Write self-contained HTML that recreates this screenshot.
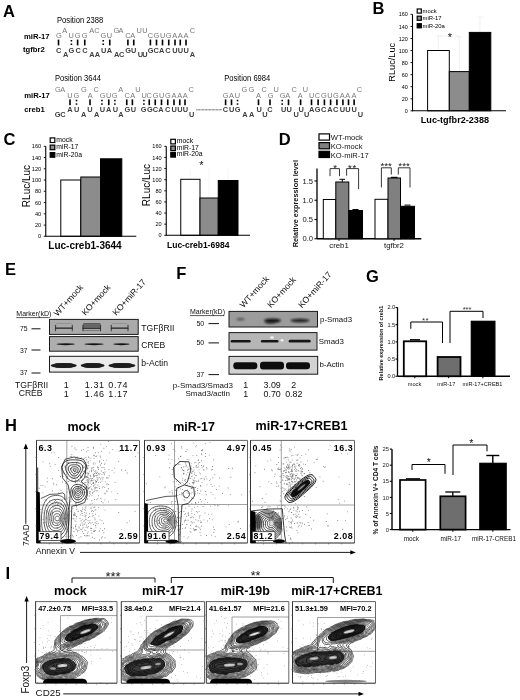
<!DOCTYPE html>
<html><head><meta charset="utf-8"><title>Figure</title>
<style>html,body{margin:0;padding:0;background:#fff;}svg{display:block;}
text{font-family:"Liberation Sans",Arial,Helvetica,sans-serif;}</style></head>
<body><svg width="520" height="700" viewBox="0 0 520 700">
<rect width="520" height="700" fill="#fff"/>
<defs><filter id="b05" x="-50%" y="-50%" width="200%" height="200%"><feGaussianBlur stdDeviation="0.5"/></filter>
<filter id="b03" x="-10%" y="-10%" width="120%" height="120%"><feGaussianBlur stdDeviation="0.3"/></filter>
<filter id="b1" x="-50%" y="-50%" width="200%" height="200%"><feGaussianBlur stdDeviation="1"/></filter></defs>
<text x="3" y="16.6" font-size="16.5" font-weight="bold">A</text>
<text x="57" y="22.5" font-size="8.6" textLength="46.2" lengthAdjust="spacingAndGlyphs">Position 2388</text>
<text x="24" y="38.6" font-size="7.7" font-weight="bold">miR-17</text>
<text x="23" y="52.2" font-size="7.7" font-weight="bold">tgfbr2</text>
<text x="55" y="80.6" font-size="8.6" textLength="46" lengthAdjust="spacingAndGlyphs">Position 3644</text>
<text x="224.3" y="80.6" font-size="8.6" textLength="46" lengthAdjust="spacingAndGlyphs">Position 6984</text>
<text x="24.2" y="98.4" font-size="7.7" font-weight="bold">miR-17</text>
<text x="24.2" y="111.8" font-size="7.7" font-weight="bold">creb1</text>
<text x="56.1" y="38.4" font-size="7.4" fill="#777">G</text>
<text x="62.3" y="33" font-size="7.4" fill="#777">A</text>
<text x="68.6" y="38.4" font-size="7.4" fill="#777">U</text>
<text x="74.8" y="38.4" font-size="7.4" fill="#777">G</text>
<text x="81.7" y="38.4" font-size="7.4" fill="#777">G</text>
<text x="89.2" y="33" font-size="7.4" fill="#777">A</text>
<text x="94.2" y="33" font-size="7.4" fill="#777">C</text>
<text x="100.45" y="38.4" font-size="7.4" fill="#777">G</text>
<text x="106.7" y="38.4" font-size="7.4" fill="#777">U</text>
<text x="113.45" y="33" font-size="7.4" fill="#777">G</text>
<text x="118.45" y="33" font-size="7.4" fill="#777">A</text>
<text x="125.3" y="38.4" font-size="7.4" fill="#777">C</text>
<text x="130.3" y="38.4" font-size="7.4" fill="#777">A</text>
<text x="136.6" y="33" font-size="7.4" fill="#777">U</text>
<text x="142.2" y="33" font-size="7.4" fill="#777">U</text>
<text x="147.8" y="38.4" font-size="7.4" fill="#777">C</text>
<text x="153.45" y="38.4" font-size="7.4" fill="#777">G</text>
<text x="160" y="38.4" font-size="7.4" fill="#777">U</text>
<text x="165.7" y="38.4" font-size="7.4" fill="#777">G</text>
<text x="172.2" y="38.4" font-size="7.4" fill="#777">A</text>
<text x="177.7" y="38.4" font-size="7.4" fill="#777">A</text>
<text x="183.45" y="38.4" font-size="7.4" fill="#777">A</text>
<text x="189.7" y="33" font-size="7.4" fill="#777">C</text>
<text x="56.1" y="52.6" font-size="7.4" font-weight="bold" fill="#404040">C</text>
<text x="62.95" y="57" font-size="7.4" font-weight="bold" fill="#404040">A</text>
<text x="68.6" y="52.6" font-size="7.4" font-weight="bold" fill="#404040">G</text>
<text x="75.45" y="52.6" font-size="7.4" font-weight="bold" fill="#404040">C</text>
<text x="82.3" y="52.6" font-size="7.4" font-weight="bold" fill="#404040">C</text>
<text x="89.2" y="57" font-size="7.4" font-weight="bold" fill="#404040">A</text>
<text x="94.7" y="57" font-size="7.4" font-weight="bold" fill="#404040">A</text>
<text x="101.1" y="52.6" font-size="7.4" font-weight="bold" fill="#404040">U</text>
<text x="106.7" y="52.6" font-size="7.4" font-weight="bold" fill="#404040">A</text>
<text x="114.1" y="57" font-size="7.4" font-weight="bold" fill="#404040">A</text>
<text x="119.1" y="57" font-size="7.4" font-weight="bold" fill="#404040">C</text>
<text x="125.3" y="52.6" font-size="7.4" font-weight="bold" fill="#404040">G</text>
<text x="130.95" y="52.6" font-size="7.4" font-weight="bold" fill="#404040">U</text>
<text x="137.7" y="57" font-size="7.4" font-weight="bold" fill="#404040">U</text>
<text x="142.2" y="57" font-size="7.4" font-weight="bold" fill="#404040">U</text>
<text x="147.7" y="52.6" font-size="7.4" font-weight="bold" fill="#404040">G</text>
<text x="153.45" y="52.6" font-size="7.4" font-weight="bold" fill="#404040">C</text>
<text x="159.1" y="52.6" font-size="7.4" font-weight="bold" fill="#404040">A</text>
<text x="165.3" y="52.6" font-size="7.4" font-weight="bold" fill="#404040">C</text>
<text x="172.2" y="52.6" font-size="7.4" font-weight="bold" fill="#404040">U</text>
<text x="177.7" y="52.6" font-size="7.4" font-weight="bold" fill="#404040">U</text>
<text x="183.45" y="52.6" font-size="7.4" font-weight="bold" fill="#404040">U</text>
<text x="189.7" y="57" font-size="7.4" font-weight="bold" fill="#404040">A</text>
<rect x="57.7" y="39.6" width="1.6" height="5.8" fill="#000" stroke="none" stroke-width="1"/>
<rect x="70.6" y="40" width="1.6" height="1.5" fill="#000" stroke="none" stroke-width="1"/>
<rect x="70.6" y="43.5" width="1.6" height="1.5" fill="#000" stroke="none" stroke-width="1"/>
<rect x="76.8" y="39.6" width="1.6" height="5.8" fill="#000" stroke="none" stroke-width="1"/>
<rect x="83.95" y="39.6" width="1.6" height="5.8" fill="#000" stroke="none" stroke-width="1"/>
<rect x="102.45" y="40" width="1.6" height="1.5" fill="#000" stroke="none" stroke-width="1"/>
<rect x="102.45" y="43.5" width="1.6" height="1.5" fill="#000" stroke="none" stroke-width="1"/>
<rect x="108.95" y="39.6" width="1.6" height="5.8" fill="#000" stroke="none" stroke-width="1"/>
<rect x="127.1" y="39.6" width="1.6" height="5.8" fill="#000" stroke="none" stroke-width="1"/>
<rect x="132.95" y="39.6" width="1.6" height="5.8" fill="#000" stroke="none" stroke-width="1"/>
<rect x="149.6" y="39.6" width="1.6" height="5.8" fill="#000" stroke="none" stroke-width="1"/>
<rect x="155.7" y="39.6" width="1.6" height="5.8" fill="#000" stroke="none" stroke-width="1"/>
<rect x="161.7" y="39.6" width="1.6" height="5.8" fill="#000" stroke="none" stroke-width="1"/>
<rect x="167.95" y="39.6" width="1.6" height="5.8" fill="#000" stroke="none" stroke-width="1"/>
<rect x="174.2" y="39.6" width="1.6" height="5.8" fill="#000" stroke="none" stroke-width="1"/>
<rect x="179.45" y="39.6" width="1.6" height="5.8" fill="#000" stroke="none" stroke-width="1"/>
<rect x="185.2" y="39.6" width="1.6" height="5.8" fill="#000" stroke="none" stroke-width="1"/>
<text x="54.95" y="92.2" font-size="7.4" fill="#7a7a7a">G</text>
<text x="60.3" y="92.2" font-size="7.4" fill="#7a7a7a">A</text>
<text x="67.2" y="97.6" font-size="7.4" fill="#7a7a7a">U</text>
<text x="73.45" y="97.6" font-size="7.4" fill="#7a7a7a">G</text>
<text x="80.95" y="92.2" font-size="7.4" fill="#7a7a7a">G</text>
<text x="87.7" y="97.6" font-size="7.4" fill="#7a7a7a">A</text>
<text x="93.45" y="92.2" font-size="7.4" fill="#7a7a7a">C</text>
<text x="99.7" y="97.6" font-size="7.4" fill="#7a7a7a">G</text>
<text x="105.95" y="97.6" font-size="7.4" fill="#7a7a7a">U</text>
<text x="111.7" y="97.6" font-size="7.4" fill="#7a7a7a">G</text>
<text x="118.3" y="92.2" font-size="7.4" fill="#7a7a7a">A</text>
<text x="124.6" y="97.6" font-size="7.4" fill="#7a7a7a">C</text>
<text x="130.2" y="97.6" font-size="7.4" fill="#7a7a7a">A</text>
<text x="135.2" y="92.2" font-size="7.4" fill="#7a7a7a">U</text>
<text x="141.45" y="97.6" font-size="7.4" fill="#7a7a7a">U</text>
<text x="146.45" y="97.6" font-size="7.4" fill="#7a7a7a">C</text>
<text x="152.7" y="97.6" font-size="7.4" fill="#7a7a7a">G</text>
<text x="158.95" y="97.6" font-size="7.4" fill="#7a7a7a">U</text>
<text x="164.9" y="97.6" font-size="7.4" fill="#7a7a7a">G</text>
<text x="171.6" y="97.6" font-size="7.4" fill="#7a7a7a">A</text>
<text x="177.2" y="97.6" font-size="7.4" fill="#7a7a7a">A</text>
<text x="182.8" y="97.6" font-size="7.4" fill="#7a7a7a">A</text>
<text x="188.45" y="92.2" font-size="7.4" fill="#7a7a7a">C</text>
<text x="54.7" y="117.4" font-size="7.4" font-weight="bold" fill="#404040">G</text>
<text x="60.3" y="117.4" font-size="7.4" font-weight="bold" fill="#404040">C</text>
<text x="67.2" y="112" font-size="7.4" font-weight="bold" fill="#404040">A</text>
<text x="74.1" y="112" font-size="7.4" font-weight="bold" fill="#404040">U</text>
<text x="80.95" y="117.4" font-size="7.4" font-weight="bold" fill="#404040">A</text>
<text x="87.2" y="112" font-size="7.4" font-weight="bold" fill="#404040">U</text>
<text x="94.1" y="117.4" font-size="7.4" font-weight="bold" fill="#404040">A</text>
<text x="99.7" y="112" font-size="7.4" font-weight="bold" fill="#404040">U</text>
<text x="105.95" y="112" font-size="7.4" font-weight="bold" fill="#404040">A</text>
<text x="112.7" y="112" font-size="7.4" font-weight="bold" fill="#404040">U</text>
<text x="118.3" y="117.4" font-size="7.4" font-weight="bold" fill="#404040">A</text>
<text x="124.6" y="112" font-size="7.4" font-weight="bold" fill="#404040">G</text>
<text x="130.7" y="112" font-size="7.4" font-weight="bold" fill="#404040">U</text>
<text x="140.7" y="112" font-size="7.4" font-weight="bold" fill="#404040">G</text>
<text x="147.1" y="112" font-size="7.4" font-weight="bold" fill="#404040">G</text>
<text x="152.7" y="112" font-size="7.4" font-weight="bold" fill="#404040">C</text>
<text x="158.3" y="112" font-size="7.4" font-weight="bold" fill="#404040">A</text>
<text x="164.9" y="112" font-size="7.4" font-weight="bold" fill="#404040">C</text>
<text x="171.6" y="112" font-size="7.4" font-weight="bold" fill="#404040">U</text>
<text x="177.2" y="112" font-size="7.4" font-weight="bold" fill="#404040">U</text>
<text x="182.8" y="112" font-size="7.4" font-weight="bold" fill="#404040">U</text>
<text x="189.1" y="117.4" font-size="7.4" font-weight="bold" fill="#404040">U</text>
<rect x="69.2" y="99.4" width="1.6" height="5.8" fill="#000" stroke="none" stroke-width="1"/>
<rect x="75.7" y="99.8" width="1.6" height="1.5" fill="#000" stroke="none" stroke-width="1"/>
<rect x="75.7" y="103.3" width="1.6" height="1.5" fill="#000" stroke="none" stroke-width="1"/>
<rect x="89.2" y="99.4" width="1.6" height="5.8" fill="#000" stroke="none" stroke-width="1"/>
<rect x="101.1" y="99.8" width="1.6" height="1.5" fill="#000" stroke="none" stroke-width="1"/>
<rect x="101.1" y="103.3" width="1.6" height="1.5" fill="#000" stroke="none" stroke-width="1"/>
<rect x="107.95" y="99.4" width="1.6" height="5.8" fill="#000" stroke="none" stroke-width="1"/>
<rect x="114.1" y="99.8" width="1.6" height="1.5" fill="#000" stroke="none" stroke-width="1"/>
<rect x="114.1" y="103.3" width="1.6" height="1.5" fill="#000" stroke="none" stroke-width="1"/>
<rect x="125.95" y="99.4" width="1.6" height="5.8" fill="#000" stroke="none" stroke-width="1"/>
<rect x="131.6" y="99.4" width="1.6" height="5.8" fill="#000" stroke="none" stroke-width="1"/>
<rect x="143.1" y="99.8" width="1.6" height="1.5" fill="#000" stroke="none" stroke-width="1"/>
<rect x="143.1" y="103.3" width="1.6" height="1.5" fill="#000" stroke="none" stroke-width="1"/>
<rect x="148.45" y="99.4" width="1.6" height="5.8" fill="#000" stroke="none" stroke-width="1"/>
<rect x="154.45" y="99.4" width="1.6" height="5.8" fill="#000" stroke="none" stroke-width="1"/>
<rect x="160.7" y="99.4" width="1.6" height="5.8" fill="#000" stroke="none" stroke-width="1"/>
<rect x="166.95" y="99.4" width="1.6" height="5.8" fill="#000" stroke="none" stroke-width="1"/>
<rect x="173.2" y="99.4" width="1.6" height="5.8" fill="#000" stroke="none" stroke-width="1"/>
<rect x="178.95" y="99.4" width="1.6" height="5.8" fill="#000" stroke="none" stroke-width="1"/>
<rect x="184.2" y="99.4" width="1.6" height="5.8" fill="#000" stroke="none" stroke-width="1"/>
<text x="222.8" y="97.6" font-size="7.4" fill="#7a7a7a">G</text>
<text x="229.1" y="97.6" font-size="7.4" fill="#7a7a7a">A</text>
<text x="234.7" y="97.6" font-size="7.4" fill="#7a7a7a">U</text>
<text x="241.6" y="92.2" font-size="7.4" fill="#7a7a7a">G</text>
<text x="248.45" y="92.2" font-size="7.4" fill="#7a7a7a">G</text>
<text x="255.95" y="97.6" font-size="7.4" fill="#7a7a7a">A</text>
<text x="261.6" y="92.2" font-size="7.4" fill="#7a7a7a">C</text>
<text x="267.8" y="97.6" font-size="7.4" fill="#7a7a7a">G</text>
<text x="273.45" y="92.2" font-size="7.4" fill="#7a7a7a">U</text>
<text x="279.7" y="97.6" font-size="7.4" fill="#7a7a7a">G</text>
<text x="285.3" y="97.6" font-size="7.4" fill="#7a7a7a">A</text>
<text x="291.6" y="92.2" font-size="7.4" fill="#7a7a7a">C</text>
<text x="297.8" y="97.6" font-size="7.4" fill="#7a7a7a">A</text>
<text x="302.8" y="92.2" font-size="7.4" fill="#7a7a7a">U</text>
<text x="309.1" y="97.6" font-size="7.4" fill="#7a7a7a">U</text>
<text x="314.7" y="97.6" font-size="7.4" fill="#7a7a7a">C</text>
<text x="320.95" y="97.6" font-size="7.4" fill="#7a7a7a">G</text>
<text x="327.2" y="97.6" font-size="7.4" fill="#7a7a7a">U</text>
<text x="333.1" y="97.6" font-size="7.4" fill="#7a7a7a">G</text>
<text x="339.7" y="97.6" font-size="7.4" fill="#7a7a7a">A</text>
<text x="345.3" y="97.6" font-size="7.4" fill="#7a7a7a">A</text>
<text x="351.6" y="97.6" font-size="7.4" fill="#7a7a7a">A</text>
<text x="356.7" y="92.2" font-size="7.4" fill="#7a7a7a">C</text>
<text x="222.8" y="112" font-size="7.4" font-weight="bold" fill="#404040">C</text>
<text x="229.1" y="112" font-size="7.4" font-weight="bold" fill="#404040">U</text>
<text x="234.7" y="112" font-size="7.4" font-weight="bold" fill="#404040">G</text>
<text x="242.2" y="117.4" font-size="7.4" font-weight="bold" fill="#404040">A</text>
<text x="249.1" y="117.4" font-size="7.4" font-weight="bold" fill="#404040">A</text>
<text x="256.6" y="112" font-size="7.4" font-weight="bold" fill="#404040">U</text>
<text x="262.2" y="117.4" font-size="7.4" font-weight="bold" fill="#404040">U</text>
<text x="267.2" y="112" font-size="7.4" font-weight="bold" fill="#404040">C</text>
<text x="280.95" y="112" font-size="7.4" font-weight="bold" fill="#404040">U</text>
<text x="286.6" y="112" font-size="7.4" font-weight="bold" fill="#404040">U</text>
<text x="293.45" y="117.4" font-size="7.4" font-weight="bold" fill="#404040">U</text>
<text x="298.45" y="112" font-size="7.4" font-weight="bold" fill="#404040">U</text>
<text x="304.1" y="117.4" font-size="7.4" font-weight="bold" fill="#404040">U</text>
<text x="309.1" y="112" font-size="7.4" font-weight="bold" fill="#404040">A</text>
<text x="314.7" y="112" font-size="7.4" font-weight="bold" fill="#404040">G</text>
<text x="320.95" y="112" font-size="7.4" font-weight="bold" fill="#404040">C</text>
<text x="327.2" y="112" font-size="7.4" font-weight="bold" fill="#404040">A</text>
<text x="333.1" y="112" font-size="7.4" font-weight="bold" fill="#404040">C</text>
<text x="339.7" y="112" font-size="7.4" font-weight="bold" fill="#404040">U</text>
<text x="345.3" y="112" font-size="7.4" font-weight="bold" fill="#404040">U</text>
<text x="351.6" y="112" font-size="7.4" font-weight="bold" fill="#404040">U</text>
<text x="357.8" y="117.4" font-size="7.4" font-weight="bold" fill="#404040">U</text>
<rect x="224.8" y="99.4" width="1.6" height="5.8" fill="#000" stroke="none" stroke-width="1"/>
<rect x="230.7" y="99.4" width="1.6" height="5.8" fill="#000" stroke="none" stroke-width="1"/>
<rect x="236.7" y="99.8" width="1.6" height="1.5" fill="#000" stroke="none" stroke-width="1"/>
<rect x="236.7" y="103.3" width="1.6" height="1.5" fill="#000" stroke="none" stroke-width="1"/>
<rect x="257.7" y="99.4" width="1.6" height="5.8" fill="#000" stroke="none" stroke-width="1"/>
<rect x="269.2" y="99.4" width="1.6" height="5.8" fill="#000" stroke="none" stroke-width="1"/>
<rect x="281.4" y="99.8" width="1.6" height="1.5" fill="#000" stroke="none" stroke-width="1"/>
<rect x="281.4" y="103.3" width="1.6" height="1.5" fill="#000" stroke="none" stroke-width="1"/>
<rect x="287.7" y="99.4" width="1.6" height="5.8" fill="#000" stroke="none" stroke-width="1"/>
<rect x="299.8" y="99.4" width="1.6" height="5.8" fill="#000" stroke="none" stroke-width="1"/>
<rect x="310.7" y="99.4" width="1.6" height="5.8" fill="#000" stroke="none" stroke-width="1"/>
<rect x="317.3" y="99.4" width="1.6" height="5.8" fill="#000" stroke="none" stroke-width="1"/>
<rect x="323.6" y="99.4" width="1.6" height="5.8" fill="#000" stroke="none" stroke-width="1"/>
<rect x="329.8" y="99.4" width="1.6" height="5.8" fill="#000" stroke="none" stroke-width="1"/>
<rect x="336.1" y="99.4" width="1.6" height="5.8" fill="#000" stroke="none" stroke-width="1"/>
<rect x="342.1" y="99.4" width="1.6" height="5.8" fill="#000" stroke="none" stroke-width="1"/>
<rect x="347.7" y="99.4" width="1.6" height="5.8" fill="#000" stroke="none" stroke-width="1"/>
<rect x="353.3" y="99.4" width="1.6" height="5.8" fill="#000" stroke="none" stroke-width="1"/>
<line x1="196.3" y1="109.8" x2="222" y2="109.8" stroke="#555" stroke-width="1" stroke-dasharray="1 0.4"/>
<text x="372.5" y="13.8" font-size="16.5" font-weight="bold">B</text>
<line x1="438.4" y1="36" x2="438.4" y2="58" stroke="#e6e6e6" stroke-width="0.6"/>
<line x1="435.4" y1="36" x2="441.4" y2="36" stroke="#e6e6e6" stroke-width="0.6"/>
<line x1="459.3" y1="37" x2="459.3" y2="71" stroke="#e6e6e6" stroke-width="0.6"/>
<line x1="456.3" y1="37" x2="462.3" y2="37" stroke="#e6e6e6" stroke-width="0.6"/>
<line x1="480" y1="17" x2="480" y2="33" stroke="#e6e6e6" stroke-width="0.6"/>
<line x1="477" y1="17" x2="483" y2="17" stroke="#e6e6e6" stroke-width="0.6"/>
<line x1="438.4" y1="36" x2="459.3" y2="36" stroke="#e6e6e6" stroke-width="0.6"/>
<rect x="427.6" y="50.5" width="21.7" height="60.3" fill="#fff" stroke="#000" stroke-width="1"/>
<rect x="449.3" y="71.6" width="20" height="39.2" fill="#8c8c8c" stroke="#000" stroke-width="1"/>
<rect x="469.3" y="32.4" width="21.5" height="78.4" fill="#000" stroke="#000" stroke-width="1"/>
<line x1="412.5" y1="14.3" x2="412.5" y2="111.35" stroke="#000" stroke-width="1.1"/>
<line x1="410.5" y1="110.8" x2="412.5" y2="110.8" stroke="#000" stroke-width="0.88"/>
<text x="407.9" y="112.89" font-size="5.5" text-anchor="end">0</text>
<line x1="410.5" y1="98.75" x2="412.5" y2="98.75" stroke="#000" stroke-width="0.88"/>
<text x="407.9" y="100.84" font-size="5.5" text-anchor="end">20</text>
<line x1="410.5" y1="86.7" x2="412.5" y2="86.7" stroke="#000" stroke-width="0.88"/>
<text x="407.9" y="88.79" font-size="5.5" text-anchor="end">40</text>
<line x1="410.5" y1="74.65" x2="412.5" y2="74.65" stroke="#000" stroke-width="0.88"/>
<text x="407.9" y="76.74" font-size="5.5" text-anchor="end">60</text>
<line x1="410.5" y1="62.6" x2="412.5" y2="62.6" stroke="#000" stroke-width="0.88"/>
<text x="407.9" y="64.69" font-size="5.5" text-anchor="end">80</text>
<line x1="410.5" y1="50.55" x2="412.5" y2="50.55" stroke="#000" stroke-width="0.88"/>
<text x="407.9" y="52.64" font-size="5.5" text-anchor="end">100</text>
<line x1="410.5" y1="38.5" x2="412.5" y2="38.5" stroke="#000" stroke-width="0.88"/>
<text x="407.9" y="40.59" font-size="5.5" text-anchor="end">120</text>
<line x1="410.5" y1="26.45" x2="412.5" y2="26.45" stroke="#000" stroke-width="0.88"/>
<text x="407.9" y="28.54" font-size="5.5" text-anchor="end">140</text>
<line x1="410.5" y1="14.4" x2="412.5" y2="14.4" stroke="#000" stroke-width="0.88"/>
<text x="407.9" y="16.49" font-size="5.5" text-anchor="end">160</text>
<line x1="412.5" y1="110.8" x2="506" y2="110.8" stroke="#000" stroke-width="1.1"/>
<rect x="417.2" y="9" width="4.1" height="4.1" fill="#fff" stroke="#000" stroke-width="1.2"/>
<text x="422.6" y="12.8" font-size="5.9">mock</text>
<rect x="417.2" y="16.2" width="4.1" height="4.1" fill="#8c8c8c" stroke="#000" stroke-width="1.2"/>
<text x="422.6" y="20" font-size="5.9">miR-17</text>
<rect x="417.2" y="23.7" width="4.1" height="4.1" fill="#000" stroke="#000" stroke-width="1.2"/>
<text x="422.6" y="27.5" font-size="5.9">miR-20a</text>
<text x="450" y="40.85" font-size="11" fill="#111" text-anchor="middle">*</text>
<text transform="translate(395.4,62.3) rotate(-90)" font-size="9.2" fill="#000" text-anchor="middle">RLuc/Luc</text>
<text x="420.8" y="122.5" font-size="9.1" font-weight="bold">Luc-tgfbr2-2388</text>
<text x="3.5" y="145" font-size="16.5" font-weight="bold">C</text>
<rect x="60.8" y="180" width="20" height="56.3" fill="#fff" stroke="#000" stroke-width="1"/>
<rect x="80.8" y="177" width="19.7" height="59.3" fill="#8c8c8c" stroke="#000" stroke-width="1"/>
<rect x="100.5" y="158.8" width="21.3" height="77.5" fill="#000" stroke="#000" stroke-width="1"/>
<line x1="45.75" y1="146.2" x2="45.75" y2="236.85" stroke="#000" stroke-width="1.1"/>
<line x1="43.75" y1="236.3" x2="45.75" y2="236.3" stroke="#000" stroke-width="0.88"/>
<text x="41.15" y="238.43" font-size="5.6" text-anchor="end">0</text>
<line x1="43.75" y1="225.05" x2="45.75" y2="225.05" stroke="#000" stroke-width="0.88"/>
<text x="41.15" y="227.18" font-size="5.6" text-anchor="end">20</text>
<line x1="43.75" y1="213.8" x2="45.75" y2="213.8" stroke="#000" stroke-width="0.88"/>
<text x="41.15" y="215.93" font-size="5.6" text-anchor="end">40</text>
<line x1="43.75" y1="202.55" x2="45.75" y2="202.55" stroke="#000" stroke-width="0.88"/>
<text x="41.15" y="204.68" font-size="5.6" text-anchor="end">60</text>
<line x1="43.75" y1="191.3" x2="45.75" y2="191.3" stroke="#000" stroke-width="0.88"/>
<text x="41.15" y="193.43" font-size="5.6" text-anchor="end">80</text>
<line x1="43.75" y1="180.05" x2="45.75" y2="180.05" stroke="#000" stroke-width="0.88"/>
<text x="41.15" y="182.18" font-size="5.6" text-anchor="end">100</text>
<line x1="43.75" y1="168.8" x2="45.75" y2="168.8" stroke="#000" stroke-width="0.88"/>
<text x="41.15" y="170.93" font-size="5.6" text-anchor="end">120</text>
<line x1="43.75" y1="157.55" x2="45.75" y2="157.55" stroke="#000" stroke-width="0.88"/>
<text x="41.15" y="159.68" font-size="5.6" text-anchor="end">140</text>
<line x1="43.75" y1="146.3" x2="45.75" y2="146.3" stroke="#000" stroke-width="0.88"/>
<text x="41.15" y="148.43" font-size="5.6" text-anchor="end">160</text>
<line x1="45.75" y1="236.3" x2="136.3" y2="236.3" stroke="#000" stroke-width="1.1"/>
<rect x="50.2" y="137.9" width="4.6" height="4.6" fill="#fff" stroke="#000" stroke-width="1.2"/>
<text x="56.3" y="141.8" font-size="6.8">mock</text>
<rect x="50.2" y="145.1" width="4.6" height="4.6" fill="#8c8c8c" stroke="#000" stroke-width="1.2"/>
<text x="56.3" y="149" font-size="6.8">miR-17</text>
<rect x="50.2" y="152.6" width="4.6" height="4.6" fill="#000" stroke="#000" stroke-width="1.2"/>
<text x="56.3" y="156.5" font-size="6.8">miR-20a</text>
<text transform="translate(29.6,186) rotate(-90)" font-size="10" fill="#000" text-anchor="middle">RLuc/Luc</text>
<text x="48.3" y="249.3" font-size="10" font-weight="bold">Luc-creb1-3644</text>
<line x1="190.3" y1="170" x2="190.3" y2="180" stroke="#efefef" stroke-width="0.6"/>
<line x1="209" y1="168" x2="209" y2="198" stroke="#efefef" stroke-width="0.6"/>
<line x1="228" y1="168" x2="228" y2="181" stroke="#efefef" stroke-width="0.6"/>
<rect x="180.75" y="179.3" width="19.25" height="56" fill="#fff" stroke="#000" stroke-width="1"/>
<rect x="200" y="198" width="18.25" height="37.3" fill="#8c8c8c" stroke="#000" stroke-width="1"/>
<rect x="218.25" y="180.5" width="19.75" height="54.8" fill="#000" stroke="#000" stroke-width="1"/>
<line x1="166.25" y1="146.2" x2="166.25" y2="235.85" stroke="#000" stroke-width="1.1"/>
<line x1="164.25" y1="235.3" x2="166.25" y2="235.3" stroke="#000" stroke-width="0.88"/>
<text x="161.65" y="237.43" font-size="5.6" text-anchor="end">0</text>
<line x1="164.25" y1="224.18" x2="166.25" y2="224.18" stroke="#000" stroke-width="0.88"/>
<text x="161.65" y="226.3" font-size="5.6" text-anchor="end">20</text>
<line x1="164.25" y1="213.05" x2="166.25" y2="213.05" stroke="#000" stroke-width="0.88"/>
<text x="161.65" y="215.18" font-size="5.6" text-anchor="end">40</text>
<line x1="164.25" y1="201.93" x2="166.25" y2="201.93" stroke="#000" stroke-width="0.88"/>
<text x="161.65" y="204.05" font-size="5.6" text-anchor="end">60</text>
<line x1="164.25" y1="190.8" x2="166.25" y2="190.8" stroke="#000" stroke-width="0.88"/>
<text x="161.65" y="192.93" font-size="5.6" text-anchor="end">80</text>
<line x1="164.25" y1="179.68" x2="166.25" y2="179.68" stroke="#000" stroke-width="0.88"/>
<text x="161.65" y="181.8" font-size="5.6" text-anchor="end">100</text>
<line x1="164.25" y1="168.55" x2="166.25" y2="168.55" stroke="#000" stroke-width="0.88"/>
<text x="161.65" y="170.68" font-size="5.6" text-anchor="end">120</text>
<line x1="164.25" y1="157.43" x2="166.25" y2="157.43" stroke="#000" stroke-width="0.88"/>
<text x="161.65" y="159.55" font-size="5.6" text-anchor="end">140</text>
<line x1="164.25" y1="146.3" x2="166.25" y2="146.3" stroke="#000" stroke-width="0.88"/>
<text x="161.65" y="148.43" font-size="5.6" text-anchor="end">160</text>
<line x1="166.25" y1="235.3" x2="250" y2="235.3" stroke="#000" stroke-width="1.1"/>
<rect x="170.8" y="139.3" width="4.6" height="4.6" fill="#fff" stroke="#000" stroke-width="1.2"/>
<text x="176.8" y="143.2" font-size="6.8">mock</text>
<rect x="170.8" y="146" width="4.6" height="4.6" fill="#8c8c8c" stroke="#000" stroke-width="1.2"/>
<text x="176.8" y="149.9" font-size="6.8">miR-17</text>
<rect x="170.8" y="152.5" width="4.6" height="4.6" fill="#000" stroke="#000" stroke-width="1.2"/>
<text x="176.8" y="156.4" font-size="6.8">miR-20a</text>
<text x="201.4" y="169.15" font-size="11" fill="#111" text-anchor="middle">*</text>
<text transform="translate(149.6,185) rotate(-90)" font-size="10" fill="#000" text-anchor="middle">RLuc/Luc</text>
<text x="167" y="247.5" font-size="8.5" font-weight="bold">Luc-creb1-6984</text>
<text x="278.7" y="145" font-size="16.5" font-weight="bold">D</text>
<rect x="319" y="133.9" width="10.5" height="6.2" fill="#fff" stroke="#000" stroke-width="1.2"/>
<text x="330.8" y="140.1" font-size="7.6" fill="#111">WT-mock</text>
<rect x="319" y="142.6" width="10.5" height="6.2" fill="#808080" stroke="#000" stroke-width="1.2"/>
<text x="330.8" y="148.8" font-size="7.6" fill="#111">KO-mock</text>
<rect x="319" y="151.3" width="10.5" height="6.2" fill="#000" stroke="#000" stroke-width="1.2"/>
<text x="330.8" y="157.8" font-size="7.6" fill="#111">KO-miR-17</text>
<line x1="317" y1="168.5" x2="317" y2="238.75" stroke="#000" stroke-width="1.3"/>
<line x1="314.5" y1="238.75" x2="317" y2="238.75" stroke="#000" stroke-width="1.1"/>
<text x="313" y="241.45" font-size="7.6" fill="#111" text-anchor="end">0.0</text>
<line x1="314.5" y1="219.5" x2="317" y2="219.5" stroke="#000" stroke-width="1.1"/>
<text x="313" y="222.2" font-size="7.6" fill="#111" text-anchor="end">0.5</text>
<line x1="314.5" y1="200.25" x2="317" y2="200.25" stroke="#000" stroke-width="1.1"/>
<text x="313" y="202.95" font-size="7.6" fill="#111" text-anchor="end">1.0</text>
<line x1="314.5" y1="181" x2="317" y2="181" stroke="#000" stroke-width="1.1"/>
<text x="313" y="183.7" font-size="7.6" fill="#111" text-anchor="end">1.5</text>
<line x1="317" y1="238.75" x2="421.3" y2="238.75" stroke="#000" stroke-width="1.3"/>
<line x1="339" y1="238.75" x2="339" y2="240.95" stroke="#000" stroke-width="1"/>
<line x1="394" y1="238.75" x2="394" y2="240.95" stroke="#000" stroke-width="1"/>
<rect x="323.3" y="199.5" width="12.5" height="39.25" fill="#fff" stroke="#000" stroke-width="1"/>
<line x1="342.3" y1="179.3" x2="342.3" y2="182" stroke="#000" stroke-width="1"/>
<line x1="339.5" y1="179.3" x2="345" y2="179.3" stroke="#000" stroke-width="1"/>
<rect x="335.8" y="182" width="13" height="56.75" fill="#808080" stroke="#000" stroke-width="1"/>
<rect x="348.8" y="210.5" width="13.7" height="28.25" fill="#000" stroke="#000" stroke-width="1"/>
<line x1="352.5" y1="209.5" x2="358.5" y2="209.5" stroke="#000" stroke-width="1"/>
<rect x="375" y="199.3" width="13" height="39.45" fill="#fff" stroke="#000" stroke-width="1"/>
<rect x="388" y="178" width="12.5" height="60.75" fill="#808080" stroke="#000" stroke-width="1"/>
<line x1="391" y1="177.4" x2="397.5" y2="177.4" stroke="#000" stroke-width="1.2"/>
<rect x="400.5" y="206.3" width="14" height="32.45" fill="#000" stroke="#000" stroke-width="1"/>
<line x1="404.5" y1="205.1" x2="410.5" y2="205.1" stroke="#000" stroke-width="1"/>
<polyline points="330,176.1 330,168.6 339.5,168.6 339.5,176.1" fill="none" stroke="#222" stroke-width="0.9"/>
<polyline points="346.6,175.7 346.6,168.6 358.6,168.6 358.6,189.1" fill="none" stroke="#222" stroke-width="0.9"/>
<polyline points="381.4,187.5 381.4,167.8 391.3,167.8 391.3,174.5" fill="none" stroke="#222" stroke-width="0.9"/>
<polyline points="398.3,174.5 398.3,167.8 410,167.8 410,187.5" fill="none" stroke="#222" stroke-width="0.9"/>
<text x="335.2" y="171.03" font-size="9.5" fill="#111" text-anchor="middle">*</text>
<text x="352.5" y="171.03" font-size="9.5" fill="#111" text-anchor="middle" letter-spacing="0.8">**</text>
<text x="386.2" y="168.79" font-size="9.8" fill="#111" text-anchor="middle">***</text>
<text x="404.1" y="168.79" font-size="9.8" fill="#111" text-anchor="middle">***</text>
<text x="339" y="247.8" font-size="7.8" fill="#111" text-anchor="middle">creb1</text>
<text x="394" y="247.8" font-size="7.8" fill="#111" text-anchor="middle">tgfbr2</text>
<text transform="translate(297.6,203.7) rotate(-90)" font-size="7.35" font-weight="bold" fill="#111" text-anchor="middle">Relative expression level</text>
<text x="5" y="275" font-size="16.5" font-weight="bold">E</text>
<text x="16.3" y="315.8" font-size="7" fill="#111">Marker(kD)</text>
<line x1="16.3" y1="317.6" x2="48.8" y2="317.6" stroke="#111" stroke-width="0.7"/>
<text transform="translate(57.5,316.8) rotate(-48)" font-size="8.6" fill="#111" text-anchor="start">WT+mock</text>
<text transform="translate(85.5,316) rotate(-48)" font-size="8.6" fill="#111" text-anchor="start">KO+mock</text>
<text transform="translate(116.3,316) rotate(-48)" font-size="8.6" fill="#111" text-anchor="start">KO+miR-17</text>
<rect x="49.5" y="319.4" width="88.7" height="15" fill="#aaaaaa" stroke="#1a1a1a" stroke-width="1"/>
<rect x="55" y="327.4" width="17.8" height="1.4" rx="0.5" fill="#111" opacity="0.9" filter="url(#b03)"/>
<rect x="55.89" y="323.2" width="16.02" height="0.8" rx="0.5" fill="#444" opacity="0.315" filter="url(#b03)"/>
<rect x="54.95" y="324.75" width="1.1" height="6.5" rx="0.5" fill="#222" opacity="0.7200000000000001" filter="url(#b03)"/>
<rect x="71.75" y="324.75" width="1.1" height="6.5" rx="0.5" fill="#222" opacity="0.7200000000000001" filter="url(#b03)"/>
<rect x="82.5" y="327.4" width="18.5" height="1.4" rx="0.5" fill="#111" opacity="1.0" filter="url(#b03)"/>
<rect x="83.42" y="323.2" width="16.65" height="0.8" rx="0.5" fill="#444" opacity="0.35" filter="url(#b03)"/>
<rect x="82.45" y="324.75" width="1.1" height="6.5" rx="0.5" fill="#222" opacity="0.8" filter="url(#b03)"/>
<rect x="99.95" y="324.75" width="1.1" height="6.5" rx="0.5" fill="#222" opacity="0.8" filter="url(#b03)"/>
<rect x="110.8" y="327.4" width="17.7" height="1.4" rx="0.5" fill="#111" opacity="0.9" filter="url(#b03)"/>
<rect x="111.69" y="323.2" width="15.93" height="0.8" rx="0.5" fill="#444" opacity="0.315" filter="url(#b03)"/>
<rect x="110.75" y="324.75" width="1.1" height="6.5" rx="0.5" fill="#222" opacity="0.7200000000000001" filter="url(#b03)"/>
<rect x="127.45" y="324.75" width="1.1" height="6.5" rx="0.5" fill="#222" opacity="0.7200000000000001" filter="url(#b03)"/>
<rect x="83.05" y="322.9" width="17.5" height="4" rx="0.5" fill="#333" opacity="0.55" filter="url(#b05)"/>
<rect x="83.8" y="329.9" width="16" height="1" rx="0.5" fill="#333" opacity="0.4" filter="url(#b05)"/>
<rect x="49.5" y="336.6" width="88.7" height="14.6" fill="#aeaeae" stroke="#1a1a1a" stroke-width="1"/>
<ellipse cx="65.65" cy="344.2" rx="9.15" ry="0.95" fill="#111" opacity="0.95" filter="url(#b03)"/>
<ellipse cx="94.05" cy="344.2" rx="9.65" ry="0.95" fill="#111" opacity="0.95" filter="url(#b03)"/>
<ellipse cx="121.45" cy="344.2" rx="8.15" ry="0.95" fill="#111" opacity="0.95" filter="url(#b03)"/>
<rect x="49.5" y="356.3" width="88.7" height="15.8" fill="#ececec" stroke="#1a1a1a" stroke-width="1"/>
<ellipse cx="63.75" cy="365.4" rx="12.95" ry="2.5" fill="#1c1c1c" opacity="1" filter="url(#b03)"/>
<rect x="54.43" y="363.3" width="18.65" height="4.4" rx="2.2" fill="#1c1c1c" opacity="1" filter="url(#b05)"/>
<ellipse cx="92.6" cy="365.4" rx="12" ry="2.5" fill="#1c1c1c" opacity="1" filter="url(#b03)"/>
<rect x="83.96" y="363.3" width="17.28" height="4.4" rx="2.2" fill="#1c1c1c" opacity="1" filter="url(#b05)"/>
<ellipse cx="121.95" cy="365.4" rx="13.45" ry="2.5" fill="#1c1c1c" opacity="1" filter="url(#b03)"/>
<rect x="112.27" y="363.3" width="19.37" height="4.4" rx="2.2" fill="#1c1c1c" opacity="1" filter="url(#b05)"/>
<text x="141.3" y="331.3" font-size="8.6" fill="#111">TGFβRII</text>
<text x="141.3" y="348" font-size="8.6" fill="#111">CREB</text>
<text x="141.3" y="365.6" font-size="8.6" fill="#111">b-Actin</text>
<text x="20" y="331.3" font-size="6.8" fill="#111">75</text>
<line x1="31.5" y1="328.8" x2="40.5" y2="328.8" stroke="#111" stroke-width="1"/>
<text x="20" y="352.6" font-size="6.8" fill="#111">37</text>
<line x1="31.5" y1="350" x2="40.5" y2="350" stroke="#111" stroke-width="1"/>
<text x="20" y="374.6" font-size="6.8" fill="#111">37</text>
<line x1="31.5" y1="373" x2="40.5" y2="373" stroke="#111" stroke-width="1"/>
<text x="15" y="387.6" font-size="8.6" fill="#111">TGFβRII</text>
<text x="18.7" y="396.3" font-size="8.6" fill="#111">CREB</text>
<text x="63.8" y="387.7" font-size="9" fill="#111" letter-spacing="0.6">1</text>
<text x="84.7" y="387.7" font-size="9" fill="#111" letter-spacing="0.6">1.31</text>
<text x="108.3" y="387.7" font-size="9" fill="#111" letter-spacing="0.6">0.74</text>
<text x="63.8" y="396.7" font-size="9" fill="#111" letter-spacing="0.6">1</text>
<text x="84.7" y="396.7" font-size="9" fill="#111" letter-spacing="0.6">1.46</text>
<text x="108.3" y="396.7" font-size="9" fill="#111" letter-spacing="0.6">1.17</text>
<text x="176.2" y="279.3" font-size="16.5" font-weight="bold">F</text>
<text x="190" y="313.6" font-size="7" fill="#111">Marker(kD)</text>
<line x1="190" y1="315.6" x2="224.3" y2="315.6" stroke="#111" stroke-width="0.7"/>
<text transform="translate(243.5,308.3) rotate(-48)" font-size="8.6" fill="#111" text-anchor="start">WT+mock</text>
<text transform="translate(271,308.3) rotate(-48)" font-size="8.6" fill="#111" text-anchor="start">KO+mock</text>
<text transform="translate(302,308.5) rotate(-48)" font-size="8.6" fill="#111" text-anchor="start">KO+miR-17</text>
<text x="196.4" y="326.4" font-size="7" fill="#111">50</text>
<line x1="208.5" y1="323.6" x2="219" y2="323.6" stroke="#111" stroke-width="1"/>
<text x="196.4" y="345.4" font-size="7" fill="#111">50</text>
<line x1="208.5" y1="342.9" x2="219" y2="342.9" stroke="#111" stroke-width="1"/>
<text x="196.4" y="377" font-size="7" fill="#111">37</text>
<line x1="208.5" y1="374.6" x2="219" y2="374.6" stroke="#111" stroke-width="1"/>
<rect x="229" y="311.4" width="88.5" height="15.6" fill="#9c9c9c" stroke="#1a1a1a" stroke-width="1"/>
<ellipse cx="240.5" cy="319.2" rx="4" ry="1.2" fill="#222" opacity="0.6" filter="url(#b1)"/>
<ellipse cx="272.5" cy="320.6" rx="8.5" ry="2.2" fill="#111" opacity="0.95" filter="url(#b1)"/>
<ellipse cx="270" cy="322.5" rx="5" ry="1.2" fill="#111" opacity="0.6" filter="url(#b1)"/>
<ellipse cx="300" cy="320.5" rx="9.5" ry="1.7" fill="#111" opacity="0.9" filter="url(#b1)"/>
<rect x="229" y="332.6" width="88" height="17.5" fill="#b6b6b6" stroke="#1a1a1a" stroke-width="1"/>
<rect x="230.7" y="339.9" width="20" height="2.6" rx="1.3" fill="#111" opacity="0.95" filter="url(#b05)"/>
<rect x="260.95" y="339.9" width="17.5" height="2.6" rx="1.3" fill="#111" opacity="0.95" filter="url(#b05)"/>
<rect x="288.7" y="339.8" width="22" height="2.8" rx="1.4" fill="#111" opacity="0.95" filter="url(#b05)"/>
<ellipse cx="272" cy="337.5" rx="2" ry="1.2" fill="#fff" opacity="0.8" filter="url(#b05)"/>
<ellipse cx="282" cy="340.2" rx="1.5" ry="1.2" fill="#fff" opacity="0.8" filter="url(#b05)"/>
<rect x="229" y="356.4" width="88.7" height="17.8" fill="#d2d2d2" stroke="#1a1a1a" stroke-width="1"/>
<rect x="233.3" y="362.3" width="24" height="7" rx="3" fill="#111" opacity="1" filter="url(#b05)"/>
<rect x="260" y="361.8" width="24" height="7.6" rx="3" fill="#111" opacity="1" filter="url(#b05)"/>
<rect x="286" y="362.3" width="24" height="7" rx="3" fill="#111" opacity="1" filter="url(#b05)"/>
<text x="320" y="321.9" font-size="7.9" fill="#111">p-Smad3</text>
<text x="318.8" y="343.8" font-size="7.9" fill="#111">Smad3</text>
<text x="319.4" y="366.9" font-size="7.9" fill="#111">b-Actin</text>
<text x="232.9" y="387.9" font-size="8" fill="#111" text-anchor="end">p-Smad3/Smad3</text>
<text x="230" y="396.4" font-size="8" fill="#111" text-anchor="end">Smad3/actin</text>
<text x="243.3" y="388" font-size="8.9" fill="#111">1</text>
<text x="263.5" y="388" font-size="8.9" fill="#111">3.09</text>
<text x="291.3" y="388" font-size="8.9" fill="#111">2</text>
<text x="243.3" y="396.6" font-size="8.9" fill="#111">1</text>
<text x="263.5" y="396.6" font-size="8.9" fill="#111">0.70</text>
<text x="285.2" y="396.6" font-size="8.9" fill="#111">0.82</text>
<text x="366" y="281.8" font-size="16.5" font-weight="bold">G</text>
<line x1="397.5" y1="307.3" x2="397.5" y2="376.25" stroke="#000" stroke-width="1.3"/>
<line x1="395.5" y1="376.25" x2="397.5" y2="376.25" stroke="#000" stroke-width="1.1"/>
<text x="395.2" y="378.25" font-size="5.6" fill="#111" text-anchor="end">0.0</text>
<line x1="395.5" y1="359.06" x2="397.5" y2="359.06" stroke="#000" stroke-width="1.1"/>
<text x="395.2" y="361.06" font-size="5.6" fill="#111" text-anchor="end">0.5</text>
<line x1="395.5" y1="341.87" x2="397.5" y2="341.87" stroke="#000" stroke-width="1.1"/>
<text x="395.2" y="343.87" font-size="5.6" fill="#111" text-anchor="end">1.0</text>
<line x1="395.5" y1="324.68" x2="397.5" y2="324.68" stroke="#000" stroke-width="1.1"/>
<text x="395.2" y="326.68" font-size="5.6" fill="#111" text-anchor="end">1.5</text>
<line x1="395.5" y1="307.49" x2="397.5" y2="307.49" stroke="#000" stroke-width="1.1"/>
<text x="395.2" y="309.49" font-size="5.6" fill="#111" text-anchor="end">2.0</text>
<line x1="397.5" y1="376.25" x2="510" y2="376.25" stroke="#000" stroke-width="1.3"/>
<line x1="414.8" y1="376.25" x2="414.8" y2="378.25" stroke="#000" stroke-width="1"/>
<line x1="448.7" y1="376.25" x2="448.7" y2="378.25" stroke="#000" stroke-width="1"/>
<line x1="482.9" y1="376.25" x2="482.9" y2="378.25" stroke="#000" stroke-width="1"/>
<rect x="403.8" y="341.3" width="22.4" height="34.95" fill="#fff" stroke="#000" stroke-width="1.8"/>
<line x1="410" y1="339.8" x2="420" y2="339.8" stroke="#000" stroke-width="1.4"/>
<rect x="437.6" y="357" width="22.9" height="19.25" fill="#6e6e6e" stroke="#000" stroke-width="1.8"/>
<rect x="471.3" y="321.3" width="23.6" height="54.95" fill="#000" stroke="#000" stroke-width="1.2"/>
<polyline points="410.8,328.8 410.8,322 442.5,322 442.5,343" fill="none" stroke="#000" stroke-width="1"/>
<polyline points="450,343 450,311.3 483,311.3 483,318" fill="none" stroke="#000" stroke-width="1"/>
<text x="425.6" y="322.8" font-size="8" fill="#333" text-anchor="middle" letter-spacing="0.6">**</text>
<text x="467.1" y="311.98" font-size="7.6" fill="#333" text-anchor="middle">***</text>
<text x="414.5" y="385.8" font-size="5.6" fill="#111" text-anchor="middle">mock</text>
<text x="446.3" y="385.8" font-size="5.6" fill="#111" text-anchor="middle">miR-17</text>
<text x="482.5" y="385.8" font-size="5.6" fill="#111" text-anchor="middle">miR-17+CREB1</text>
<text transform="translate(383,343.1) rotate(-90)" font-size="5.5" font-weight="bold" fill="#111" text-anchor="middle">Relative expression of creb1</text>
<text x="5" y="430.5" font-size="16.5" font-weight="bold">H</text>
<text x="83.8" y="431.3" font-size="12.5" font-weight="bold" text-anchor="middle">mock</text>
<text x="194" y="430.8" font-size="12.5" font-weight="bold" text-anchor="middle">miR-17</text>
<text x="301.5" y="430.3" font-size="12.6" font-weight="bold" text-anchor="middle">miR-17+CREB1</text>
<line x1="25.8" y1="446" x2="25.8" y2="523.8" stroke="#000" stroke-width="0.9"/>
<path d="M25.8,443.5 L23.6,449 L28,449Z" fill="#000"/>
<text transform="translate(28.9,535.2) rotate(-90)" font-size="8.3" fill="#111" text-anchor="middle">7AAD</text>
<text x="35.8" y="553.8" font-size="8.6" fill="#111">Annexin V</text>
<line x1="80" y1="552.4" x2="352" y2="552.4" stroke="#000" stroke-width="0.9"/>
<path d="M355.8,552.4 L350.3,550.2 L350.3,554.6Z" fill="#000"/>
<path d="M69.9 455.9h0.85v0.85h-0.85zM103.5 447.8h0.85v0.85h-0.85zM91.7 477.9h0.85v0.85h-0.85zM42.5 492.5h0.85v0.85h-0.85zM40.4 484.9h0.85v0.85h-0.85zM43.7 449.7h0.85v0.85h-0.85zM80.2 525.2h0.85v0.85h-0.85zM49.3 463.3h0.85v0.85h-0.85zM101.1 537.6h0.85v0.85h-0.85zM95.9 481.1h0.85v0.85h-0.85zM137.1 445.2h0.85v0.85h-0.85zM124.9 470.1h0.85v0.85h-0.85zM51.4 452.5h0.85v0.85h-0.85zM68.3 524.1h0.85v0.85h-0.85zM55.1 500.1h0.85v0.85h-0.85zM102.3 478.6h0.85v0.85h-0.85zM92.9 446.8h0.85v0.85h-0.85zM42.6 461.5h0.85v0.85h-0.85zM106.6 484.3h0.85v0.85h-0.85zM68.9 500.5h0.85v0.85h-0.85zM83.2 471.2h0.85v0.85h-0.85zM118.3 512.1h0.85v0.85h-0.85zM61.6 499.3h0.85v0.85h-0.85zM90.6 530.2h0.85v0.85h-0.85zM111.6 469.9h0.85v0.85h-0.85zM137.5 452.5h0.85v0.85h-0.85zM79.6 518.1h0.85v0.85h-0.85zM52.2 490.6h0.85v0.85h-0.85zM40.5 509.0h0.85v0.85h-0.85zM115.3 499.2h0.85v0.85h-0.85zM126.7 472.6h0.85v0.85h-0.85zM108.1 501.4h0.85v0.85h-0.85zM96.2 487.2h0.85v0.85h-0.85zM123.0 537.3h0.85v0.85h-0.85zM85.3 508.5h0.85v0.85h-0.85zM42.7 512.4h0.85v0.85h-0.85zM121.2 469.6h0.85v0.85h-0.85zM76.2 509.0h0.85v0.85h-0.85zM38.8 487.8h0.85v0.85h-0.85zM53.8 452.4h0.85v0.85h-0.85zM42.6 519.2h0.85v0.85h-0.85zM49.8 465.8h0.85v0.85h-0.85zM76.8 529.8h0.85v0.85h-0.85zM44.8 486.5h0.85v0.85h-0.85zM93.1 531.0h0.85v0.85h-0.85zM120.9 529.0h0.85v0.85h-0.85zM65.2 483.0h0.85v0.85h-0.85zM73.5 531.1h0.85v0.85h-0.85zM135.1 455.9h0.85v0.85h-0.85zM54.7 464.2h0.85v0.85h-0.85zM60.5 490.2h0.85v0.85h-0.85zM97.2 467.4h0.85v0.85h-0.85zM74.5 498.5h0.85v0.85h-0.85zM134.7 511.2h0.85v0.85h-0.85zM89.6 503.8h0.85v0.85h-0.85zM106.1 445.9h0.85v0.85h-0.85zM129.2 520.4h0.85v0.85h-0.85zM126.6 522.3h0.85v0.85h-0.85zM76.9 481.3h0.85v0.85h-0.85zM47.2 505.5h0.85v0.85h-0.85zM42.9 447.3h0.85v0.85h-0.85zM58.0 457.1h0.85v0.85h-0.85zM71.5 445.8h0.85v0.85h-0.85zM47.0 477.7h0.85v0.85h-0.85zM39.1 530.1h0.85v0.85h-0.85zM99.7 455.6h0.85v0.85h-0.85zM62.5 476.0h0.85v0.85h-0.85zM84.3 482.4h0.85v0.85h-0.85zM108.2 441.1h0.85v0.85h-0.85zM75.6 480.4h0.85v0.85h-0.85zM92.4 480.3h0.85v0.85h-0.85zM83.3 486.2h0.85v0.85h-0.85zM91.1 469.7h0.85v0.85h-0.85zM114.7 482.0h0.85v0.85h-0.85zM81.9 475.6h0.85v0.85h-0.85zM85.5 476.1h0.85v0.85h-0.85zM58.0 470.2h0.85v0.85h-0.85zM99.1 460.6h0.85v0.85h-0.85zM87.3 490.3h0.85v0.85h-0.85zM97.4 497.9h0.85v0.85h-0.85zM69.3 472.1h0.85v0.85h-0.85zM84.2 485.7h0.85v0.85h-0.85zM100.0 456.7h0.85v0.85h-0.85zM95.5 456.1h0.85v0.85h-0.85zM89.9 493.7h0.85v0.85h-0.85zM86.4 479.7h0.85v0.85h-0.85zM96.8 479.0h0.85v0.85h-0.85zM87.0 498.5h0.85v0.85h-0.85zM99.5 472.9h0.85v0.85h-0.85zM118.2 460.9h0.85v0.85h-0.85zM98.1 473.3h0.85v0.85h-0.85zM89.5 486.9h0.85v0.85h-0.85zM90.4 485.9h0.85v0.85h-0.85zM71.2 455.9h0.85v0.85h-0.85zM94.8 463.5h0.85v0.85h-0.85zM76.7 456.4h0.85v0.85h-0.85zM101.9 487.5h0.85v0.85h-0.85zM104.2 463.9h0.85v0.85h-0.85zM88.0 461.0h0.85v0.85h-0.85zM96.4 499.3h0.85v0.85h-0.85zM78.2 498.8h0.85v0.85h-0.85zM98.9 474.5h0.85v0.85h-0.85zM66.3 496.7h0.85v0.85h-0.85zM86.9 468.6h0.85v0.85h-0.85zM92.4 482.7h0.85v0.85h-0.85zM104.5 462.7h0.85v0.85h-0.85zM100.5 497.8h0.85v0.85h-0.85zM104.0 474.5h0.85v0.85h-0.85zM79.8 491.3h0.85v0.85h-0.85zM89.3 478.7h0.85v0.85h-0.85zM103.7 473.3h0.85v0.85h-0.85zM62.7 471.6h0.85v0.85h-0.85zM67.6 488.5h0.85v0.85h-0.85zM91.5 468.4h0.85v0.85h-0.85zM87.9 488.7h0.85v0.85h-0.85zM88.9 495.6h0.85v0.85h-0.85zM87.3 491.6h0.85v0.85h-0.85zM104.4 499.5h0.85v0.85h-0.85zM80.6 489.3h0.85v0.85h-0.85zM67.4 461.8h0.85v0.85h-0.85zM66.4 492.0h0.85v0.85h-0.85zM74.4 476.8h0.85v0.85h-0.85zM85.9 476.6h0.85v0.85h-0.85zM81.5 480.3h0.85v0.85h-0.85zM107.7 477.6h0.85v0.85h-0.85zM93.8 491.0h0.85v0.85h-0.85zM85.8 459.4h0.85v0.85h-0.85zM81.9 492.0h0.85v0.85h-0.85zM69.9 468.6h0.85v0.85h-0.85zM99.1 488.1h0.85v0.85h-0.85zM88.1 488.3h0.85v0.85h-0.85zM89.8 460.5h0.85v0.85h-0.85zM70.8 468.1h0.85v0.85h-0.85zM98.2 469.1h0.85v0.85h-0.85zM78.1 466.2h0.85v0.85h-0.85zM71.2 475.4h0.85v0.85h-0.85zM75.0 482.1h0.85v0.85h-0.85zM62.0 481.6h0.85v0.85h-0.85zM80.9 449.8h0.85v0.85h-0.85zM96.0 473.1h0.85v0.85h-0.85zM63.5 464.7h0.85v0.85h-0.85zM91.2 470.6h0.85v0.85h-0.85zM96.6 487.5h0.85v0.85h-0.85zM95.3 481.6h0.85v0.85h-0.85zM102.7 486.2h0.85v0.85h-0.85zM93.0 447.8h0.85v0.85h-0.85zM97.9 495.3h0.85v0.85h-0.85zM84.7 470.4h0.85v0.85h-0.85zM109.3 452.4h0.85v0.85h-0.85zM93.2 510.9h0.85v0.85h-0.85zM77.8 486.7h0.85v0.85h-0.85zM108.8 475.3h0.85v0.85h-0.85zM94.2 489.6h0.85v0.85h-0.85zM78.0 475.8h0.85v0.85h-0.85zM91.2 488.6h0.85v0.85h-0.85zM87.6 474.3h0.85v0.85h-0.85zM76.8 472.0h0.85v0.85h-0.85zM97.8 478.4h0.85v0.85h-0.85zM78.6 465.2h0.85v0.85h-0.85zM117.3 493.0h0.85v0.85h-0.85zM94.8 483.7h0.85v0.85h-0.85zM106.5 483.0h0.85v0.85h-0.85zM87.3 484.3h0.85v0.85h-0.85zM66.6 491.5h0.85v0.85h-0.85zM91.6 467.2h0.85v0.85h-0.85zM102.6 502.3h0.85v0.85h-0.85zM72.6 467.7h0.85v0.85h-0.85zM91.2 479.6h0.85v0.85h-0.85zM83.6 463.4h0.85v0.85h-0.85zM111.3 491.5h0.85v0.85h-0.85zM74.9 458.2h0.85v0.85h-0.85zM106.7 490.8h0.85v0.85h-0.85zM108.0 488.3h0.85v0.85h-0.85zM78.4 480.6h0.85v0.85h-0.85zM64.2 466.5h0.85v0.85h-0.85zM87.4 484.3h0.85v0.85h-0.85zM80.0 475.3h0.85v0.85h-0.85zM93.0 482.3h0.85v0.85h-0.85zM95.0 479.9h0.85v0.85h-0.85zM84.4 488.0h0.85v0.85h-0.85zM88.5 465.4h0.85v0.85h-0.85zM81.1 477.0h0.85v0.85h-0.85zM86.8 479.2h0.85v0.85h-0.85zM88.0 479.5h0.85v0.85h-0.85zM86.5 459.4h0.85v0.85h-0.85zM92.6 491.8h0.85v0.85h-0.85zM92.8 474.4h0.85v0.85h-0.85zM92.9 463.5h0.85v0.85h-0.85zM67.1 477.8h0.85v0.85h-0.85zM77.8 487.4h0.85v0.85h-0.85zM76.6 499.1h0.85v0.85h-0.85zM83.8 457.8h0.85v0.85h-0.85zM79.6 484.3h0.85v0.85h-0.85zM93.5 479.5h0.85v0.85h-0.85zM104.3 486.9h0.85v0.85h-0.85zM87.8 485.4h0.85v0.85h-0.85zM106.2 490.6h0.85v0.85h-0.85zM99.3 461.8h0.85v0.85h-0.85zM86.4 487.2h0.85v0.85h-0.85zM84.7 492.0h0.85v0.85h-0.85zM94.6 489.7h0.85v0.85h-0.85zM85.7 512.6h0.85v0.85h-0.85zM101.6 474.0h0.85v0.85h-0.85zM89.0 513.3h0.85v0.85h-0.85zM84.2 489.2h0.85v0.85h-0.85zM98.8 477.1h0.85v0.85h-0.85zM75.2 479.6h0.85v0.85h-0.85zM92.0 492.8h0.85v0.85h-0.85zM96.6 477.3h0.85v0.85h-0.85zM97.4 484.6h0.85v0.85h-0.85zM90.3 477.8h0.85v0.85h-0.85zM85.3 486.6h0.85v0.85h-0.85zM76.4 468.2h0.85v0.85h-0.85zM88.1 456.5h0.85v0.85h-0.85zM83.2 448.9h0.85v0.85h-0.85zM80.5 485.0h0.85v0.85h-0.85zM94.2 476.2h0.85v0.85h-0.85zM85.4 457.2h0.85v0.85h-0.85zM108.1 484.2h0.85v0.85h-0.85zM100.0 464.6h0.85v0.85h-0.85zM86.0 451.5h0.85v0.85h-0.85zM96.6 490.1h0.85v0.85h-0.85zM67.1 476.3h0.85v0.85h-0.85zM94.9 452.3h0.85v0.85h-0.85zM67.9 462.1h0.85v0.85h-0.85zM81.1 457.4h0.85v0.85h-0.85zM88.3 480.5h0.85v0.85h-0.85zM95.0 486.8h0.85v0.85h-0.85zM104.5 493.3h0.85v0.85h-0.85zM73.6 469.9h0.85v0.85h-0.85zM76.3 461.9h0.85v0.85h-0.85zM87.1 477.1h0.85v0.85h-0.85zM93.4 454.8h0.85v0.85h-0.85zM74.4 476.7h0.85v0.85h-0.85zM85.8 472.6h0.85v0.85h-0.85zM87.3 466.4h0.85v0.85h-0.85zM95.7 482.0h0.85v0.85h-0.85zM87.0 467.6h0.85v0.85h-0.85zM77.2 477.5h0.85v0.85h-0.85zM71.5 479.8h0.85v0.85h-0.85zM89.6 457.7h0.85v0.85h-0.85zM85.2 472.6h0.85v0.85h-0.85zM93.1 485.6h0.85v0.85h-0.85zM87.6 465.1h0.85v0.85h-0.85zM86.4 476.1h0.85v0.85h-0.85zM96.1 481.1h0.85v0.85h-0.85zM80.1 458.0h0.85v0.85h-0.85zM83.9 466.6h0.85v0.85h-0.85zM75.8 475.4h0.85v0.85h-0.85zM82.6 478.5h0.85v0.85h-0.85zM93.8 471.2h0.85v0.85h-0.85zM113.6 472.5h0.85v0.85h-0.85zM100.1 478.7h0.85v0.85h-0.85zM100.3 443.7h0.85v0.85h-0.85zM79.7 480.5h0.85v0.85h-0.85zM94.6 509.7h0.85v0.85h-0.85zM91.5 494.9h0.85v0.85h-0.85zM96.4 490.3h0.85v0.85h-0.85zM93.6 474.8h0.85v0.85h-0.85zM93.6 461.9h0.85v0.85h-0.85zM101.0 462.8h0.85v0.85h-0.85zM90.7 506.7h0.85v0.85h-0.85zM85.5 477.3h0.85v0.85h-0.85zM100.8 477.4h0.85v0.85h-0.85zM79.1 480.6h0.85v0.85h-0.85zM94.4 486.9h0.85v0.85h-0.85zM79.5 501.5h0.85v0.85h-0.85zM106.3 477.3h0.85v0.85h-0.85zM91.0 471.0h0.85v0.85h-0.85zM103.6 467.1h0.85v0.85h-0.85zM95.4 470.3h0.85v0.85h-0.85zM80.4 487.1h0.85v0.85h-0.85zM102.7 476.9h0.85v0.85h-0.85zM80.5 488.4h0.85v0.85h-0.85zM87.5 481.3h0.85v0.85h-0.85zM104.8 492.8h0.85v0.85h-0.85zM82.3 509.0h0.85v0.85h-0.85zM88.0 488.0h0.85v0.85h-0.85zM80.9 476.4h0.85v0.85h-0.85zM68.8 502.0h0.85v0.85h-0.85zM103.0 460.0h0.85v0.85h-0.85zM71.4 454.3h0.85v0.85h-0.85zM100.9 470.6h0.85v0.85h-0.85zM87.3 472.6h0.85v0.85h-0.85zM86.7 461.8h0.85v0.85h-0.85zM88.3 456.9h0.85v0.85h-0.85zM87.2 481.3h0.85v0.85h-0.85zM93.1 473.8h0.85v0.85h-0.85zM78.1 479.2h0.85v0.85h-0.85zM82.7 498.9h0.85v0.85h-0.85zM96.4 475.4h0.85v0.85h-0.85zM82.8 467.2h0.85v0.85h-0.85zM77.7 472.1h0.85v0.85h-0.85zM91.2 484.2h0.85v0.85h-0.85zM94.3 506.4h0.85v0.85h-0.85zM80.2 477.2h0.85v0.85h-0.85zM118.7 450.9h0.85v0.85h-0.85zM82.3 479.4h0.85v0.85h-0.85zM89.7 482.7h0.85v0.85h-0.85zM85.4 482.1h0.85v0.85h-0.85zM88.6 487.8h0.85v0.85h-0.85zM67.2 464.6h0.85v0.85h-0.85zM88.0 462.6h0.85v0.85h-0.85zM76.5 485.8h0.85v0.85h-0.85zM80.9 485.9h0.85v0.85h-0.85zM96.2 481.3h0.85v0.85h-0.85zM93.6 475.5h0.85v0.85h-0.85zM72.5 476.6h0.85v0.85h-0.85zM93.0 469.6h0.85v0.85h-0.85zM86.9 487.5h0.85v0.85h-0.85zM78.3 486.0h0.85v0.85h-0.85zM108.5 469.2h0.85v0.85h-0.85zM89.6 474.9h0.85v0.85h-0.85zM104.9 481.4h0.85v0.85h-0.85zM97.9 467.3h0.85v0.85h-0.85zM87.8 476.9h0.85v0.85h-0.85zM68.5 497.2h0.85v0.85h-0.85zM97.9 452.5h0.85v0.85h-0.85zM96.2 475.2h0.85v0.85h-0.85zM92.9 482.1h0.85v0.85h-0.85zM71.5 474.0h0.85v0.85h-0.85zM104.4 469.0h0.85v0.85h-0.85zM76.7 458.0h0.85v0.85h-0.85zM74.6 481.7h0.85v0.85h-0.85zM106.6 483.0h0.85v0.85h-0.85zM90.7 508.3h0.85v0.85h-0.85zM82.3 467.6h0.85v0.85h-0.85zM93.8 484.7h0.85v0.85h-0.85zM76.8 460.6h0.85v0.85h-0.85zM91.2 480.5h0.85v0.85h-0.85zM73.6 474.2h0.85v0.85h-0.85zM82.0 483.4h0.85v0.85h-0.85zM86.7 475.8h0.85v0.85h-0.85zM84.1 491.7h0.85v0.85h-0.85zM103.3 471.9h0.85v0.85h-0.85zM97.3 466.4h0.85v0.85h-0.85zM88.8 487.5h0.85v0.85h-0.85zM104.7 471.6h0.85v0.85h-0.85zM87.2 479.7h0.85v0.85h-0.85zM71.5 477.2h0.85v0.85h-0.85zM80.6 482.2h0.85v0.85h-0.85zM75.6 449.3h0.85v0.85h-0.85zM88.4 480.6h0.85v0.85h-0.85zM82.0 489.4h0.85v0.85h-0.85zM85.0 468.5h0.85v0.85h-0.85zM93.3 455.0h0.85v0.85h-0.85zM80.5 476.7h0.85v0.85h-0.85zM97.3 474.7h0.85v0.85h-0.85zM91.4 467.8h0.85v0.85h-0.85zM91.3 500.3h0.85v0.85h-0.85zM80.4 510.1h0.85v0.85h-0.85zM80.9 477.2h0.85v0.85h-0.85zM89.9 491.3h0.85v0.85h-0.85zM74.4 447.6h0.85v0.85h-0.85zM94.7 488.1h0.85v0.85h-0.85zM94.9 513.8h0.85v0.85h-0.85zM90.3 480.6h0.85v0.85h-0.85zM98.2 482.2h0.85v0.85h-0.85zM106.3 459.7h0.85v0.85h-0.85zM96.9 471.8h0.85v0.85h-0.85zM98.2 507.2h0.85v0.85h-0.85zM87.9 473.4h0.85v0.85h-0.85zM82.5 465.3h0.85v0.85h-0.85zM81.1 485.9h0.85v0.85h-0.85zM88.4 477.9h0.85v0.85h-0.85zM86.1 489.8h0.85v0.85h-0.85zM93.4 475.0h0.85v0.85h-0.85zM95.3 474.9h0.85v0.85h-0.85zM75.3 497.4h0.85v0.85h-0.85zM93.1 463.6h0.85v0.85h-0.85zM99.9 481.8h0.85v0.85h-0.85zM70.8 499.5h0.85v0.85h-0.85zM91.7 489.5h0.85v0.85h-0.85zM90.2 474.9h0.85v0.85h-0.85zM71.0 490.6h0.85v0.85h-0.85zM88.3 473.0h0.85v0.85h-0.85zM91.9 478.1h0.85v0.85h-0.85zM95.4 471.8h0.85v0.85h-0.85zM87.6 447.1h0.85v0.85h-0.85zM83.3 486.5h0.85v0.85h-0.85zM102.7 471.9h0.85v0.85h-0.85zM86.7 499.2h0.85v0.85h-0.85zM84.4 487.3h0.85v0.85h-0.85zM106.5 477.6h0.85v0.85h-0.85zM101.5 467.1h0.85v0.85h-0.85zM90.3 475.9h0.85v0.85h-0.85zM89.3 492.8h0.85v0.85h-0.85zM114.3 467.7h0.85v0.85h-0.85zM81.7 484.0h0.85v0.85h-0.85zM76.4 484.0h0.85v0.85h-0.85zM94.3 473.1h0.85v0.85h-0.85zM93.8 455.3h0.85v0.85h-0.85zM96.4 455.4h0.85v0.85h-0.85zM80.3 469.2h0.85v0.85h-0.85zM83.6 489.0h0.85v0.85h-0.85zM88.9 471.4h0.85v0.85h-0.85zM94.0 499.1h0.85v0.85h-0.85zM88.1 482.1h0.85v0.85h-0.85zM101.6 480.7h0.85v0.85h-0.85zM73.9 511.9h0.85v0.85h-0.85zM112.3 449.2h0.85v0.85h-0.85zM87.6 482.8h0.85v0.85h-0.85zM98.6 486.4h0.85v0.85h-0.85zM85.0 462.2h0.85v0.85h-0.85zM89.1 491.5h0.85v0.85h-0.85zM76.0 462.6h0.85v0.85h-0.85zM87.7 449.9h0.85v0.85h-0.85zM85.1 470.9h0.85v0.85h-0.85zM93.0 467.2h0.85v0.85h-0.85zM78.3 471.5h0.85v0.85h-0.85zM87.5 467.7h0.85v0.85h-0.85zM88.1 487.5h0.85v0.85h-0.85zM101.0 500.9h0.85v0.85h-0.85zM79.4 471.1h0.85v0.85h-0.85zM60.7 503.6h0.85v0.85h-0.85zM80.0 476.5h0.85v0.85h-0.85zM93.7 458.0h0.85v0.85h-0.85zM93.1 476.6h0.85v0.85h-0.85zM67.9 481.1h0.85v0.85h-0.85zM101.1 450.9h0.85v0.85h-0.85zM96.9 479.9h0.85v0.85h-0.85zM93.2 483.2h0.85v0.85h-0.85zM66.7 508.4h0.85v0.85h-0.85zM62.9 505.4h0.85v0.85h-0.85zM61.6 499.0h0.85v0.85h-0.85zM54.0 539.7h0.85v0.85h-0.85zM59.0 509.5h0.85v0.85h-0.85zM44.7 499.4h0.85v0.85h-0.85zM56.7 527.0h0.85v0.85h-0.85zM58.8 520.4h0.85v0.85h-0.85zM54.6 533.6h0.85v0.85h-0.85zM51.5 503.2h0.85v0.85h-0.85zM63.0 513.0h0.85v0.85h-0.85zM52.5 502.8h0.85v0.85h-0.85zM52.7 522.0h0.85v0.85h-0.85zM58.2 492.6h0.85v0.85h-0.85zM58.8 514.9h0.85v0.85h-0.85zM46.0 524.4h0.85v0.85h-0.85zM52.5 506.6h0.85v0.85h-0.85zM62.2 533.1h0.85v0.85h-0.85zM48.8 519.0h0.85v0.85h-0.85zM50.6 531.1h0.85v0.85h-0.85zM49.2 525.0h0.85v0.85h-0.85zM75.0 471.3h0.85v0.85h-0.85zM51.1 520.0h0.85v0.85h-0.85zM54.2 501.3h0.85v0.85h-0.85zM74.4 513.3h0.85v0.85h-0.85zM40.2 525.7h0.85v0.85h-0.85zM39.5 530.4h0.85v0.85h-0.85zM49.8 514.3h0.85v0.85h-0.85zM66.3 513.9h0.85v0.85h-0.85zM42.5 484.9h0.85v0.85h-0.85zM65.6 523.8h0.85v0.85h-0.85zM47.7 525.8h0.85v0.85h-0.85zM59.5 522.4h0.85v0.85h-0.85zM63.1 523.7h0.85v0.85h-0.85zM62.9 472.7h0.85v0.85h-0.85zM56.5 519.9h0.85v0.85h-0.85zM78.0 496.7h0.85v0.85h-0.85zM52.0 512.6h0.85v0.85h-0.85zM63.0 504.9h0.85v0.85h-0.85zM65.3 499.4h0.85v0.85h-0.85zM57.4 503.6h0.85v0.85h-0.85zM56.4 500.9h0.85v0.85h-0.85zM40.6 529.5h0.85v0.85h-0.85zM57.7 503.1h0.85v0.85h-0.85zM56.8 527.8h0.85v0.85h-0.85zM46.2 510.2h0.85v0.85h-0.85zM59.9 520.4h0.85v0.85h-0.85zM52.0 478.3h0.85v0.85h-0.85zM66.2 517.3h0.85v0.85h-0.85zM55.1 507.5h0.85v0.85h-0.85zM57.4 505.2h0.85v0.85h-0.85zM45.8 500.2h0.85v0.85h-0.85zM49.6 502.2h0.85v0.85h-0.85zM44.6 522.2h0.85v0.85h-0.85zM43.2 522.6h0.85v0.85h-0.85zM45.9 517.6h0.85v0.85h-0.85zM67.4 515.3h0.85v0.85h-0.85zM48.4 512.8h0.85v0.85h-0.85zM56.3 484.3h0.85v0.85h-0.85zM49.5 514.6h0.85v0.85h-0.85zM50.8 513.3h0.85v0.85h-0.85zM61.6 524.3h0.85v0.85h-0.85zM63.2 521.4h0.85v0.85h-0.85zM52.4 511.7h0.85v0.85h-0.85zM52.6 507.0h0.85v0.85h-0.85zM53.4 484.4h0.85v0.85h-0.85zM52.0 511.6h0.85v0.85h-0.85zM46.2 511.6h0.85v0.85h-0.85zM59.6 509.4h0.85v0.85h-0.85zM73.7 470.3h0.85v0.85h-0.85zM53.1 482.8h0.85v0.85h-0.85zM59.7 507.2h0.85v0.85h-0.85zM60.0 476.1h0.85v0.85h-0.85zM62.7 518.0h0.85v0.85h-0.85zM55.2 502.6h0.85v0.85h-0.85zM60.7 504.2h0.85v0.85h-0.85zM57.0 503.8h0.85v0.85h-0.85zM56.8 524.1h0.85v0.85h-0.85zM47.1 511.5h0.85v0.85h-0.85zM60.6 514.3h0.85v0.85h-0.85zM46.8 481.3h0.85v0.85h-0.85zM62.7 536.5h0.85v0.85h-0.85zM63.3 525.0h0.85v0.85h-0.85zM49.4 500.6h0.85v0.85h-0.85zM91.8 512.9h0.85v0.85h-0.85zM62.1 512.0h0.85v0.85h-0.85zM109.4 541.2h0.85v0.85h-0.85zM74.4 514.7h0.85v0.85h-0.85zM84.5 514.5h0.85v0.85h-0.85zM96.4 521.2h0.85v0.85h-0.85zM70.1 535.1h0.85v0.85h-0.85zM75.6 524.2h0.85v0.85h-0.85zM81.9 518.9h0.85v0.85h-0.85zM85.6 515.1h0.85v0.85h-0.85zM61.7 499.9h0.85v0.85h-0.85zM68.1 514.4h0.85v0.85h-0.85zM81.7 522.6h0.85v0.85h-0.85zM88.1 523.2h0.85v0.85h-0.85zM73.3 514.9h0.85v0.85h-0.85zM58.7 520.3h0.85v0.85h-0.85zM87.3 527.3h0.85v0.85h-0.85zM80.7 520.3h0.85v0.85h-0.85zM92.3 522.2h0.85v0.85h-0.85zM90.1 527.8h0.85v0.85h-0.85zM84.3 535.1h0.85v0.85h-0.85zM75.7 518.4h0.85v0.85h-0.85zM73.1 514.0h0.85v0.85h-0.85zM99.1 539.6h0.85v0.85h-0.85zM82.3 527.7h0.85v0.85h-0.85zM94.9 530.1h0.85v0.85h-0.85zM95.3 509.4h0.85v0.85h-0.85zM75.0 526.5h0.85v0.85h-0.85zM97.8 523.0h0.85v0.85h-0.85zM72.6 518.5h0.85v0.85h-0.85zM74.7 513.4h0.85v0.85h-0.85zM98.5 515.7h0.85v0.85h-0.85zM95.0 525.4h0.85v0.85h-0.85zM75.3 526.1h0.85v0.85h-0.85zM99.8 528.2h0.85v0.85h-0.85zM95.9 523.0h0.85v0.85h-0.85zM87.7 520.0h0.85v0.85h-0.85zM86.7 535.0h0.85v0.85h-0.85zM66.3 521.4h0.85v0.85h-0.85zM84.6 516.3h0.85v0.85h-0.85zM78.6 529.9h0.85v0.85h-0.85zM104.0 528.3h0.85v0.85h-0.85zM85.6 506.5h0.85v0.85h-0.85zM103.2 522.8h0.85v0.85h-0.85zM81.6 510.8h0.85v0.85h-0.85zM81.4 511.0h0.85v0.85h-0.85zM82.8 526.7h0.85v0.85h-0.85zM82.3 524.8h0.85v0.85h-0.85zM72.6 536.3h0.85v0.85h-0.85zM74.8 503.8h0.85v0.85h-0.85zM79.9 514.4h0.85v0.85h-0.85zM70.9 518.5h0.85v0.85h-0.85zM85.2 510.2h0.85v0.85h-0.85zM80.5 536.3h0.85v0.85h-0.85zM89.5 520.5h0.85v0.85h-0.85zM83.4 520.8h0.85v0.85h-0.85zM81.5 529.3h0.85v0.85h-0.85zM81.0 498.0h0.85v0.85h-0.85zM81.8 513.1h0.85v0.85h-0.85zM89.2 515.9h0.85v0.85h-0.85zM70.5 510.8h0.85v0.85h-0.85zM66.5 498.1h0.85v0.85h-0.85zM61.3 525.6h0.85v0.85h-0.85zM75.0 503.3h0.85v0.85h-0.85zM65.7 528.2h0.85v0.85h-0.85zM73.5 518.3h0.85v0.85h-0.85zM85.6 535.6h0.85v0.85h-0.85zM103.4 532.3h0.85v0.85h-0.85zM83.6 523.8h0.85v0.85h-0.85zM101.8 536.3h0.85v0.85h-0.85zM78.6 526.6h0.85v0.85h-0.85zM85.2 522.5h0.85v0.85h-0.85zM76.5 508.7h0.85v0.85h-0.85zM76.1 506.6h0.85v0.85h-0.85zM95.5 527.4h0.85v0.85h-0.85zM68.7 536.0h0.85v0.85h-0.85zM91.8 502.9h0.85v0.85h-0.85zM102.3 530.1h0.85v0.85h-0.85zM104.7 509.7h0.85v0.85h-0.85zM87.8 526.2h0.85v0.85h-0.85zM84.2 523.7h0.85v0.85h-0.85zM93.6 507.1h0.85v0.85h-0.85zM68.3 508.1h0.85v0.85h-0.85zM75.9 515.9h0.85v0.85h-0.85zM86.0 524.7h0.85v0.85h-0.85zM82.3 515.2h0.85v0.85h-0.85zM77.1 531.5h0.85v0.85h-0.85zM90.4 523.0h0.85v0.85h-0.85zM78.5 537.5h0.85v0.85h-0.85zM75.5 528.5h0.85v0.85h-0.85zM94.7 519.3h0.85v0.85h-0.85zM91.1 510.8h0.85v0.85h-0.85zM93.1 524.0h0.85v0.85h-0.85zM64.5 528.7h0.85v0.85h-0.85zM72.2 534.8h0.85v0.85h-0.85zM74.5 520.4h0.85v0.85h-0.85zM85.1 518.7h0.85v0.85h-0.85zM84.9 516.5h0.85v0.85h-0.85zM89.4 522.1h0.85v0.85h-0.85zM84.3 494.5h0.85v0.85h-0.85zM94.8 522.3h0.85v0.85h-0.85zM62.4 523.0h0.85v0.85h-0.85zM87.1 532.7h0.85v0.85h-0.85zM70.1 537.5h0.85v0.85h-0.85zM80.4 528.8h0.85v0.85h-0.85zM78.0 510.8h0.85v0.85h-0.85zM94.1 531.1h0.85v0.85h-0.85zM98.9 530.6h0.85v0.85h-0.85zM75.7 505.4h0.85v0.85h-0.85zM74.8 515.2h0.85v0.85h-0.85zM73.0 527.8h0.85v0.85h-0.85zM85.6 519.3h0.85v0.85h-0.85zM83.9 520.5h0.85v0.85h-0.85zM84.3 529.5h0.85v0.85h-0.85zM92.6 515.1h0.85v0.85h-0.85zM65.4 536.3h0.85v0.85h-0.85zM83.3 533.1h0.85v0.85h-0.85zM63.9 518.7h0.85v0.85h-0.85zM82.3 507.6h0.85v0.85h-0.85zM76.3 529.2h0.85v0.85h-0.85zM93.9 537.9h0.85v0.85h-0.85zM72.5 508.0h0.85v0.85h-0.85zM87.7 531.4h0.85v0.85h-0.85zM84.1 509.0h0.85v0.85h-0.85zM90.6 529.9h0.85v0.85h-0.85zM88.1 517.1h0.85v0.85h-0.85zM85.3 529.9h0.85v0.85h-0.85zM75.9 503.6h0.85v0.85h-0.85zM85.6 526.8h0.85v0.85h-0.85zM82.1 530.9h0.85v0.85h-0.85zM75.5 521.2h0.85v0.85h-0.85zM78.6 527.7h0.85v0.85h-0.85zM99.6 519.5h0.85v0.85h-0.85zM104.6 537.3h0.85v0.85h-0.85zM90.7 527.9h0.85v0.85h-0.85zM101.5 520.2h0.85v0.85h-0.85zM80.8 511.4h0.85v0.85h-0.85zM87.2 535.4h0.85v0.85h-0.85zM87.9 526.2h0.85v0.85h-0.85zM79.8 523.7h0.85v0.85h-0.85zM66.3 532.5h0.85v0.85h-0.85zM77.5 511.0h0.85v0.85h-0.85zM73.7 513.8h0.85v0.85h-0.85zM91.4 532.6h0.85v0.85h-0.85zM67.1 531.3h0.85v0.85h-0.85zM91.8 516.2h0.85v0.85h-0.85zM65.6 514.5h0.85v0.85h-0.85zM75.0 525.4h0.85v0.85h-0.85zM78.1 501.7h0.85v0.85h-0.85zM84.6 506.7h0.85v0.85h-0.85zM92.0 509.9h0.85v0.85h-0.85zM74.4 513.5h0.85v0.85h-0.85zM76.0 535.0h0.85v0.85h-0.85zM91.4 528.0h0.85v0.85h-0.85zM85.5 506.5h0.85v0.85h-0.85zM76.3 516.5h0.85v0.85h-0.85zM71.2 527.1h0.85v0.85h-0.85zM73.8 514.9h0.85v0.85h-0.85zM70.5 501.4h0.85v0.85h-0.85zM88.5 535.3h0.85v0.85h-0.85zM83.9 512.2h0.85v0.85h-0.85zM52.2 523.7h0.85v0.85h-0.85zM95.4 525.0h0.85v0.85h-0.85zM92.2 536.8h0.85v0.85h-0.85zM94.4 517.6h0.85v0.85h-0.85zM93.6 529.8h0.85v0.85h-0.85zM65.1 517.9h0.85v0.85h-0.85z" fill="#7a7a7a" opacity="1"/>
<line x1="66.8" y1="440.4" x2="66.8" y2="543" stroke="#8a8a8a" stroke-width="0.8"/>
<line x1="36.5" y1="505" x2="139.5" y2="505" stroke="#8a8a8a" stroke-width="0.8"/>
<line x1="36.5" y1="440.4" x2="139.5" y2="440.4" stroke="#555" stroke-width="0.9"/>
<line x1="139.5" y1="440.4" x2="139.5" y2="543" stroke="#555" stroke-width="0.9"/>
<line x1="36.5" y1="440.1" x2="36.5" y2="543" stroke="#333" stroke-width="1"/>
<line x1="36.5" y1="543" x2="139.5" y2="543" stroke="#222" stroke-width="1"/>
<line x1="35.3" y1="457.5" x2="36.5" y2="457.5" stroke="#555" stroke-width="0.6"/>
<line x1="35.3" y1="474.6" x2="36.5" y2="474.6" stroke="#555" stroke-width="0.6"/>
<line x1="35.3" y1="491.7" x2="36.5" y2="491.7" stroke="#555" stroke-width="0.6"/>
<line x1="35.3" y1="508.8" x2="36.5" y2="508.8" stroke="#555" stroke-width="0.6"/>
<line x1="35.3" y1="525.9" x2="36.5" y2="525.9" stroke="#555" stroke-width="0.6"/>
<line x1="49.38" y1="543" x2="49.38" y2="544.4" stroke="#555" stroke-width="0.6"/>
<line x1="62.25" y1="543" x2="62.25" y2="544.4" stroke="#555" stroke-width="0.6"/>
<line x1="75.12" y1="543" x2="75.12" y2="544.4" stroke="#555" stroke-width="0.6"/>
<line x1="88" y1="543" x2="88" y2="544.4" stroke="#555" stroke-width="0.6"/>
<line x1="100.88" y1="543" x2="100.88" y2="544.4" stroke="#555" stroke-width="0.6"/>
<line x1="113.75" y1="543" x2="113.75" y2="544.4" stroke="#555" stroke-width="0.6"/>
<line x1="126.62" y1="543" x2="126.62" y2="544.4" stroke="#555" stroke-width="0.6"/>
<path d="M197.3 506.0h0.85v0.85h-0.85zM229.9 493.9h0.85v0.85h-0.85zM186.8 537.7h0.85v0.85h-0.85zM166.1 510.6h0.85v0.85h-0.85zM184.9 518.7h0.85v0.85h-0.85zM157.1 541.4h0.85v0.85h-0.85zM181.1 446.2h0.85v0.85h-0.85zM172.8 481.4h0.85v0.85h-0.85zM145.9 483.3h0.85v0.85h-0.85zM187.8 512.0h0.85v0.85h-0.85zM180.8 467.6h0.85v0.85h-0.85zM167.6 516.5h0.85v0.85h-0.85zM241.3 494.5h0.85v0.85h-0.85zM167.0 522.6h0.85v0.85h-0.85zM184.9 462.2h0.85v0.85h-0.85zM157.8 520.1h0.85v0.85h-0.85zM227.9 505.5h0.85v0.85h-0.85zM192.8 498.1h0.85v0.85h-0.85zM167.8 539.3h0.85v0.85h-0.85zM180.9 505.9h0.85v0.85h-0.85zM228.8 524.1h0.85v0.85h-0.85zM192.7 470.6h0.85v0.85h-0.85zM201.0 453.2h0.85v0.85h-0.85zM230.4 476.8h0.85v0.85h-0.85zM232.1 467.8h0.85v0.85h-0.85zM183.2 466.4h0.85v0.85h-0.85zM188.4 459.5h0.85v0.85h-0.85zM173.5 465.5h0.85v0.85h-0.85zM175.6 489.6h0.85v0.85h-0.85zM188.6 505.8h0.85v0.85h-0.85zM212.4 477.6h0.85v0.85h-0.85zM240.2 528.1h0.85v0.85h-0.85zM150.4 525.3h0.85v0.85h-0.85zM237.8 520.8h0.85v0.85h-0.85zM159.0 525.7h0.85v0.85h-0.85zM209.7 441.9h0.85v0.85h-0.85zM145.7 538.1h0.85v0.85h-0.85zM212.1 466.1h0.85v0.85h-0.85zM155.0 455.0h0.85v0.85h-0.85zM168.6 520.0h0.85v0.85h-0.85zM180.2 456.1h0.85v0.85h-0.85zM237.6 521.6h0.85v0.85h-0.85zM161.8 531.8h0.85v0.85h-0.85zM207.2 520.6h0.85v0.85h-0.85zM213.4 532.1h0.85v0.85h-0.85zM225.7 526.5h0.85v0.85h-0.85zM164.8 511.5h0.85v0.85h-0.85zM199.2 516.5h0.85v0.85h-0.85zM189.7 531.0h0.85v0.85h-0.85zM201.7 467.5h0.85v0.85h-0.85zM168.6 454.7h0.85v0.85h-0.85zM195.3 446.4h0.85v0.85h-0.85zM192.6 455.2h0.85v0.85h-0.85zM195.1 491.5h0.85v0.85h-0.85zM200.1 528.9h0.85v0.85h-0.85zM145.2 526.7h0.85v0.85h-0.85zM192.7 498.1h0.85v0.85h-0.85zM213.0 526.6h0.85v0.85h-0.85zM183.1 483.4h0.85v0.85h-0.85zM243.4 448.1h0.85v0.85h-0.85zM210.1 505.7h0.85v0.85h-0.85zM147.4 503.0h0.85v0.85h-0.85zM214.8 536.0h0.85v0.85h-0.85zM178.5 541.1h0.85v0.85h-0.85zM197.1 490.1h0.85v0.85h-0.85zM236.9 443.9h0.85v0.85h-0.85zM218.5 504.6h0.85v0.85h-0.85zM179.4 528.8h0.85v0.85h-0.85zM182.2 489.1h0.85v0.85h-0.85zM171.7 473.9h0.85v0.85h-0.85zM195.1 493.5h0.85v0.85h-0.85zM178.5 486.9h0.85v0.85h-0.85zM196.6 466.9h0.85v0.85h-0.85zM197.7 464.5h0.85v0.85h-0.85zM182.4 477.7h0.85v0.85h-0.85zM159.4 476.4h0.85v0.85h-0.85zM180.0 456.1h0.85v0.85h-0.85zM186.9 489.4h0.85v0.85h-0.85zM187.1 497.0h0.85v0.85h-0.85zM178.1 458.3h0.85v0.85h-0.85zM210.6 484.0h0.85v0.85h-0.85zM203.3 465.6h0.85v0.85h-0.85zM201.7 481.9h0.85v0.85h-0.85zM199.8 478.4h0.85v0.85h-0.85zM206.5 468.3h0.85v0.85h-0.85zM180.4 455.8h0.85v0.85h-0.85zM205.9 466.9h0.85v0.85h-0.85zM179.5 463.9h0.85v0.85h-0.85zM186.7 458.9h0.85v0.85h-0.85zM188.5 468.6h0.85v0.85h-0.85zM185.4 463.6h0.85v0.85h-0.85zM192.4 471.1h0.85v0.85h-0.85zM193.4 481.7h0.85v0.85h-0.85zM196.1 445.2h0.85v0.85h-0.85zM185.6 466.1h0.85v0.85h-0.85zM201.3 454.3h0.85v0.85h-0.85zM183.4 473.6h0.85v0.85h-0.85zM188.0 492.9h0.85v0.85h-0.85zM186.7 492.5h0.85v0.85h-0.85zM174.4 450.8h0.85v0.85h-0.85zM206.6 484.5h0.85v0.85h-0.85zM197.9 479.8h0.85v0.85h-0.85zM197.8 459.8h0.85v0.85h-0.85zM203.4 470.0h0.85v0.85h-0.85zM203.8 479.3h0.85v0.85h-0.85zM168.3 458.7h0.85v0.85h-0.85zM205.5 475.9h0.85v0.85h-0.85zM187.3 481.6h0.85v0.85h-0.85zM186.9 469.8h0.85v0.85h-0.85zM193.2 480.2h0.85v0.85h-0.85zM210.2 478.7h0.85v0.85h-0.85zM214.6 505.0h0.85v0.85h-0.85zM212.6 493.9h0.85v0.85h-0.85zM193.6 480.1h0.85v0.85h-0.85zM190.3 467.0h0.85v0.85h-0.85zM191.2 468.4h0.85v0.85h-0.85zM211.7 486.0h0.85v0.85h-0.85zM186.6 449.3h0.85v0.85h-0.85zM191.4 471.8h0.85v0.85h-0.85zM179.0 461.0h0.85v0.85h-0.85zM165.0 486.5h0.85v0.85h-0.85zM191.2 516.7h0.85v0.85h-0.85zM191.6 475.8h0.85v0.85h-0.85zM209.3 480.0h0.85v0.85h-0.85zM194.0 472.4h0.85v0.85h-0.85zM184.7 500.5h0.85v0.85h-0.85zM204.0 503.7h0.85v0.85h-0.85zM187.8 478.5h0.85v0.85h-0.85zM181.4 492.5h0.85v0.85h-0.85zM175.3 486.5h0.85v0.85h-0.85zM205.2 499.2h0.85v0.85h-0.85zM180.7 494.3h0.85v0.85h-0.85zM183.4 466.6h0.85v0.85h-0.85zM176.1 495.3h0.85v0.85h-0.85zM211.8 469.1h0.85v0.85h-0.85zM182.9 472.9h0.85v0.85h-0.85zM222.1 493.1h0.85v0.85h-0.85zM185.5 451.1h0.85v0.85h-0.85zM183.9 495.8h0.85v0.85h-0.85zM214.4 474.0h0.85v0.85h-0.85zM183.7 470.4h0.85v0.85h-0.85zM169.4 491.6h0.85v0.85h-0.85zM179.0 493.9h0.85v0.85h-0.85zM171.5 458.9h0.85v0.85h-0.85zM195.5 466.5h0.85v0.85h-0.85zM201.4 478.1h0.85v0.85h-0.85zM177.9 487.3h0.85v0.85h-0.85zM202.1 449.3h0.85v0.85h-0.85zM213.9 485.5h0.85v0.85h-0.85zM201.1 450.1h0.85v0.85h-0.85zM183.4 472.8h0.85v0.85h-0.85zM204.9 456.1h0.85v0.85h-0.85zM181.4 447.6h0.85v0.85h-0.85zM189.1 483.2h0.85v0.85h-0.85zM171.8 469.1h0.85v0.85h-0.85zM198.1 501.8h0.85v0.85h-0.85zM200.0 473.4h0.85v0.85h-0.85zM177.9 464.0h0.85v0.85h-0.85zM184.0 480.2h0.85v0.85h-0.85zM191.4 503.0h0.85v0.85h-0.85zM195.4 461.9h0.85v0.85h-0.85zM210.5 492.2h0.85v0.85h-0.85zM193.2 467.2h0.85v0.85h-0.85zM169.6 462.7h0.85v0.85h-0.85zM202.9 466.0h0.85v0.85h-0.85zM176.2 480.9h0.85v0.85h-0.85zM194.9 487.1h0.85v0.85h-0.85zM199.9 499.1h0.85v0.85h-0.85zM181.9 492.7h0.85v0.85h-0.85zM180.2 488.4h0.85v0.85h-0.85zM194.1 481.6h0.85v0.85h-0.85zM203.6 477.7h0.85v0.85h-0.85zM205.3 491.1h0.85v0.85h-0.85zM193.6 469.5h0.85v0.85h-0.85zM183.0 470.1h0.85v0.85h-0.85zM189.6 477.6h0.85v0.85h-0.85zM227.8 487.6h0.85v0.85h-0.85zM201.2 465.1h0.85v0.85h-0.85zM183.5 473.2h0.85v0.85h-0.85zM194.3 462.5h0.85v0.85h-0.85zM211.3 469.6h0.85v0.85h-0.85zM204.9 443.0h0.85v0.85h-0.85zM191.9 482.2h0.85v0.85h-0.85zM194.3 487.0h0.85v0.85h-0.85zM195.4 480.4h0.85v0.85h-0.85zM169.3 467.3h0.85v0.85h-0.85zM163.9 487.4h0.85v0.85h-0.85zM195.7 475.1h0.85v0.85h-0.85zM182.1 469.3h0.85v0.85h-0.85zM214.1 504.0h0.85v0.85h-0.85zM191.3 497.3h0.85v0.85h-0.85zM172.9 449.0h0.85v0.85h-0.85zM186.2 464.9h0.85v0.85h-0.85zM185.3 480.8h0.85v0.85h-0.85zM228.3 468.1h0.85v0.85h-0.85zM192.6 482.1h0.85v0.85h-0.85zM191.6 492.0h0.85v0.85h-0.85zM213.3 459.3h0.85v0.85h-0.85zM193.9 474.0h0.85v0.85h-0.85zM196.3 455.0h0.85v0.85h-0.85zM170.9 443.3h0.85v0.85h-0.85zM198.3 480.9h0.85v0.85h-0.85zM192.9 442.5h0.85v0.85h-0.85zM187.5 466.7h0.85v0.85h-0.85zM175.0 464.3h0.85v0.85h-0.85zM200.4 486.2h0.85v0.85h-0.85zM191.7 485.7h0.85v0.85h-0.85zM184.8 479.1h0.85v0.85h-0.85zM192.5 486.3h0.85v0.85h-0.85zM191.2 475.9h0.85v0.85h-0.85zM190.4 468.3h0.85v0.85h-0.85zM218.8 485.7h0.85v0.85h-0.85zM197.1 512.4h0.85v0.85h-0.85zM208.8 454.7h0.85v0.85h-0.85zM200.3 490.6h0.85v0.85h-0.85zM214.6 497.7h0.85v0.85h-0.85zM201.2 460.3h0.85v0.85h-0.85zM181.6 482.0h0.85v0.85h-0.85zM198.1 462.7h0.85v0.85h-0.85zM187.4 472.0h0.85v0.85h-0.85zM192.7 483.0h0.85v0.85h-0.85zM188.6 459.4h0.85v0.85h-0.85zM206.9 501.9h0.85v0.85h-0.85zM190.7 493.4h0.85v0.85h-0.85zM197.3 487.9h0.85v0.85h-0.85zM197.8 466.6h0.85v0.85h-0.85zM198.9 493.2h0.85v0.85h-0.85zM181.2 507.5h0.85v0.85h-0.85zM217.1 505.3h0.85v0.85h-0.85zM215.9 489.1h0.85v0.85h-0.85zM187.9 469.0h0.85v0.85h-0.85zM182.2 479.7h0.85v0.85h-0.85zM191.6 488.1h0.85v0.85h-0.85zM167.8 512.7h0.85v0.85h-0.85zM219.3 477.6h0.85v0.85h-0.85zM200.1 485.1h0.85v0.85h-0.85zM195.3 474.9h0.85v0.85h-0.85zM190.5 465.6h0.85v0.85h-0.85zM194.1 477.6h0.85v0.85h-0.85zM195.8 465.2h0.85v0.85h-0.85zM192.5 478.7h0.85v0.85h-0.85zM199.3 462.1h0.85v0.85h-0.85zM197.0 492.7h0.85v0.85h-0.85zM199.2 472.5h0.85v0.85h-0.85zM186.1 474.5h0.85v0.85h-0.85zM200.8 501.3h0.85v0.85h-0.85zM190.1 468.4h0.85v0.85h-0.85zM196.5 481.1h0.85v0.85h-0.85zM181.1 466.9h0.85v0.85h-0.85zM190.8 488.1h0.85v0.85h-0.85zM177.7 462.7h0.85v0.85h-0.85zM198.0 459.6h0.85v0.85h-0.85zM193.3 483.3h0.85v0.85h-0.85zM190.7 462.7h0.85v0.85h-0.85zM191.3 473.0h0.85v0.85h-0.85zM196.0 465.4h0.85v0.85h-0.85zM205.1 452.9h0.85v0.85h-0.85zM189.9 478.1h0.85v0.85h-0.85zM203.5 468.9h0.85v0.85h-0.85zM198.6 469.5h0.85v0.85h-0.85zM200.9 504.1h0.85v0.85h-0.85zM187.2 484.6h0.85v0.85h-0.85zM180.9 492.6h0.85v0.85h-0.85zM206.5 478.5h0.85v0.85h-0.85zM178.4 484.0h0.85v0.85h-0.85zM205.8 494.3h0.85v0.85h-0.85zM201.8 450.5h0.85v0.85h-0.85zM183.8 499.3h0.85v0.85h-0.85zM177.3 495.0h0.85v0.85h-0.85zM181.9 524.1h0.85v0.85h-0.85zM175.1 511.0h0.85v0.85h-0.85zM154.0 513.8h0.85v0.85h-0.85zM163.2 514.4h0.85v0.85h-0.85zM171.3 513.3h0.85v0.85h-0.85zM166.7 520.1h0.85v0.85h-0.85zM165.0 537.1h0.85v0.85h-0.85zM169.0 516.0h0.85v0.85h-0.85zM163.1 507.5h0.85v0.85h-0.85zM177.1 516.8h0.85v0.85h-0.85zM155.3 508.3h0.85v0.85h-0.85zM163.8 509.7h0.85v0.85h-0.85zM174.8 501.1h0.85v0.85h-0.85zM169.4 516.7h0.85v0.85h-0.85zM154.4 515.6h0.85v0.85h-0.85zM164.2 521.0h0.85v0.85h-0.85zM160.9 518.6h0.85v0.85h-0.85zM150.0 502.0h0.85v0.85h-0.85zM172.1 527.5h0.85v0.85h-0.85zM164.9 507.8h0.85v0.85h-0.85zM174.7 489.9h0.85v0.85h-0.85zM157.8 523.1h0.85v0.85h-0.85zM170.9 502.6h0.85v0.85h-0.85zM148.0 532.4h0.85v0.85h-0.85zM166.4 504.2h0.85v0.85h-0.85zM165.5 525.8h0.85v0.85h-0.85zM171.7 490.0h0.85v0.85h-0.85zM171.9 493.6h0.85v0.85h-0.85zM175.3 519.8h0.85v0.85h-0.85zM185.3 507.7h0.85v0.85h-0.85zM165.0 527.6h0.85v0.85h-0.85zM159.2 506.5h0.85v0.85h-0.85zM161.7 514.1h0.85v0.85h-0.85zM155.3 520.8h0.85v0.85h-0.85zM169.9 515.9h0.85v0.85h-0.85zM180.3 511.1h0.85v0.85h-0.85zM176.8 508.4h0.85v0.85h-0.85zM171.8 491.8h0.85v0.85h-0.85zM166.8 512.9h0.85v0.85h-0.85zM160.5 507.7h0.85v0.85h-0.85zM161.9 506.4h0.85v0.85h-0.85zM145.3 507.8h0.85v0.85h-0.85zM160.1 508.7h0.85v0.85h-0.85zM155.5 513.4h0.85v0.85h-0.85zM172.1 512.0h0.85v0.85h-0.85zM160.6 531.3h0.85v0.85h-0.85zM173.8 526.1h0.85v0.85h-0.85zM175.4 511.1h0.85v0.85h-0.85zM163.8 528.4h0.85v0.85h-0.85zM160.0 513.6h0.85v0.85h-0.85zM168.4 519.5h0.85v0.85h-0.85zM162.5 526.8h0.85v0.85h-0.85zM163.4 523.7h0.85v0.85h-0.85zM174.6 522.9h0.85v0.85h-0.85zM171.6 501.1h0.85v0.85h-0.85zM153.2 507.6h0.85v0.85h-0.85zM169.3 533.0h0.85v0.85h-0.85zM154.0 518.7h0.85v0.85h-0.85zM157.3 506.2h0.85v0.85h-0.85zM162.5 523.3h0.85v0.85h-0.85zM166.9 529.2h0.85v0.85h-0.85zM156.1 525.7h0.85v0.85h-0.85zM173.4 515.8h0.85v0.85h-0.85zM169.3 508.2h0.85v0.85h-0.85zM155.2 510.1h0.85v0.85h-0.85zM160.6 534.8h0.85v0.85h-0.85zM166.8 518.7h0.85v0.85h-0.85zM171.7 505.7h0.85v0.85h-0.85zM201.0 525.8h0.85v0.85h-0.85zM171.8 528.0h0.85v0.85h-0.85zM196.6 526.5h0.85v0.85h-0.85zM209.0 517.9h0.85v0.85h-0.85zM196.1 529.5h0.85v0.85h-0.85zM179.2 534.0h0.85v0.85h-0.85zM172.6 509.0h0.85v0.85h-0.85zM196.3 511.1h0.85v0.85h-0.85zM188.6 505.6h0.85v0.85h-0.85zM190.8 510.7h0.85v0.85h-0.85zM194.1 506.7h0.85v0.85h-0.85zM195.4 519.3h0.85v0.85h-0.85zM190.8 521.3h0.85v0.85h-0.85zM191.6 508.8h0.85v0.85h-0.85zM159.2 522.3h0.85v0.85h-0.85zM178.8 517.5h0.85v0.85h-0.85zM195.1 502.1h0.85v0.85h-0.85zM180.8 515.9h0.85v0.85h-0.85zM177.3 525.3h0.85v0.85h-0.85zM188.3 513.8h0.85v0.85h-0.85zM178.2 530.1h0.85v0.85h-0.85zM182.1 527.9h0.85v0.85h-0.85zM195.4 503.1h0.85v0.85h-0.85zM177.0 522.0h0.85v0.85h-0.85zM194.1 529.8h0.85v0.85h-0.85zM199.6 532.3h0.85v0.85h-0.85zM185.5 519.9h0.85v0.85h-0.85zM199.3 517.7h0.85v0.85h-0.85zM202.7 506.1h0.85v0.85h-0.85zM197.8 520.3h0.85v0.85h-0.85zM166.4 531.8h0.85v0.85h-0.85zM193.7 522.2h0.85v0.85h-0.85zM177.1 517.3h0.85v0.85h-0.85zM208.1 513.7h0.85v0.85h-0.85zM148.3 513.4h0.85v0.85h-0.85zM175.6 520.7h0.85v0.85h-0.85zM185.3 512.9h0.85v0.85h-0.85zM179.9 532.5h0.85v0.85h-0.85zM172.7 541.6h0.85v0.85h-0.85zM183.5 511.1h0.85v0.85h-0.85zM199.4 527.6h0.85v0.85h-0.85zM177.5 529.5h0.85v0.85h-0.85zM167.9 512.8h0.85v0.85h-0.85zM203.5 519.4h0.85v0.85h-0.85zM174.4 527.1h0.85v0.85h-0.85zM201.0 521.8h0.85v0.85h-0.85zM168.3 518.5h0.85v0.85h-0.85zM195.0 529.7h0.85v0.85h-0.85zM212.2 519.5h0.85v0.85h-0.85zM184.2 521.6h0.85v0.85h-0.85zM204.5 512.6h0.85v0.85h-0.85zM205.7 494.5h0.85v0.85h-0.85zM199.6 515.2h0.85v0.85h-0.85zM195.5 528.9h0.85v0.85h-0.85zM175.8 521.1h0.85v0.85h-0.85zM192.9 527.9h0.85v0.85h-0.85zM178.8 512.1h0.85v0.85h-0.85zM187.7 519.8h0.85v0.85h-0.85zM172.1 531.3h0.85v0.85h-0.85zM183.6 536.4h0.85v0.85h-0.85zM200.2 522.2h0.85v0.85h-0.85zM198.7 510.9h0.85v0.85h-0.85zM186.1 516.2h0.85v0.85h-0.85zM174.8 522.2h0.85v0.85h-0.85zM188.3 536.4h0.85v0.85h-0.85zM149.8 515.3h0.85v0.85h-0.85zM179.0 517.4h0.85v0.85h-0.85zM195.1 526.0h0.85v0.85h-0.85zM190.3 517.3h0.85v0.85h-0.85zM195.9 525.6h0.85v0.85h-0.85zM167.9 519.4h0.85v0.85h-0.85zM173.5 510.2h0.85v0.85h-0.85zM191.8 522.6h0.85v0.85h-0.85zM191.4 513.2h0.85v0.85h-0.85zM187.6 512.9h0.85v0.85h-0.85zM194.6 528.9h0.85v0.85h-0.85zM211.1 534.7h0.85v0.85h-0.85zM180.3 517.4h0.85v0.85h-0.85zM178.7 525.1h0.85v0.85h-0.85zM213.8 529.1h0.85v0.85h-0.85zM163.6 509.4h0.85v0.85h-0.85zM174.5 527.2h0.85v0.85h-0.85zM190.0 525.0h0.85v0.85h-0.85zM211.4 513.7h0.85v0.85h-0.85zM179.8 541.7h0.85v0.85h-0.85zM194.1 514.2h0.85v0.85h-0.85zM165.7 506.8h0.85v0.85h-0.85zM160.7 522.7h0.85v0.85h-0.85zM190.5 531.9h0.85v0.85h-0.85zM188.3 515.1h0.85v0.85h-0.85zM181.1 541.0h0.85v0.85h-0.85zM168.8 523.7h0.85v0.85h-0.85zM190.3 528.2h0.85v0.85h-0.85zM185.1 527.0h0.85v0.85h-0.85zM199.8 520.5h0.85v0.85h-0.85zM184.5 520.1h0.85v0.85h-0.85zM178.4 519.9h0.85v0.85h-0.85zM186.4 524.1h0.85v0.85h-0.85zM206.0 535.1h0.85v0.85h-0.85zM184.7 528.0h0.85v0.85h-0.85zM193.5 529.6h0.85v0.85h-0.85zM190.3 524.7h0.85v0.85h-0.85zM184.4 514.2h0.85v0.85h-0.85zM200.5 535.0h0.85v0.85h-0.85zM197.9 526.4h0.85v0.85h-0.85zM193.2 517.5h0.85v0.85h-0.85zM168.6 528.6h0.85v0.85h-0.85zM192.4 516.5h0.85v0.85h-0.85zM178.4 534.8h0.85v0.85h-0.85z" fill="#7a7a7a" opacity="1"/>
<line x1="174.5" y1="440.4" x2="174.5" y2="543" stroke="#8a8a8a" stroke-width="0.8"/>
<line x1="144.5" y1="504.5" x2="247.5" y2="504.5" stroke="#8a8a8a" stroke-width="0.8"/>
<line x1="144.5" y1="440.4" x2="247.5" y2="440.4" stroke="#555" stroke-width="0.9"/>
<line x1="247.5" y1="440.4" x2="247.5" y2="543" stroke="#555" stroke-width="0.9"/>
<line x1="144.5" y1="440.1" x2="144.5" y2="543" stroke="#333" stroke-width="1"/>
<line x1="144.5" y1="543" x2="247.5" y2="543" stroke="#222" stroke-width="1"/>
<line x1="143.3" y1="457.5" x2="144.5" y2="457.5" stroke="#555" stroke-width="0.6"/>
<line x1="143.3" y1="474.6" x2="144.5" y2="474.6" stroke="#555" stroke-width="0.6"/>
<line x1="143.3" y1="491.7" x2="144.5" y2="491.7" stroke="#555" stroke-width="0.6"/>
<line x1="143.3" y1="508.8" x2="144.5" y2="508.8" stroke="#555" stroke-width="0.6"/>
<line x1="143.3" y1="525.9" x2="144.5" y2="525.9" stroke="#555" stroke-width="0.6"/>
<line x1="157.38" y1="543" x2="157.38" y2="544.4" stroke="#555" stroke-width="0.6"/>
<line x1="170.25" y1="543" x2="170.25" y2="544.4" stroke="#555" stroke-width="0.6"/>
<line x1="183.12" y1="543" x2="183.12" y2="544.4" stroke="#555" stroke-width="0.6"/>
<line x1="196" y1="543" x2="196" y2="544.4" stroke="#555" stroke-width="0.6"/>
<line x1="208.88" y1="543" x2="208.88" y2="544.4" stroke="#555" stroke-width="0.6"/>
<line x1="221.75" y1="543" x2="221.75" y2="544.4" stroke="#555" stroke-width="0.6"/>
<line x1="234.62" y1="543" x2="234.62" y2="544.4" stroke="#555" stroke-width="0.6"/>
<path d="M289.7 538.7h0.85v0.85h-0.85zM272.1 538.0h0.85v0.85h-0.85zM303.0 463.7h0.85v0.85h-0.85zM297.6 453.8h0.85v0.85h-0.85zM324.0 467.2h0.85v0.85h-0.85zM344.1 500.7h0.85v0.85h-0.85zM288.8 465.7h0.85v0.85h-0.85zM313.8 462.2h0.85v0.85h-0.85zM341.2 453.0h0.85v0.85h-0.85zM303.9 496.1h0.85v0.85h-0.85zM278.6 519.6h0.85v0.85h-0.85zM290.5 507.9h0.85v0.85h-0.85zM309.5 472.3h0.85v0.85h-0.85zM291.1 449.2h0.85v0.85h-0.85zM268.9 527.7h0.85v0.85h-0.85zM283.9 508.4h0.85v0.85h-0.85zM261.8 498.1h0.85v0.85h-0.85zM288.1 491.7h0.85v0.85h-0.85zM281.4 447.2h0.85v0.85h-0.85zM282.9 463.6h0.85v0.85h-0.85zM263.6 513.9h0.85v0.85h-0.85zM279.9 481.8h0.85v0.85h-0.85zM345.0 519.9h0.85v0.85h-0.85zM342.3 528.8h0.85v0.85h-0.85zM264.2 468.8h0.85v0.85h-0.85zM253.6 510.1h0.85v0.85h-0.85zM319.5 476.5h0.85v0.85h-0.85zM293.4 508.0h0.85v0.85h-0.85zM323.2 465.9h0.85v0.85h-0.85zM338.6 476.5h0.85v0.85h-0.85zM315.9 459.0h0.85v0.85h-0.85zM262.5 534.0h0.85v0.85h-0.85zM326.8 513.5h0.85v0.85h-0.85zM254.7 444.5h0.85v0.85h-0.85zM267.3 460.7h0.85v0.85h-0.85zM282.0 479.5h0.85v0.85h-0.85zM254.6 472.3h0.85v0.85h-0.85zM316.9 458.8h0.85v0.85h-0.85zM337.8 498.9h0.85v0.85h-0.85zM325.0 466.5h0.85v0.85h-0.85zM295.7 510.6h0.85v0.85h-0.85zM337.3 520.1h0.85v0.85h-0.85zM280.3 444.8h0.85v0.85h-0.85zM339.3 502.7h0.85v0.85h-0.85zM255.4 465.5h0.85v0.85h-0.85zM262.1 521.6h0.85v0.85h-0.85zM272.4 534.2h0.85v0.85h-0.85zM328.5 449.2h0.85v0.85h-0.85zM322.7 480.8h0.85v0.85h-0.85zM328.2 525.4h0.85v0.85h-0.85zM279.7 449.6h0.85v0.85h-0.85zM348.9 483.9h0.85v0.85h-0.85zM347.2 511.4h0.85v0.85h-0.85zM327.3 525.6h0.85v0.85h-0.85zM315.8 486.9h0.85v0.85h-0.85zM256.1 512.0h0.85v0.85h-0.85zM295.0 492.9h0.85v0.85h-0.85zM347.0 453.5h0.85v0.85h-0.85zM329.7 444.9h0.85v0.85h-0.85zM286.8 456.7h0.85v0.85h-0.85zM290.3 486.5h0.85v0.85h-0.85zM302.2 471.3h0.85v0.85h-0.85zM285.2 471.9h0.85v0.85h-0.85zM298.0 477.4h0.85v0.85h-0.85zM286.4 477.5h0.85v0.85h-0.85zM289.4 479.0h0.85v0.85h-0.85zM287.8 459.6h0.85v0.85h-0.85zM291.5 481.4h0.85v0.85h-0.85zM282.4 473.0h0.85v0.85h-0.85zM297.8 470.3h0.85v0.85h-0.85zM285.9 493.8h0.85v0.85h-0.85zM297.5 484.0h0.85v0.85h-0.85zM283.6 489.9h0.85v0.85h-0.85zM278.1 469.0h0.85v0.85h-0.85zM296.8 487.0h0.85v0.85h-0.85zM283.8 467.5h0.85v0.85h-0.85zM292.5 455.2h0.85v0.85h-0.85zM296.0 479.4h0.85v0.85h-0.85zM287.5 479.2h0.85v0.85h-0.85zM297.0 477.0h0.85v0.85h-0.85zM295.1 488.7h0.85v0.85h-0.85zM287.3 475.6h0.85v0.85h-0.85zM286.9 484.0h0.85v0.85h-0.85zM287.8 478.6h0.85v0.85h-0.85zM292.1 474.6h0.85v0.85h-0.85zM304.3 473.2h0.85v0.85h-0.85zM302.0 482.0h0.85v0.85h-0.85zM301.2 472.4h0.85v0.85h-0.85zM298.2 481.3h0.85v0.85h-0.85zM286.2 476.6h0.85v0.85h-0.85zM290.0 473.7h0.85v0.85h-0.85zM301.1 467.0h0.85v0.85h-0.85zM278.0 457.2h0.85v0.85h-0.85zM287.5 467.8h0.85v0.85h-0.85zM291.1 479.5h0.85v0.85h-0.85zM304.6 477.0h0.85v0.85h-0.85zM294.6 466.9h0.85v0.85h-0.85zM295.5 487.1h0.85v0.85h-0.85zM301.3 455.2h0.85v0.85h-0.85zM297.9 489.3h0.85v0.85h-0.85zM297.4 459.6h0.85v0.85h-0.85zM288.6 479.7h0.85v0.85h-0.85zM294.2 466.2h0.85v0.85h-0.85zM284.1 483.3h0.85v0.85h-0.85zM280.7 487.8h0.85v0.85h-0.85zM291.2 476.9h0.85v0.85h-0.85zM280.7 468.3h0.85v0.85h-0.85zM296.3 459.8h0.85v0.85h-0.85zM306.9 460.5h0.85v0.85h-0.85zM281.6 474.4h0.85v0.85h-0.85zM294.7 481.1h0.85v0.85h-0.85zM288.1 472.0h0.85v0.85h-0.85zM289.2 468.5h0.85v0.85h-0.85zM271.2 483.2h0.85v0.85h-0.85zM292.9 475.5h0.85v0.85h-0.85zM286.2 476.4h0.85v0.85h-0.85zM290.9 473.3h0.85v0.85h-0.85zM299.5 457.5h0.85v0.85h-0.85zM292.9 463.8h0.85v0.85h-0.85zM288.6 488.4h0.85v0.85h-0.85zM282.7 473.0h0.85v0.85h-0.85zM286.5 483.1h0.85v0.85h-0.85zM283.5 457.8h0.85v0.85h-0.85zM294.9 470.6h0.85v0.85h-0.85zM288.5 484.4h0.85v0.85h-0.85zM284.2 470.4h0.85v0.85h-0.85zM292.1 478.0h0.85v0.85h-0.85zM287.0 483.9h0.85v0.85h-0.85zM308.2 470.1h0.85v0.85h-0.85zM305.4 453.7h0.85v0.85h-0.85zM301.8 470.7h0.85v0.85h-0.85zM292.1 470.7h0.85v0.85h-0.85zM286.1 461.7h0.85v0.85h-0.85zM288.0 486.4h0.85v0.85h-0.85zM299.8 470.7h0.85v0.85h-0.85zM286.9 467.3h0.85v0.85h-0.85zM281.8 491.3h0.85v0.85h-0.85zM296.1 475.1h0.85v0.85h-0.85zM287.2 464.2h0.85v0.85h-0.85zM301.1 481.5h0.85v0.85h-0.85zM283.7 483.5h0.85v0.85h-0.85zM282.5 480.2h0.85v0.85h-0.85zM283.6 470.0h0.85v0.85h-0.85zM294.8 478.2h0.85v0.85h-0.85zM298.8 466.0h0.85v0.85h-0.85zM303.1 486.9h0.85v0.85h-0.85zM290.9 478.5h0.85v0.85h-0.85zM285.0 472.5h0.85v0.85h-0.85zM280.9 474.9h0.85v0.85h-0.85zM292.5 486.9h0.85v0.85h-0.85zM298.3 481.8h0.85v0.85h-0.85zM288.2 471.8h0.85v0.85h-0.85zM288.4 476.1h0.85v0.85h-0.85zM276.2 481.4h0.85v0.85h-0.85zM279.0 469.1h0.85v0.85h-0.85zM291.2 469.1h0.85v0.85h-0.85zM303.8 473.1h0.85v0.85h-0.85zM303.1 485.3h0.85v0.85h-0.85zM287.2 477.8h0.85v0.85h-0.85zM301.0 470.8h0.85v0.85h-0.85zM291.7 468.6h0.85v0.85h-0.85zM291.5 470.6h0.85v0.85h-0.85zM291.6 483.6h0.85v0.85h-0.85zM301.7 475.3h0.85v0.85h-0.85zM292.6 482.2h0.85v0.85h-0.85zM288.8 463.8h0.85v0.85h-0.85zM299.5 465.0h0.85v0.85h-0.85zM298.1 464.7h0.85v0.85h-0.85zM305.1 464.0h0.85v0.85h-0.85zM297.5 488.4h0.85v0.85h-0.85zM283.6 488.3h0.85v0.85h-0.85zM284.7 457.1h0.85v0.85h-0.85zM296.5 480.7h0.85v0.85h-0.85zM289.4 449.8h0.85v0.85h-0.85zM290.6 471.1h0.85v0.85h-0.85zM288.1 471.2h0.85v0.85h-0.85zM277.3 468.6h0.85v0.85h-0.85zM304.8 488.8h0.85v0.85h-0.85zM288.2 467.2h0.85v0.85h-0.85zM294.0 484.2h0.85v0.85h-0.85zM296.6 462.8h0.85v0.85h-0.85zM292.2 475.3h0.85v0.85h-0.85zM302.0 485.5h0.85v0.85h-0.85zM295.0 485.7h0.85v0.85h-0.85zM288.0 488.8h0.85v0.85h-0.85zM287.7 477.8h0.85v0.85h-0.85zM298.1 465.2h0.85v0.85h-0.85zM285.6 457.1h0.85v0.85h-0.85zM292.3 473.5h0.85v0.85h-0.85zM288.5 478.8h0.85v0.85h-0.85zM274.7 473.8h0.85v0.85h-0.85zM291.7 471.4h0.85v0.85h-0.85zM297.1 490.8h0.85v0.85h-0.85zM287.6 465.0h0.85v0.85h-0.85zM286.4 474.9h0.85v0.85h-0.85zM295.5 465.7h0.85v0.85h-0.85zM298.7 464.2h0.85v0.85h-0.85zM297.4 478.1h0.85v0.85h-0.85zM294.6 494.7h0.85v0.85h-0.85zM289.0 472.4h0.85v0.85h-0.85zM294.7 482.3h0.85v0.85h-0.85zM280.7 476.6h0.85v0.85h-0.85zM285.3 480.1h0.85v0.85h-0.85zM301.5 474.5h0.85v0.85h-0.85zM290.2 475.8h0.85v0.85h-0.85zM268.3 481.4h0.85v0.85h-0.85zM295.3 475.6h0.85v0.85h-0.85zM288.0 467.0h0.85v0.85h-0.85zM289.6 485.6h0.85v0.85h-0.85zM290.2 486.9h0.85v0.85h-0.85zM271.2 469.6h0.85v0.85h-0.85zM293.1 473.9h0.85v0.85h-0.85zM278.3 467.6h0.85v0.85h-0.85zM300.6 461.6h0.85v0.85h-0.85zM283.4 463.5h0.85v0.85h-0.85zM286.8 480.2h0.85v0.85h-0.85zM295.6 454.5h0.85v0.85h-0.85zM302.2 468.3h0.85v0.85h-0.85zM286.5 490.0h0.85v0.85h-0.85zM290.4 462.1h0.85v0.85h-0.85zM286.1 467.0h0.85v0.85h-0.85zM283.2 470.8h0.85v0.85h-0.85zM297.7 477.4h0.85v0.85h-0.85zM280.4 500.8h0.85v0.85h-0.85zM283.4 475.1h0.85v0.85h-0.85zM291.2 481.3h0.85v0.85h-0.85zM288.5 478.4h0.85v0.85h-0.85zM307.2 474.9h0.85v0.85h-0.85zM282.7 477.2h0.85v0.85h-0.85zM284.8 470.4h0.85v0.85h-0.85zM292.4 477.2h0.85v0.85h-0.85zM288.8 482.1h0.85v0.85h-0.85zM289.5 461.5h0.85v0.85h-0.85zM297.7 470.5h0.85v0.85h-0.85zM300.3 467.7h0.85v0.85h-0.85zM295.4 477.0h0.85v0.85h-0.85zM270.3 459.7h0.85v0.85h-0.85zM282.4 487.5h0.85v0.85h-0.85zM276.5 482.8h0.85v0.85h-0.85zM299.4 478.8h0.85v0.85h-0.85zM296.2 469.2h0.85v0.85h-0.85zM290.9 476.2h0.85v0.85h-0.85zM294.2 480.8h0.85v0.85h-0.85zM289.4 467.3h0.85v0.85h-0.85zM286.7 477.9h0.85v0.85h-0.85zM278.2 462.0h0.85v0.85h-0.85zM287.8 468.7h0.85v0.85h-0.85zM288.9 448.4h0.85v0.85h-0.85zM288.4 471.6h0.85v0.85h-0.85zM297.0 455.0h0.85v0.85h-0.85zM288.6 478.6h0.85v0.85h-0.85zM294.8 485.5h0.85v0.85h-0.85zM299.1 463.9h0.85v0.85h-0.85zM295.9 470.8h0.85v0.85h-0.85zM284.8 488.7h0.85v0.85h-0.85zM286.2 465.8h0.85v0.85h-0.85zM287.9 465.8h0.85v0.85h-0.85zM298.7 477.7h0.85v0.85h-0.85zM301.8 478.0h0.85v0.85h-0.85zM286.3 484.1h0.85v0.85h-0.85zM286.0 469.6h0.85v0.85h-0.85zM289.7 474.4h0.85v0.85h-0.85zM300.2 468.2h0.85v0.85h-0.85zM293.7 473.7h0.85v0.85h-0.85zM281.3 463.5h0.85v0.85h-0.85zM289.3 477.9h0.85v0.85h-0.85zM293.5 478.6h0.85v0.85h-0.85zM291.4 469.7h0.85v0.85h-0.85zM294.3 464.3h0.85v0.85h-0.85zM280.7 470.8h0.85v0.85h-0.85zM280.0 469.0h0.85v0.85h-0.85zM285.2 468.7h0.85v0.85h-0.85zM290.7 466.3h0.85v0.85h-0.85zM287.7 457.5h0.85v0.85h-0.85zM292.1 465.5h0.85v0.85h-0.85zM294.1 446.7h0.85v0.85h-0.85zM284.8 476.3h0.85v0.85h-0.85zM272.2 470.5h0.85v0.85h-0.85zM291.7 475.0h0.85v0.85h-0.85zM279.5 476.2h0.85v0.85h-0.85zM292.1 464.6h0.85v0.85h-0.85zM296.7 473.5h0.85v0.85h-0.85zM291.1 469.7h0.85v0.85h-0.85zM295.2 474.9h0.85v0.85h-0.85zM299.8 478.4h0.85v0.85h-0.85zM286.2 471.8h0.85v0.85h-0.85zM298.1 470.5h0.85v0.85h-0.85zM294.0 479.0h0.85v0.85h-0.85zM289.6 451.5h0.85v0.85h-0.85zM292.0 476.1h0.85v0.85h-0.85zM292.0 466.7h0.85v0.85h-0.85zM300.3 472.7h0.85v0.85h-0.85zM286.2 467.1h0.85v0.85h-0.85zM293.8 463.5h0.85v0.85h-0.85zM283.3 493.3h0.85v0.85h-0.85zM301.1 484.2h0.85v0.85h-0.85zM301.6 479.8h0.85v0.85h-0.85zM278.0 485.6h0.85v0.85h-0.85zM300.6 478.7h0.85v0.85h-0.85zM275.9 486.0h0.85v0.85h-0.85zM301.6 469.2h0.85v0.85h-0.85zM292.0 481.5h0.85v0.85h-0.85zM290.3 484.6h0.85v0.85h-0.85zM291.6 480.7h0.85v0.85h-0.85zM291.7 459.7h0.85v0.85h-0.85zM283.3 504.7h0.85v0.85h-0.85zM293.2 486.7h0.85v0.85h-0.85zM299.8 490.6h0.85v0.85h-0.85zM295.3 468.2h0.85v0.85h-0.85zM291.1 455.4h0.85v0.85h-0.85zM289.5 482.8h0.85v0.85h-0.85zM274.2 475.9h0.85v0.85h-0.85zM297.4 486.9h0.85v0.85h-0.85zM283.8 467.7h0.85v0.85h-0.85zM276.4 464.1h0.85v0.85h-0.85zM295.1 494.1h0.85v0.85h-0.85zM282.1 487.4h0.85v0.85h-0.85zM294.3 469.2h0.85v0.85h-0.85zM308.0 449.5h0.85v0.85h-0.85zM269.3 520.6h0.85v0.85h-0.85zM290.7 538.9h0.85v0.85h-0.85zM292.0 519.6h0.85v0.85h-0.85zM279.5 533.9h0.85v0.85h-0.85zM275.0 522.2h0.85v0.85h-0.85zM268.2 513.2h0.85v0.85h-0.85zM258.1 540.7h0.85v0.85h-0.85zM265.7 493.7h0.85v0.85h-0.85zM272.6 517.6h0.85v0.85h-0.85zM271.7 539.2h0.85v0.85h-0.85zM269.0 514.9h0.85v0.85h-0.85zM262.7 517.7h0.85v0.85h-0.85zM265.7 520.4h0.85v0.85h-0.85zM300.4 522.6h0.85v0.85h-0.85zM261.7 540.5h0.85v0.85h-0.85zM278.4 527.5h0.85v0.85h-0.85zM277.0 527.6h0.85v0.85h-0.85zM276.6 534.5h0.85v0.85h-0.85zM279.8 533.7h0.85v0.85h-0.85zM265.1 518.0h0.85v0.85h-0.85zM262.9 529.2h0.85v0.85h-0.85zM278.1 512.6h0.85v0.85h-0.85zM282.0 505.0h0.85v0.85h-0.85zM269.1 525.4h0.85v0.85h-0.85zM269.7 522.5h0.85v0.85h-0.85zM281.5 521.8h0.85v0.85h-0.85zM259.3 526.4h0.85v0.85h-0.85zM269.1 519.3h0.85v0.85h-0.85zM264.5 501.8h0.85v0.85h-0.85zM257.9 513.9h0.85v0.85h-0.85zM259.6 486.3h0.85v0.85h-0.85zM281.2 504.4h0.85v0.85h-0.85zM262.9 524.2h0.85v0.85h-0.85zM262.5 525.7h0.85v0.85h-0.85zM265.3 521.6h0.85v0.85h-0.85zM271.0 518.0h0.85v0.85h-0.85zM252.2 500.8h0.85v0.85h-0.85zM269.6 534.5h0.85v0.85h-0.85zM264.7 524.2h0.85v0.85h-0.85zM271.6 523.7h0.85v0.85h-0.85zM279.7 500.5h0.85v0.85h-0.85zM272.7 515.9h0.85v0.85h-0.85zM267.0 508.0h0.85v0.85h-0.85zM262.3 506.0h0.85v0.85h-0.85zM286.6 518.1h0.85v0.85h-0.85zM277.2 506.6h0.85v0.85h-0.85zM271.4 534.8h0.85v0.85h-0.85zM269.6 506.3h0.85v0.85h-0.85zM267.6 506.3h0.85v0.85h-0.85zM256.4 515.3h0.85v0.85h-0.85zM266.1 508.5h0.85v0.85h-0.85zM261.4 507.1h0.85v0.85h-0.85zM272.3 534.3h0.85v0.85h-0.85zM254.2 521.2h0.85v0.85h-0.85zM258.7 516.1h0.85v0.85h-0.85zM271.0 524.5h0.85v0.85h-0.85zM281.0 511.5h0.85v0.85h-0.85zM257.9 515.8h0.85v0.85h-0.85zM272.9 509.8h0.85v0.85h-0.85zM278.7 537.7h0.85v0.85h-0.85zM256.1 522.2h0.85v0.85h-0.85zM279.9 495.5h0.85v0.85h-0.85zM272.0 515.4h0.85v0.85h-0.85zM256.1 533.4h0.85v0.85h-0.85zM272.1 512.4h0.85v0.85h-0.85zM297.8 526.3h0.85v0.85h-0.85zM301.2 525.7h0.85v0.85h-0.85zM297.4 508.5h0.85v0.85h-0.85zM288.5 521.3h0.85v0.85h-0.85zM263.3 540.8h0.85v0.85h-0.85zM288.9 509.7h0.85v0.85h-0.85zM273.5 522.4h0.85v0.85h-0.85zM293.3 514.3h0.85v0.85h-0.85zM288.5 511.3h0.85v0.85h-0.85zM285.0 519.0h0.85v0.85h-0.85zM286.1 526.6h0.85v0.85h-0.85zM291.5 521.3h0.85v0.85h-0.85zM297.3 532.4h0.85v0.85h-0.85zM299.4 522.2h0.85v0.85h-0.85zM291.2 512.1h0.85v0.85h-0.85zM289.3 526.7h0.85v0.85h-0.85zM295.4 516.2h0.85v0.85h-0.85zM278.7 505.1h0.85v0.85h-0.85zM296.4 530.0h0.85v0.85h-0.85zM297.0 506.6h0.85v0.85h-0.85zM290.7 522.2h0.85v0.85h-0.85zM283.2 523.4h0.85v0.85h-0.85zM290.9 511.9h0.85v0.85h-0.85zM279.7 527.9h0.85v0.85h-0.85zM296.8 511.4h0.85v0.85h-0.85zM282.1 528.7h0.85v0.85h-0.85zM299.4 517.0h0.85v0.85h-0.85zM310.1 517.2h0.85v0.85h-0.85zM281.7 530.6h0.85v0.85h-0.85zM291.0 523.4h0.85v0.85h-0.85zM293.4 510.2h0.85v0.85h-0.85zM280.3 518.1h0.85v0.85h-0.85zM308.1 510.2h0.85v0.85h-0.85zM307.6 522.1h0.85v0.85h-0.85zM281.1 522.6h0.85v0.85h-0.85zM299.1 511.2h0.85v0.85h-0.85zM270.2 523.5h0.85v0.85h-0.85zM281.1 524.3h0.85v0.85h-0.85zM272.5 518.6h0.85v0.85h-0.85zM284.3 505.6h0.85v0.85h-0.85zM290.4 521.7h0.85v0.85h-0.85zM287.0 508.5h0.85v0.85h-0.85zM295.3 503.0h0.85v0.85h-0.85zM298.7 524.8h0.85v0.85h-0.85zM311.0 528.6h0.85v0.85h-0.85zM296.8 522.6h0.85v0.85h-0.85zM293.3 507.1h0.85v0.85h-0.85zM308.6 525.1h0.85v0.85h-0.85zM289.9 508.9h0.85v0.85h-0.85zM308.9 525.2h0.85v0.85h-0.85zM280.3 526.5h0.85v0.85h-0.85zM313.3 519.8h0.85v0.85h-0.85zM297.3 516.0h0.85v0.85h-0.85zM286.3 530.4h0.85v0.85h-0.85zM325.9 521.1h0.85v0.85h-0.85zM291.7 527.7h0.85v0.85h-0.85zM289.7 527.1h0.85v0.85h-0.85zM301.9 510.1h0.85v0.85h-0.85zM281.5 519.3h0.85v0.85h-0.85zM301.9 522.7h0.85v0.85h-0.85zM306.3 506.6h0.85v0.85h-0.85zM298.3 514.0h0.85v0.85h-0.85zM294.1 523.1h0.85v0.85h-0.85zM282.6 517.8h0.85v0.85h-0.85zM280.6 522.6h0.85v0.85h-0.85zM283.9 515.2h0.85v0.85h-0.85zM295.3 513.7h0.85v0.85h-0.85zM305.3 513.8h0.85v0.85h-0.85zM302.1 522.7h0.85v0.85h-0.85zM282.0 517.9h0.85v0.85h-0.85zM284.1 516.5h0.85v0.85h-0.85zM290.1 537.6h0.85v0.85h-0.85zM288.5 535.2h0.85v0.85h-0.85zM297.8 507.3h0.85v0.85h-0.85zM268.3 526.6h0.85v0.85h-0.85zM271.8 527.0h0.85v0.85h-0.85zM304.0 523.8h0.85v0.85h-0.85zM290.8 517.6h0.85v0.85h-0.85zM295.8 517.1h0.85v0.85h-0.85zM287.3 516.4h0.85v0.85h-0.85zM305.5 514.0h0.85v0.85h-0.85zM297.0 508.8h0.85v0.85h-0.85zM285.4 506.7h0.85v0.85h-0.85zM290.9 526.6h0.85v0.85h-0.85zM296.3 515.2h0.85v0.85h-0.85zM299.5 516.6h0.85v0.85h-0.85zM297.0 522.6h0.85v0.85h-0.85zM298.8 496.0h0.85v0.85h-0.85zM279.1 527.5h0.85v0.85h-0.85zM291.9 541.7h0.85v0.85h-0.85z" fill="#7a7a7a" opacity="1"/>
<line x1="281.3" y1="440.4" x2="281.3" y2="543" stroke="#8a8a8a" stroke-width="0.8"/>
<line x1="250.5" y1="505" x2="354.5" y2="505" stroke="#8a8a8a" stroke-width="0.8"/>
<line x1="250.5" y1="440.4" x2="354.5" y2="440.4" stroke="#555" stroke-width="0.9"/>
<line x1="354.5" y1="440.4" x2="354.5" y2="543" stroke="#555" stroke-width="0.9"/>
<line x1="250.5" y1="440.1" x2="250.5" y2="543" stroke="#333" stroke-width="1"/>
<line x1="250.5" y1="543" x2="354.5" y2="543" stroke="#222" stroke-width="1"/>
<line x1="249.3" y1="457.5" x2="250.5" y2="457.5" stroke="#555" stroke-width="0.6"/>
<line x1="249.3" y1="474.6" x2="250.5" y2="474.6" stroke="#555" stroke-width="0.6"/>
<line x1="249.3" y1="491.7" x2="250.5" y2="491.7" stroke="#555" stroke-width="0.6"/>
<line x1="249.3" y1="508.8" x2="250.5" y2="508.8" stroke="#555" stroke-width="0.6"/>
<line x1="249.3" y1="525.9" x2="250.5" y2="525.9" stroke="#555" stroke-width="0.6"/>
<line x1="263.5" y1="543" x2="263.5" y2="544.4" stroke="#555" stroke-width="0.6"/>
<line x1="276.5" y1="543" x2="276.5" y2="544.4" stroke="#555" stroke-width="0.6"/>
<line x1="289.5" y1="543" x2="289.5" y2="544.4" stroke="#555" stroke-width="0.6"/>
<line x1="302.5" y1="543" x2="302.5" y2="544.4" stroke="#555" stroke-width="0.6"/>
<line x1="315.5" y1="543" x2="315.5" y2="544.4" stroke="#555" stroke-width="0.6"/>
<line x1="328.5" y1="543" x2="328.5" y2="544.4" stroke="#555" stroke-width="0.6"/>
<line x1="341.5" y1="543" x2="341.5" y2="544.4" stroke="#555" stroke-width="0.6"/>
<path d="M85.5,469.6L84.84,471.21L84.05,472.67L83.23,474.02L82.42,475.34L81.56,476.7L80.55,478.07L79.3,479.37L77.76,480.47L75.96,481.22L74,481.48L72.04,481.22L70.24,480.48L68.7,479.37L67.45,478.07L66.44,476.7L65.58,475.34L64.77,474.02L63.95,472.67L63.16,471.21L62.5,469.6L62.13,467.83L62.18,465.99L62.74,464.21L63.81,462.65L65.29,461.42L67.03,460.59L68.86,460.13L70.65,459.93L72.36,459.88L74,459.88L75.64,459.88L77.34,459.93L79.14,460.13L80.97,460.59L82.71,461.42L84.19,462.65L85.26,464.21L85.82,465.99L85.87,467.83ZM82.58,469.72L82.1,470.9L81.52,471.97L80.92,472.96L80.33,473.93L79.7,474.92L78.96,475.92L78.05,476.88L76.93,477.68L75.61,478.23L74.18,478.42L72.75,478.23L71.44,477.69L70.32,476.88L69.4,475.92L68.67,474.92L68.04,473.93L67.45,472.96L66.85,471.97L66.27,470.9L65.79,469.72L65.52,468.43L65.56,467.08L65.97,465.78L66.75,464.63L67.83,463.74L69.1,463.13L70.43,462.79L71.74,462.64L72.99,462.61L74.18,462.61L75.38,462.61L76.63,462.65L77.93,462.79L79.27,463.13L80.54,463.74L81.62,464.63L82.4,465.78L82.81,467.08L82.85,468.43ZM80.23,469.82L79.89,470.66L79.49,471.41L79.07,472.11L78.65,472.79L78.21,473.49L77.69,474.2L77.05,474.88L76.26,475.45L75.34,475.83L74.33,475.97L73.33,475.83L72.4,475.45L71.61,474.88L70.97,474.2L70.46,473.49L70.02,472.79L69.6,472.11L69.18,471.41L68.77,470.66L68.44,469.82L68.24,468.91L68.27,467.96L68.56,467.04L69.11,466.23L69.87,465.59L70.76,465.16L71.7,464.92L72.62,464.82L73.49,464.8L74.33,464.8L75.17,464.8L76.05,464.82L76.97,464.92L77.91,465.16L78.8,465.59L79.56,466.23L80.11,467.04L80.39,467.96L80.42,468.91ZM78.06,469.91L77.86,470.43L77.61,470.89L77.35,471.32L77.1,471.74L76.83,472.17L76.52,472.61L76.13,473.03L75.64,473.38L75.08,473.61L74.47,473.7L73.86,473.61L73.29,473.38L72.81,473.03L72.42,472.61L72.11,472.17L71.84,471.74L71.59,471.32L71.33,470.89L71.08,470.43L70.88,469.91L70.76,469.35L70.78,468.76L70.95,468.2L71.29,467.7L71.75,467.31L72.29,467.04L72.86,466.9L73.43,466.83L73.96,466.82L74.47,466.82L74.98,466.82L75.51,466.83L76.07,466.9L76.65,467.05L77.19,467.31L77.65,467.7L77.99,468.2L78.16,468.76L78.18,469.35ZM76,470L75.92,470.21L75.82,470.4L75.72,470.57L75.62,470.74L75.52,470.92L75.4,471.1L75.25,471.27L75.06,471.41L74.84,471.51L74.6,471.54L74.36,471.51L74.14,471.41L73.95,471.27L73.8,471.1L73.68,470.92L73.58,470.74L73.48,470.57L73.38,470.4L73.28,470.21L73.2,470L73.15,469.77L73.16,469.53L73.23,469.3L73.36,469.1L73.54,468.94L73.75,468.83L73.97,468.77L74.19,468.75L74.4,468.74L74.6,468.74L74.8,468.74L75.01,468.75L75.23,468.77L75.45,468.83L75.66,468.94L75.84,469.1L75.97,469.3L76.04,469.53L76.05,469.77Z" fill="none" stroke="#111" stroke-width="0.8"/>
<path d="M86.73,493.2L86.49,494.64L86.02,495.99L85.38,497.2L84.62,498.28L83.78,499.25L82.88,500.13L81.9,500.93L80.83,501.62L79.66,502.15L78.4,502.45L77.09,502.48L75.8,502.19L74.6,501.58L73.55,500.7L72.69,499.62L72.02,498.42L71.52,497.15L71.15,495.85L70.89,494.54L70.73,493.2L70.69,491.83L70.8,490.42L71.12,489.03L71.67,487.7L72.47,486.52L73.47,485.57L74.64,484.89L75.89,484.5L77.16,484.37L78.4,484.45L79.6,484.7L80.75,485.07L81.87,485.54L82.96,486.14L84,486.89L84.96,487.84L85.77,488.97L86.37,490.29L86.69,491.72ZM84.46,493.02L84.28,494.08L83.93,495.07L83.45,495.96L82.89,496.76L82.27,497.47L81.6,498.12L80.87,498.71L80.08,499.22L79.21,499.61L78.28,499.83L77.31,499.85L76.35,499.64L75.46,499.19L74.68,498.54L74.04,497.75L73.54,496.86L73.17,495.92L72.9,494.97L72.7,494L72.58,493.02L72.55,492L72.64,490.97L72.87,489.94L73.28,488.96L73.87,488.1L74.62,487.39L75.48,486.89L76.41,486.6L77.35,486.51L78.28,486.57L79.16,486.75L80.02,487.02L80.85,487.37L81.66,487.82L82.44,488.37L83.15,489.06L83.75,489.9L84.19,490.87L84.43,491.93ZM82.64,492.87L82.51,493.62L82.26,494.33L81.91,494.97L81.51,495.54L81.06,496.05L80.57,496.51L80.05,496.93L79.48,497.29L78.85,497.57L78.18,497.73L77.48,497.74L76.79,497.59L76.15,497.27L75.58,496.81L75.12,496.24L74.76,495.61L74.49,494.94L74.3,494.26L74.16,493.57L74.07,492.87L74.05,492.15L74.11,491.41L74.28,490.67L74.58,489.98L75,489.36L75.54,488.86L76.16,488.5L76.83,488.29L77.51,488.23L78.18,488.27L78.82,488.4L79.44,488.6L80.03,488.84L80.62,489.16L81.18,489.55L81.69,490.05L82.13,490.65L82.44,491.34L82.62,492.09ZM80.95,492.73L80.87,493.21L80.71,493.65L80.49,494.05L80.23,494.41L79.94,494.73L79.63,495.02L79.29,495.28L78.92,495.51L78.52,495.68L78.09,495.78L77.64,495.79L77.19,495.7L76.78,495.5L76.42,495.21L76.12,494.85L75.89,494.45L75.72,494.03L75.59,493.6L75.5,493.17L75.45,492.73L75.43,492.28L75.47,491.81L75.58,491.35L75.77,490.92L76.04,490.53L76.39,490.21L76.79,489.99L77.22,489.86L77.66,489.82L78.09,489.84L78.5,489.93L78.9,490.05L79.28,490.2L79.66,490.4L80.02,490.65L80.35,490.96L80.62,491.34L80.83,491.77L80.94,492.24ZM79.35,492.6L79.31,492.81L79.24,493L79.13,493.18L79.01,493.33L78.87,493.47L78.73,493.6L78.57,493.72L78.39,493.82L78.2,493.89L78,493.94L77.79,493.94L77.58,493.9L77.38,493.81L77.21,493.68L77.07,493.53L76.96,493.35L76.88,493.17L76.82,492.98L76.78,492.79L76.75,492.6L76.75,492.4L76.77,492.2L76.82,492L76.91,491.81L77.04,491.64L77.2,491.5L77.39,491.4L77.59,491.34L77.8,491.32L78,491.34L78.19,491.37L78.38,491.43L78.56,491.49L78.74,491.58L78.91,491.69L79.07,491.83L79.2,491.99L79.29,492.18L79.35,492.39Z" fill="none" stroke="#111" stroke-width="0.8"/>
<path d="M69.14,517.8L68.94,521.43L68.51,525L67.79,528.48L66.71,531.72L65.26,534.53L63.5,536.74L61.52,538.31L59.46,539.3L57.38,539.87L55.3,540.16L53.19,540.2L51.02,539.91L48.83,539.1L46.74,537.59L44.87,535.31L43.38,532.34L42.34,528.89L41.72,525.2L41.46,521.48L41.46,517.8L41.66,514.17L42.09,510.6L42.81,507.12L43.89,503.88L45.34,501.07L47.1,498.86L49.08,497.29L51.14,496.3L53.22,495.73L55.3,495.44L57.41,495.4L59.58,495.69L61.77,496.5L63.86,498.01L65.73,500.29L67.22,503.26L68.26,506.71L68.88,510.4L69.14,514.12ZM67.27,517.93L67.1,520.94L66.74,523.9L66.14,526.78L65.24,529.46L64.02,531.79L62.54,533.62L60.88,534.92L59.15,535.74L57.41,536.21L55.66,536.45L53.89,536.49L52.07,536.25L50.24,535.58L48.48,534.32L46.92,532.43L45.67,529.97L44.79,527.12L44.28,524.07L44.06,520.98L44.05,517.93L44.23,514.93L44.59,511.97L45.19,509.09L46.09,506.41L47.31,504.08L48.79,502.25L50.44,500.95L52.17,500.13L53.92,499.66L55.66,499.42L57.44,499.38L59.25,499.62L61.09,500.29L62.85,501.54L64.41,503.43L65.66,505.89L66.54,508.75L67.05,511.8L67.27,514.89ZM65.77,518.04L65.63,520.54L65.32,523.01L64.81,525.42L64.05,527.65L63.02,529.59L61.77,531.12L60.37,532.2L58.91,532.88L57.43,533.28L55.96,533.48L54.46,533.51L52.92,533.31L51.37,532.75L49.88,531.7L48.56,530.13L47.5,528.08L46.76,525.7L46.32,523.15L46.14,520.58L46.14,518.04L46.28,515.54L46.59,513.07L47.1,510.67L47.86,508.43L48.89,506.49L50.14,504.96L51.54,503.88L53,503.2L54.48,502.81L55.96,502.61L57.45,502.57L58.99,502.77L60.54,503.33L62.03,504.38L63.35,505.95L64.41,508L65.15,510.39L65.59,512.93L65.77,515.5ZM64.39,518.14L64.27,520.18L64.01,522.2L63.59,524.15L62.96,525.98L62.1,527.56L61.06,528.8L59.9,529.69L58.68,530.24L57.45,530.57L56.22,530.73L54.98,530.75L53.7,530.59L52.41,530.13L51.17,529.28L50.07,528L49.19,526.33L48.58,524.38L48.22,522.31L48.06,520.21L48.06,518.14L48.18,516.1L48.43,514.08L48.86,512.13L49.49,510.3L50.35,508.72L51.39,507.48L52.55,506.59L53.77,506.04L55,505.72L56.22,505.55L57.47,505.53L58.75,505.69L60.04,506.15L61.28,507L62.38,508.28L63.26,509.96L63.87,511.9L64.23,513.97L64.39,516.07ZM63.07,518.24L62.97,519.84L62.77,521.42L62.43,522.96L61.92,524.39L61.23,525.63L60.38,526.61L59.44,527.3L58.46,527.74L57.47,527.99L56.48,528.12L55.47,528.14L54.44,528.01L53.4,527.65L52.4,526.98L51.51,525.97L50.8,524.66L50.31,523.14L50.02,521.51L49.89,519.86L49.89,518.24L49.99,516.63L50.19,515.05L50.53,513.51L51.05,512.08L51.74,510.84L52.58,509.86L53.52,509.17L54.5,508.73L55.49,508.48L56.48,508.35L57.49,508.33L58.52,508.46L59.56,508.82L60.56,509.49L61.45,510.5L62.16,511.81L62.65,513.33L62.95,514.96L63.07,516.61ZM61.8,518.33L61.73,519.51L61.57,520.67L61.31,521.8L60.91,522.86L60.38,523.77L59.73,524.49L59.01,525L58.25,525.32L57.49,525.51L56.73,525.6L55.95,525.62L55.16,525.52L54.36,525.26L53.59,524.77L52.9,524.02L52.36,523.06L51.97,521.93L51.75,520.74L51.65,519.52L51.65,518.33L51.73,517.15L51.88,515.98L52.15,514.85L52.54,513.8L53.07,512.88L53.72,512.16L54.44,511.65L55.2,511.33L55.96,511.14L56.73,511.05L57.5,511.03L58.3,511.13L59.1,511.39L59.87,511.89L60.55,512.63L61.1,513.59L61.48,514.72L61.71,515.92L61.8,517.13ZM60.57,518.41L60.52,519.18L60.41,519.94L60.22,520.68L59.94,521.37L59.56,521.97L59.1,522.44L58.59,522.77L58.05,522.98L57.51,523.1L56.97,523.16L56.42,523.17L55.85,523.11L55.28,522.94L54.73,522.62L54.25,522.13L53.86,521.5L53.59,520.77L53.43,519.99L53.36,519.2L53.36,518.41L53.41,517.64L53.52,516.88L53.71,516.15L53.99,515.46L54.37,514.86L54.83,514.39L55.34,514.06L55.88,513.85L56.42,513.73L56.97,513.67L57.52,513.66L58.08,513.72L58.65,513.89L59.2,514.21L59.69,514.7L60.07,515.33L60.35,516.06L60.51,516.84L60.57,517.63ZM59.38,518.5L59.34,518.87L59.28,519.24L59.16,519.59L58.99,519.92L58.77,520.21L58.49,520.43L58.18,520.59L57.85,520.7L57.53,520.75L57.2,520.78L56.87,520.79L56.53,520.76L56.18,520.68L55.85,520.52L55.56,520.29L55.33,519.98L55.16,519.63L55.07,519.26L55.03,518.88L55.02,518.5L55.06,518.13L55.12,517.76L55.24,517.41L55.41,517.08L55.63,516.79L55.91,516.57L56.22,516.41L56.55,516.3L56.87,516.25L57.2,516.22L57.53,516.21L57.87,516.24L58.22,516.32L58.55,516.48L58.84,516.71L59.07,517.02L59.24,517.37L59.33,517.74L59.37,518.12Z" fill="none" stroke="#222" stroke-width="0.7"/>
<polyline points="68.4,543 68.6,521 69.2,507 70.2,496 68.2,485 62.6,478 61.6,467 65.2,459.2 74,457 83.5,459.3 86.6,465 84.6,478 81,481.5 86.6,486 87.4,495 84.6,502.5 77.5,505.2 71.8,506.2 71.1,530 70.6,543" fill="none" stroke="#111" stroke-width="0.75"/>
<polyline points="40.8,498.5 50,494.3 58,494 62.5,492.8 64.6,494.2 65,500" fill="none" stroke="#111" stroke-width="0.7"/>
<line x1="37.6" y1="467.5" x2="37.6" y2="493" stroke="#555" stroke-width="1.3"/>
<path d="M36.5,491 L39.8,492.5 L40.6,543 L36.5,543Z" fill="#000"/>
<ellipse cx="68" cy="541.2" rx="8" ry="2.2" transform="rotate(0 68 541.2)" fill="#000" opacity="1" filter="url(#b05)"/>
<path d="M176.11,522L176,524.53L175.63,527.06L174.92,529.55L173.79,531.89L172.23,533.96L170.3,535.62L168.09,536.82L165.75,537.57L163.38,537.97L161,538.09L158.62,537.97L156.25,537.57L153.91,536.81L151.71,535.62L149.77,533.96L148.21,531.89L147.08,529.55L146.37,527.06L146,524.53L145.89,522L146,519.47L146.37,516.94L147.08,514.45L148.21,512.11L149.77,510.04L151.7,508.38L153.91,507.18L156.25,506.43L158.62,506.03L161,505.91L163.38,506.03L165.75,506.43L168.09,507.19L170.29,508.38L172.23,510.04L173.79,512.11L174.92,514.45L175.63,516.94L176,519.47ZM174.47,521.71L174.38,523.81L174.07,525.9L173.48,527.96L172.54,529.9L171.24,531.61L169.63,532.98L167.79,533.97L165.84,534.6L163.86,534.92L161.88,535.02L159.9,534.92L157.92,534.59L155.97,533.97L154.13,532.98L152.52,531.61L151.22,529.9L150.28,527.96L149.69,525.9L149.38,523.81L149.29,521.71L149.38,519.62L149.69,517.53L150.28,515.47L151.22,513.53L152.52,511.82L154.13,510.45L155.97,509.46L157.92,508.83L159.9,508.5L161.88,508.4L163.86,508.5L165.84,508.83L167.79,509.46L169.63,510.45L171.24,511.82L172.54,513.53L173.48,515.47L174.07,517.53L174.38,519.62ZM173.16,521.48L173.08,523.22L172.82,524.97L172.32,526.68L171.54,528.3L170.45,529.72L169.09,530.86L167.55,531.69L165.91,532.21L164.25,532.48L162.59,532.56L160.92,532.48L159.26,532.21L157.62,531.68L156.08,530.86L154.73,529.72L153.63,528.3L152.85,526.68L152.35,524.97L152.09,523.22L152.01,521.48L152.09,519.74L152.35,518L152.85,516.28L153.63,514.67L154.73,513.25L156.08,512.1L157.62,511.28L159.26,510.76L160.92,510.49L162.59,510.4L164.25,510.49L165.91,510.76L167.55,511.28L169.09,512.1L170.45,513.25L171.54,514.67L172.32,516.28L172.82,518L173.08,519.74ZM171.95,521.27L171.88,522.69L171.67,524.11L171.26,525.5L170.61,526.82L169.71,527.97L168.59,528.9L167.32,529.57L165.98,530L164.61,530.22L163.24,530.29L161.87,530.22L160.5,530L159.15,529.57L157.88,528.9L156.77,527.97L155.87,526.82L155.22,525.5L154.81,524.11L154.6,522.69L154.53,521.27L154.6,519.85L154.81,518.43L155.22,517.04L155.87,515.72L156.77,514.57L157.88,513.64L159.15,512.97L160.5,512.54L161.87,512.32L163.24,512.25L164.61,512.32L165.98,512.54L167.32,512.97L168.59,513.64L169.71,514.57L170.61,515.72L171.26,517.04L171.67,518.43L171.88,519.85ZM170.79,521.07L170.74,522.18L170.57,523.29L170.24,524.38L169.73,525.41L169.01,526.32L168.12,527.04L167.11,527.57L166.04,527.9L164.95,528.07L163.86,528.13L162.77,528.07L161.68,527.9L160.61,527.57L159.6,527.04L158.71,526.32L157.99,525.41L157.47,524.38L157.15,523.29L156.98,522.18L156.93,521.07L156.98,519.96L157.15,518.85L157.47,517.76L157.99,516.73L158.71,515.82L159.59,515.09L160.61,514.57L161.68,514.23L162.77,514.06L163.86,514.01L164.95,514.06L166.04,514.24L167.11,514.57L168.12,515.09L169.01,515.82L169.73,516.73L170.24,517.76L170.57,518.85L170.74,519.96ZM169.68,520.87L169.64,521.69L169.51,522.5L169.27,523.3L168.88,524.06L168.34,524.72L167.67,525.25L166.91,525.64L166.1,525.88L165.28,526.01L164.46,526.05L163.63,526.01L162.81,525.88L162,525.64L161.24,525.25L160.57,524.72L160.03,524.06L159.64,523.3L159.4,522.5L159.27,521.69L159.23,520.87L159.27,520.06L159.4,519.25L159.65,518.45L160.03,517.69L160.57,517.03L161.24,516.49L162,516.11L162.81,515.87L163.63,515.74L164.46,515.7L165.28,515.74L166.1,515.87L166.91,516.11L167.67,516.49L168.34,517.03L168.88,517.69L169.27,518.45L169.51,519.25L169.64,520.06ZM168.6,520.68L168.57,521.21L168.49,521.74L168.32,522.25L168.05,522.74L167.69,523.17L167.23,523.52L166.71,523.76L166.16,523.92L165.6,524L165.04,524.03L164.47,524L163.91,523.92L163.36,523.76L162.84,523.52L162.38,523.17L162.02,522.74L161.75,522.25L161.58,521.74L161.5,521.21L161.47,520.68L161.5,520.16L161.58,519.63L161.75,519.12L162.02,518.63L162.38,518.2L162.84,517.85L163.36,517.6L163.91,517.45L164.47,517.37L165.04,517.34L165.6,517.37L166.16,517.45L166.71,517.6L167.23,517.85L167.69,518.2L168.05,518.63L168.32,519.12L168.49,519.63L168.57,520.16ZM167.55,520.5L167.54,520.75L167.49,520.99L167.4,521.23L167.25,521.46L167.05,521.66L166.8,521.82L166.52,521.94L166.21,522.01L165.91,522.05L165.6,522.06L165.29,522.05L164.99,522.01L164.69,521.94L164.4,521.82L164.15,521.66L163.95,521.46L163.8,521.23L163.71,520.99L163.66,520.75L163.65,520.5L163.66,520.25L163.71,520.01L163.8,519.77L163.95,519.54L164.15,519.34L164.4,519.18L164.68,519.06L164.99,518.99L165.29,518.95L165.6,518.94L165.91,518.95L166.21,518.99L166.51,519.06L166.8,519.18L167.05,519.34L167.25,519.54L167.4,519.77L167.49,520.01L167.54,520.25Z" fill="none" stroke="#222" stroke-width="0.7"/>
<polyline points="178.7,543 178.5,522 178.2,506 176.4,496 176.8,488.3 184.4,484.9 193.8,487.7 194.5,496 188.5,503.3 182,505 180.2,530 180,543" fill="none" stroke="#111" stroke-width="0.8"/>
<polyline points="181.2,483.8 174.2,477.5 173.5,467.2 180,461.5 189,461.8 190.8,470 187.5,481.5 184.4,484.9" fill="none" stroke="#111" stroke-width="0.8"/>
<path d="M189.5,494.2L189.46,494.76L189.34,495.31L189.15,495.83L188.89,496.32L188.56,496.75L188.18,497.11L187.75,497.41L187.29,497.62L186.8,497.76L186.3,497.8L185.8,497.76L185.31,497.62L184.85,497.41L184.42,497.11L184.04,496.75L183.71,496.32L183.45,495.83L183.26,495.31L183.14,494.76L183.1,494.2L183.14,493.64L183.26,493.09L183.45,492.57L183.71,492.08L184.04,491.65L184.42,491.29L184.85,490.99L185.31,490.78L185.8,490.64L186.3,490.6L186.8,490.64L187.29,490.78L187.75,490.99L188.18,491.29L188.56,491.65L188.89,492.08L189.15,492.57L189.34,493.09L189.46,493.64Z" fill="none" stroke="#111" stroke-width="0.8"/>
<polyline points="146,500.5 154,498.8 166,496.4 176,496" fill="none" stroke="#111" stroke-width="0.7"/>
<path d="M144.5,503 L147.8,504 L148.2,543 L144.5,543Z" fill="#000"/>
<ellipse cx="172" cy="541.4" rx="6.5" ry="2" transform="rotate(0 172 541.4)" fill="#000" opacity="1" filter="url(#b05)"/>
<path d="M309.24,480.96L309.57,481.29L309.89,481.65L310.06,482.18L309.9,482.98L309.29,484.08L308.24,485.39L306.89,486.79L305.43,488.14L303.98,489.4L302.58,490.61L301.17,491.84L299.67,493.13L298.06,494.44L296.4,495.63L294.85,496.53L293.58,497.04L292.67,497.14L292.1,496.92L291.73,496.56L291.42,496.18L291.09,495.81L290.79,495.39L290.67,494.79L290.91,493.91L291.6,492.73L292.74,491.35L294.18,489.89L295.72,488.5L297.23,487.23L298.66,486.03L300.08,484.83L301.55,483.6L303.11,482.36L304.7,481.25L306.17,480.42L307.35,479.99L308.16,479.95L308.66,480.2L308.97,480.58Z" fill="#1c1c1c"/>
<path d="M314.15,476.8L314.79,477.49L315.45,478.23L315.88,479.24L315.78,480.67L314.97,482.53L313.46,484.68L311.44,486.91L309.19,489.03L306.95,490.99L304.79,492.87L302.61,494.78L300.3,496.78L297.79,498.78L295.16,500.56L292.67,501.84L290.56,502.46L288.99,502.42L287.93,501.89L287.2,501.14L286.57,500.36L285.9,499.61L285.27,498.77L284.91,497.64L285.11,496.09L286.05,494.1L287.71,491.84L289.88,489.52L292.25,487.35L294.59,485.38L296.81,483.53L299,481.69L301.29,479.78L303.74,477.9L306.25,476.25L308.62,475.09L310.58,474.58L312.01,474.71L312.94,475.29L313.57,476.05ZM312.51,478.19L313.05,478.76L313.6,479.37L313.94,480.22L313.82,481.44L313.08,483.05L311.72,484.92L309.92,486.87L307.94,488.74L305.96,490.46L304.05,492.12L302.13,493.8L300.09,495.56L297.88,497.33L295.58,498.91L293.39,500.07L291.56,500.66L290.22,500.66L289.32,500.23L288.71,499.61L288.18,498.96L287.63,498.34L287.11,497.64L286.83,496.69L287.04,495.36L287.9,493.64L289.39,491.67L291.31,489.65L293.4,487.74L295.47,485.99L297.43,484.36L299.36,482.74L301.38,481.05L303.53,479.39L305.74,477.92L307.8,476.87L309.5,476.38L310.73,476.45L311.51,476.92L312.04,477.56ZM310.88,479.57L311.31,480.02L311.74,480.51L312,481.2L311.86,482.21L311.18,483.56L309.98,485.16L308.41,486.83L306.68,488.44L304.97,489.93L303.31,491.36L301.65,492.82L299.88,494.35L297.97,495.89L295.99,497.27L294.12,498.3L292.57,498.85L291.44,498.9L290.71,498.58L290.22,498.08L289.8,497.57L289.36,497.07L288.95,496.51L288.75,495.74L288.97,494.64L289.75,493.19L291.06,491.51L292.74,489.77L294.56,488.12L296.35,486.61L298.05,485.2L299.72,483.79L301.46,482.33L303.32,480.87L305.22,479.58L306.98,478.64L308.43,478.19L309.45,478.2L310.09,478.56L310.5,479.07ZM309.24,480.96L309.57,481.29L309.89,481.65L310.06,482.18L309.9,482.98L309.29,484.08L308.24,485.39L306.89,486.79L305.43,488.14L303.98,489.4L302.58,490.61L301.17,491.84L299.67,493.13L298.06,494.44L296.4,495.63L294.85,496.53L293.58,497.04L292.67,497.14L292.1,496.92L291.73,496.56L291.42,496.18L291.09,495.81L290.79,495.39L290.67,494.79L290.91,493.91L291.6,492.73L292.74,491.35L294.18,489.89L295.72,488.5L297.23,487.23L298.66,486.03L300.08,484.83L301.55,483.6L303.11,482.36L304.7,481.25L306.17,480.42L307.35,479.99L308.16,479.95L308.66,480.2L308.97,480.58ZM307.61,482.34L307.82,482.55L308.04,482.79L308.12,483.16L307.94,483.75L307.39,484.59L306.5,485.63L305.38,486.75L304.17,487.84L302.99,488.87L301.84,489.86L300.69,490.86L299.46,491.92L298.15,492.99L296.81,493.98L295.58,494.77L294.59,495.23L293.9,495.38L293.49,495.27L293.24,495.03L293.04,494.78L292.82,494.54L292.63,494.26L292.59,493.84L292.84,493.19L293.45,492.28L294.42,491.18L295.61,490.02L296.88,488.89L298.11,487.84L299.28,486.86L300.43,485.88L301.64,484.87L302.91,483.85L304.19,482.92L305.35,482.2L306.27,481.79L306.88,481.7L307.23,481.84L307.43,482.09ZM305.97,483.72L306.08,483.82L306.19,483.93L306.19,484.14L305.97,484.52L305.49,485.11L304.76,485.87L303.87,486.71L302.92,487.54L302,488.34L301.1,489.11L300.21,489.88L299.25,490.7L298.24,491.54L297.22,492.34L296.31,493L295.59,493.43L295.13,493.62L294.88,493.61L294.75,493.51L294.66,493.39L294.56,493.28L294.47,493.14L294.51,492.89L294.77,492.46L295.3,491.82L296.09,491.02L297.04,490.14L298.03,489.27L298.99,488.46L299.9,487.69L300.79,486.93L301.72,486.14L302.7,485.34L303.67,484.59L304.53,483.98L305.19,483.6L305.6,483.45L305.81,483.48L305.9,483.6Z" fill="none" stroke="#000" stroke-width="0.9"/>
<ellipse cx="301.5" cy="487.3" rx="5" ry="0.9" transform="rotate(-40 301.5 487.3)" fill="#a0a0a0" opacity="1" filter="url(#b05)"/>
<path d="M281.57,525.5L281.47,527.82L281.16,530.15L280.54,532.46L279.52,534.65L278.06,536.57L276.23,538.1L274.14,539.17L271.94,539.82L269.71,540.15L267.5,540.24L265.29,540.15L263.06,539.82L260.86,539.17L258.77,538.1L256.94,536.57L255.48,534.65L254.46,532.46L253.84,530.15L253.53,527.82L253.43,525.5L253.53,523.18L253.84,520.85L254.46,518.54L255.48,516.35L256.94,514.43L258.77,512.9L260.86,511.83L263.06,511.18L265.29,510.85L267.5,510.76L269.71,510.85L271.94,511.18L274.14,511.83L276.23,512.9L278.06,514.43L279.52,516.35L280.54,518.54L281.16,520.85L281.47,523.18ZM280.57,525.25L280.49,527.32L280.21,529.41L279.66,531.47L278.74,533.42L277.44,535.14L275.8,536.5L273.94,537.46L271.97,538.04L269.98,538.33L268,538.42L266.02,538.33L264.03,538.04L262.06,537.46L260.2,536.5L258.56,535.14L257.26,533.42L256.34,531.47L255.79,529.41L255.51,527.32L255.43,525.25L255.51,523.18L255.79,521.09L256.34,519.03L257.26,517.08L258.56,515.36L260.2,514L262.06,513.04L264.03,512.46L266.02,512.17L268,512.08L269.98,512.17L271.97,512.46L273.94,513.04L275.8,514L277.44,515.36L278.74,517.08L279.66,519.03L280.21,521.09L280.49,523.18ZM279.58,525L279.51,526.82L279.26,528.66L278.77,530.48L277.97,532.19L276.82,533.7L275.38,534.9L273.74,535.75L272,536.26L270.24,536.52L268.5,536.59L266.76,536.52L265,536.26L263.27,535.75L261.62,534.9L260.18,533.7L259.03,532.19L258.23,530.48L257.73,528.66L257.49,526.82L257.42,525L257.49,523.18L257.74,521.34L258.23,519.52L259.03,517.81L260.18,516.3L261.62,515.1L263.26,514.25L265,513.74L266.76,513.48L268.5,513.41L270.24,513.48L272,513.74L273.73,514.25L275.38,515.1L276.82,516.3L277.97,517.81L278.77,519.52L279.27,521.34L279.51,523.18ZM278.59,524.75L278.53,526.33L278.32,527.91L277.89,529.48L277.19,530.97L276.2,532.27L274.95,533.31L273.53,534.04L272.03,534.48L270.51,534.7L269,534.77L267.49,534.7L265.97,534.48L264.47,534.03L263.05,533.31L261.8,532.27L260.81,530.97L260.11,529.48L259.68,527.91L259.47,526.33L259.41,524.75L259.47,523.17L259.68,521.59L260.11,520.02L260.81,518.53L261.8,517.23L263.05,516.19L264.47,515.46L265.97,515.02L267.49,514.8L269,514.73L270.51,514.8L272.03,515.02L273.53,515.47L274.95,516.19L276.2,517.23L277.19,518.53L277.89,520.02L278.32,521.59L278.53,523.17ZM277.6,524.5L277.55,525.83L277.37,527.16L277.01,528.49L276.42,529.74L275.58,530.84L274.53,531.71L273.33,532.32L272.06,532.7L270.77,532.88L269.5,532.94L268.23,532.88L266.94,532.7L265.67,532.32L264.47,531.71L263.42,530.84L262.58,529.74L261.99,528.49L261.63,527.16L261.45,525.83L261.4,524.5L261.45,523.17L261.63,521.84L261.99,520.51L262.58,519.26L263.42,518.16L264.47,517.29L265.67,516.68L266.94,516.3L268.23,516.12L269.5,516.06L270.77,516.12L272.06,516.3L273.33,516.68L274.53,517.29L275.58,518.16L276.42,519.26L277.01,520.51L277.37,521.84L277.55,523.17ZM276.61,524.25L276.57,525.33L276.42,526.42L276.13,527.49L275.65,528.51L274.96,529.4L274.1,530.11L273.12,530.61L272.09,530.92L271.04,531.07L270,531.11L268.96,531.07L267.91,530.92L266.88,530.61L265.9,530.11L265.04,529.4L264.35,528.51L263.87,527.49L263.58,526.42L263.43,525.33L263.39,524.25L263.43,523.17L263.58,522.08L263.87,521.01L264.35,519.99L265.04,519.1L265.9,518.39L266.88,517.89L267.91,517.58L268.96,517.43L270,517.39L271.04,517.43L272.09,517.58L273.12,517.89L274.1,518.39L274.96,519.1L275.65,519.99L276.13,521.01L276.42,522.08L276.57,523.17ZM275.62,524L275.58,524.83L275.47,525.67L275.24,526.5L274.87,527.28L274.34,527.97L273.68,528.52L272.92,528.9L272.12,529.14L271.31,529.25L270.5,529.29L269.69,529.25L268.89,529.13L268.08,528.9L267.32,528.52L266.66,527.97L266.13,527.28L265.76,526.5L265.53,525.67L265.42,524.83L265.38,524L265.42,523.17L265.53,522.33L265.76,521.5L266.13,520.72L266.66,520.03L267.32,519.48L268.08,519.1L268.88,518.86L269.69,518.75L270.5,518.71L271.31,518.75L272.11,518.87L272.92,519.1L273.68,519.48L274.34,520.03L274.87,520.72L275.24,521.5L275.47,522.33L275.58,523.17ZM274.63,523.75L274.6,524.33L274.52,524.92L274.36,525.5L274.1,526.05L273.72,526.54L273.25,526.92L272.71,527.19L272.14,527.35L271.57,527.44L271,527.46L270.43,527.44L269.86,527.35L269.29,527.19L268.75,526.92L268.28,526.54L267.9,526.05L267.64,525.5L267.48,524.92L267.4,524.33L267.37,523.75L267.4,523.17L267.48,522.58L267.64,522L267.9,521.45L268.28,520.96L268.75,520.58L269.29,520.31L269.86,520.15L270.43,520.06L271,520.04L271.57,520.06L272.14,520.15L272.71,520.31L273.25,520.58L273.72,520.96L274.1,521.45L274.36,522L274.52,522.58L274.6,523.17ZM273.63,523.5L273.62,523.84L273.57,524.17L273.48,524.51L273.32,524.82L273.1,525.1L272.82,525.32L272.51,525.48L272.17,525.57L271.84,525.62L271.5,525.63L271.16,525.62L270.83,525.57L270.49,525.48L270.18,525.32L269.9,525.1L269.68,524.82L269.52,524.51L269.43,524.17L269.38,523.84L269.37,523.5L269.38,523.16L269.43,522.83L269.52,522.49L269.68,522.18L269.9,521.9L270.18,521.68L270.49,521.52L270.83,521.43L271.16,521.38L271.5,521.37L271.84,521.38L272.17,521.43L272.51,521.52L272.82,521.68L273.1,521.9L273.32,522.18L273.48,522.49L273.57,522.83L273.62,523.16Z" fill="none" stroke="#111" stroke-width="0.75"/>
<ellipse cx="258" cy="522" rx="4" ry="8" transform="rotate(0 258 522)" fill="#333" opacity="0.8" filter="url(#b1)"/>
<ellipse cx="271.5" cy="523.3" rx="2" ry="2.5" transform="rotate(0 271.5 523.3)" fill="#ddd" opacity="1" filter="url(#b05)"/>
<polyline points="251.5,511 258,510.2 270,509 282.3,508.8 283.2,520 284.6,535 286,543" fill="none" stroke="#111" stroke-width="0.8"/>
<path d="M250.5,510.5 L255.5,512 L255.8,543 L250.5,543Z" fill="#000"/>
<ellipse cx="279" cy="541.2" rx="6" ry="1.9" transform="rotate(0 279 541.2)" fill="#000" opacity="1" filter="url(#b05)"/>
<text x="38.5" y="450.5" font-size="8.9" font-weight="bold" letter-spacing="0.55">6.3</text>
<text x="138.3" y="450.5" font-size="8.9" font-weight="bold" text-anchor="end" letter-spacing="0.55">11.7</text>
<rect x="38.3" y="531.7" width="22.71" height="8.72" fill="#fff" stroke="#222" stroke-width="0.7"/>
<text x="39.5" y="539" font-size="8.9" font-weight="bold" letter-spacing="0.55">79.4</text>
<text x="138.3" y="538.8" font-size="8.9" font-weight="bold" text-anchor="end" letter-spacing="0.55">2.59</text>
<text x="146.5" y="450.5" font-size="8.9" font-weight="bold" letter-spacing="0.55">0.93</text>
<text x="246.3" y="450.5" font-size="8.9" font-weight="bold" text-anchor="end" letter-spacing="0.55">4.97</text>
<rect x="146.3" y="531.7" width="22.71" height="8.72" fill="#fff" stroke="#222" stroke-width="0.7"/>
<text x="147.5" y="539" font-size="8.9" font-weight="bold" letter-spacing="0.55">91.6</text>
<text x="246.3" y="538.8" font-size="8.9" font-weight="bold" text-anchor="end" letter-spacing="0.55">2.54</text>
<text x="252.5" y="450.5" font-size="8.9" font-weight="bold" letter-spacing="0.55">0.45</text>
<text x="353.3" y="450.5" font-size="8.9" font-weight="bold" text-anchor="end" letter-spacing="0.55">16.3</text>
<rect x="252.3" y="531.7" width="22.71" height="8.72" fill="#fff" stroke="#222" stroke-width="0.7"/>
<text x="253.5" y="539" font-size="8.9" font-weight="bold" letter-spacing="0.55">81.2</text>
<text x="353.3" y="538.8" font-size="8.9" font-weight="bold" text-anchor="end" letter-spacing="0.55">2.08</text>
<line x1="392" y1="449.2" x2="392" y2="529.6" stroke="#000" stroke-width="1.4"/>
<line x1="389.8" y1="529.6" x2="392" y2="529.6" stroke="#000" stroke-width="1.1"/>
<text x="389" y="531.7" font-size="5.8" fill="#222" text-anchor="end">0</text>
<line x1="389.8" y1="513.5" x2="392" y2="513.5" stroke="#000" stroke-width="1.1"/>
<text x="389" y="515.6" font-size="5.8" fill="#222" text-anchor="end">5</text>
<line x1="389.8" y1="497.4" x2="392" y2="497.4" stroke="#000" stroke-width="1.1"/>
<text x="389" y="499.5" font-size="5.8" fill="#222" text-anchor="end">10</text>
<line x1="389.8" y1="481.3" x2="392" y2="481.3" stroke="#000" stroke-width="1.1"/>
<text x="389" y="483.4" font-size="5.8" fill="#222" text-anchor="end">15</text>
<line x1="389.8" y1="465.2" x2="392" y2="465.2" stroke="#000" stroke-width="1.1"/>
<text x="389" y="467.3" font-size="5.8" fill="#222" text-anchor="end">20</text>
<line x1="389.8" y1="449.1" x2="392" y2="449.1" stroke="#000" stroke-width="1.1"/>
<text x="389" y="451.2" font-size="5.8" fill="#222" text-anchor="end">25</text>
<line x1="392" y1="529.6" x2="510.5" y2="529.6" stroke="#000" stroke-width="1.4"/>
<line x1="412.8" y1="529.6" x2="412.8" y2="531.8" stroke="#000" stroke-width="1"/>
<line x1="452.9" y1="529.6" x2="452.9" y2="531.8" stroke="#000" stroke-width="1"/>
<line x1="492.9" y1="529.6" x2="492.9" y2="531.8" stroke="#000" stroke-width="1"/>
<rect x="400" y="480" width="25.6" height="49.6" fill="#fff" stroke="#000" stroke-width="1.7"/>
<line x1="406" y1="478.8" x2="420" y2="478.8" stroke="#000" stroke-width="1.3"/>
<line x1="452.8" y1="492" x2="452.8" y2="496.3" stroke="#000" stroke-width="1.3"/>
<line x1="445.3" y1="492" x2="460.3" y2="492" stroke="#000" stroke-width="1.3"/>
<rect x="440.3" y="496.3" width="25.3" height="33.3" fill="#6e6e6e" stroke="#000" stroke-width="1.7"/>
<line x1="492.8" y1="455.5" x2="492.8" y2="463.3" stroke="#000" stroke-width="1.4"/>
<line x1="486.3" y1="455.5" x2="499.3" y2="455.5" stroke="#000" stroke-width="1.4"/>
<rect x="479.8" y="463.3" width="26.4" height="66.3" fill="#000" stroke="#000" stroke-width="1.2"/>
<polyline points="412,470 412,464.5 445,464.5 445,473.8" fill="none" stroke="#000" stroke-width="1"/>
<polyline points="453,475 453,445 487,445 487,451.3" fill="none" stroke="#000" stroke-width="1"/>
<text x="428.8" y="465.77" font-size="10.5" fill="#111" text-anchor="middle">*</text>
<text x="471.3" y="447.07" font-size="10.5" fill="#111" text-anchor="middle">*</text>
<text x="411.3" y="540.6" font-size="6.4" fill="#111" text-anchor="middle">mock</text>
<text x="450.8" y="540.6" font-size="6.4" fill="#111" text-anchor="middle">miR-17</text>
<text x="494" y="540.6" font-size="6.4" fill="#111" text-anchor="middle">miR-17-CREB1</text>
<text transform="translate(378,490) rotate(-90)" font-size="6.6" font-weight="bold" fill="#111" text-anchor="middle">% of Annexin V+ CD4 T cells</text>
<text x="5.5" y="578.6" font-size="16.5" font-weight="bold">I</text>
<text x="70.4" y="595" font-size="12.5" font-weight="bold" text-anchor="middle">mock</text>
<text x="162.9" y="595" font-size="12.5" font-weight="bold" text-anchor="middle">miR-17</text>
<text x="245.3" y="594.6" font-size="12.5" font-weight="bold" text-anchor="middle">miR-19b</text>
<text x="336.9" y="594.6" font-size="12.5" font-weight="bold" text-anchor="middle">miR-17+CREB1</text>
<polyline points="72,583 72,578 155,578 155,582.5" fill="none" stroke="#000" stroke-width="0.9"/>
<polyline points="171.3,583 171.3,577.5 333.3,577.5 333.3,583" fill="none" stroke="#000" stroke-width="0.9"/>
<text x="113.1" y="580.95" font-size="13" fill="#111" text-anchor="middle">***</text>
<text x="255.6" y="579.98" font-size="12.5" fill="#111" text-anchor="middle">**</text>
<line x1="26.6" y1="599" x2="26.6" y2="663" stroke="#000" stroke-width="0.9"/>
<path d="M26.6,596 L24.4,601.5 L28.8,601.5Z" fill="#000"/>
<text transform="translate(29.2,679.7) rotate(-90)" font-size="10" fill="#111" text-anchor="middle">Foxp3</text>
<text x="35.6" y="696.3" font-size="9.8" fill="#111">CD25</text>
<line x1="63.2" y1="693.9" x2="360" y2="693.9" stroke="#000" stroke-width="0.9"/>
<path d="M364,693.9 L358.5,691.7 L358.5,696.1Z" fill="#000"/>
<path d="M91.4 626.1h0.75v0.75h-0.75zM40.2 662.6h0.75v0.75h-0.75zM39.0 672.1h0.75v0.75h-0.75zM59.5 631.3h0.75v0.75h-0.75zM83.0 637.1h0.75v0.75h-0.75zM81.2 626.0h0.75v0.75h-0.75zM109.8 637.5h0.75v0.75h-0.75zM104.1 625.9h0.75v0.75h-0.75zM100.7 681.9h0.75v0.75h-0.75zM67.5 617.8h0.75v0.75h-0.75zM66.5 658.9h0.75v0.75h-0.75zM53.8 652.5h0.75v0.75h-0.75zM43.2 647.0h0.75v0.75h-0.75zM94.9 644.7h0.75v0.75h-0.75zM90.9 623.3h0.75v0.75h-0.75zM103.0 623.9h0.75v0.75h-0.75zM112.1 651.2h0.75v0.75h-0.75zM59.3 639.1h0.75v0.75h-0.75zM96.7 649.2h0.75v0.75h-0.75zM111.3 621.9h0.75v0.75h-0.75zM75.1 674.0h0.75v0.75h-0.75zM84.3 652.2h0.75v0.75h-0.75zM42.8 625.0h0.75v0.75h-0.75zM57.7 676.0h0.75v0.75h-0.75zM104.4 631.0h0.75v0.75h-0.75zM110.9 617.8h0.75v0.75h-0.75zM84.3 681.0h0.75v0.75h-0.75zM63.6 679.4h0.75v0.75h-0.75zM89.0 619.0h0.75v0.75h-0.75zM62.7 646.0h0.75v0.75h-0.75zM55.7 665.8h0.75v0.75h-0.75zM50.2 668.9h0.75v0.75h-0.75zM59.9 620.3h0.75v0.75h-0.75zM81.1 622.1h0.75v0.75h-0.75zM80.5 668.9h0.75v0.75h-0.75zM84.1 646.8h0.75v0.75h-0.75zM38.3 650.3h0.75v0.75h-0.75zM43.5 659.3h0.75v0.75h-0.75zM46.3 654.7h0.75v0.75h-0.75zM64.3 640.9h0.75v0.75h-0.75zM89.6 626.7h0.75v0.75h-0.75zM49.4 679.2h0.75v0.75h-0.75zM62.6 672.5h0.75v0.75h-0.75zM106.7 648.1h0.75v0.75h-0.75zM47.7 622.0h0.75v0.75h-0.75zM107.2 623.5h0.75v0.75h-0.75zM76.0 651.8h0.75v0.75h-0.75zM45.2 647.2h0.75v0.75h-0.75zM49.0 651.8h0.75v0.75h-0.75zM49.8 654.5h0.75v0.75h-0.75zM69.0 667.5h0.75v0.75h-0.75zM66.3 661.5h0.75v0.75h-0.75zM66.0 681.3h0.75v0.75h-0.75zM99.9 658.0h0.75v0.75h-0.75zM37.6 656.7h0.75v0.75h-0.75zM43.4 646.5h0.75v0.75h-0.75zM67.3 676.5h0.75v0.75h-0.75zM70.8 663.4h0.75v0.75h-0.75zM78.8 657.5h0.75v0.75h-0.75zM51.7 653.8h0.75v0.75h-0.75zM69.0 651.5h0.75v0.75h-0.75zM54.4 650.5h0.75v0.75h-0.75zM42.4 642.2h0.75v0.75h-0.75zM62.8 650.5h0.75v0.75h-0.75zM64.6 672.6h0.75v0.75h-0.75zM68.4 654.6h0.75v0.75h-0.75zM47.1 641.5h0.75v0.75h-0.75zM69.5 644.1h0.75v0.75h-0.75zM70.3 641.6h0.75v0.75h-0.75zM66.0 654.1h0.75v0.75h-0.75zM78.5 650.1h0.75v0.75h-0.75zM58.7 658.1h0.75v0.75h-0.75zM64.9 676.1h0.75v0.75h-0.75zM60.4 648.3h0.75v0.75h-0.75zM59.5 660.9h0.75v0.75h-0.75zM67.5 663.7h0.75v0.75h-0.75zM90.7 654.6h0.75v0.75h-0.75zM46.6 656.9h0.75v0.75h-0.75zM70.1 627.1h0.75v0.75h-0.75zM64.3 636.5h0.75v0.75h-0.75zM70.7 672.3h0.75v0.75h-0.75zM79.0 636.2h0.75v0.75h-0.75zM84.0 666.3h0.75v0.75h-0.75zM58.9 661.3h0.75v0.75h-0.75zM86.0 650.9h0.75v0.75h-0.75zM63.9 648.0h0.75v0.75h-0.75zM80.8 628.1h0.75v0.75h-0.75zM84.6 642.9h0.75v0.75h-0.75zM77.5 634.7h0.75v0.75h-0.75zM50.6 647.5h0.75v0.75h-0.75zM76.0 634.7h0.75v0.75h-0.75zM72.8 647.1h0.75v0.75h-0.75zM82.0 651.1h0.75v0.75h-0.75zM71.1 652.9h0.75v0.75h-0.75zM90.0 650.5h0.75v0.75h-0.75zM63.7 679.8h0.75v0.75h-0.75zM65.2 663.6h0.75v0.75h-0.75zM53.5 657.5h0.75v0.75h-0.75zM54.8 636.2h0.75v0.75h-0.75zM43.7 669.3h0.75v0.75h-0.75zM70.2 636.0h0.75v0.75h-0.75zM90.3 646.3h0.75v0.75h-0.75zM58.8 658.1h0.75v0.75h-0.75zM47.7 634.8h0.75v0.75h-0.75zM53.3 669.8h0.75v0.75h-0.75zM77.8 635.2h0.75v0.75h-0.75zM81.5 655.4h0.75v0.75h-0.75zM71.3 655.6h0.75v0.75h-0.75zM70.1 642.5h0.75v0.75h-0.75zM51.0 646.2h0.75v0.75h-0.75zM58.8 662.7h0.75v0.75h-0.75zM46.5 674.9h0.75v0.75h-0.75zM55.0 647.6h0.75v0.75h-0.75zM74.2 660.4h0.75v0.75h-0.75zM59.2 641.6h0.75v0.75h-0.75zM49.7 635.0h0.75v0.75h-0.75zM80.6 668.6h0.75v0.75h-0.75zM91.1 661.2h0.75v0.75h-0.75zM68.9 664.5h0.75v0.75h-0.75zM77.8 651.8h0.75v0.75h-0.75zM69.2 681.9h0.75v0.75h-0.75zM39.6 637.4h0.75v0.75h-0.75zM50.2 664.4h0.75v0.75h-0.75zM81.2 650.8h0.75v0.75h-0.75zM73.8 654.4h0.75v0.75h-0.75zM68.4 648.2h0.75v0.75h-0.75zM63.7 654.9h0.75v0.75h-0.75zM37.9 661.7h0.75v0.75h-0.75zM64.0 667.1h0.75v0.75h-0.75zM79.4 664.8h0.75v0.75h-0.75zM75.8 643.1h0.75v0.75h-0.75zM39.5 675.9h0.75v0.75h-0.75zM81.5 643.1h0.75v0.75h-0.75zM82.7 663.3h0.75v0.75h-0.75zM49.8 669.6h0.75v0.75h-0.75zM54.2 645.7h0.75v0.75h-0.75zM41.8 652.3h0.75v0.75h-0.75zM78.8 646.6h0.75v0.75h-0.75zM37.2 681.9h0.75v0.75h-0.75zM90.8 663.6h0.75v0.75h-0.75zM56.3 639.8h0.75v0.75h-0.75zM40.4 662.0h0.75v0.75h-0.75zM82.9 641.7h0.75v0.75h-0.75zM64.1 651.5h0.75v0.75h-0.75zM60.4 661.3h0.75v0.75h-0.75zM94.3 647.0h0.75v0.75h-0.75zM76.4 668.6h0.75v0.75h-0.75zM60.0 653.1h0.75v0.75h-0.75zM44.7 668.5h0.75v0.75h-0.75zM56.4 646.8h0.75v0.75h-0.75zM65.1 644.2h0.75v0.75h-0.75zM49.0 651.3h0.75v0.75h-0.75zM85.6 652.4h0.75v0.75h-0.75zM71.7 636.6h0.75v0.75h-0.75zM58.3 635.7h0.75v0.75h-0.75zM62.6 662.6h0.75v0.75h-0.75zM39.1 643.9h0.75v0.75h-0.75zM67.8 643.4h0.75v0.75h-0.75zM75.6 667.1h0.75v0.75h-0.75zM70.5 649.6h0.75v0.75h-0.75zM63.4 647.1h0.75v0.75h-0.75zM62.2 659.0h0.75v0.75h-0.75zM59.7 667.2h0.75v0.75h-0.75zM101.6 648.1h0.75v0.75h-0.75zM69.1 665.3h0.75v0.75h-0.75zM73.4 652.0h0.75v0.75h-0.75zM57.1 667.6h0.75v0.75h-0.75zM73.1 661.4h0.75v0.75h-0.75zM52.5 662.9h0.75v0.75h-0.75zM75.6 652.7h0.75v0.75h-0.75zM36.9 662.6h0.75v0.75h-0.75zM47.1 637.9h0.75v0.75h-0.75zM60.7 661.9h0.75v0.75h-0.75zM64.8 640.4h0.75v0.75h-0.75zM43.2 648.0h0.75v0.75h-0.75zM64.3 644.6h0.75v0.75h-0.75zM42.3 677.1h0.75v0.75h-0.75zM51.9 653.0h0.75v0.75h-0.75zM56.1 647.6h0.75v0.75h-0.75zM64.7 651.3h0.75v0.75h-0.75zM73.1 640.1h0.75v0.75h-0.75zM42.5 679.5h0.75v0.75h-0.75zM63.0 664.7h0.75v0.75h-0.75zM81.2 662.0h0.75v0.75h-0.75zM64.6 635.4h0.75v0.75h-0.75zM40.8 667.3h0.75v0.75h-0.75zM73.9 662.2h0.75v0.75h-0.75zM40.0 628.2h0.75v0.75h-0.75zM48.7 640.1h0.75v0.75h-0.75zM66.4 642.1h0.75v0.75h-0.75zM87.1 647.2h0.75v0.75h-0.75zM55.9 665.9h0.75v0.75h-0.75zM68.9 643.7h0.75v0.75h-0.75zM76.0 679.2h0.75v0.75h-0.75zM46.2 651.9h0.75v0.75h-0.75zM48.4 630.5h0.75v0.75h-0.75zM73.2 663.8h0.75v0.75h-0.75zM78.3 660.4h0.75v0.75h-0.75zM54.4 640.2h0.75v0.75h-0.75zM48.0 664.7h0.75v0.75h-0.75zM59.8 679.8h0.75v0.75h-0.75z" fill="#999" opacity="1"/>
<polyline points="117,615.6 60.5,615.6 60.5,650 117,650" fill="none" stroke="#888" stroke-width="0.8"/>
<line x1="35.6" y1="601.6" x2="117" y2="601.6" stroke="#555" stroke-width="0.9"/>
<line x1="117" y1="601.6" x2="117" y2="683.2" stroke="#555" stroke-width="0.9"/>
<line x1="35.6" y1="601.3" x2="35.6" y2="683.2" stroke="#333" stroke-width="1"/>
<line x1="35.6" y1="683.2" x2="117" y2="683.2" stroke="#222" stroke-width="1"/>
<line x1="34.4" y1="615.2" x2="35.6" y2="615.2" stroke="#555" stroke-width="0.6"/>
<line x1="34.4" y1="628.8" x2="35.6" y2="628.8" stroke="#555" stroke-width="0.6"/>
<line x1="34.4" y1="642.4" x2="35.6" y2="642.4" stroke="#555" stroke-width="0.6"/>
<line x1="34.4" y1="656" x2="35.6" y2="656" stroke="#555" stroke-width="0.6"/>
<line x1="34.4" y1="669.6" x2="35.6" y2="669.6" stroke="#555" stroke-width="0.6"/>
<line x1="45.78" y1="683.2" x2="45.78" y2="684.6" stroke="#555" stroke-width="0.6"/>
<line x1="55.95" y1="683.2" x2="55.95" y2="684.6" stroke="#555" stroke-width="0.6"/>
<line x1="66.12" y1="683.2" x2="66.12" y2="684.6" stroke="#555" stroke-width="0.6"/>
<line x1="76.3" y1="683.2" x2="76.3" y2="684.6" stroke="#555" stroke-width="0.6"/>
<line x1="86.47" y1="683.2" x2="86.47" y2="684.6" stroke="#555" stroke-width="0.6"/>
<line x1="96.65" y1="683.2" x2="96.65" y2="684.6" stroke="#555" stroke-width="0.6"/>
<line x1="106.83" y1="683.2" x2="106.83" y2="684.6" stroke="#555" stroke-width="0.6"/>
<path d="M186.9 672.3h0.75v0.75h-0.75zM133.9 661.0h0.75v0.75h-0.75zM184.0 649.4h0.75v0.75h-0.75zM196.0 676.4h0.75v0.75h-0.75zM183.1 671.1h0.75v0.75h-0.75zM175.3 675.0h0.75v0.75h-0.75zM132.2 663.2h0.75v0.75h-0.75zM179.9 657.0h0.75v0.75h-0.75zM144.2 620.2h0.75v0.75h-0.75zM171.5 671.3h0.75v0.75h-0.75zM144.0 630.0h0.75v0.75h-0.75zM139.9 621.9h0.75v0.75h-0.75zM177.5 681.5h0.75v0.75h-0.75zM188.0 639.9h0.75v0.75h-0.75zM179.5 620.5h0.75v0.75h-0.75zM191.1 637.6h0.75v0.75h-0.75zM132.8 634.2h0.75v0.75h-0.75zM126.2 645.7h0.75v0.75h-0.75zM167.5 670.2h0.75v0.75h-0.75zM124.6 671.5h0.75v0.75h-0.75zM130.5 630.8h0.75v0.75h-0.75zM173.7 638.6h0.75v0.75h-0.75zM148.8 654.0h0.75v0.75h-0.75zM139.4 669.2h0.75v0.75h-0.75zM138.7 672.3h0.75v0.75h-0.75zM188.6 651.9h0.75v0.75h-0.75zM123.8 668.2h0.75v0.75h-0.75zM123.7 649.7h0.75v0.75h-0.75zM156.6 619.9h0.75v0.75h-0.75zM173.7 664.6h0.75v0.75h-0.75zM170.0 642.6h0.75v0.75h-0.75zM163.9 655.4h0.75v0.75h-0.75zM140.1 674.3h0.75v0.75h-0.75zM201.3 637.9h0.75v0.75h-0.75zM203.4 620.4h0.75v0.75h-0.75zM161.1 624.6h0.75v0.75h-0.75zM159.1 661.7h0.75v0.75h-0.75zM180.2 646.3h0.75v0.75h-0.75zM149.7 628.4h0.75v0.75h-0.75zM154.8 634.7h0.75v0.75h-0.75zM137.5 665.4h0.75v0.75h-0.75zM164.2 645.3h0.75v0.75h-0.75zM137.7 663.2h0.75v0.75h-0.75zM137.7 633.6h0.75v0.75h-0.75zM167.9 663.0h0.75v0.75h-0.75zM202.3 666.1h0.75v0.75h-0.75zM200.2 677.8h0.75v0.75h-0.75zM181.4 664.2h0.75v0.75h-0.75zM159.8 658.4h0.75v0.75h-0.75zM180.3 657.1h0.75v0.75h-0.75zM146.7 636.9h0.75v0.75h-0.75zM149.2 667.1h0.75v0.75h-0.75zM161.4 670.7h0.75v0.75h-0.75zM163.2 654.4h0.75v0.75h-0.75zM159.4 657.2h0.75v0.75h-0.75zM130.7 677.0h0.75v0.75h-0.75zM156.0 641.5h0.75v0.75h-0.75zM156.1 658.7h0.75v0.75h-0.75zM165.2 673.5h0.75v0.75h-0.75zM173.1 642.8h0.75v0.75h-0.75zM122.9 658.6h0.75v0.75h-0.75zM155.4 659.5h0.75v0.75h-0.75zM134.0 649.0h0.75v0.75h-0.75zM153.3 664.6h0.75v0.75h-0.75zM183.0 658.8h0.75v0.75h-0.75zM141.5 624.6h0.75v0.75h-0.75zM166.4 653.3h0.75v0.75h-0.75zM148.8 642.3h0.75v0.75h-0.75zM161.3 631.9h0.75v0.75h-0.75zM152.0 656.6h0.75v0.75h-0.75zM154.9 671.8h0.75v0.75h-0.75zM148.9 656.2h0.75v0.75h-0.75zM163.2 635.0h0.75v0.75h-0.75zM146.1 655.9h0.75v0.75h-0.75zM164.6 644.7h0.75v0.75h-0.75zM162.4 660.0h0.75v0.75h-0.75zM128.3 635.9h0.75v0.75h-0.75zM129.1 656.8h0.75v0.75h-0.75zM153.5 664.3h0.75v0.75h-0.75zM162.6 647.9h0.75v0.75h-0.75zM166.3 665.6h0.75v0.75h-0.75zM157.4 661.2h0.75v0.75h-0.75zM131.3 659.7h0.75v0.75h-0.75zM135.0 639.6h0.75v0.75h-0.75zM145.2 656.8h0.75v0.75h-0.75zM149.6 650.7h0.75v0.75h-0.75zM135.5 657.4h0.75v0.75h-0.75zM139.4 636.8h0.75v0.75h-0.75zM151.8 673.8h0.75v0.75h-0.75zM144.4 641.3h0.75v0.75h-0.75zM171.1 677.1h0.75v0.75h-0.75zM146.0 652.3h0.75v0.75h-0.75zM152.4 667.9h0.75v0.75h-0.75zM157.0 631.5h0.75v0.75h-0.75zM134.0 639.1h0.75v0.75h-0.75zM156.9 656.4h0.75v0.75h-0.75zM177.1 651.5h0.75v0.75h-0.75zM155.0 656.0h0.75v0.75h-0.75zM154.7 674.1h0.75v0.75h-0.75zM169.8 647.1h0.75v0.75h-0.75zM160.7 650.1h0.75v0.75h-0.75zM152.1 657.0h0.75v0.75h-0.75zM150.7 648.9h0.75v0.75h-0.75zM173.7 651.6h0.75v0.75h-0.75zM160.9 676.8h0.75v0.75h-0.75zM159.8 668.3h0.75v0.75h-0.75zM171.2 669.1h0.75v0.75h-0.75zM176.1 636.5h0.75v0.75h-0.75zM179.7 655.4h0.75v0.75h-0.75zM124.3 646.7h0.75v0.75h-0.75zM129.6 654.7h0.75v0.75h-0.75zM128.1 642.0h0.75v0.75h-0.75zM154.8 657.0h0.75v0.75h-0.75zM138.5 652.0h0.75v0.75h-0.75zM148.9 656.0h0.75v0.75h-0.75zM150.3 652.1h0.75v0.75h-0.75zM163.6 634.2h0.75v0.75h-0.75zM143.0 656.7h0.75v0.75h-0.75zM144.4 647.8h0.75v0.75h-0.75zM143.9 657.7h0.75v0.75h-0.75zM169.1 652.6h0.75v0.75h-0.75zM146.4 659.6h0.75v0.75h-0.75zM146.8 629.9h0.75v0.75h-0.75zM154.4 650.1h0.75v0.75h-0.75zM141.8 663.2h0.75v0.75h-0.75zM151.1 647.7h0.75v0.75h-0.75zM150.6 653.5h0.75v0.75h-0.75zM157.0 657.9h0.75v0.75h-0.75zM143.2 638.6h0.75v0.75h-0.75zM134.0 653.2h0.75v0.75h-0.75zM133.2 664.8h0.75v0.75h-0.75zM130.5 631.7h0.75v0.75h-0.75zM147.5 631.9h0.75v0.75h-0.75zM174.8 642.1h0.75v0.75h-0.75zM149.6 651.8h0.75v0.75h-0.75zM138.1 632.0h0.75v0.75h-0.75zM122.5 666.2h0.75v0.75h-0.75zM128.5 662.3h0.75v0.75h-0.75zM150.2 666.0h0.75v0.75h-0.75zM142.7 664.4h0.75v0.75h-0.75zM163.9 662.9h0.75v0.75h-0.75zM172.1 652.7h0.75v0.75h-0.75zM173.6 645.9h0.75v0.75h-0.75zM175.4 619.3h0.75v0.75h-0.75zM150.6 644.6h0.75v0.75h-0.75zM150.4 668.4h0.75v0.75h-0.75zM161.2 656.2h0.75v0.75h-0.75zM175.9 635.8h0.75v0.75h-0.75zM138.2 674.6h0.75v0.75h-0.75zM155.3 628.0h0.75v0.75h-0.75zM155.5 639.6h0.75v0.75h-0.75zM172.6 669.9h0.75v0.75h-0.75zM142.2 671.8h0.75v0.75h-0.75zM137.9 667.0h0.75v0.75h-0.75zM159.1 653.3h0.75v0.75h-0.75zM129.1 651.4h0.75v0.75h-0.75zM122.7 670.8h0.75v0.75h-0.75zM135.9 623.4h0.75v0.75h-0.75zM159.2 659.8h0.75v0.75h-0.75zM162.0 655.9h0.75v0.75h-0.75zM140.7 616.6h0.75v0.75h-0.75zM157.6 667.5h0.75v0.75h-0.75zM141.5 636.6h0.75v0.75h-0.75zM149.8 633.3h0.75v0.75h-0.75zM150.5 665.0h0.75v0.75h-0.75zM173.1 658.4h0.75v0.75h-0.75zM153.4 664.7h0.75v0.75h-0.75zM171.4 650.8h0.75v0.75h-0.75zM132.0 644.7h0.75v0.75h-0.75zM131.5 643.4h0.75v0.75h-0.75zM148.6 659.5h0.75v0.75h-0.75zM152.8 655.9h0.75v0.75h-0.75zM145.1 660.5h0.75v0.75h-0.75zM163.7 664.9h0.75v0.75h-0.75zM172.9 651.2h0.75v0.75h-0.75zM146.6 677.0h0.75v0.75h-0.75zM153.4 660.4h0.75v0.75h-0.75zM145.4 667.6h0.75v0.75h-0.75zM144.4 641.9h0.75v0.75h-0.75zM149.5 649.3h0.75v0.75h-0.75zM162.9 650.1h0.75v0.75h-0.75zM152.3 652.2h0.75v0.75h-0.75zM155.5 646.8h0.75v0.75h-0.75zM167.0 636.5h0.75v0.75h-0.75zM144.6 645.8h0.75v0.75h-0.75zM160.1 655.5h0.75v0.75h-0.75zM157.7 650.7h0.75v0.75h-0.75zM139.7 640.4h0.75v0.75h-0.75zM145.4 648.0h0.75v0.75h-0.75zM154.6 659.6h0.75v0.75h-0.75zM165.1 653.6h0.75v0.75h-0.75zM139.2 641.2h0.75v0.75h-0.75zM151.3 659.7h0.75v0.75h-0.75zM179.6 657.4h0.75v0.75h-0.75zM176.8 679.4h0.75v0.75h-0.75zM134.7 670.7h0.75v0.75h-0.75zM167.5 672.5h0.75v0.75h-0.75zM150.3 667.4h0.75v0.75h-0.75zM143.2 654.1h0.75v0.75h-0.75zM150.7 678.2h0.75v0.75h-0.75zM147.2 667.4h0.75v0.75h-0.75z" fill="#999" opacity="1"/>
<polyline points="204.5,616.3 146.3,616.3 146.3,650 204.5,650" fill="none" stroke="#888" stroke-width="0.8"/>
<line x1="121.3" y1="601.6" x2="204.5" y2="601.6" stroke="#555" stroke-width="0.9"/>
<line x1="204.5" y1="601.6" x2="204.5" y2="683.2" stroke="#555" stroke-width="0.9"/>
<line x1="121.3" y1="601.3" x2="121.3" y2="683.2" stroke="#333" stroke-width="1"/>
<line x1="121.3" y1="683.2" x2="204.5" y2="683.2" stroke="#222" stroke-width="1"/>
<line x1="120.1" y1="615.2" x2="121.3" y2="615.2" stroke="#555" stroke-width="0.6"/>
<line x1="120.1" y1="628.8" x2="121.3" y2="628.8" stroke="#555" stroke-width="0.6"/>
<line x1="120.1" y1="642.4" x2="121.3" y2="642.4" stroke="#555" stroke-width="0.6"/>
<line x1="120.1" y1="656" x2="121.3" y2="656" stroke="#555" stroke-width="0.6"/>
<line x1="120.1" y1="669.6" x2="121.3" y2="669.6" stroke="#555" stroke-width="0.6"/>
<line x1="131.7" y1="683.2" x2="131.7" y2="684.6" stroke="#555" stroke-width="0.6"/>
<line x1="142.1" y1="683.2" x2="142.1" y2="684.6" stroke="#555" stroke-width="0.6"/>
<line x1="152.5" y1="683.2" x2="152.5" y2="684.6" stroke="#555" stroke-width="0.6"/>
<line x1="162.9" y1="683.2" x2="162.9" y2="684.6" stroke="#555" stroke-width="0.6"/>
<line x1="173.3" y1="683.2" x2="173.3" y2="684.6" stroke="#555" stroke-width="0.6"/>
<line x1="183.7" y1="683.2" x2="183.7" y2="684.6" stroke="#555" stroke-width="0.6"/>
<line x1="194.1" y1="683.2" x2="194.1" y2="684.6" stroke="#555" stroke-width="0.6"/>
<path d="M269.4 630.7h0.75v0.75h-0.75zM222.3 630.4h0.75v0.75h-0.75zM238.0 640.3h0.75v0.75h-0.75zM259.2 647.5h0.75v0.75h-0.75zM278.0 619.0h0.75v0.75h-0.75zM261.0 672.1h0.75v0.75h-0.75zM225.7 617.6h0.75v0.75h-0.75zM242.5 623.4h0.75v0.75h-0.75zM244.2 663.7h0.75v0.75h-0.75zM214.0 623.6h0.75v0.75h-0.75zM245.9 627.4h0.75v0.75h-0.75zM225.3 645.4h0.75v0.75h-0.75zM216.1 620.2h0.75v0.75h-0.75zM236.1 647.3h0.75v0.75h-0.75zM283.6 653.1h0.75v0.75h-0.75zM212.2 630.6h0.75v0.75h-0.75zM267.7 653.7h0.75v0.75h-0.75zM278.1 680.7h0.75v0.75h-0.75zM277.1 623.0h0.75v0.75h-0.75zM284.2 651.1h0.75v0.75h-0.75zM226.1 627.1h0.75v0.75h-0.75zM277.6 630.0h0.75v0.75h-0.75zM213.2 633.5h0.75v0.75h-0.75zM282.5 646.8h0.75v0.75h-0.75zM266.6 620.6h0.75v0.75h-0.75zM243.7 637.1h0.75v0.75h-0.75zM223.2 660.4h0.75v0.75h-0.75zM236.1 623.7h0.75v0.75h-0.75zM287.5 648.2h0.75v0.75h-0.75zM221.1 616.3h0.75v0.75h-0.75zM260.2 650.4h0.75v0.75h-0.75zM208.3 647.4h0.75v0.75h-0.75zM267.4 651.9h0.75v0.75h-0.75zM225.6 649.3h0.75v0.75h-0.75zM256.2 659.6h0.75v0.75h-0.75zM218.3 669.9h0.75v0.75h-0.75zM284.3 665.6h0.75v0.75h-0.75zM277.0 640.5h0.75v0.75h-0.75zM280.8 627.9h0.75v0.75h-0.75zM225.0 656.0h0.75v0.75h-0.75zM280.7 621.1h0.75v0.75h-0.75zM224.2 618.0h0.75v0.75h-0.75zM242.5 625.1h0.75v0.75h-0.75zM222.1 666.2h0.75v0.75h-0.75zM254.4 679.1h0.75v0.75h-0.75zM239.5 661.5h0.75v0.75h-0.75zM207.3 679.7h0.75v0.75h-0.75zM225.5 647.8h0.75v0.75h-0.75zM248.5 679.7h0.75v0.75h-0.75zM227.6 648.7h0.75v0.75h-0.75zM240.2 647.5h0.75v0.75h-0.75zM251.7 655.0h0.75v0.75h-0.75zM228.5 667.0h0.75v0.75h-0.75zM222.9 671.1h0.75v0.75h-0.75zM249.5 656.8h0.75v0.75h-0.75zM249.9 675.8h0.75v0.75h-0.75zM255.7 655.0h0.75v0.75h-0.75zM234.4 669.3h0.75v0.75h-0.75zM213.3 647.2h0.75v0.75h-0.75zM242.4 662.3h0.75v0.75h-0.75zM262.9 677.7h0.75v0.75h-0.75zM240.0 660.7h0.75v0.75h-0.75zM215.6 652.6h0.75v0.75h-0.75zM239.1 652.1h0.75v0.75h-0.75zM236.1 662.8h0.75v0.75h-0.75zM221.0 647.7h0.75v0.75h-0.75zM208.8 669.7h0.75v0.75h-0.75zM219.5 633.1h0.75v0.75h-0.75zM246.6 652.2h0.75v0.75h-0.75zM249.5 650.3h0.75v0.75h-0.75zM266.7 664.2h0.75v0.75h-0.75zM237.4 656.5h0.75v0.75h-0.75zM232.1 665.4h0.75v0.75h-0.75zM264.8 649.6h0.75v0.75h-0.75zM219.0 662.7h0.75v0.75h-0.75zM251.0 635.8h0.75v0.75h-0.75zM224.9 642.2h0.75v0.75h-0.75zM243.5 661.5h0.75v0.75h-0.75zM224.3 640.5h0.75v0.75h-0.75zM245.3 628.6h0.75v0.75h-0.75zM244.7 653.0h0.75v0.75h-0.75zM263.6 667.8h0.75v0.75h-0.75zM226.6 651.5h0.75v0.75h-0.75zM231.1 645.7h0.75v0.75h-0.75zM236.4 667.4h0.75v0.75h-0.75zM212.9 652.1h0.75v0.75h-0.75zM257.3 664.5h0.75v0.75h-0.75zM223.1 644.7h0.75v0.75h-0.75zM222.5 634.4h0.75v0.75h-0.75zM252.2 655.9h0.75v0.75h-0.75zM224.9 636.6h0.75v0.75h-0.75zM229.5 648.4h0.75v0.75h-0.75zM260.6 649.1h0.75v0.75h-0.75zM236.9 668.7h0.75v0.75h-0.75zM245.0 652.7h0.75v0.75h-0.75zM244.0 649.4h0.75v0.75h-0.75zM233.9 642.8h0.75v0.75h-0.75zM221.9 636.0h0.75v0.75h-0.75zM242.6 661.6h0.75v0.75h-0.75zM237.8 665.0h0.75v0.75h-0.75zM243.1 656.6h0.75v0.75h-0.75zM222.1 662.6h0.75v0.75h-0.75zM252.7 663.1h0.75v0.75h-0.75zM253.6 649.0h0.75v0.75h-0.75zM220.7 671.0h0.75v0.75h-0.75zM226.6 658.1h0.75v0.75h-0.75zM232.4 655.3h0.75v0.75h-0.75zM231.2 648.1h0.75v0.75h-0.75zM208.9 679.3h0.75v0.75h-0.75zM238.2 630.4h0.75v0.75h-0.75zM221.8 640.6h0.75v0.75h-0.75zM224.3 622.5h0.75v0.75h-0.75zM243.6 675.9h0.75v0.75h-0.75zM231.6 664.5h0.75v0.75h-0.75zM244.0 639.1h0.75v0.75h-0.75zM253.1 633.5h0.75v0.75h-0.75zM226.7 650.4h0.75v0.75h-0.75zM253.7 656.5h0.75v0.75h-0.75zM233.3 644.8h0.75v0.75h-0.75zM236.5 655.5h0.75v0.75h-0.75zM245.9 672.8h0.75v0.75h-0.75zM246.0 655.2h0.75v0.75h-0.75zM232.9 675.4h0.75v0.75h-0.75zM238.1 654.8h0.75v0.75h-0.75zM261.6 675.0h0.75v0.75h-0.75zM243.5 653.6h0.75v0.75h-0.75zM225.9 668.6h0.75v0.75h-0.75zM228.5 667.2h0.75v0.75h-0.75zM223.7 656.3h0.75v0.75h-0.75zM241.1 656.8h0.75v0.75h-0.75zM238.6 659.9h0.75v0.75h-0.75zM218.7 640.9h0.75v0.75h-0.75zM233.0 678.0h0.75v0.75h-0.75zM233.4 643.2h0.75v0.75h-0.75zM225.5 655.4h0.75v0.75h-0.75zM252.5 647.8h0.75v0.75h-0.75zM243.4 657.4h0.75v0.75h-0.75zM230.0 643.0h0.75v0.75h-0.75zM232.9 645.8h0.75v0.75h-0.75zM243.1 632.6h0.75v0.75h-0.75zM251.7 664.6h0.75v0.75h-0.75zM243.7 674.0h0.75v0.75h-0.75zM244.0 633.3h0.75v0.75h-0.75zM236.0 660.7h0.75v0.75h-0.75zM225.2 640.6h0.75v0.75h-0.75zM241.5 661.5h0.75v0.75h-0.75zM228.9 651.9h0.75v0.75h-0.75zM227.8 647.8h0.75v0.75h-0.75zM234.3 668.6h0.75v0.75h-0.75zM211.6 650.7h0.75v0.75h-0.75zM258.8 659.0h0.75v0.75h-0.75zM237.4 665.6h0.75v0.75h-0.75zM220.5 639.7h0.75v0.75h-0.75zM210.9 636.5h0.75v0.75h-0.75zM238.8 665.8h0.75v0.75h-0.75zM229.1 646.4h0.75v0.75h-0.75zM241.1 662.8h0.75v0.75h-0.75zM238.9 630.9h0.75v0.75h-0.75zM227.2 622.9h0.75v0.75h-0.75zM238.7 644.2h0.75v0.75h-0.75zM225.6 674.0h0.75v0.75h-0.75zM254.5 661.1h0.75v0.75h-0.75zM239.2 657.2h0.75v0.75h-0.75zM226.6 654.4h0.75v0.75h-0.75zM263.1 643.9h0.75v0.75h-0.75zM225.5 657.1h0.75v0.75h-0.75zM248.2 665.6h0.75v0.75h-0.75zM221.1 653.4h0.75v0.75h-0.75zM231.3 639.4h0.75v0.75h-0.75zM236.3 648.9h0.75v0.75h-0.75zM248.6 660.5h0.75v0.75h-0.75zM223.8 656.0h0.75v0.75h-0.75zM230.0 647.0h0.75v0.75h-0.75zM228.1 668.5h0.75v0.75h-0.75zM229.1 633.3h0.75v0.75h-0.75zM223.9 665.2h0.75v0.75h-0.75zM266.6 641.7h0.75v0.75h-0.75zM230.0 650.8h0.75v0.75h-0.75zM214.6 660.1h0.75v0.75h-0.75zM234.4 658.5h0.75v0.75h-0.75zM267.8 651.6h0.75v0.75h-0.75zM246.8 665.5h0.75v0.75h-0.75zM225.9 647.5h0.75v0.75h-0.75zM257.9 664.0h0.75v0.75h-0.75zM237.3 641.2h0.75v0.75h-0.75zM248.1 661.7h0.75v0.75h-0.75zM267.2 673.6h0.75v0.75h-0.75zM246.9 658.4h0.75v0.75h-0.75zM236.1 648.0h0.75v0.75h-0.75zM239.7 658.1h0.75v0.75h-0.75zM244.7 668.7h0.75v0.75h-0.75zM239.7 648.1h0.75v0.75h-0.75zM247.0 674.6h0.75v0.75h-0.75zM223.0 660.3h0.75v0.75h-0.75zM243.2 661.8h0.75v0.75h-0.75zM242.5 653.9h0.75v0.75h-0.75zM233.7 676.3h0.75v0.75h-0.75zM260.4 637.3h0.75v0.75h-0.75zM225.3 648.5h0.75v0.75h-0.75zM211.9 659.5h0.75v0.75h-0.75zM234.4 648.2h0.75v0.75h-0.75zM256.7 669.8h0.75v0.75h-0.75zM229.2 663.3h0.75v0.75h-0.75zM234.6 669.6h0.75v0.75h-0.75zM243.7 654.6h0.75v0.75h-0.75z" fill="#999" opacity="1"/>
<polyline points="288.8,617 232,617 232,651.3 288.8,651.3" fill="none" stroke="#888" stroke-width="0.8"/>
<line x1="206.3" y1="601.6" x2="288.8" y2="601.6" stroke="#555" stroke-width="0.9"/>
<line x1="288.8" y1="601.6" x2="288.8" y2="683.2" stroke="#555" stroke-width="0.9"/>
<line x1="206.3" y1="601.3" x2="206.3" y2="683.2" stroke="#333" stroke-width="1"/>
<line x1="206.3" y1="683.2" x2="288.8" y2="683.2" stroke="#222" stroke-width="1"/>
<line x1="205.1" y1="615.2" x2="206.3" y2="615.2" stroke="#555" stroke-width="0.6"/>
<line x1="205.1" y1="628.8" x2="206.3" y2="628.8" stroke="#555" stroke-width="0.6"/>
<line x1="205.1" y1="642.4" x2="206.3" y2="642.4" stroke="#555" stroke-width="0.6"/>
<line x1="205.1" y1="656" x2="206.3" y2="656" stroke="#555" stroke-width="0.6"/>
<line x1="205.1" y1="669.6" x2="206.3" y2="669.6" stroke="#555" stroke-width="0.6"/>
<line x1="216.61" y1="683.2" x2="216.61" y2="684.6" stroke="#555" stroke-width="0.6"/>
<line x1="226.93" y1="683.2" x2="226.93" y2="684.6" stroke="#555" stroke-width="0.6"/>
<line x1="237.24" y1="683.2" x2="237.24" y2="684.6" stroke="#555" stroke-width="0.6"/>
<line x1="247.55" y1="683.2" x2="247.55" y2="684.6" stroke="#555" stroke-width="0.6"/>
<line x1="257.86" y1="683.2" x2="257.86" y2="684.6" stroke="#555" stroke-width="0.6"/>
<line x1="268.18" y1="683.2" x2="268.18" y2="684.6" stroke="#555" stroke-width="0.6"/>
<line x1="278.49" y1="683.2" x2="278.49" y2="684.6" stroke="#555" stroke-width="0.6"/>
<path d="M363.4 637.3h0.75v0.75h-0.75zM306.8 665.9h0.75v0.75h-0.75zM320.9 628.3h0.75v0.75h-0.75zM327.2 671.1h0.75v0.75h-0.75zM364.1 654.5h0.75v0.75h-0.75zM293.4 667.2h0.75v0.75h-0.75zM342.8 676.4h0.75v0.75h-0.75zM371.5 637.7h0.75v0.75h-0.75zM362.9 671.0h0.75v0.75h-0.75zM314.6 640.3h0.75v0.75h-0.75zM323.6 639.5h0.75v0.75h-0.75zM323.9 623.1h0.75v0.75h-0.75zM311.4 677.1h0.75v0.75h-0.75zM326.6 658.6h0.75v0.75h-0.75zM366.1 666.7h0.75v0.75h-0.75zM312.8 677.8h0.75v0.75h-0.75zM352.9 666.6h0.75v0.75h-0.75zM360.0 632.7h0.75v0.75h-0.75zM346.9 641.3h0.75v0.75h-0.75zM362.2 624.6h0.75v0.75h-0.75zM337.2 638.3h0.75v0.75h-0.75zM360.6 638.9h0.75v0.75h-0.75zM362.5 672.9h0.75v0.75h-0.75zM365.4 625.0h0.75v0.75h-0.75zM370.4 665.9h0.75v0.75h-0.75zM348.7 659.7h0.75v0.75h-0.75zM296.5 674.4h0.75v0.75h-0.75zM338.0 646.4h0.75v0.75h-0.75zM320.7 668.5h0.75v0.75h-0.75zM357.4 674.4h0.75v0.75h-0.75zM310.3 638.6h0.75v0.75h-0.75zM313.2 622.4h0.75v0.75h-0.75zM319.7 617.4h0.75v0.75h-0.75zM358.6 631.0h0.75v0.75h-0.75zM298.4 620.2h0.75v0.75h-0.75zM354.0 629.0h0.75v0.75h-0.75zM330.9 642.8h0.75v0.75h-0.75zM359.1 680.1h0.75v0.75h-0.75zM318.2 658.3h0.75v0.75h-0.75zM366.8 647.4h0.75v0.75h-0.75zM367.2 665.2h0.75v0.75h-0.75zM318.4 674.7h0.75v0.75h-0.75zM340.1 622.8h0.75v0.75h-0.75zM341.3 671.7h0.75v0.75h-0.75zM335.5 648.3h0.75v0.75h-0.75zM327.1 675.1h0.75v0.75h-0.75zM347.7 629.7h0.75v0.75h-0.75zM322.6 640.2h0.75v0.75h-0.75zM372.1 662.6h0.75v0.75h-0.75zM345.1 675.4h0.75v0.75h-0.75zM341.1 658.8h0.75v0.75h-0.75zM299.8 663.5h0.75v0.75h-0.75zM315.6 657.5h0.75v0.75h-0.75zM294.1 651.4h0.75v0.75h-0.75zM325.0 643.2h0.75v0.75h-0.75zM325.8 676.2h0.75v0.75h-0.75zM324.9 646.3h0.75v0.75h-0.75zM356.3 627.8h0.75v0.75h-0.75zM308.1 660.2h0.75v0.75h-0.75zM312.9 626.0h0.75v0.75h-0.75zM325.3 665.5h0.75v0.75h-0.75zM309.9 673.6h0.75v0.75h-0.75zM328.8 670.1h0.75v0.75h-0.75zM299.3 655.0h0.75v0.75h-0.75zM344.9 680.5h0.75v0.75h-0.75zM340.8 655.0h0.75v0.75h-0.75zM324.2 647.1h0.75v0.75h-0.75zM337.6 646.2h0.75v0.75h-0.75zM323.4 628.9h0.75v0.75h-0.75zM299.6 677.5h0.75v0.75h-0.75zM322.4 657.7h0.75v0.75h-0.75zM351.8 636.0h0.75v0.75h-0.75zM313.8 652.3h0.75v0.75h-0.75zM303.2 637.8h0.75v0.75h-0.75zM303.5 663.1h0.75v0.75h-0.75zM320.9 665.4h0.75v0.75h-0.75zM305.8 662.5h0.75v0.75h-0.75zM315.1 656.1h0.75v0.75h-0.75zM335.2 655.4h0.75v0.75h-0.75zM316.4 633.9h0.75v0.75h-0.75zM322.5 665.0h0.75v0.75h-0.75zM312.3 654.2h0.75v0.75h-0.75zM295.6 638.0h0.75v0.75h-0.75zM327.5 671.5h0.75v0.75h-0.75zM317.0 633.7h0.75v0.75h-0.75zM316.0 635.1h0.75v0.75h-0.75zM317.5 679.6h0.75v0.75h-0.75zM325.9 653.1h0.75v0.75h-0.75zM336.8 650.2h0.75v0.75h-0.75zM326.4 657.5h0.75v0.75h-0.75zM328.1 636.3h0.75v0.75h-0.75zM332.0 666.2h0.75v0.75h-0.75zM308.4 674.0h0.75v0.75h-0.75zM321.9 663.7h0.75v0.75h-0.75zM329.7 666.3h0.75v0.75h-0.75zM312.2 647.5h0.75v0.75h-0.75zM327.1 662.8h0.75v0.75h-0.75zM330.0 659.3h0.75v0.75h-0.75zM314.4 669.1h0.75v0.75h-0.75zM328.5 668.6h0.75v0.75h-0.75zM311.7 656.5h0.75v0.75h-0.75zM314.5 651.0h0.75v0.75h-0.75zM324.4 659.4h0.75v0.75h-0.75zM309.8 622.6h0.75v0.75h-0.75zM310.0 661.9h0.75v0.75h-0.75zM309.1 660.5h0.75v0.75h-0.75zM316.1 642.9h0.75v0.75h-0.75zM338.8 676.2h0.75v0.75h-0.75zM320.0 654.4h0.75v0.75h-0.75zM335.7 638.0h0.75v0.75h-0.75zM308.6 669.5h0.75v0.75h-0.75zM334.9 648.7h0.75v0.75h-0.75zM310.0 659.5h0.75v0.75h-0.75zM300.7 648.6h0.75v0.75h-0.75zM318.1 623.4h0.75v0.75h-0.75zM330.3 664.8h0.75v0.75h-0.75zM337.4 636.5h0.75v0.75h-0.75zM302.5 644.5h0.75v0.75h-0.75zM302.2 681.4h0.75v0.75h-0.75zM307.1 651.0h0.75v0.75h-0.75zM324.6 660.9h0.75v0.75h-0.75zM343.1 641.0h0.75v0.75h-0.75zM334.6 656.9h0.75v0.75h-0.75zM304.1 656.9h0.75v0.75h-0.75zM300.7 675.9h0.75v0.75h-0.75zM310.7 668.0h0.75v0.75h-0.75zM340.9 647.0h0.75v0.75h-0.75zM308.2 656.7h0.75v0.75h-0.75zM305.9 666.6h0.75v0.75h-0.75zM324.2 645.2h0.75v0.75h-0.75zM311.3 664.4h0.75v0.75h-0.75zM300.0 676.8h0.75v0.75h-0.75zM309.9 652.5h0.75v0.75h-0.75zM307.8 676.0h0.75v0.75h-0.75zM333.8 671.8h0.75v0.75h-0.75zM331.3 656.2h0.75v0.75h-0.75zM346.8 663.6h0.75v0.75h-0.75zM328.1 662.5h0.75v0.75h-0.75zM332.5 658.6h0.75v0.75h-0.75zM319.1 634.4h0.75v0.75h-0.75zM352.3 638.2h0.75v0.75h-0.75zM350.4 670.8h0.75v0.75h-0.75zM312.6 658.4h0.75v0.75h-0.75zM321.2 629.3h0.75v0.75h-0.75zM316.6 658.8h0.75v0.75h-0.75zM339.1 639.4h0.75v0.75h-0.75zM326.5 656.0h0.75v0.75h-0.75zM323.8 656.9h0.75v0.75h-0.75zM316.1 637.3h0.75v0.75h-0.75zM328.3 660.0h0.75v0.75h-0.75zM330.2 671.2h0.75v0.75h-0.75zM303.0 624.6h0.75v0.75h-0.75zM307.9 660.2h0.75v0.75h-0.75zM321.3 664.5h0.75v0.75h-0.75zM369.7 648.3h0.75v0.75h-0.75zM319.0 647.2h0.75v0.75h-0.75zM325.2 661.8h0.75v0.75h-0.75zM307.0 672.1h0.75v0.75h-0.75zM338.7 660.8h0.75v0.75h-0.75zM319.9 651.9h0.75v0.75h-0.75zM296.9 663.5h0.75v0.75h-0.75zM306.9 648.5h0.75v0.75h-0.75zM336.5 643.0h0.75v0.75h-0.75zM313.7 666.2h0.75v0.75h-0.75zM349.4 646.0h0.75v0.75h-0.75zM338.1 646.5h0.75v0.75h-0.75zM327.4 661.3h0.75v0.75h-0.75zM304.5 668.3h0.75v0.75h-0.75zM348.5 655.7h0.75v0.75h-0.75zM325.6 639.8h0.75v0.75h-0.75zM348.4 655.8h0.75v0.75h-0.75zM302.4 664.9h0.75v0.75h-0.75zM299.6 646.1h0.75v0.75h-0.75zM354.7 646.7h0.75v0.75h-0.75zM311.7 647.5h0.75v0.75h-0.75zM313.1 662.2h0.75v0.75h-0.75zM343.4 641.9h0.75v0.75h-0.75zM328.2 631.6h0.75v0.75h-0.75zM344.4 653.9h0.75v0.75h-0.75zM311.0 674.9h0.75v0.75h-0.75zM320.0 672.8h0.75v0.75h-0.75zM337.7 676.5h0.75v0.75h-0.75zM309.5 655.7h0.75v0.75h-0.75zM327.1 652.5h0.75v0.75h-0.75zM344.4 645.7h0.75v0.75h-0.75zM336.6 672.7h0.75v0.75h-0.75zM308.0 647.9h0.75v0.75h-0.75zM327.4 652.7h0.75v0.75h-0.75zM322.7 649.0h0.75v0.75h-0.75zM320.3 661.3h0.75v0.75h-0.75zM332.7 644.8h0.75v0.75h-0.75zM319.8 645.1h0.75v0.75h-0.75zM318.9 636.3h0.75v0.75h-0.75zM335.9 663.7h0.75v0.75h-0.75zM319.7 646.1h0.75v0.75h-0.75zM314.7 646.3h0.75v0.75h-0.75zM298.4 676.2h0.75v0.75h-0.75zM370.9 639.0h0.75v0.75h-0.75zM304.0 662.5h0.75v0.75h-0.75z" fill="#999" opacity="1"/>
<polyline points="375.5,617.5 317.5,617.5 317.5,651.3 375.5,651.3" fill="none" stroke="#888" stroke-width="0.8"/>
<line x1="292.5" y1="601.6" x2="375.5" y2="601.6" stroke="#555" stroke-width="0.9"/>
<line x1="375.5" y1="601.6" x2="375.5" y2="683.2" stroke="#555" stroke-width="0.9"/>
<line x1="292.5" y1="601.3" x2="292.5" y2="683.2" stroke="#333" stroke-width="1"/>
<line x1="292.5" y1="683.2" x2="375.5" y2="683.2" stroke="#222" stroke-width="1"/>
<line x1="291.3" y1="615.2" x2="292.5" y2="615.2" stroke="#555" stroke-width="0.6"/>
<line x1="291.3" y1="628.8" x2="292.5" y2="628.8" stroke="#555" stroke-width="0.6"/>
<line x1="291.3" y1="642.4" x2="292.5" y2="642.4" stroke="#555" stroke-width="0.6"/>
<line x1="291.3" y1="656" x2="292.5" y2="656" stroke="#555" stroke-width="0.6"/>
<line x1="291.3" y1="669.6" x2="292.5" y2="669.6" stroke="#555" stroke-width="0.6"/>
<line x1="302.88" y1="683.2" x2="302.88" y2="684.6" stroke="#555" stroke-width="0.6"/>
<line x1="313.25" y1="683.2" x2="313.25" y2="684.6" stroke="#555" stroke-width="0.6"/>
<line x1="323.62" y1="683.2" x2="323.62" y2="684.6" stroke="#555" stroke-width="0.6"/>
<line x1="334" y1="683.2" x2="334" y2="684.6" stroke="#555" stroke-width="0.6"/>
<line x1="344.38" y1="683.2" x2="344.38" y2="684.6" stroke="#555" stroke-width="0.6"/>
<line x1="354.75" y1="683.2" x2="354.75" y2="684.6" stroke="#555" stroke-width="0.6"/>
<line x1="365.12" y1="683.2" x2="365.12" y2="684.6" stroke="#555" stroke-width="0.6"/>
<path d="M70.1,641.5L69.1,641.6L68.1,641.6L67.1,641.4L66.4,641.0L65.8,640.5L65.4,640.0L65.0,639.0L64.9,638.0L65.4,637.0L66.1,636.0L66.6,635.2L67.1,634.6L67.6,634.1L68.6,633.5L69.6,633.2L70.6,632.6L71.0,632.0L71.6,631.1L72.5,630.5L73.5,630.0L74.5,629.5L75.1,629.1L76.1,628.7L77.1,628.3L78.1,627.7L79.1,627.1L80.1,626.5L81.1,626.1L82.1,625.7L83.1,625.3L84.0,625.0L85.1,624.7L86.1,624.7L87.1,624.8L88.1,624.6L89.1,624.3L90.1,624.1L91.1,623.9L92.1,623.6L93.1,623.6L94.1,623.9L95.1,624.1L96.1,624.5L97.1,624.9L97.8,625.5L98.1,626.2L98.3,627.0L98.1,628.0L97.6,628.7L97.1,629.1L96.6,629.5L96.1,630.0L95.6,630.5L95.1,630.9L94.1,631.5L93.5,632.0L92.9,632.5L92.2,633.0L91.6,633.4L90.6,633.9L89.6,634.4L88.6,634.9L87.6,635.5L86.6,635.9L85.6,636.1L84.6,636.3L83.9,636.5L83.1,636.9L82.1,637.3L81.4,637.5L80.6,637.9L79.8,638.5L79.1,638.9L78.1,639.1L77.1,639.5L76.1,639.9L75.1,640.2L74.1,640.4L73.1,640.9L72.1,641.3L71.1,641.4L70.2,641.5Z" fill="#262626" stroke="none"/>
<path d="M54.6,675.5L53.6,675.6L52.6,675.6L51.6,675.6L50.6,675.6L49.6,675.3L48.6,674.7L47.6,674.4L46.6,674.1L46.1,673.6L45.6,673.0L45.1,672.6L44.1,672.0L43.7,671.5L43.4,670.5L43.1,669.7L42.6,669.0L42.2,668.0L42.2,667.0L42.1,666.0L42.4,665.0L42.8,664.5L43.2,664.0L43.6,663.5L44.1,662.9L44.6,662.5L45.6,662.0L46.6,661.6L47.6,661.1L48.6,660.6L49.6,660.1L50.6,659.9L51.6,659.6L52.6,659.3L53.6,659.0L54.6,658.9L55.6,658.9L56.6,658.7L57.6,658.5L58.6,658.6L59.6,658.6L60.6,658.6L61.6,658.3L62.3,658.0L63.6,657.9L64.6,658.3L65.6,658.5L66.6,658.3L67.6,658.4L68.6,658.6L69.6,658.9L70.6,659.4L71.5,660.0L72.0,660.5L72.6,661.0L73.6,661.4L74.4,662.0L74.8,663.0L75.6,663.8L76.3,664.5L76.2,665.5L75.9,666.5L75.7,667.5L75.1,668.4L74.6,669.0L74.1,669.5L73.7,670.0L73.1,670.7L72.6,671.2L71.6,671.6L70.6,671.8L69.6,672.5L69.1,672.9L68.1,673.3L67.2,673.5L66.1,673.7L65.1,674.0L64.1,674.2L63.1,674.2L62.1,674.0L61.1,674.0L60.1,674.2L59.4,674.5L58.6,674.7L57.6,675.0L56.6,675.3L55.6,675.4L54.6,675.5ZM37.1,665.6L36.4,665.0L36.5,664.0L37.6,664.5L37.3,665.5Z" fill="#3a3a3a" stroke="none"/>
<path d="M36.1,658.9L36.8,658.5L38.1,658.1L39.1,657.8L40.1,657.1L41.1,656.8L42.0,656.5L43.0,656.0L43.6,655.4L44.1,654.8L45.1,654.2L46.6,654.0L47.4,653.5L48.1,653.0L49.1,652.7L50.1,652.5L50.9,652.0L51.6,651.5L52.6,651.0L53.4,650.5L54.1,649.8L54.2,648.5L54.0,647.5L54.1,646.5L54.3,645.5L54.5,644.0L54.7,643.0L54.7,641.5L55.1,640.5L55.5,639.5L56.1,638.6L56.6,637.9L57.1,637.2L57.6,636.5L58.6,635.5L59.6,634.5L60.1,633.9L60.9,633.0L61.6,632.3L62.4,631.5L63.0,631.0L63.8,630.5L64.4,630.0L65.1,629.4L66.1,628.6L67.1,628.0L68.0,627.5L68.6,626.9L69.6,626.3L70.6,626.1L71.6,625.9L72.6,625.5L73.4,625.0L74.1,624.5L74.7,624.0L75.6,623.5L76.6,623.1L77.6,622.8L78.6,622.5L79.6,622.2L80.6,621.8L81.6,621.4L82.6,621.1L83.6,620.6L84.6,620.2L85.6,620.0L87.1,619.8L88.1,619.6L89.1,619.3L90.1,619.1L91.6,619.0L92.6,618.8L93.6,618.5L94.6,618.4L96.1,618.3L97.6,618.3L98.6,618.4L99.6,618.7L101.1,618.7L102.1,618.4L103.6,618.5L104.6,618.8L105.6,619.4L106.1,620.0L107.0,621.0L107.6,621.9L108.1,622.9L108.5,624.0L108.1,624.9L107.6,625.7L107.2,626.5L106.7,627.5L106.1,628.3L105.5,629.0L104.7,630.0L104.1,630.6L103.2,631.5L102.6,632.0L101.8,632.5L101.1,633.0L100.4,633.5L99.6,634.0L98.7,634.5L97.8,635.0L97.1,635.5L96.4,636.0L95.8,636.5L95.1,636.9L94.1,637.5L93.1,637.9L92.1,638.3L91.1,638.9L90.3,639.5L89.6,639.9L88.6,640.2L87.6,640.3L86.6,640.7L85.6,641.2L84.6,641.6L83.6,642.0L82.9,642.5L82.3,643.0L81.6,643.5L80.7,644.0L79.6,644.3L78.6,644.6L77.9,645.0L77.1,645.4L76.1,645.9L75.1,646.2L74.1,646.6L73.3,647.0L72.6,647.4L71.6,647.9L70.6,648.5L69.6,648.9L68.6,648.7L67.6,648.5L66.9,649.0L67.1,650.0L68.1,650.5L69.1,650.7L70.6,650.7L71.6,650.8L72.3,651.5L73.1,652.1L74.1,652.3L75.4,652.5L76.3,653.0L77.1,653.5L78.1,653.9L79.1,654.3L79.7,655.0L80.6,655.8L81.6,656.3L82.6,656.8L83.6,657.5L84.3,658.0L85.1,659.0L85.6,659.8L86.2,660.5L87.1,661.4L87.6,662.5L87.3,663.5L87.1,664.5L86.9,665.5L86.7,666.5L86.6,667.5L86.4,668.5L85.8,669.5L85.4,670.5L84.9,671.5L84.1,672.2L83.1,672.8L82.1,673.3L81.5,674.0L80.6,674.8L79.6,675.4L78.6,675.9L77.6,676.4L76.9,677.0L76.3,677.5L75.1,678.0L74.1,678.3L73.1,678.6L71.6,678.8L70.6,679.4L69.8,680.0L68.6,680.2L67.6,680.1L66.1,680.3L65.1,680.5L64.1,680.6L63.1,680.8L61.6,680.9L60.5,681.0L59.1,681.3L58.1,681.5L57.1,681.6L55.6,681.7L54.1,681.7L52.6,681.6L51.6,681.4L50.1,681.5L48.6,681.3L47.6,681.0L46.6,680.7L45.6,680.3L44.6,679.9L43.6,679.6L42.6,679.2L41.6,678.9L40.8,678.5L40.1,678.1L39.1,677.5L38.4,677.0L37.6,676.0L37.1,675.2L36.5,674.5M36.1,659.7L37.1,659.2L38.6,659.2L39.6,658.8L40.4,658.0L41.5,657.5L42.6,657.0L43.6,656.5L44.3,656.0L45.1,655.3L46.1,655.1L47.1,654.6L48.1,654.0L49.1,653.7L50.1,653.5L51.1,653.2L52.1,652.8L52.9,652.5L54.1,652.4L55.1,652.2L56.0,651.5L56.6,650.9L57.1,650.2L56.7,649.0L56.1,648.4L55.7,647.5L55.5,646.5L55.4,645.5L55.4,644.0L55.6,643.0L55.7,641.5L56.0,640.5L56.5,639.5L57.1,638.7L57.6,638.0L58.1,637.2L58.6,636.5L59.6,635.5L60.6,634.5L61.1,633.8L61.6,633.2L62.2,632.5L63.1,631.7L64.1,631.0L64.8,630.5L65.4,630.0L66.1,629.5L66.9,629.0L67.6,628.6L68.5,628.0L69.1,627.4L70.1,626.7L71.1,626.5L72.1,626.3L73.0,626.0L73.8,625.5L74.4,625.0L75.3,624.5L76.1,624.1L77.1,623.6L78.1,623.2L79.1,622.9L80.1,622.7L81.1,622.2L82.1,621.8L83.1,621.6L84.1,621.1L85.1,620.7L86.1,620.5L87.1,620.4L88.1,620.1L89.1,619.8L90.1,619.6L91.6,619.6L92.6,619.4L93.6,619.1L94.6,618.9L96.1,618.9L97.6,618.9L98.6,619.2L99.6,619.3L101.1,619.4L102.1,619.3L103.6,619.3L104.6,619.9L105.1,620.7L106.0,621.5L106.6,622.2L106.9,623.0L106.8,624.5L106.5,625.5L106.2,626.5L105.7,627.5L105.1,628.3L104.6,628.9L103.7,630.0L103.1,630.6L102.1,631.5L101.4,632.0L100.8,632.5L100.1,633.0L99.4,633.5L98.6,633.9L97.6,634.5L96.8,635.0L96.1,635.5L95.4,636.0L94.7,636.5L93.8,637.0L92.6,637.5L91.6,637.9L90.7,638.5L90.0,639.0L89.1,639.4L88.1,639.7L87.1,639.9L86.1,640.3L85.1,640.8L84.1,641.2L83.1,641.7L82.1,642.3L81.1,642.9L80.1,643.4L79.1,643.7L78.2,644.0L77.1,644.5L76.1,645.0L75.1,645.3L74.1,645.7L73.1,646.2L72.1,646.5L71.1,646.9L70.1,647.3L68.6,647.3L67.1,647.4L66.1,647.8L65.1,648.3L64.1,648.9L63.1,649.4L62.2,650.0L62.6,651.0L63.6,651.4L65.1,651.6L66.6,651.7L67.6,651.8L68.6,652.0L69.6,652.4L70.6,652.5L72.1,652.8L73.1,653.1L74.6,653.2L75.6,653.7L76.6,654.3L77.6,654.7L78.6,655.1L79.5,656.0L80.1,656.5L80.9,657.0L81.6,657.5L82.6,658.5L83.6,659.5L84.5,660.5L85.1,661.2L85.6,661.8L86.0,662.5L85.9,664.0L85.8,665.0L85.5,666.0L85.3,667.0L85.1,668.5L84.7,669.5L84.3,670.5L83.6,671.4L82.6,672.0L81.6,672.4L80.7,673.0L80.1,673.5L79.1,674.3L78.1,674.9L77.1,675.3L76.4,676.0L75.6,676.7L74.6,677.1L73.7,677.5L72.6,677.8L71.1,678.0L70.1,678.5L69.2,679.0L68.1,679.1L66.6,679.3L65.6,679.6L64.6,679.8L63.6,679.9L62.1,679.8L60.6,680.0L59.6,680.4L58.6,680.7L57.6,680.9L56.1,680.9L54.6,680.9L53.1,680.8L52.1,680.7L50.6,680.6L49.3,680.5L48.1,680.2L47.1,679.9L46.1,679.7L45.1,679.4L44.1,679.1L43.1,678.7L42.1,678.4L41.3,678.0L40.6,677.5L39.8,677.0L39.2,676.5L38.6,676.0L38.1,675.3L37.6,674.7L37.1,674.1L36.6,673.4L36.1,672.6M60.2,652.0L60.9,651.5L61.6,650.6L61.1,649.7L60.1,649.6L59.3,650.0L58.6,650.9L59.1,652.0L60.1,652.1ZM62.6,648.0L61.6,648.2L60.6,648.3L59.6,648.2L58.6,647.6L57.9,647.0L57.3,646.5L56.6,645.6L56.2,644.5L56.4,643.5L56.7,642.5L56.9,641.5L57.4,640.5L57.9,639.5L58.3,638.5L58.8,637.5L59.6,636.5L60.6,635.5L61.4,634.5L62.1,633.6L62.6,633.0L63.6,632.1L64.4,631.5L65.0,631.0L65.7,630.5L66.5,630.0L67.3,629.5L68.1,629.0L68.9,628.5L69.6,627.8L70.6,627.2L71.6,627.0L72.6,626.8L73.6,626.3L74.6,625.6L75.6,625.0L76.6,624.6L77.6,624.0L78.6,623.6L79.6,623.3L80.6,623.1L81.6,622.6L82.6,622.3L83.6,622.1L84.6,621.7L85.6,621.3L86.6,621.2L87.6,620.9L88.6,620.5L89.6,620.3L91.1,620.2L92.6,620.0L93.6,619.7L94.6,619.5L96.1,619.4L97.6,619.6L98.6,619.9L99.9,620.0L101.1,620.2L102.0,620.5L102.6,621.1L103.6,621.9L104.6,622.3L105.5,623.0L105.7,624.0L105.5,625.0L105.2,626.0L104.8,627.0L104.2,628.0L103.6,628.8L103.1,629.4L102.1,630.5L101.4,631.0L100.6,631.7L99.8,632.5L99.2,633.0L98.4,633.5L97.6,633.9L96.6,634.5L95.9,635.0L95.1,635.5L94.3,636.0L93.6,636.4L92.6,636.8L91.6,637.1L90.6,637.7L89.6,638.5L88.6,638.9L87.6,639.2L86.6,639.5L85.6,639.9L84.6,640.4L83.6,640.8L82.6,641.3L81.6,641.8L80.6,642.4L79.6,642.9L78.6,643.2L77.6,643.5L76.6,643.9L75.6,644.4L74.6,644.8L73.6,645.2L72.6,645.5L71.6,645.7L70.7,646.0L69.6,646.4L68.6,646.5L67.6,646.7L66.6,646.8L65.6,647.0L64.6,647.3L63.6,647.7L62.8,648.0ZM36.1,660.6L37.1,660.1L38.6,660.1L39.6,659.9L40.3,659.5L41.1,658.8L42.1,658.2L43.1,657.6L44.1,657.1L45.0,656.5L45.9,656.0L47.1,655.5L48.0,655.0L49.1,654.6L50.1,654.4L51.1,654.2L52.1,654.0L53.1,653.9L54.6,653.8L55.6,653.5L56.5,653.0L57.6,652.7L58.6,653.0L59.6,653.1L61.1,653.1L62.1,653.2L63.4,653.0L64.6,652.8L66.1,652.8L67.1,652.7L68.1,652.9L69.1,653.4L70.1,653.7L71.6,653.9L72.6,654.0L74.1,654.1L75.1,654.7L76.1,655.3L77.1,655.8L78.1,656.1L79.1,656.8L80.0,657.5L80.6,658.0L81.6,659.0L82.6,660.0L83.1,660.6L83.6,661.4L84.1,662.5L84.4,663.5L84.5,664.5L84.4,665.5L84.2,666.5L84.0,667.5L83.7,668.5L83.5,669.5L83.1,670.3L82.1,671.0L81.1,671.3L80.3,672.0L79.7,672.5L79.0,673.0L78.1,673.8L77.1,674.3L76.1,674.9L75.5,675.5L74.8,676.0L73.6,676.5L72.6,676.8L71.6,677.0L70.6,677.3L69.6,677.6L68.6,677.9L67.6,678.1L66.6,678.5L65.6,678.8L64.6,679.0L63.6,679.1L62.6,678.9L61.6,678.7L60.6,679.0L59.6,679.5L58.6,679.9L57.6,680.1L56.1,680.0L54.6,680.1L53.2,680.0L52.1,679.8L50.6,679.7L49.6,679.5L48.6,679.3L47.1,679.1L46.1,678.9L45.1,678.7L44.1,678.4L43.2,678.0L42.1,677.5L41.4,677.0L40.6,676.3L39.7,675.5L39.1,674.9L38.2,674.0L37.6,673.2L37.2,672.5L36.6,671.5L36.1,670.8M61.6,647.0L60.6,647.2L59.6,646.8L58.9,646.0L58.1,645.0L57.7,644.0L57.8,643.0L58.1,642.0L58.5,641.0L58.9,640.0L59.0,639.0L59.5,638.0L60.1,637.2L60.7,636.5L61.6,635.5L62.1,634.8L62.6,634.2L63.1,633.5L64.1,632.5L64.7,632.0L65.6,631.3L66.6,630.6L67.6,630.0L68.3,629.5L69.1,629.0L69.8,628.5L70.5,628.0L71.6,627.6L72.6,627.4L73.6,627.0L74.2,626.5L74.9,626.0L75.9,625.5L77.0,625.0L77.9,624.5L79.1,624.0L80.1,623.8L81.1,623.4L82.1,623.0L83.1,622.9L84.1,622.6L85.1,622.2L86.1,622.0L87.1,621.8L88.1,621.3L89.1,621.0L90.6,621.0L92.1,620.8L93.1,620.5L94.1,620.2L95.1,620.1L96.6,620.1L97.6,620.4L98.6,620.6L100.1,620.7L101.0,621.0L101.6,621.5L102.6,622.3L103.6,622.9L104.4,623.5L104.6,624.5L104.3,625.5L103.9,626.5L103.4,627.5L102.7,628.5L102.1,629.3L101.1,630.0L100.2,631.0L99.6,631.9L99.0,632.5L98.2,633.0L97.3,633.5L96.6,633.9L95.6,634.5L94.7,635.0L93.7,635.5L92.6,636.0L91.6,636.4L90.6,636.9L89.7,637.5L89.0,638.0L88.1,638.4L87.1,638.7L86.1,639.1L85.1,639.5L84.1,639.8L83.1,640.3L82.1,640.9L81.1,641.4L80.1,641.9L79.1,642.4L78.1,642.6L77.1,642.9L76.1,643.4L75.1,643.9L74.1,644.3L73.1,644.7L72.1,644.9L71.1,645.0L70.1,645.4L69.1,645.8L68.1,646.0L67.1,646.1L65.6,646.2L64.6,646.4L63.6,646.7L62.6,646.9L61.6,647.0ZM36.1,661.2L37.1,660.9L38.6,661.0L39.6,660.8L40.6,660.7L41.6,660.2L42.3,659.5L43.1,658.6L44.0,658.0L44.8,657.5L45.6,657.1L46.6,656.7L47.6,656.3L48.6,655.9L49.6,655.6L50.6,655.3L51.6,655.1L52.6,654.9L53.6,654.7L54.6,654.6L55.6,654.4L56.6,654.0L57.6,653.8L58.6,654.0L60.1,654.1L61.1,654.3L62.6,654.2L63.6,654.1L64.6,654.2L65.6,654.4L66.6,654.3L67.6,654.2L68.5,654.5L69.6,654.7L70.6,654.8L71.6,655.1L72.6,655.2L74.1,655.4L75.1,655.8L76.1,656.3L77.1,656.8L78.1,657.2L79.1,657.9L79.8,658.5L80.4,659.0L81.1,659.8L81.6,660.4L82.1,661.1L82.6,662.0L82.7,663.0L82.7,664.5L83.0,665.5L83.0,667.0L82.8,668.0L82.3,669.0L81.6,669.6L80.6,670.3L80.0,671.0L79.1,671.8L78.3,672.5L77.7,673.0L76.8,673.5L75.9,674.0L75.1,674.5L74.4,675.0L73.6,675.4L72.6,675.8L71.6,676.1L70.6,676.4L69.6,676.7L68.6,676.9L67.6,677.1L66.7,677.5L65.6,677.8L64.6,678.0L63.6,678.2L62.6,678.0L61.3,678.0L60.1,678.5L59.1,678.9L58.1,679.2L56.6,679.1L55.1,679.2L53.6,679.3L52.6,679.0L51.6,678.9L50.1,678.7L49.1,678.5L47.6,678.4L46.6,678.2L45.6,677.8L44.7,677.5L43.6,677.2L42.6,676.7L41.7,676.0L41.1,675.4L40.3,674.5L39.6,673.9L38.6,673.0L38.1,672.1L37.6,671.2L37.0,670.5L36.3,669.5M64.6,645.5L63.6,645.8L62.6,645.9L61.1,645.8L60.1,645.5L59.3,644.5L59.0,643.5L59.1,642.1L59.6,641.0L59.8,640.0L60.0,639.0L60.6,638.0L61.1,637.3L61.6,636.6L62.1,636.0L63.0,635.0L63.6,634.3L64.1,633.7L64.7,633.0L65.6,632.1L66.3,631.5L67.1,631.0L67.8,630.5L68.6,630.0L69.4,629.5L70.1,629.1L71.1,628.5L72.1,628.1L73.1,627.8L74.1,627.3L75.1,626.5L76.1,626.0L77.1,625.5L78.1,625.0L79.1,624.6L80.1,624.3L81.0,624.0L82.1,623.5L83.1,623.4L84.1,623.2L85.1,622.9L86.1,622.7L87.1,622.5L88.1,622.1L89.1,621.8L90.6,621.7L91.6,621.6L92.6,621.4L93.6,621.1L94.6,620.8L96.1,620.8L97.1,621.0L98.1,621.3L99.6,621.4L100.6,621.8L101.4,622.5L102.1,623.3L102.7,624.0L102.6,625.3L101.6,626.0L101.6,627.5L101.2,628.5L100.6,629.2L99.9,630.0L99.4,631.0L98.7,632.0L98.0,632.5L97.2,633.0L96.2,633.5L95.3,634.0L94.2,634.5L93.1,634.9L92.1,635.4L91.1,635.9L90.1,636.4L89.2,637.0L88.4,637.5L87.6,637.9L86.6,638.3L85.6,638.7L84.6,638.9L83.6,639.2L82.6,639.8L81.6,640.4L80.6,641.0L79.6,641.5L78.6,641.8L77.6,642.0L76.6,642.4L75.6,642.9L74.6,643.4L73.6,643.9L72.6,644.1L71.1,644.2L70.3,644.5L69.2,645.0L68.1,645.4L67.1,645.5L65.6,645.4L64.6,645.5ZM36.1,661.8L37.1,661.5L38.1,661.6L39.1,661.8L40.1,661.7L41.1,661.5L42.0,661.0L42.6,660.4L43.1,659.8L43.9,659.0L44.6,658.5L45.4,658.0L46.6,657.6L47.6,657.3L48.6,657.1L49.6,656.8L50.6,656.4L51.6,656.2L52.6,655.9L53.6,655.6L54.6,655.4L56.1,655.3L57.1,655.2L58.6,655.1L60.1,655.2L61.6,655.3L63.1,655.2L64.1,655.4L65.6,655.4L67.1,655.3L68.1,655.5L69.1,655.6L70.6,655.7L71.5,656.0L72.6,656.2L73.6,656.5L74.6,656.8L75.6,657.2L76.6,657.7L77.6,658.1L78.6,658.7L79.6,659.5L80.4,660.5L80.8,661.5L81.2,662.5L81.2,664.0L81.3,665.5L81.7,666.5L81.6,667.6L81.1,668.4L80.5,669.0L79.7,670.0L79.1,670.7L78.1,671.5L77.5,672.0L76.7,672.5L76.0,673.0L75.1,673.5L74.1,673.9L73.1,674.4L72.1,674.9L71.1,675.3L70.1,675.5L69.1,675.8L68.1,675.9L67.1,676.2L66.1,676.7L65.1,676.8L64.1,676.7L63.1,676.8L62.1,677.1L61.1,677.4L60.1,677.8L59.1,678.1L58.1,678.2L56.6,678.2L55.1,678.3L54.1,678.4L52.6,678.3L51.6,678.1L50.6,677.9L49.6,677.7L48.1,677.8L47.1,677.6L46.1,677.1L45.1,676.6L44.1,676.3L43.1,676.0L42.4,675.5L41.6,674.7L41.0,674.0L40.1,673.1L39.5,672.5L39.1,671.7L38.6,670.6L38.0,670.0L37.4,669.5L36.7,668.5L36.1,667.8M68.1,644.6L66.6,644.7L65.6,644.6L64.1,644.6L62.6,644.7L61.6,644.5L60.6,644.1L60.1,643.5L60.1,642.2L60.6,641.1L60.8,640.0L61.1,639.0L61.6,638.1L62.1,637.3L62.6,636.6L63.2,636.0L64.0,635.0L64.6,634.3L65.1,633.7L65.8,633.0L66.6,632.2L67.5,631.5L68.3,631.0L69.0,630.5L69.7,630.0L70.6,629.5L71.6,629.0L72.6,628.6L73.6,628.2L74.6,627.5L75.3,627.0L76.1,626.6L77.1,626.1L78.1,625.6L79.1,625.2L80.1,624.9L81.1,624.5L82.1,624.1L83.1,623.9L84.1,623.7L85.1,623.4L86.1,623.2L87.6,623.0L88.6,622.6L89.6,622.5L91.1,622.3L92.1,622.1L93.1,621.9L94.1,621.6L95.1,621.5L96.6,621.7L97.6,621.9L98.6,622.1L99.6,622.5L100.4,623.5L100.5,624.5L100.4,626.0L100.4,627.5L100.1,628.5L99.6,629.2L99.1,630.0L98.6,631.0L98.1,631.6L97.1,632.3L96.1,632.8L95.1,633.3L94.1,633.8L93.1,634.1L92.1,634.7L91.1,635.3L90.1,635.7L89.1,636.3L88.1,636.9L87.1,637.4L86.1,637.8L85.1,638.2L84.1,638.3L83.1,638.6L82.1,639.4L81.2,640.0L80.3,640.5L79.1,641.0L78.1,641.1L77.1,641.4L76.1,641.9L75.1,642.4L74.1,643.0L73.1,643.3L71.6,643.3L70.6,643.4L69.6,644.0L68.6,644.5ZM36.1,662.4L37.1,662.1L38.1,662.3L39.1,662.9L40.1,662.8L41.1,662.3L42.1,661.8L42.9,661.0L43.6,660.3L44.6,659.5L45.4,659.0L46.5,658.5L47.6,658.2L48.6,658.0L49.6,657.7L50.6,657.4L51.6,657.2L52.6,657.1L53.6,656.6L54.6,656.3L56.1,656.4L57.6,656.2L59.1,656.2L60.6,656.2L62.1,656.1L63.6,656.2L65.1,656.2L66.1,656.1L67.6,656.2L68.6,656.4L69.6,656.6L70.6,656.9L71.6,657.0L72.6,657.3L73.6,657.7L74.6,658.1L75.4,658.5L76.4,659.0L77.6,659.5L78.6,660.0L79.4,661.0L79.7,662.0L80.0,663.0L79.9,664.5L79.8,665.5L79.6,666.5L79.4,667.5L79.2,668.5L78.7,669.5L78.1,670.3L77.2,671.0L76.5,671.5L75.9,672.0L75.1,672.5L74.1,673.0L73.1,673.4L72.1,673.8L71.1,674.2L69.6,674.2L68.7,674.5L67.7,675.0L66.7,675.5L65.6,675.9L64.6,675.7L63.6,675.6L62.6,675.8L61.6,676.4L60.6,676.9L59.6,677.3L58.1,677.3L57.1,677.2L55.6,677.3L54.6,677.5L53.1,677.6L51.6,677.5L50.6,677.3L49.6,677.0L48.1,677.1L47.1,676.9L46.1,676.1L45.2,675.5L44.1,675.3L43.1,675.0L42.4,674.5L41.6,673.6L41.1,672.9L40.6,672.3L40.2,671.5L39.9,670.5L39.6,669.5L39.1,668.5L38.1,668.3L37.1,667.8L36.2,667.0M68.1,643.6L67.1,643.8L65.6,643.7L64.1,643.5L63.1,643.1L62.3,642.5L61.8,641.5L62.1,640.5L62.6,639.6L63.1,638.5L63.2,637.5L63.6,636.7L64.1,636.0L64.6,635.4L65.1,634.8L65.8,634.0L66.6,633.3L67.5,632.5L68.2,632.0L69.1,631.5L70.1,630.6L71.0,630.0L72.1,629.5L73.1,629.1L74.1,628.5L74.9,628.0L75.6,627.5L76.6,627.0L77.6,626.5L78.6,626.1L79.6,625.6L80.6,625.2L81.6,624.8L82.6,624.5L83.6,624.3L84.6,624.0L85.6,623.8L87.1,623.8L88.1,623.5L89.1,623.2L90.6,623.1L91.6,622.7L92.6,622.6L94.1,622.5L95.6,622.4L96.6,622.5L97.6,622.8L98.6,623.4L99.2,624.0L99.5,625.0L99.6,626.0L99.6,627.5L99.3,628.5L98.6,629.4L98.0,630.0L97.3,631.0L96.6,631.6L95.6,632.2L94.6,632.7L93.6,633.2L92.6,633.7L91.6,634.3L90.6,634.9L89.6,635.4L88.6,636.0L87.6,636.5L86.6,636.9L85.6,637.3L84.6,637.5L83.6,637.7L82.6,638.2L81.6,639.0L80.8,639.5L80.1,639.9L79.1,640.3L78.1,640.4L77.1,640.7L76.1,641.2L75.1,641.6L74.4,642.0L73.1,642.4L72.1,642.5L70.6,642.6L69.6,642.9L68.6,643.5ZM54.1,676.5L53.1,676.7L52.1,676.9L51.1,676.8L50.1,676.4L49.1,676.2L47.6,676.1L46.7,675.5L46.1,674.9L45.3,674.5L44.1,674.3L43.1,673.9L42.1,673.0L41.6,672.1L41.1,671.1L40.7,670.0L40.6,669.0L40.4,667.5L40.3,666.5L40.6,665.5L40.9,664.5L41.4,663.5L42.1,662.9L43.1,662.0L43.6,661.4L44.6,660.6L45.6,660.1L46.6,659.5L47.6,659.2L48.6,658.9L49.6,658.6L50.6,658.3L51.6,658.1L53.0,658.0L54.1,657.6L55.1,657.3L56.6,657.3L57.6,657.1L58.6,657.0L59.6,657.2L61.1,657.1L62.1,656.9L63.6,656.9L65.1,656.9L66.6,656.9L67.6,657.1L68.6,657.4L69.6,657.8L70.6,657.9L71.6,658.1L72.6,658.5L73.6,658.9L74.6,659.3L75.6,659.8L76.6,660.5L77.1,661.1L77.5,662.0L78.0,663.0L78.6,664.0L78.7,665.0L78.5,666.0L78.1,666.9L77.6,667.9L77.4,669.0L76.9,670.0L76.1,670.6L75.1,671.3L74.1,671.9L73.1,672.4L72.1,672.8L71.1,673.1L69.6,673.3L68.6,673.6L67.8,674.0L67.1,674.4L66.1,674.9L64.6,674.9L63.6,674.8L62.6,675.0L61.6,675.4L60.6,676.0L59.6,676.4L58.1,676.3L57.1,676.0L55.6,676.1L54.6,676.4ZM36.1,663.0L37.1,662.6L37.9,663.0L38.4,664.0L38.4,665.5L38.1,666.3L37.1,666.9L36.1,666.1M67.6,642.5L66.2,642.5L65.1,642.1L64.1,641.8L64.2,640.5L64.2,639.0L64.2,637.5L64.8,636.5L65.6,635.5L66.1,634.9L67.0,634.0L67.6,633.5L68.3,633.0L69.6,632.5L70.2,632.0L70.9,631.0L71.5,630.5L72.6,630.0L73.6,629.5L74.4,629.0L75.3,628.5L76.1,628.1L77.1,627.6L78.1,627.1L79.1,626.5L80.1,626.1L81.1,625.7L82.1,625.3L83.1,624.9L84.1,624.6L85.1,624.4L86.6,624.4L88.1,624.2L89.1,623.9L90.1,623.8L91.1,623.5L92.1,623.2L93.6,623.2L94.6,623.4L95.6,623.6L96.6,623.9L97.6,624.3L98.3,625.0L98.7,626.0L98.9,627.0L98.7,628.0L98.1,628.8L97.3,629.5L96.6,630.2L95.9,631.0L95.1,631.5L94.2,632.0L93.4,632.5L92.7,633.0L92.0,633.5L91.1,634.0L90.1,634.5L89.2,635.0L88.3,635.5L87.6,635.9L86.6,636.3L85.6,636.5L84.6,636.7L83.7,637.0L82.6,637.5L81.7,638.0L80.9,638.5L80.2,639.0L79.1,639.5L78.1,639.7L77.1,640.0L76.1,640.4L75.1,640.7L74.1,641.1L73.3,641.5L72.1,641.8L70.6,641.9L69.6,642.1L68.6,642.4L67.6,642.5ZM51.6,676.1L50.6,675.8L49.6,675.4L48.6,675.1L47.6,674.8L46.6,674.2L45.6,673.7L44.6,673.4L43.8,673.0L43.1,672.3L42.6,671.5L42.1,670.7L41.6,669.7L41.5,668.5L41.5,667.0L41.7,666.0L42.1,665.0L42.6,664.2L43.1,663.5L43.6,662.7L44.1,662.1L45.0,661.5L46.1,661.0L47.1,660.5L48.1,660.2L49.1,659.9L50.1,659.4L51.1,659.1L52.6,658.9L53.6,658.7L54.6,658.4L55.6,658.2L57.1,658.2L58.6,658.1L59.6,658.4L60.6,658.5L61.6,658.3L62.6,657.9L63.6,657.7L65.1,657.7L66.1,657.9L67.1,658.2L68.1,658.4L69.1,658.6L70.1,658.8L71.1,659.0L72.1,659.4L73.1,659.7L74.1,660.1L75.1,660.9L75.5,662.0L75.9,663.0L76.3,664.0L76.9,665.0L77.0,666.0L76.6,666.8L76.2,667.5L75.6,668.2L74.9,669.0L74.2,670.0L73.1,670.7L72.1,671.3L71.3,672.0L70.1,672.3L69.1,672.6L68.1,672.9L67.1,673.5L66.2,674.0L65.1,674.2L63.6,674.1L62.6,674.2L61.6,674.5L60.6,674.8L59.6,675.2L58.1,675.1L56.6,675.1L55.1,675.1L54.1,675.5L53.1,675.7L52.1,676.0ZM36.1,663.9L37.1,663.3L37.7,664.0L37.6,665.4L36.6,665.8L36.1,665.0M72.1,641.1L71.1,641.2L69.6,641.3L68.1,641.2L67.1,640.9L66.1,640.2L65.6,639.6L65.4,638.5L65.6,637.6L66.1,636.9L66.6,636.0L67.1,635.1L68.1,634.1L69.1,633.6L70.1,633.3L71.1,632.5L71.6,631.6L72.2,631.0L73.1,630.5L74.1,630.0L75.1,629.5L76.1,629.1L77.1,628.7L78.1,628.1L78.9,627.5L79.8,627.0L80.6,626.6L81.6,626.2L82.6,625.8L83.6,625.4L84.6,625.0L85.6,624.9L86.6,625.0L87.7,625.0L88.6,624.7L89.6,624.5L90.6,624.3L91.6,624.0L92.6,623.9L93.6,624.1L94.6,624.4L95.6,624.7L96.6,625.1L97.6,626.0L97.9,627.0L97.8,628.0L97.1,628.7L96.2,629.5L95.6,630.1L94.6,630.9L93.7,631.5L93.1,632.0L92.1,632.8L91.1,633.4L90.1,633.9L89.1,634.4L88.1,635.0L87.1,635.4L86.1,635.7L85.1,635.9L84.1,636.2L83.1,636.6L82.2,637.0L81.1,637.3L80.1,637.8L79.1,638.5L78.1,638.7L77.1,639.1L76.1,639.6L75.1,639.9L74.1,640.0L73.1,640.5L72.3,641.0ZM54.1,674.5L53.1,674.8L51.6,674.9L50.1,674.6L49.1,674.1L48.1,673.8L47.1,673.5L46.1,673.1L45.1,672.6L44.4,672.0L43.6,671.0L43.1,670.4L42.6,669.6L42.4,668.5L42.5,667.0L42.7,666.0L43.1,665.2L43.6,664.5L44.1,663.6L44.6,662.9L45.6,662.3L46.4,662.0L47.6,661.6L48.6,661.4L49.5,661.0L50.6,660.5L51.6,660.3L52.6,660.0L53.6,659.6L54.6,659.4L56.1,659.3L57.1,659.2L58.6,659.1L59.6,659.3L60.6,659.5L61.6,659.4L62.6,659.0L63.6,658.7L64.6,658.5L65.6,658.7L66.6,659.1L67.6,659.2L69.1,659.4L70.1,659.8L71.1,660.2L72.1,660.6L73.1,661.0L73.8,662.0L74.1,662.9L74.6,663.7L75.0,664.5L75.1,665.5L74.7,666.5L74.1,667.3L73.7,668.5L73.1,669.5L72.1,669.9L71.4,670.5L70.6,671.3L69.6,671.7L68.6,671.9L67.6,672.1L66.9,672.5L66.1,673.0L65.1,673.3L63.6,673.4L62.4,673.5L61.1,673.9L60.1,674.0L58.6,674.1L57.6,674.2L56.1,674.2L54.6,674.3ZM71.6,640.2L70.6,640.3L69.1,640.3L68.2,640.0L67.5,639.5L67.4,638.5L68.0,637.5L68.3,636.5L68.5,635.0L69.1,634.5L70.1,634.2L71.1,633.7L71.8,633.0L72.6,632.1L73.2,631.5L73.8,631.0L74.6,630.6L75.6,630.2L76.6,629.8L77.4,629.5L78.1,629.1L78.9,628.5L79.6,628.0L80.4,627.5L81.5,627.0L82.6,626.5L83.6,626.1L84.6,625.6L85.6,625.5L86.6,625.6L88.1,625.7L89.1,625.4L90.1,625.2L91.1,625.0L92.1,624.9L93.1,625.0L94.1,625.4L95.1,625.8L96.1,626.3L96.7,627.0L96.6,628.0L95.6,629.0L94.6,629.9L93.9,630.5L93.1,631.2L92.3,632.0L91.6,632.5L90.6,633.0L89.6,633.4L88.6,633.9L87.6,634.4L86.6,634.9L85.6,635.1L84.6,635.3L83.6,635.7L82.6,636.2L81.6,636.5L80.6,636.6L79.6,636.9L78.8,637.5L77.6,637.9L76.6,638.4L75.6,639.0L74.6,639.2L73.6,639.4L72.6,639.7L71.6,640.2ZM54.1,673.5L53.1,673.7L51.6,673.8L50.6,673.7L49.6,673.1L48.6,672.8L47.6,672.7L46.6,672.3L45.6,671.6L45.1,670.8L44.3,670.0L43.6,669.1L43.5,668.0L43.7,667.0L44.0,666.0L44.5,665.0L45.1,664.0L45.7,663.5L46.6,663.1L47.6,662.9L48.6,662.8L49.6,662.3L50.6,661.9L51.6,661.8L52.6,661.6L53.4,661.0L54.6,660.6L55.7,660.5L56.6,660.3L57.6,659.9L59.0,660.0L60.1,660.2L61.6,660.2L62.6,659.9L63.6,659.6L64.6,659.5L65.6,659.8L66.6,660.3L68.1,660.3L69.1,660.5L69.7,661.0L70.6,662.0L71.1,662.6L71.6,663.2L72.1,664.0L72.6,664.8L72.9,666.0L72.8,667.5L72.3,668.5L71.6,669.0L71.0,669.5L70.1,670.5L69.1,670.8L68.1,671.0L67.1,671.2L66.1,671.8L65.1,672.4L64.1,672.5L62.6,672.7L61.7,673.0L60.6,673.2L59.1,673.1L57.6,673.3L56.6,673.4L55.1,673.3L54.1,673.5ZM74.1,638.5L73.1,638.7L71.8,638.5L70.8,638.0L70.1,637.2L69.9,636.0L70.6,635.2L71.5,634.5L72.2,634.0L73.0,633.5L73.6,632.9L74.1,632.1L74.7,631.5L75.6,631.0L76.6,630.6L77.6,630.2L78.6,629.7L79.4,629.0L80.1,628.5L81.0,628.0L82.1,627.5L83.1,627.1L84.1,626.6L85.1,626.3L86.6,626.4L87.6,626.5L88.6,626.3L89.6,626.1L91.1,626.1L92.6,626.3L93.6,627.0L94.5,628.0L94.2,629.0L93.6,629.8L92.9,630.5L92.1,631.3L91.2,632.0L90.1,632.5L89.1,632.8L88.1,633.2L87.1,633.7L86.1,634.1L85.1,634.4L84.1,634.8L83.1,635.2L82.1,635.7L81.1,635.9L79.6,636.0L78.8,636.5L77.8,637.0L76.6,637.3L75.6,637.9L74.6,638.4ZM61.6,672.1L60.1,672.1L59.1,671.9L58.1,672.1L57.1,672.3L56.1,672.5L55.1,672.3L54.1,672.1L52.6,672.3L51.6,672.5L50.6,672.3L49.8,672.0L48.6,671.8L47.6,671.6L46.8,671.0L46.6,670.0L46.2,669.0L45.6,668.5L45.1,667.5L45.4,666.5L45.9,665.5L46.6,664.6L47.6,664.3L48.6,664.1L49.6,663.5L50.6,663.0L51.6,662.9L52.6,662.6L53.6,662.1L54.6,661.7L55.6,661.6L56.6,661.3L57.6,661.0L58.6,660.9L59.9,661.0L61.1,661.2L62.1,660.9L63.1,660.7L64.6,660.7L65.4,661.0L66.4,661.5L67.4,662.0L68.1,662.5L68.9,663.0L69.8,663.5L70.5,664.5L70.8,665.5L71.1,666.3L71.3,667.5L70.6,668.2L69.6,669.0L68.8,669.5L67.6,669.9L66.6,670.3L65.6,670.9L64.6,671.5L63.6,671.7L62.6,671.9L61.6,672.1ZM81.1,635.0L79.6,634.9L78.1,635.0L77.2,634.5L76.1,634.6L75.1,634.7L75.0,633.5L75.3,632.5L76.1,631.8L77.1,631.3L78.0,631.0L79.1,630.8L79.6,630.1L80.1,629.4L81.1,628.7L82.1,628.3L83.1,627.9L84.1,627.5L85.1,627.2L86.6,627.2L88.1,627.2L89.1,627.0L90.6,627.1L91.6,627.3L92.6,628.0L92.8,629.0L92.1,630.0L91.4,630.5L90.6,631.2L89.6,631.8L88.6,632.0L87.6,632.3L86.6,632.7L85.1,632.8L84.4,633.5L83.7,634.0L82.6,634.4L81.6,634.8ZM74.1,637.5L73.1,637.7L72.1,637.4L71.6,636.5L72.1,635.7L73.1,635.4L74.2,635.5L74.7,636.5L74.1,637.5ZM55.6,671.1L54.6,671.0L53.6,670.8L52.6,671.0L51.6,671.4L50.1,671.2L49.1,670.7L48.5,670.0L48.1,669.2L47.7,668.5L47.1,667.6L47.2,666.5L48.1,665.7L49.1,665.2L50.1,664.7L51.1,664.4L51.8,664.0L52.6,663.6L53.6,663.2L54.6,662.8L55.6,662.6L56.6,662.4L58.1,662.3L59.0,662.0L60.1,662.1L61.1,662.3L62.1,661.9L63.1,661.8L64.1,661.9L65.1,662.1L65.9,662.5L66.5,663.0L67.1,663.9L67.6,665.0L67.8,666.0L67.7,667.0L67.1,668.0L66.6,668.6L65.6,669.2L64.6,669.8L63.6,670.4L62.1,670.2L60.6,670.1L59.1,670.2L58.1,670.4L57.0,670.5L56.1,671.0ZM82.6,632.5L82.0,632.0L81.7,631.0L81.4,630.0L82.1,629.4L82.9,629.0L84.1,628.5L85.1,628.3L86.6,628.2L88.1,628.2L89.1,628.1L89.6,628.8L89.2,629.5L88.6,630.3L87.6,630.9L86.6,631.3L85.1,631.2L83.8,631.5L83.1,632.3ZM61.1,668.5L59.7,668.5L58.6,668.3L57.6,668.5L56.6,668.6L55.6,668.7L55.7,667.5L56.3,666.5L56.5,665.5L56.7,664.5L58.1,664.4L59.1,664.8L60.6,664.5L61.4,664.0L62.6,663.6L63.6,663.9L64.6,664.1L65.3,665.0L65.4,666.0L65.3,667.0L64.6,667.8L63.1,667.7L62.1,667.9L61.1,668.5ZM52.1,670.0L51.1,670.3L50.6,669.5L51.1,668.9L52.0,668.5L52.7,668.0L52.6,667.0L52.9,666.0L53.6,665.0L54.6,665.3L54.5,666.5L54.1,667.3L53.6,668.0L53.0,669.0L52.2,670.0Z" fill="none" stroke="#000" stroke-width="0.6"/>
<path d="M157.8,645.6L156.8,645.8L155.8,645.8L154.8,645.6L153.8,645.4L152.8,645.0L151.8,644.8L150.8,644.8L150.2,644.0L150.4,643.0L150.8,642.3L151.3,641.7L151.8,641.2L152.3,640.7L152.8,640.2L153.3,639.6L153.7,639.0L154.3,638.3L154.8,637.6L155.3,637.0L155.8,636.5L156.8,636.0L157.8,635.5L158.7,635.0L159.3,634.5L159.8,634.1L160.6,633.5L161.3,633.1L162.3,632.6L163.3,632.1L164.3,631.7L165.3,631.2L166.3,630.6L166.8,630.1L167.3,629.5L167.8,629.0L168.3,628.6L169.3,628.1L170.3,627.7L171.3,627.4L172.3,627.0L173.3,626.8L174.2,626.5L174.8,626.2L175.8,625.9L176.8,625.7L177.8,625.5L178.8,625.4L179.8,625.3L180.8,625.3L181.8,625.3L182.8,625.7L183.3,626.2L183.4,627.0L183.1,628.0L182.9,629.0L182.4,630.0L182.1,631.0L181.8,631.9L181.4,632.5L180.9,633.0L180.3,633.4L179.3,633.9L178.5,634.5L177.9,635.0L177.3,635.5L176.8,636.0L176.3,636.5L175.5,637.0L174.8,637.4L173.9,638.0L173.3,638.4L172.3,638.9L171.5,639.5L170.8,639.9L169.8,640.3L168.8,640.5L167.8,640.7L166.9,641.0L166.3,641.3L165.3,642.0L164.8,642.5L164.0,643.0L163.3,643.2L162.5,643.5L161.8,643.9L161.0,644.5L160.3,644.8L159.3,645.1L158.3,645.5Z" fill="#262626" stroke="none"/>
<path d="M138.8,676.5L137.8,676.4L136.8,676.2L135.8,676.3L134.8,676.4L133.8,676.6L132.8,676.6L131.9,676.5L130.8,676.2L129.8,675.8L128.8,675.1L128.3,674.7L127.3,674.0L126.3,673.6L125.8,673.0L125.4,672.0L125.1,671.0L125.0,670.0L124.3,669.1L124.2,668.0L124.7,667.0L125.1,666.0L125.8,665.1L126.8,664.6L127.8,664.1L128.6,663.5L129.3,663.0L130.0,662.5L130.8,662.1L131.8,661.8L132.8,661.5L133.6,661.0L134.3,660.6L135.3,660.4L136.3,660.3L137.0,660.0L137.8,659.6L138.8,659.3L139.8,659.4L140.8,659.4L141.8,659.1L142.8,658.8L143.8,658.7L144.8,658.5L145.8,658.5L146.8,658.6L147.8,658.4L148.8,658.2L149.8,658.5L150.8,658.6L151.8,658.2L152.8,658.0L153.8,658.1L154.8,658.2L155.8,658.4L156.8,658.2L157.6,658.0L158.8,658.0L159.8,658.0L160.8,658.3L161.8,659.0L162.3,659.5L163.0,660.0L163.7,660.5L164.1,661.0L164.6,662.0L164.9,663.0L165.2,664.0L165.1,665.0L164.8,665.8L164.5,666.5L164.0,667.5L163.5,668.5L163.1,669.0L162.5,669.5L161.8,670.0L161.1,670.5L160.4,671.0L159.8,671.4L158.8,671.9L157.8,672.5L156.9,673.0L155.8,673.4L154.8,673.8L153.8,674.0L152.8,674.1L151.8,674.3L150.8,674.4L149.8,674.4L148.9,674.5L147.9,675.0L147.3,675.4L146.3,675.9L145.3,676.1L144.3,676.1L143.3,676.1L142.3,676.1L141.3,676.0L140.3,676.2L139.3,676.4Z" fill="#3a3a3a" stroke="none"/>
<path d="M121.8,659.1L122.8,658.8L123.8,658.5L124.8,657.5L125.4,657.0L126.3,656.5L127.3,656.3L128.3,655.7L129.3,655.2L130.8,655.1L131.5,654.5L132.3,653.8L133.2,653.5L134.2,653.0L135.0,652.5L135.8,652.1L136.8,651.8L137.8,651.1L138.3,650.5L138.8,649.7L139.3,648.8L139.8,648.0L140.3,647.3L140.7,646.5L140.9,645.5L141.3,644.6L141.9,644.0L142.8,643.2L143.2,642.5L143.7,641.5L144.3,640.7L145.2,640.0L145.8,639.4L146.6,638.5L147.3,637.7L147.9,637.0L148.8,636.1L149.7,635.0L150.3,634.4L151.3,633.8L152.3,633.0L153.3,632.1L154.2,631.5L155.0,631.0L155.8,630.6L156.8,630.2L157.8,629.6L158.8,629.1L159.8,628.6L160.7,628.0L161.5,627.5L162.3,627.0L163.2,626.5L164.1,626.0L165.0,625.5L165.8,625.1L166.8,624.7L167.8,624.3L168.6,624.0L169.6,623.5L170.3,623.1L171.3,622.6L172.3,622.1L173.3,621.6L174.3,621.2L175.3,621.1L176.3,621.0L177.3,620.6L178.3,620.2L179.3,619.9L180.2,619.5L181.3,619.1L182.3,619.0L183.8,619.1L185.3,619.2L186.8,619.2L188.3,619.2L189.3,619.5L190.3,619.7L191.2,620.0L192.0,620.5L192.8,621.5L193.1,622.5L193.0,624.0L193.0,625.5L192.7,626.5L192.0,627.5L191.3,628.4L190.7,629.0L189.9,630.0L189.4,631.0L188.8,631.9L188.3,632.5L187.4,633.5L186.8,634.1L185.8,635.0L185.0,635.5L184.3,636.0L183.6,636.5L182.9,637.0L182.3,637.6L181.3,638.5L180.5,639.0L179.9,639.5L179.3,640.0L178.6,640.5L177.8,641.0L176.8,641.9L175.8,642.3L174.8,642.8L174.0,643.5L173.3,644.0L172.3,644.4L171.3,644.9L170.4,645.5L169.6,646.0L169.0,646.5L168.3,647.3L167.4,648.0L166.7,648.5L165.8,649.4L165.4,650.5L165.5,651.5L165.7,653.0L166.8,653.5L167.8,653.9L168.8,654.5L169.8,655.0L170.6,655.5L171.3,656.4L171.8,657.3L172.3,658.0L172.9,658.5L173.7,659.0L174.3,659.5L174.8,660.2L175.1,661.0L175.0,662.5L175.2,663.5L175.4,664.5L175.3,666.0L175.2,667.0L174.9,668.0L174.3,668.9L173.6,669.5L173.0,670.0L172.6,671.0L172.1,672.0L171.3,672.6L170.3,672.8L169.3,673.3L168.7,674.0L168.0,675.0L167.3,675.7L166.3,676.3L165.3,676.5L164.3,676.6L163.4,677.0L162.6,677.5L161.8,678.0L160.8,678.3L159.8,678.6L158.8,678.9L157.8,679.1L156.8,679.3L155.8,679.4L154.7,679.5L153.8,679.9L153.1,680.5L152.3,681.0L151.3,681.4L150.3,681.6L148.8,681.7L147.3,681.8L145.8,681.9L144.8,682.2L143.3,682.1L141.8,682.4L140.8,682.6L139.8,682.5L138.3,682.7M133.6,683.0L132.3,682.7L130.8,682.7L129.3,682.7L128.3,682.5L127.3,682.1L126.5,681.5L125.5,681.0L124.3,680.6L123.3,680.2L122.3,679.8M121.8,661.2L122.5,660.5L123.3,660.0L123.9,659.5L124.8,658.6L125.5,658.0L126.3,657.5L127.3,657.3L128.3,656.9L129.3,656.5L130.3,656.3L131.3,656.1L132.1,655.5L132.8,654.8L133.8,654.3L134.8,653.7L135.8,653.3L136.7,653.0L137.8,652.7L138.8,652.0L139.6,651.0L140.1,650.0L140.3,649.0L140.8,648.1L141.3,647.3L141.7,646.5L142.1,645.5L142.8,644.5L143.3,643.8L143.8,643.0L144.1,642.0L144.8,641.1L145.6,640.5L146.3,640.0L147.3,639.0L147.8,638.2L148.3,637.6L149.2,636.5L149.8,635.8L150.7,635.0L151.3,634.5L152.0,634.0L152.8,633.3L153.7,632.5L154.5,632.0L155.3,631.5L156.2,631.0L157.3,630.5L158.3,630.0L159.3,629.5L160.3,629.0L161.1,628.5L161.8,628.0L162.6,627.5L163.5,627.0L164.3,626.6L165.3,626.0L166.2,625.5L167.3,625.0L168.3,624.6L169.3,624.1L170.3,623.7L171.3,623.3L172.3,622.9L173.1,622.5L174.2,622.0L175.3,621.6L176.3,621.5L177.3,621.2L178.3,620.8L179.2,620.5L180.3,620.1L181.3,619.7L182.8,619.7L183.8,619.9L184.8,620.0L186.1,620.0L187.3,619.8L188.3,619.9L189.3,620.5L190.2,621.0L190.8,621.5L191.3,622.4L191.7,623.5L192.1,624.5L192.2,625.5L191.8,626.5L191.3,627.3L190.6,628.0L189.8,628.8L189.3,629.5L188.8,630.5L188.3,631.4L187.8,632.0L186.9,633.0L186.3,633.7L185.4,634.5L184.7,635.0L183.8,635.5L183.0,636.0L182.4,636.5L181.8,637.2L181.0,638.0L180.3,638.5L179.6,639.0L179.0,639.5L178.3,640.0L177.5,640.5L176.9,641.0L176.2,641.5L175.3,641.9L174.3,642.4L173.6,643.0L172.9,643.5L171.8,643.9L170.8,644.4L170.0,645.0L169.3,645.4L168.5,646.0L167.8,646.7L166.8,647.3L165.8,648.0L164.8,648.9L164.2,649.5L163.4,650.5L163.5,652.0L163.8,652.8L164.2,653.5L165.0,654.0L165.8,654.4L166.8,654.7L167.7,655.0L168.7,655.5L169.5,656.0L170.0,657.0L170.5,658.0L171.3,659.0L172.0,659.5L172.8,659.9L173.6,660.5L173.9,661.5L173.8,662.5L174.0,663.5L174.2,664.5L174.0,665.5L173.8,667.0L173.3,667.8L172.7,668.5L172.0,669.5L171.6,670.5L171.0,671.5L169.8,671.9L168.8,672.3L168.1,673.0L167.5,674.0L166.8,674.8L165.8,675.4L164.8,675.6L163.8,676.0L163.0,676.5L162.3,677.0L161.3,677.4L160.3,677.7L159.3,678.0L158.3,678.3L157.3,678.5L156.3,678.6L155.3,678.8L153.8,679.0L153.0,679.5L152.4,680.0L151.3,680.5L150.3,680.7L149.3,680.8L147.8,680.9L146.3,680.8L145.3,681.0L144.3,681.3L142.8,681.4L141.8,681.7L140.8,681.9L139.3,681.7L138.3,681.9L137.3,682.4L136.3,682.5L134.8,682.3L133.8,682.1L132.8,681.8L131.8,681.6L130.3,681.6L128.8,681.5L127.8,681.4L126.8,680.8L125.8,680.3L124.8,679.8L123.8,679.4L122.9,679.0L122.0,678.5M121.8,663.4L122.2,662.5L122.8,661.7L123.5,661.0L124.3,660.3L125.2,659.5L125.8,659.0L126.8,658.5L127.8,658.2L128.8,657.7L129.8,657.3L130.8,657.1L131.8,656.7L132.8,656.0L133.5,655.5L134.3,655.1L135.3,654.7L136.3,654.4L137.3,654.1L138.3,653.9L139.3,653.8L140.3,653.3L140.9,652.5L141.1,651.5L141.3,650.0L141.5,649.0L142.1,648.0L142.6,647.0L143.1,646.0L143.6,645.0L144.1,644.0L144.5,643.0L145.0,642.0L145.8,641.3L146.8,640.5L147.7,639.5L148.3,638.7L148.8,638.0L149.3,637.4L150.1,636.5L150.8,635.8L151.8,635.1L152.5,634.5L153.3,633.6L154.0,633.0L154.8,632.6L155.7,632.0L156.5,631.5L157.3,631.1L158.3,630.7L159.3,630.2L160.3,629.8L161.3,629.1L162.1,628.5L162.8,628.0L163.8,627.5L164.8,627.0L165.7,626.5L166.5,626.0L167.3,625.5L168.3,625.0L169.3,624.6L170.3,624.3L171.3,623.9L172.3,623.5L173.3,623.1L174.3,622.7L175.3,622.2L176.3,622.0L177.3,621.7L178.3,621.4L179.3,621.1L180.3,620.7L181.3,620.5L182.8,620.6L183.8,620.8L184.8,620.9L186.3,620.8L187.3,620.6L188.3,620.8L189.2,621.5L189.8,622.2L190.3,623.0L190.5,624.0L190.6,625.5L190.4,626.5L189.8,627.4L189.3,628.1L188.8,628.8L188.3,629.5L187.9,630.5L187.3,631.4L186.7,632.0L186.0,633.0L185.3,633.9L184.4,634.5L183.5,635.0L182.6,635.5L181.8,636.2L181.3,636.9L180.7,637.5L180.1,638.0L179.4,638.5L178.7,639.0L177.9,639.5L177.1,640.0L176.3,640.5L175.6,641.0L174.8,641.4L173.9,642.0L173.3,642.5L172.4,643.0L171.3,643.3L170.3,643.9L169.6,644.5L168.8,645.0L168.1,645.5L167.3,646.1L166.3,646.7L165.3,647.4L164.3,648.0L163.3,648.4L162.6,649.0L161.8,650.0L161.3,650.6L160.8,651.2L160.8,652.4L161.4,653.0L162.3,653.8L163.3,654.4L164.3,654.7L165.3,655.3L166.3,655.7L167.3,656.0L168.3,656.5L168.8,657.5L169.3,658.5L170.3,659.5L171.3,660.4L172.0,661.0L172.4,662.0L172.4,663.5L172.3,664.5L172.2,666.0L171.9,667.0L171.6,668.0L171.3,668.8L170.8,669.9L170.2,670.5L169.3,671.0L168.4,671.5L167.7,672.0L166.8,673.0L166.3,673.6L165.3,674.2L164.3,674.7L163.3,675.5L162.6,676.0L161.8,676.4L160.8,676.8L159.8,677.1L158.8,677.4L157.8,677.6L156.8,677.9L155.8,678.1L154.8,678.2L153.3,678.4L152.3,679.0L151.3,679.5L150.3,679.8L149.3,680.0L147.8,680.0L146.3,680.0L145.3,680.2L144.3,680.5L143.3,680.7L141.8,680.9L140.8,681.0L139.3,680.9L138.3,681.2L137.3,681.5L135.8,681.3L134.8,681.1L133.8,681.0L132.8,680.9L131.8,680.7L130.8,680.6L129.8,680.4L128.3,680.3L127.3,680.1L126.3,679.7L125.3,679.2L124.3,678.5L123.3,678.0L122.3,677.6M121.8,664.7L122.4,664.0L122.8,663.1L123.3,662.3L124.1,661.5L124.7,661.0L125.4,660.5L126.2,660.0L127.2,659.5L128.1,659.0L128.8,658.6L129.8,658.1L130.8,657.8L131.7,657.5L132.5,657.0L133.3,656.5L134.3,656.1L135.3,655.9L136.3,655.5L137.3,655.0L138.3,654.9L139.8,654.7L140.8,654.0L141.6,653.5L142.2,652.5L142.2,651.0L142.3,650.0L142.8,649.0L143.2,648.0L143.5,647.0L144.0,646.0L144.4,645.0L144.8,644.2L145.2,643.5L145.7,642.5L146.8,641.6L147.4,641.0L148.2,640.0L148.8,639.2L149.3,638.6L149.8,637.8L150.3,637.2L151.0,636.5L151.7,636.0L152.4,635.5L153.3,634.6L153.8,634.0L154.6,633.5L155.6,633.0L156.2,632.5L156.9,632.0L157.8,631.6L158.8,631.1L159.8,630.6L160.8,630.2L161.8,629.5L162.5,629.0L163.2,628.5L164.2,628.0L165.2,627.5L166.0,627.0L166.7,626.5L167.5,626.0L168.3,625.5L169.3,625.1L170.3,624.8L171.2,624.5L172.3,624.1L173.3,623.7L174.3,623.3L175.1,623.0L176.2,622.5L177.3,622.2L178.3,622.1L179.3,621.9L180.3,621.5L181.3,621.4L182.3,621.7L183.3,622.0L184.3,621.8L185.8,621.8L186.8,621.6L188.3,622.0L189.2,623.0L189.5,624.0L189.4,625.0L189.2,626.0L188.9,627.0L188.4,628.0L187.8,628.7L187.3,629.5L187.0,630.5L186.3,631.4L185.8,632.1L185.3,632.9L184.8,633.5L183.8,634.3L182.8,634.8L181.8,635.4L181.3,636.0L180.8,636.6L179.9,637.5L179.1,638.0L178.3,638.5L177.4,639.0L176.4,639.5L175.7,640.0L175.0,640.5L174.3,640.9L173.6,641.5L172.9,642.0L171.8,642.5L170.8,642.8L169.8,643.4L169.1,644.0L168.4,644.5L167.7,645.0L167.1,645.5L166.3,645.9L165.3,646.4L164.3,646.9L163.3,647.2L162.3,647.7L161.3,648.4L160.6,649.0L159.8,649.8L159.0,650.5L158.3,650.9L157.3,651.4L156.4,652.0L156.8,653.0L157.8,653.2L159.3,653.5L160.0,654.0L160.8,654.5L161.8,654.9L162.8,655.4L163.8,655.6L164.7,656.0L165.7,656.5L166.8,657.0L167.5,657.5L168.2,658.5L168.8,659.1L169.6,660.0L170.3,660.8L170.7,661.5L171.0,662.5L171.1,663.5L171.1,665.0L170.9,666.0L170.7,667.0L170.5,668.0L170.0,669.0L169.4,669.5L168.7,670.0L167.8,670.8L166.8,671.4L165.9,672.0L165.2,672.5L164.3,673.3L163.8,674.0L162.8,674.9L162.0,675.5L161.0,676.0L159.8,676.4L158.8,676.7L157.8,676.9L156.8,677.1L155.8,677.4L154.8,677.6L153.3,677.7L152.5,678.0L151.4,678.5L150.3,678.9L149.3,679.0L148.2,679.0L146.8,679.3L145.8,679.4L144.8,679.6L143.8,679.9L142.3,680.0L141.3,680.1L139.8,680.2L138.3,680.4L137.3,680.6L136.3,680.5L135.3,680.1L134.3,680.0L132.8,679.9L131.3,679.8L130.3,679.6L129.3,679.4L128.3,679.3L127.3,679.2L126.3,678.9L125.3,678.0L124.6,677.5L123.4,677.0L122.6,676.5L122.1,675.5L121.8,674.7M121.8,665.7L122.4,665.0L123.1,664.0L123.6,663.0L124.3,662.2L125.3,661.5L126.1,661.0L126.8,660.6L127.8,660.1L128.8,659.5L129.7,659.0L130.8,658.6L131.8,658.2L132.8,657.6L133.8,657.3L135.3,657.2L136.3,656.7L137.3,656.1L138.3,655.9L139.3,656.1L140.3,655.6L141.1,655.0L142.3,654.6L143.3,654.9L144.8,654.7L145.8,654.2L146.8,654.0L147.8,653.9L149.3,653.8L150.1,653.5L150.7,652.5L150.6,651.5L149.3,651.2L147.8,651.1L146.8,650.9L145.8,650.6L144.9,650.0L144.4,649.0L144.4,647.5L144.7,646.5L145.1,645.5L145.6,644.5L146.2,643.5L146.8,642.7L147.4,642.0L148.2,641.0L148.8,640.3L149.5,639.5L150.2,638.5L150.8,637.7L151.5,637.0L152.2,636.5L153.0,636.0L153.8,635.2L154.6,634.5L155.6,634.0L156.3,633.5L157.3,632.6L158.3,632.1L159.3,631.5L160.3,631.0L161.3,630.6L162.2,630.0L162.9,629.5L163.7,629.0L164.5,628.5L165.3,628.1L166.3,627.5L166.9,627.0L167.6,626.5L168.5,626.0L169.3,625.6L170.3,625.3L171.3,625.0L172.3,624.6L173.3,624.3L174.3,623.9L175.3,623.5L176.3,623.1L177.3,622.8L178.3,622.7L179.3,622.6L180.3,622.4L181.8,622.4L182.8,622.8L184.3,622.7L185.8,622.9L186.8,623.4L187.4,624.0L188.0,625.0L188.1,626.0L188.0,627.0L187.4,628.0L186.8,628.9L186.3,630.0L185.8,630.9L185.3,631.7L184.8,632.5L184.3,633.2L183.3,634.0L182.3,634.5L181.4,635.0L180.8,635.7L180.3,636.4L179.6,637.0L178.8,637.5L177.9,638.0L176.9,638.5L175.9,639.0L175.2,639.5L174.6,640.0L173.9,640.5L173.3,641.0L172.5,641.5L171.3,642.0L170.3,642.4L169.4,643.0L168.8,643.5L168.1,644.0L167.4,644.5L166.7,645.0L165.8,645.4L164.8,645.8L163.8,646.2L163.0,646.5L162.0,647.0L161.3,647.4L160.3,647.9L159.6,648.5L159.0,649.0L158.3,649.4L157.3,649.9L156.3,650.3L155.3,650.6L154.0,650.5L152.8,650.7L151.8,651.5L151.9,652.5L152.8,653.2L153.8,653.5L154.8,653.6L155.7,654.0L156.8,654.4L158.3,654.3L159.3,654.6L160.1,655.0L161.2,655.5L162.1,656.0L163.2,656.5L164.3,656.8L165.3,657.3L166.3,658.0L167.3,659.0L168.3,659.9L168.9,660.5L169.3,661.4L169.8,662.5L170.2,663.5L170.3,664.5L170.1,665.5L169.8,666.4L169.6,667.5L168.9,668.5L168.3,669.1L167.3,670.0L166.4,670.5L165.5,671.0L164.6,671.5L163.8,672.3L163.3,673.1L162.8,673.8L162.0,674.5L161.1,675.0L160.3,675.5L159.3,675.8L158.3,676.0L157.3,676.2L156.3,676.4L155.3,676.7L154.3,676.9L153.3,677.0L152.3,677.3L151.3,677.7L150.3,677.8L148.8,677.8L147.8,678.0L146.8,678.4L145.8,678.7L144.8,678.9L143.8,679.1L142.8,679.2L141.3,679.4L140.3,679.5L138.8,679.6L137.8,679.8L136.3,679.6L135.3,679.2L134.3,678.9L132.9,679.0L131.8,679.2L130.6,679.0L129.3,678.7L128.3,678.5L127.3,678.2L126.3,677.6L125.5,677.0L124.8,676.6L123.8,676.2L123.1,675.5L122.6,674.5L122.4,673.5L122.2,672.5M155.3,649.7L153.8,649.6L152.8,649.5L151.8,649.6L150.3,649.7L149.3,649.9L147.8,649.7L146.8,649.4L146.0,649.0L145.7,648.0L146.0,647.0L146.2,646.0L146.5,645.0L146.9,644.0L147.6,643.0L148.3,642.1L148.8,641.4L149.6,640.5L150.3,639.7L150.8,639.0L151.3,638.3L152.1,637.5L152.8,637.1L153.5,636.5L154.3,635.7L155.3,635.0L156.2,634.5L156.8,634.0L157.8,633.2L158.8,632.6L159.7,632.0L160.5,631.5L161.7,631.0L162.6,630.5L163.5,630.0L164.2,629.5L165.0,629.0L165.8,628.5L166.5,628.0L167.2,627.5L167.9,627.0L168.7,626.5L169.8,626.1L170.8,625.8L171.8,625.4L172.8,625.1L173.8,624.7L174.8,624.3L175.6,624.0L176.8,623.6L177.8,623.4L179.3,623.3L180.3,623.1L181.8,623.2L182.8,623.4L184.3,623.5L185.3,624.0L185.9,624.5L186.8,625.5L187.1,626.5L186.8,627.5L186.3,628.4L185.8,629.5L185.3,630.4L184.8,631.2L184.3,632.0L183.8,632.8L183.1,633.5L182.3,633.9L181.3,634.5L180.7,635.0L179.8,636.0L179.2,636.5L178.3,637.0L177.5,637.5L176.6,638.0L175.8,638.4L175.0,639.0L174.3,639.5L173.7,640.0L173.0,640.5L172.1,641.0L171.3,641.4L170.3,641.8L169.3,642.4L168.5,643.0L167.8,643.5L167.0,644.0L166.3,644.4L165.3,644.9L164.3,645.3L163.3,645.7L162.3,646.1L161.5,646.5L160.3,647.0L159.3,647.5L158.3,648.0L157.3,648.4L156.5,649.0L155.6,649.5ZM121.8,667.5L122.3,666.6L122.8,665.7L123.2,665.0L123.8,664.1L124.3,663.4L125.2,662.5L125.9,662.0L126.6,661.5L127.3,661.1L128.3,660.6L129.3,660.1L130.3,659.7L131.3,659.3L132.3,658.7L133.3,658.4L134.3,658.7L135.5,658.5L136.1,658.0L136.8,657.4L137.6,657.0L138.8,657.0L139.9,657.0L140.8,656.6L141.8,656.1L143.3,656.2L144.7,656.0L145.8,655.8L146.8,655.6L147.8,655.3L148.8,655.1L149.8,655.2L150.8,655.7L151.8,655.5L152.8,655.0L153.8,654.8L155.1,655.0L156.3,655.4L157.8,655.2L159.3,655.4L160.3,655.8L161.3,656.5L162.1,657.0L163.3,657.4L164.3,657.8L165.2,658.5L165.8,659.3L166.3,659.9L167.1,660.5L167.8,661.1L168.2,662.0L168.6,663.0L169.0,664.0L168.8,665.0L168.4,666.0L168.3,667.0L168.0,668.0L167.3,668.8L166.5,669.5L165.8,669.9L164.8,670.5L164.0,671.0L163.3,671.6L162.5,672.5L161.8,673.3L160.9,674.0L160.1,674.5L159.3,674.8L158.3,675.0L157.3,675.2L156.3,675.4L155.3,675.7L154.3,676.0L153.3,676.3L152.3,676.6L151.3,676.8L149.8,676.8L148.3,676.9L147.3,677.3L146.3,677.7L145.3,678.0L143.8,678.1L142.8,678.3L141.8,678.5L140.8,678.6L139.8,678.7L138.8,678.9L137.8,679.1L136.7,679.0L135.8,678.6L134.8,678.2L133.8,678.1L132.8,678.2L131.8,678.4L130.3,678.3L129.3,678.1L128.3,677.7L127.3,677.2L126.4,676.5L125.5,676.0L124.8,675.6L123.9,675.0L123.4,674.0L123.3,673.0L122.8,672.0L122.3,671.2L121.8,670.6M155.3,648.6L154.3,648.8L153.3,648.6L152.3,648.3L150.8,648.4L149.8,648.6L148.8,648.7L147.8,648.2L147.5,647.0L147.6,645.5L147.7,644.5L148.3,643.5L148.8,642.7L149.3,642.0L149.8,641.4L150.6,640.5L151.3,639.8L152.0,639.0L152.8,638.2L153.5,637.5L154.3,636.6L154.9,636.0L155.6,635.5L156.6,635.0L157.3,634.5L158.0,634.0L158.7,633.5L159.3,633.0L160.0,632.5L160.8,632.0L161.8,631.6L162.8,631.1L163.8,630.6L164.8,630.1L165.8,629.5L166.8,628.5L167.4,628.0L168.1,627.5L169.1,627.0L170.3,626.6L171.3,626.2L172.3,625.9L173.3,625.6L174.3,625.1L175.3,624.8L176.2,624.5L177.3,624.2L178.3,624.1L179.8,624.0L180.8,623.8L182.3,624.0L183.3,624.1L184.3,624.4L185.0,625.0L185.8,625.9L186.1,627.0L185.7,628.0L185.3,628.8L184.8,629.8L184.3,630.5L183.8,631.4L183.3,632.3L182.8,632.9L182.0,633.5L181.3,633.9L180.4,634.5L179.8,635.0L178.8,635.9L177.8,636.5L177.2,637.0L176.4,637.5L175.5,638.0L174.8,638.5L174.1,639.0L173.4,639.5L172.6,640.0L171.8,640.5L170.8,641.0L169.8,641.4L168.8,641.9L168.0,642.5L167.3,643.0L166.5,643.5L165.6,644.0L164.8,644.4L163.8,644.8L162.8,645.1L162.0,645.5L160.9,646.0L159.8,646.4L158.8,646.7L157.8,647.0L156.8,647.3L156.0,648.0L155.3,648.6ZM138.8,678.1L137.8,678.3L136.3,678.1L135.3,677.7L134.3,677.4L132.8,677.3L131.8,677.5L130.3,677.5L129.3,677.3L128.3,676.8L127.3,676.1L126.5,675.5L125.8,675.0L125.2,674.5L124.9,673.5L124.4,672.5L123.8,671.9L123.3,671.2L122.8,670.0L122.9,668.5L123.1,667.5L123.5,666.5L124.1,665.5L125.3,665.0L125.9,664.5L126.3,663.7L126.8,662.7L127.4,662.0L128.2,661.5L129.3,661.0L130.3,660.7L131.3,660.3L132.3,659.7L133.3,659.4L134.3,659.7L135.6,659.5L136.5,659.0L137.3,658.2L138.3,657.9L139.8,657.9L140.8,657.6L141.8,657.5L142.9,657.5L143.8,657.2L144.8,656.9L146.3,657.0L147.3,657.3L148.3,656.7L149.3,656.4L150.3,656.6L151.8,656.6L152.8,656.2L153.8,656.0L154.8,656.2L155.8,656.3L157.3,656.3L158.3,656.0L159.3,656.2L160.3,656.8L161.1,657.5L162.3,657.9L163.3,658.2L164.2,659.0L164.7,660.0L165.8,660.9L166.7,661.5L167.3,662.3L167.7,663.5L167.5,665.0L167.2,666.0L167.0,667.0L166.6,668.0L165.8,669.0L165.1,669.5L164.3,669.9L163.4,670.5L162.7,671.0L162.1,671.5L161.4,672.0L160.8,672.5L159.8,673.4L158.8,673.8L157.8,673.9L156.8,674.1L155.8,674.4L154.8,674.8L153.8,675.2L152.8,675.7L151.8,675.9L150.3,675.9L148.8,676.0L147.8,676.2L146.8,676.7L145.9,677.0L144.8,677.0L143.8,676.9L142.8,677.2L141.8,677.5L140.8,677.7L139.8,677.9L138.8,678.1ZM154.3,647.0L153.3,646.7L152.3,646.4L151.3,646.6L150.3,646.7L149.3,646.1L148.8,645.0L149.1,644.0L149.6,643.0L150.2,642.0L150.8,641.4L151.7,640.5L152.3,639.9L153.1,639.0L153.8,638.2L154.3,637.6L154.8,636.9L155.8,636.1L156.8,635.6L157.8,635.1L158.6,634.5L159.3,633.9L160.3,633.1L161.3,632.5L162.3,632.0L163.3,631.6L164.3,631.2L165.3,630.7L166.3,630.0L167.2,629.0L167.8,628.5L168.5,628.0L169.3,627.6L170.3,627.3L171.3,626.9L172.3,626.6L173.3,626.4L174.2,626.0L175.3,625.5L176.3,625.3L177.3,625.1L178.3,624.9L179.8,624.8L181.3,624.7L182.3,624.8L183.2,625.0L184.0,625.5L184.6,626.5L184.3,628.0L183.9,629.0L183.4,630.0L182.9,631.0L182.4,632.0L181.8,632.8L180.9,633.5L180.0,634.0L179.3,634.5L178.7,635.0L178.0,635.5L177.3,636.1L176.3,636.9L175.3,637.5L174.6,638.0L173.8,638.5L173.0,639.0L172.3,639.5L171.5,640.0L170.4,640.5L169.3,640.9L168.3,641.2L167.3,641.7L166.3,642.3L165.5,643.0L164.8,643.5L163.8,643.9L162.8,644.2L161.8,644.7L160.8,645.2L159.8,645.6L158.8,645.9L157.8,646.2L156.8,646.4L155.8,646.7L154.8,647.0ZM139.3,677.0L138.3,677.2L137.3,677.4L136.3,677.3L135.3,677.0L134.3,676.7L133.3,676.5L131.8,676.5L130.8,676.6L129.7,676.5L128.8,676.0L128.1,675.5L127.5,675.0L126.9,674.5L126.3,673.8L125.8,672.6L124.8,671.6L124.0,670.5L123.9,669.5L124.0,668.5L124.3,667.7L124.8,667.0L125.5,666.5L126.3,665.6L126.8,664.8L127.3,664.1L127.8,663.5L128.8,662.6L129.8,662.2L130.8,661.7L131.8,661.1L132.7,660.5L133.8,660.4L135.3,660.4L136.3,660.1L137.3,659.6L138.3,659.2L139.3,659.1L140.3,658.7L141.3,658.6L142.3,658.7L143.8,658.5L144.8,658.1L146.3,658.4L147.3,658.6L148.3,658.4L149.3,657.8L150.3,657.5L151.8,657.5L152.8,657.3L153.8,657.2L155.3,657.2L156.8,657.2L157.8,657.1L158.8,656.9L159.7,657.5L160.4,658.0L161.3,658.4L162.3,658.7L163.3,659.5L163.7,660.5L164.8,661.4L165.7,662.0L166.3,662.7L166.5,664.0L166.2,665.0L166.0,666.0L165.7,667.0L165.3,668.0L164.8,668.6L163.8,669.2L162.8,669.8L161.9,670.5L161.1,671.0L160.4,671.5L159.8,672.1L158.8,672.6L157.3,672.6L156.3,673.0L155.4,673.5L154.3,674.0L153.3,674.5L152.3,674.9L151.3,675.1L149.8,675.2L148.3,675.2L147.4,675.5L146.4,676.0L145.3,676.2L144.3,676.0L142.8,676.2L141.8,676.5L140.8,676.7L139.8,676.9ZM157.3,645.6L155.8,645.6L154.8,645.3L153.8,645.0L152.8,644.6L151.8,644.4L150.8,644.1L150.8,643.0L151.3,642.1L151.9,641.5L152.8,640.6L153.3,640.0L153.8,639.3L154.3,638.7L154.8,638.0L155.3,637.3L156.3,636.5L157.3,636.0L158.3,635.5L159.1,635.0L159.8,634.5L160.8,633.7L161.8,633.2L162.8,632.6L163.8,632.1L164.8,631.7L165.8,631.2L166.7,630.5L167.3,629.9L168.2,629.0L169.0,628.5L169.8,628.1L170.8,627.8L171.6,627.5L172.8,627.2L173.8,626.9L174.7,626.5L175.8,626.1L176.8,626.0L177.8,625.9L178.8,625.7L179.8,625.6L181.3,625.7L182.3,626.0L182.7,627.0L182.6,628.0L182.4,629.0L181.9,630.0L181.7,631.0L181.4,632.0L180.8,632.7L179.8,633.3L178.8,633.9L178.1,634.5L177.3,635.2L176.5,636.0L175.9,636.5L175.1,637.0L174.3,637.5L173.5,638.0L172.5,638.5L171.8,639.0L171.0,639.5L169.8,640.0L168.8,640.2L167.8,640.4L166.8,640.7L165.8,641.3L164.8,642.0L164.1,642.5L163.3,642.9L162.3,643.3L161.4,644.0L160.5,644.5L159.3,644.9L158.3,645.3L157.3,645.6ZM137.3,676.0L136.3,676.2L135.3,676.1L134.3,675.7L133.3,675.5L132.3,675.4L130.8,675.3L129.8,675.1L128.8,674.5L128.1,674.0L127.4,673.0L126.9,672.0L126.3,671.3L125.3,670.6L124.8,669.5L125.0,668.5L125.8,667.6L126.4,667.0L126.8,666.2L127.3,665.3L128.3,664.6L129.3,664.0L130.1,663.5L130.9,663.0L131.6,662.5L132.3,661.9L133.3,661.3L134.3,661.2L135.8,661.1L136.8,660.9L137.8,660.5L138.8,660.3L139.8,660.1L140.8,659.7L142.3,659.8L143.8,659.5L144.8,659.2L146.3,659.4L147.8,659.4L148.8,659.1L149.8,658.6L150.8,658.4L152.3,658.2L153.3,658.1L154.8,658.1L155.8,658.3L156.8,658.4L157.8,658.1L159.3,658.3L160.3,658.9L161.3,659.4L162.1,660.0L162.7,661.0L163.4,661.5L164.0,662.0L164.6,663.0L164.6,664.5L164.6,666.0L164.3,666.9L163.8,667.6L162.8,668.4L161.9,669.0L161.1,669.5L160.4,670.0L159.7,670.5L158.8,671.2L157.8,671.5L156.8,671.7L155.8,672.3L154.8,672.7L153.8,673.2L152.8,673.8L151.8,674.1L150.8,674.3L149.3,674.3L148.3,674.1L147.3,674.4L146.3,674.9L145.3,675.2L143.8,675.2L142.8,675.4L141.8,675.6L140.8,675.8L139.8,675.9L138.3,675.9ZM157.8,644.6L156.5,644.5L155.9,644.0L154.8,643.6L153.8,643.5L153.1,643.0L153.3,641.7L153.8,641.0L154.3,640.1L154.8,639.3L155.3,638.5L155.8,637.9L156.8,637.1L157.8,636.6L158.8,636.1L159.8,635.6L160.7,635.0L161.6,634.5L162.3,634.1L163.0,633.5L163.7,633.0L164.8,632.5L165.7,632.0L166.5,631.5L167.1,631.0L167.8,630.3L168.7,629.5L169.7,629.0L170.8,628.6L171.8,628.1L172.8,627.8L173.8,627.5L174.8,627.1L175.8,626.7L177.3,626.6L178.3,626.7L179.8,626.7L180.8,626.8L181.3,627.5L181.0,628.5L180.6,629.5L180.7,631.0L180.3,631.8L179.5,632.5L178.8,633.0L178.1,633.5L177.3,634.3L176.6,635.0L175.8,635.7L174.8,636.4L174.0,637.0L172.9,637.5L171.8,637.9L171.1,638.5L170.3,639.0L169.3,639.2L167.8,639.4L166.8,639.8L165.8,640.4L164.8,640.9L163.9,641.5L163.0,642.0L162.1,642.5L161.4,643.0L160.8,643.5L159.8,643.9L158.8,644.2L157.8,644.6ZM136.8,675.1L135.7,675.0L134.8,674.7L133.8,674.6L132.8,674.5L131.8,674.1L130.8,673.7L129.3,673.5L128.7,673.0L128.3,672.1L128.1,671.0L127.9,670.0L127.4,669.0L127.1,668.0L127.3,667.0L127.8,666.0L128.4,665.5L129.3,665.2L130.3,664.6L131.2,664.0L131.8,663.5L132.8,662.6L133.8,662.1L134.8,662.0L136.3,662.0L137.3,661.7L138.3,661.3L139.3,661.2L140.3,661.0L141.8,661.0L143.3,660.8L144.3,660.4L145.3,660.2L146.3,660.4L147.8,660.2L149.3,660.1L150.3,659.9L151.2,659.5L152.3,659.3L153.3,659.0L154.5,659.0L155.8,659.4L156.8,659.5L157.8,659.3L159.3,659.5L159.9,660.0L160.5,661.0L161.3,661.8L162.3,662.3L163.0,663.0L163.3,664.0L163.3,665.5L162.9,666.5L162.3,667.4L161.6,668.0L160.9,668.5L160.1,669.0L159.3,669.5L158.4,670.0L157.4,670.5L156.3,671.0L155.3,671.5L154.3,671.7L153.3,672.2L152.3,672.9L151.3,673.2L149.8,673.2L148.3,673.2L147.3,673.4L146.3,673.7L145.3,673.9L143.8,673.9L142.8,674.5L141.8,674.7L140.3,674.7L138.8,674.8L137.3,675.0ZM159.8,643.1L158.8,643.3L157.4,643.0L156.8,642.2L156.2,641.5L155.5,640.5L155.7,639.5L156.3,638.6L157.1,638.0L158.1,637.5L159.3,637.0L160.3,636.7L161.3,636.0L161.9,635.5L162.8,635.0L163.6,634.5L164.2,634.0L164.9,633.5L165.5,633.0L166.3,632.3L167.3,631.6L168.2,631.0L168.9,630.5L169.8,630.0L170.8,629.6L171.8,629.0L172.7,628.5L173.8,628.1L174.8,627.8L175.8,627.3L177.3,627.4L178.3,627.8L179.2,628.5L179.5,629.5L179.4,631.0L178.8,631.6L177.8,632.4L177.3,633.0L176.8,633.6L175.9,634.5L175.1,635.0L174.3,635.7L173.5,636.5L172.3,636.9L171.3,637.2L170.3,637.8L168.8,637.8L167.8,638.1L167.1,638.5L166.3,639.2L165.3,639.9L164.3,640.4L163.3,640.9L162.3,641.4L161.4,642.0L160.8,642.5L160.0,643.0ZM137.3,674.0L136.3,674.2L135.3,674.0L134.3,673.8L133.3,673.6L132.3,673.1L131.3,672.5L130.1,672.5L129.3,672.0L129.1,671.0L129.0,669.5L128.6,668.5L128.5,667.5L128.8,666.7L129.8,666.3L130.8,665.7L131.5,665.0L132.3,664.3L133.3,663.5L134.3,663.1L135.8,663.1L136.8,663.0L137.7,662.5L138.8,662.1L139.8,661.9L141.0,662.0L142.3,662.2L143.3,661.8L144.1,661.5L145.3,661.2L146.8,661.3L148.3,661.2L149.2,661.5L150.3,661.6L151.3,661.4L152.8,661.1L153.8,660.6L155.3,661.0L156.8,660.8L157.8,660.5L158.6,661.0L158.9,662.0L159.8,662.7L160.8,663.4L161.6,664.0L162.1,665.0L161.9,666.0L161.3,666.9L160.7,667.5L159.8,668.3L158.8,668.9L157.8,669.3L156.8,669.7L155.8,670.1L154.8,670.4L153.8,670.7L152.8,671.3L151.8,671.7L150.3,671.8L148.8,672.0L147.8,672.2L146.8,672.5L145.8,672.6L144.8,672.5L143.3,672.9L142.4,673.5L141.3,673.7L139.8,673.8L138.3,673.9L137.3,674.0ZM159.8,641.7L158.6,641.5L157.9,641.0L157.3,640.5L157.8,639.2L158.8,638.6L159.8,638.4L160.8,638.1L161.4,637.5L162.3,636.6L163.3,636.0L164.3,635.6L165.0,635.0L165.7,634.0L166.3,633.2L167.2,632.5L168.0,632.0L168.8,631.6L169.8,631.2L170.8,630.8L171.8,630.1L172.6,629.5L173.5,629.0L174.3,628.7L175.3,628.4L176.3,628.2L177.3,628.8L177.5,630.0L176.8,630.7L176.3,631.3L175.8,632.2L175.4,633.0L174.8,633.6L174.0,634.5L173.4,635.5L172.3,636.2L171.3,636.3L170.3,636.5L168.8,636.6L167.8,636.9L166.8,637.3L166.0,638.0L165.3,638.8L164.3,639.4L163.3,639.8L162.3,640.1L161.3,640.5L160.6,641.0L159.8,641.7ZM136.3,673.1L134.8,673.0L133.8,672.7L132.8,672.0L131.9,671.5L130.8,671.1L130.3,670.0L130.3,668.9L130.8,667.5L131.8,666.5L132.3,665.9L133.3,665.3L134.3,664.6L135.3,664.3L136.3,664.2L137.3,663.8L138.2,663.5L139.3,663.2L140.8,663.4L141.8,663.6L142.8,663.5L143.8,663.1L144.8,662.7L145.8,662.4L147.3,662.4L148.3,662.6L149.3,662.7L150.8,662.7L151.8,663.0L152.8,663.2L153.8,662.8L154.8,663.1L155.8,663.2L156.8,662.9L157.8,663.1L158.8,663.7L159.8,664.4L160.1,665.5L159.8,666.5L159.3,667.3L158.3,668.0L157.3,668.2L156.3,668.6L155.4,669.0L154.3,669.2L153.3,669.3L152.3,669.9L151.3,670.3L150.3,670.4L149.3,670.5L148.3,670.7L147.3,671.0L146.3,671.4L145.3,671.6L143.8,671.5L142.8,671.7L141.8,672.3L140.8,672.6L139.3,672.8L138.3,672.6L136.8,672.9ZM172.3,635.0L171.2,635.0L170.5,634.0L169.3,633.9L168.4,634.5L167.8,635.2L166.7,635.0L166.9,634.0L167.8,633.2L168.8,632.6L169.8,632.3L170.8,632.7L171.8,632.6L172.3,631.9L173.3,631.2L173.7,632.0L173.5,633.0L173.1,634.0L172.3,635.0ZM139.8,671.6L138.3,671.4L136.8,671.3L135.4,671.0L134.5,670.5L133.3,670.3L132.3,669.7L132.4,668.5L133.3,667.7L134.2,667.0L134.9,666.5L135.8,665.8L136.8,665.3L137.8,665.0L138.6,665.5L139.3,666.5L140.3,666.4L140.7,665.5L141.8,665.0L142.8,665.2L144.3,665.3L145.8,665.4L146.8,665.2L147.8,664.7L148.8,664.1L149.8,663.9L150.9,664.0L151.6,664.5L152.3,665.3L153.3,665.2L154.3,665.0L155.0,665.5L154.8,666.7L154.0,667.5L153.1,668.0L151.8,668.4L150.8,668.1L150.0,668.5L149.3,669.2L148.3,669.6L147.3,669.7L146.3,670.0L145.3,670.1L143.8,670.0L142.8,669.6L141.9,670.0L141.3,670.7L140.3,671.4ZM157.3,665.8L156.3,665.6L156.2,664.5L157.3,664.3L157.8,665.0L157.3,665.8Z" fill="none" stroke="#000" stroke-width="0.6"/>
<path d="M240.8,643.1L239.8,643.2L238.8,643.0L237.8,642.7L236.8,642.5L236.2,642.0L235.9,641.0L235.9,640.0L236.2,639.0L236.8,638.1L237.3,637.6L237.8,637.1L238.7,636.5L239.3,636.0L239.8,635.5L240.2,635.0L240.7,634.5L241.7,634.0L242.8,633.5L243.7,633.0L244.3,632.5L244.8,632.1L245.3,631.6L246.2,631.0L246.8,630.7L247.8,630.2L248.8,629.8L249.5,629.5L250.3,629.3L251.2,629.0L252.3,628.6L253.3,628.3L254.1,628.0L254.8,627.8L255.8,627.5L256.8,627.1L257.8,626.5L258.8,626.1L259.8,626.0L260.8,626.0L261.8,626.1L262.8,626.1L263.8,626.1L264.8,626.3L265.5,626.5L266.3,627.0L266.8,627.4L267.8,628.0L268.6,628.5L268.4,629.5L268.2,630.5L267.8,631.4L267.4,632.0L266.8,632.8L266.3,633.5L265.8,634.3L265.3,634.8L264.3,635.5L263.5,636.0L262.8,636.4L261.8,636.8L260.8,637.1L260.0,637.5L258.8,637.9L257.8,638.1L256.9,638.5L256.3,638.9L255.3,639.3L254.4,639.5L253.3,639.8L252.3,640.0L251.4,640.5L250.8,640.9L249.8,641.4L248.8,641.7L247.8,641.9L246.9,642.0L245.8,642.4L244.8,642.8L243.8,643.0L242.8,642.9L241.8,642.9L240.8,643.1Z" fill="#262626" stroke="none"/>
<path d="M226.8,674.7L225.8,674.9L224.8,674.8L223.8,674.6L222.8,674.4L221.8,674.3L220.8,674.3L219.8,674.2L218.8,674.1L217.8,674.0L216.8,673.5L215.8,673.1L214.8,673.1L213.8,673.3L212.8,673.4L212.1,673.0L211.4,672.5L210.8,672.0L210.3,671.5L209.8,670.6L209.4,669.5L209.1,668.5L208.9,667.5L208.5,666.5L208.6,665.5L209.1,664.5L209.5,663.5L209.8,662.5L210.3,661.8L211.3,661.2L212.3,660.5L212.8,660.1L213.8,659.7L214.8,659.5L215.8,659.3L216.5,659.0L217.3,658.7L218.3,658.3L219.3,658.1L220.3,657.9L221.3,657.8L222.3,657.8L223.3,657.7L224.3,657.5L225.3,657.2L226.3,657.0L227.3,657.0L228.3,657.2L229.3,657.3L230.3,657.3L231.2,657.5L232.3,657.8L233.3,657.6L234.3,657.6L235.3,657.7L236.3,657.7L237.3,657.7L238.3,657.8L239.3,658.0L240.3,658.1L241.3,658.5L242.3,658.9L243.3,659.0L244.3,659.1L245.3,659.4L246.3,660.0L246.7,660.5L247.0,661.5L247.3,662.5L247.6,663.5L247.7,664.5L247.3,665.5L246.8,666.4L246.3,667.0L245.8,667.7L245.4,668.5L244.8,669.4L243.8,670.0L242.8,670.2L241.8,670.5L240.8,670.9L240.0,671.5L239.3,671.9L238.3,672.0L237.3,671.8L236.3,671.8L235.3,672.1L234.4,672.5L233.3,672.7L232.3,672.8L231.3,673.0L230.3,673.1L229.3,673.1L228.5,673.5L227.9,674.0L227.3,674.5Z" fill="#3a3a3a" stroke="none"/>
<path d="M206.8,656.2L207.8,655.5L208.8,655.1L209.8,654.6L210.6,654.0L211.8,653.6L212.8,653.4L213.8,653.2L214.8,652.8L215.8,652.2L216.8,651.6L217.8,651.3L219.3,651.2L220.3,651.0L221.2,650.5L221.8,649.9L222.8,649.4L223.8,649.0L224.5,648.5L224.8,647.5L225.1,646.0L225.7,645.0L226.3,644.0L226.8,643.1L227.3,642.5L227.8,641.8L228.3,640.5L228.6,639.5L229.2,638.5L229.8,637.8L230.7,637.0L231.3,636.2L231.8,635.2L232.3,634.5L232.8,633.9L233.3,633.2L233.8,632.6L234.6,632.0L235.3,631.5L236.2,631.0L236.9,630.5L237.8,630.0L238.7,629.5L239.4,629.0L240.1,628.5L240.8,628.0L241.8,627.6L242.8,627.3L243.8,626.7L244.8,626.1L245.8,625.7L246.8,625.3L247.6,625.0L248.6,624.5L249.8,624.0L250.8,623.8L251.8,623.4L252.8,623.0L253.8,622.6L254.8,622.4L255.8,622.2L256.8,621.9L258.3,621.8L259.3,621.6L260.3,621.3L261.3,621.1L262.8,621.1L263.8,620.9L265.3,620.9L266.8,620.9L268.3,621.0L269.3,620.8L270.3,620.6L271.3,620.8L272.3,621.2L273.3,621.3L274.3,621.5L275.3,621.9L276.1,623.0L276.8,624.0L277.3,624.7L277.7,625.5L278.3,626.2L278.8,626.8L278.8,628.0L278.3,628.7L277.8,629.3L277.2,630.0L276.8,630.8L276.5,632.0L275.8,633.0L274.8,633.9L273.8,634.5L273.0,635.0L272.3,635.7L271.4,636.5L270.7,637.0L270.1,637.5L269.4,638.0L268.6,638.5L267.8,639.0L266.9,639.5L266.0,640.0L265.3,640.4L264.3,640.7L263.3,641.0L262.3,641.4L261.3,641.9L260.3,642.5L259.3,642.9L258.3,643.4L257.3,643.9L256.3,644.3L255.3,644.5L254.3,644.8L253.3,645.3L252.3,645.6L251.4,646.0L250.8,646.5L249.9,647.5L248.8,648.0L247.8,648.3L246.8,648.6L246.3,649.5L246.5,650.5L246.8,651.5L247.5,652.0L248.3,652.3L249.0,653.0L249.8,653.6L250.8,654.4L251.3,655.0L251.8,655.7L252.5,656.5L253.3,657.5L254.3,658.4L255.3,659.0L255.8,660.0L256.0,661.0L256.1,662.0L256.3,663.0L256.4,664.5L256.7,665.5L256.6,667.0L256.4,668.0L256.1,669.0L255.6,670.0L254.9,670.5L254.2,671.0L253.4,672.0L252.3,672.8L251.3,673.2L250.3,673.8L249.4,674.5L248.3,674.9L247.3,675.4L246.3,676.5L245.3,676.8L244.3,677.0L243.3,677.3L242.3,677.4L241.3,677.8L240.3,678.4L239.3,678.8L238.3,679.0L236.8,679.2L235.8,679.3L234.8,679.6L233.8,680.0L232.8,680.2L231.8,679.9L230.8,679.8L229.8,680.2L228.8,680.6L227.7,680.5L226.3,680.3L225.3,680.5L224.3,680.7L222.8,680.7L221.8,680.6L220.3,680.8L219.3,680.9L217.8,680.8L216.8,680.4L215.8,680.2L214.8,680.1L213.8,679.9L212.8,679.6L211.8,679.4L210.8,679.2L209.8,678.8L208.8,678.2L207.8,677.6L206.8,677.1M206.8,657.1L207.6,656.5L208.5,656.0L209.8,655.6L210.8,655.1L211.8,654.6L212.8,654.3L213.7,654.0L214.8,653.6L215.8,653.2L216.8,652.8L217.8,652.6L218.8,652.5L219.8,652.2L220.8,652.0L221.8,651.6L222.8,651.1L224.3,651.2L225.3,650.7L225.8,650.0L226.1,649.0L225.9,648.0L225.6,647.0L225.9,646.0L226.6,645.0L227.3,644.0L227.8,643.3L228.3,642.5L228.8,641.7L229.2,640.5L229.5,639.5L230.1,638.5L230.8,637.9L231.6,637.0L232.1,636.0L232.6,635.0L233.3,634.2L233.8,633.6L234.8,632.6L235.8,632.1L236.7,631.5L237.4,631.0L238.2,630.5L239.1,630.0L239.8,629.5L240.6,629.0L241.3,628.6L242.3,628.2L243.3,628.0L244.3,627.5L245.3,626.7L246.3,626.2L247.3,625.7L248.3,625.3L249.3,624.8L250.3,624.5L251.3,624.2L252.3,623.8L253.3,623.4L254.3,623.0L255.3,622.8L256.3,622.6L257.3,622.5L258.8,622.5L259.8,622.2L260.8,621.8L261.8,621.7L263.3,621.6L264.8,621.5L266.3,621.5L267.8,621.6L268.8,621.7L270.3,621.6L271.3,621.8L272.3,622.1L273.3,622.2L274.3,622.8L274.7,623.5L275.2,624.5L275.8,625.2L276.5,626.0L277.3,626.9L277.7,628.0L277.3,628.8L276.8,629.5L276.3,630.3L275.8,631.5L275.3,632.4L274.6,633.0L273.9,633.5L273.0,634.0L272.4,634.5L271.8,635.2L271.0,636.0L270.4,636.5L269.7,637.0L269.1,637.5L268.3,638.0L267.4,638.5L266.5,639.0L265.6,639.5L264.8,639.8L263.8,640.1L262.8,640.5L261.8,640.9L260.8,641.5L259.8,642.0L258.8,642.4L257.8,642.9L256.8,643.4L255.8,643.6L254.8,643.9L253.8,644.3L252.8,644.8L251.8,645.1L251.0,645.5L250.3,645.9L249.6,646.5L248.8,646.9L247.8,647.4L246.8,647.6L245.8,647.9L244.8,648.4L243.8,648.8L242.8,649.1L241.8,649.3L241.3,650.0L241.6,651.0L242.0,652.0L242.8,653.0L243.9,653.0L244.8,652.7L245.8,652.9L246.8,653.5L247.7,654.0L248.8,654.4L249.8,655.0L250.6,656.0L251.3,657.0L252.0,657.5L252.8,658.4L253.4,659.0L254.1,659.5L254.7,660.5L254.7,662.0L255.0,663.0L255.1,664.5L255.3,665.5L255.4,666.5L255.3,667.5L254.9,668.5L254.3,669.3L253.4,670.0L252.9,671.0L252.3,671.7L251.3,672.3L250.3,672.7L249.3,673.3L248.3,674.0L247.3,674.4L246.6,675.0L245.8,675.7L244.8,676.1L243.8,676.3L242.8,676.4L241.8,676.6L240.8,677.3L239.8,677.8L238.8,678.0L237.3,678.1L236.3,678.5L235.3,678.7L234.3,679.0L233.3,679.3L232.3,679.2L231.3,678.9L229.8,679.3L228.8,679.7L227.4,679.5L226.3,679.2L225.3,679.3L224.3,679.6L222.8,679.7L221.3,679.7L220.3,679.9L219.3,680.1L218.3,679.9L217.3,679.6L215.8,679.5L214.3,679.3L213.3,679.1L212.3,678.7L211.3,678.4L210.3,678.0L209.4,677.5L208.3,677.1L207.3,676.6M206.8,658.1L207.6,657.5L208.3,657.0L209.3,656.6L210.3,656.5L211.3,656.1L212.3,655.5L213.3,655.0L214.3,654.6L215.3,654.2L216.3,653.9L217.8,653.9L219.3,653.8L220.3,653.3L221.3,653.0L222.3,652.7L223.3,652.5L224.8,652.4L225.7,652.0L226.3,651.4L227.2,650.5L227.4,649.5L227.2,648.5L226.8,647.5L226.6,646.5L227.2,645.5L227.8,644.7L228.3,644.0L228.8,643.2L229.3,642.3L229.7,641.5L230.0,640.5L230.3,639.6L230.8,638.9L231.7,638.0L232.3,637.2L232.8,636.0L233.3,635.2L233.9,634.5L234.8,633.5L235.7,633.0L236.6,632.5L237.2,632.0L237.8,631.5L238.5,631.0L239.3,630.5L240.1,630.0L240.9,629.5L241.8,629.1L242.8,628.8L243.8,628.6L244.7,628.0L245.8,627.1L246.8,626.6L247.8,626.2L248.8,625.7L249.8,625.3L250.8,625.0L251.8,624.7L252.8,624.3L253.8,623.8L254.7,623.5L255.8,623.3L256.8,623.1L258.3,623.1L259.5,623.0L260.3,622.7L261.3,622.3L262.8,622.2L264.3,622.1L265.8,622.1L267.3,622.2L268.3,622.4L269.3,622.7L270.8,622.7L271.8,622.8L272.7,623.0L273.5,623.5L274.1,624.5L274.7,625.5L275.3,626.4L275.9,627.0L276.5,628.0L276.2,629.0L275.8,629.7L275.3,630.5L274.8,631.5L274.3,632.1L273.3,632.9L272.5,633.5L271.8,634.2L271.3,634.9L270.7,635.5L270.0,636.0L269.3,636.5L268.6,637.0L267.9,637.5L267.1,638.0L266.3,638.4L265.3,638.9L264.3,639.1L263.3,639.5L262.4,640.0L261.3,640.5L260.3,641.0L259.3,641.5L258.3,641.8L257.3,642.3L256.3,642.6L255.3,642.9L254.3,643.3L253.3,643.7L252.3,644.2L251.3,644.7L250.3,645.1L249.3,645.7L248.3,646.4L247.3,646.8L246.3,647.0L245.3,647.2L244.4,647.5L243.3,647.8L242.3,648.0L241.3,648.1L240.4,648.5L239.8,649.0L239.5,650.0L240.3,650.9L240.8,651.7L241.2,652.5L241.8,653.3L242.8,653.9L244.3,653.8L245.3,654.0L246.0,654.5L246.8,654.9L247.8,655.2L248.7,656.0L249.3,656.8L249.9,657.5L250.8,658.2L251.8,658.9L252.4,659.5L253.2,660.5L253.3,661.5L253.5,662.5L253.9,663.5L254.1,664.5L254.2,665.5L254.0,667.0L253.7,668.0L252.9,669.0L252.2,669.5L251.5,670.5L250.8,671.5L249.9,672.0L249.0,672.5L248.1,673.0L247.3,673.4L246.3,674.0L245.3,674.9L244.3,675.3L243.3,675.5L242.3,675.6L241.3,675.9L240.5,676.5L239.8,677.0L238.8,677.1L237.3,677.2L236.3,677.8L235.3,678.0L234.3,678.2L233.3,678.4L231.8,678.2L230.8,678.1L229.8,678.3L228.8,678.7L227.4,678.5L226.3,678.2L224.8,678.4L223.8,678.6L222.8,678.8L221.8,678.9L220.3,679.0L219.2,679.0L218.3,678.7L217.3,678.5L216.3,678.7L214.8,678.6L213.8,678.3L213.0,678.0L211.9,677.5L210.8,677.1L209.8,676.8L208.8,676.5L207.8,676.2L206.8,675.6M233.9,651.5L234.1,650.5L233.3,650.0L232.3,650.4L232.3,651.5L233.3,651.7ZM237.3,649.6L236.2,649.5L235.3,648.8L234.3,648.6L232.8,648.7L231.8,648.8L230.3,648.5L229.3,648.0L228.6,647.5L228.2,646.5L228.4,645.5L229.1,644.5L229.6,643.5L230.0,642.5L230.4,641.5L230.7,640.5L231.3,639.5L232.1,638.5L232.8,637.6L233.3,636.8L233.7,636.0L234.3,635.3L235.1,634.5L235.8,633.8L236.8,633.1L237.6,632.5L238.3,631.9L239.3,631.1L240.3,630.6L241.3,630.0L242.3,629.5L243.3,629.3L244.3,628.9L245.3,628.2L246.3,627.6L247.3,627.2L248.3,626.7L249.3,626.3L250.3,625.9L251.3,625.6L252.3,625.2L253.3,624.7L254.3,624.3L255.2,624.0L256.3,623.8L257.3,623.7L258.8,623.7L259.8,623.5L260.8,623.1L261.8,622.8L263.3,622.8L264.8,622.8L266.3,622.9L267.6,623.0L268.8,623.3L269.8,623.5L271.3,623.6L272.3,623.9L273.0,624.5L273.7,625.5L274.2,626.5L274.8,627.5L275.1,628.5L274.8,629.5L274.3,630.3L273.9,631.0L273.3,631.8L272.6,632.5L271.8,633.2L271.2,634.0L270.3,635.0L269.5,635.5L268.7,636.0L268.1,636.5L267.4,637.0L266.6,637.5L265.8,637.9L264.8,638.3L263.8,638.6L262.9,639.0L262.2,639.5L261.3,640.0L260.3,640.4L259.3,640.8L258.3,641.1L257.3,641.5L256.3,641.9L255.3,642.1L254.3,642.5L253.3,643.0L252.3,643.5L251.3,644.0L250.3,644.4L249.3,644.9L248.3,645.5L247.4,646.0L246.3,646.3L245.3,646.5L244.3,646.8L243.3,646.9L242.3,647.0L241.3,647.3L240.3,647.6L239.6,648.0L238.8,648.4L237.8,649.0L237.3,649.6ZM206.8,659.2L207.8,658.5L208.5,658.0L209.3,657.6L210.3,657.4L211.3,657.0L212.2,656.5L213.3,656.0L214.3,655.6L215.3,655.1L216.3,654.8L217.8,654.7L219.3,654.7L220.3,654.4L221.3,654.2L222.3,654.0L223.3,653.7L224.3,653.4L225.3,653.3L226.3,653.2L227.3,653.3L228.3,653.5L229.3,653.3L230.3,653.0L231.3,652.9L232.8,653.0L233.8,653.2L234.8,653.6L236.2,653.5L237.2,653.0L238.3,652.8L239.7,653.0L240.7,653.5L241.3,654.0L242.1,654.5L243.3,654.7L244.8,655.0L245.6,655.5L246.8,655.9L247.8,656.4L248.4,657.0L249.3,657.9L249.9,658.5L250.8,659.3L251.5,660.0L252.1,661.0L252.4,662.0L252.7,663.0L252.9,664.0L252.8,665.4L252.7,666.5L252.6,667.5L252.0,668.5L251.2,669.0L250.6,669.5L249.9,670.5L249.3,671.1L248.3,671.7L247.3,672.3L246.3,672.9L245.7,673.5L244.8,674.2L243.8,674.6L242.8,674.8L241.8,674.9L240.8,675.2L239.8,675.8L238.8,676.1L237.3,676.3L236.3,676.9L235.3,677.3L233.8,677.3L232.3,677.4L230.8,677.4L229.8,677.5L228.8,677.8L227.3,677.7L226.3,677.4L224.8,677.5L223.8,677.8L222.9,678.0L221.8,678.2L220.3,678.1L219.3,677.9L218.3,677.7L216.8,677.9L215.3,677.8L214.3,677.3L213.3,677.0L212.3,676.7L211.3,676.3L210.3,675.9L209.3,675.7L208.3,675.5L207.5,675.0L206.9,674.0M238.8,647.5L237.8,647.7L236.3,647.7L235.3,647.6L233.8,647.6L232.3,647.8L230.8,647.6L230.1,647.0L229.8,646.0L230.1,645.0L230.5,644.0L230.7,643.0L231.0,642.0L231.3,641.0L231.8,640.1L232.3,639.4L232.8,638.7L233.3,638.0L233.8,637.4L234.3,636.7L234.9,636.0L235.8,635.0L236.3,634.4L237.3,633.5L238.0,633.0L238.8,632.3L239.8,631.5L240.8,631.0L241.8,630.5L242.8,630.0L243.8,629.7L244.8,629.2L245.8,628.5L246.8,628.0L247.8,627.7L248.8,627.3L249.7,627.0L250.8,626.6L251.8,626.1L252.8,625.6L253.8,625.2L254.8,624.8L255.8,624.6L256.8,624.4L257.8,624.3L259.3,624.1L260.3,623.9L261.3,623.5L262.3,623.3L263.8,623.4L264.8,623.5L265.8,623.6L267.3,623.7L268.3,623.9L269.3,624.2L270.3,624.5L271.3,624.8L272.3,625.3L272.9,626.0L273.4,627.0L273.7,628.0L273.5,629.5L273.0,630.5L272.4,631.5L271.8,632.2L271.0,633.0L270.3,633.9L269.6,634.5L268.8,635.0L268.1,635.5L267.3,636.2L266.3,637.0L265.3,637.4L264.3,637.9L263.3,638.3L262.3,638.8L261.3,639.4L260.3,639.8L259.3,640.1L258.3,640.5L257.3,640.8L256.3,641.2L255.3,641.5L254.3,641.8L253.3,642.3L252.3,642.8L251.3,643.2L250.3,643.7L249.3,644.1L248.3,644.5L247.4,645.0L246.3,645.5L245.3,645.7L244.3,646.0L243.3,646.2L241.8,646.4L240.8,646.7L240.0,647.0L238.8,647.5ZM206.8,660.5L207.4,660.0L208.3,659.5L209.2,659.0L210.2,658.5L211.2,658.0L212.1,657.5L212.8,657.1L213.8,656.7L214.8,656.4L215.8,655.8L216.6,655.5L217.8,655.4L219.3,655.4L220.3,655.2L221.3,655.1L222.8,654.9L223.8,654.6L224.8,654.4L225.8,654.3L227.3,654.2L228.8,654.3L229.8,654.1L230.8,653.9L232.3,653.9L233.3,654.2L234.3,654.6L235.3,654.7L236.3,654.5L237.3,654.1L238.3,653.9L239.3,654.1L240.3,654.5L241.2,655.0L242.3,655.3L243.3,655.5L244.3,655.8L245.3,656.3L246.3,656.7L247.3,657.1L248.3,657.9L249.0,658.5L249.8,659.4L250.6,660.5L251.0,661.5L251.4,662.5L251.7,663.5L251.6,665.0L251.4,666.0L251.3,667.1L250.8,667.9L250.2,668.5L249.3,669.5L248.3,670.3L247.3,670.9L246.7,671.5L245.8,672.4L245.0,673.0L244.3,673.4L243.3,673.8L242.4,674.0L241.3,674.2L240.3,674.6L239.4,675.0L238.3,675.3L237.4,675.5L236.4,676.0L235.3,676.4L234.3,676.3L232.8,676.4L231.8,676.6L230.3,676.6L229.3,676.9L228.3,677.1L227.3,676.9L226.3,676.8L224.8,676.8L223.8,677.1L222.8,677.4L221.3,677.4L220.3,677.2L219.3,677.1L218.2,677.0L216.8,677.2L215.6,677.0L214.8,676.6L213.8,676.2L212.8,676.0L211.8,675.6L210.8,675.1L209.8,674.8L208.8,674.3L208.3,673.6L207.8,672.7L207.2,672.0M239.3,646.6L238.3,646.8L236.8,646.8L235.3,646.7L233.8,646.8L232.3,646.6L231.5,646.0L231.7,644.5L231.9,643.5L231.8,642.0L232.1,641.0L232.7,640.0L233.3,639.1L233.8,638.5L234.3,637.8L234.8,637.2L235.4,636.5L236.3,635.6L237.2,634.5L238.3,633.6L239.0,633.0L239.8,632.4L240.8,631.9L241.6,631.5L242.3,631.1L243.3,630.5L244.3,630.0L245.3,629.5L246.2,629.0L247.3,628.6L248.3,628.2L249.3,627.9L250.3,627.6L251.3,627.2L252.3,626.6L253.3,626.1L254.3,625.8L255.2,625.5L256.3,625.2L257.3,625.0L258.3,624.8L259.3,624.6L260.3,624.5L261.3,624.1L262.3,623.9L263.8,624.0L264.8,624.2L265.8,624.4L266.8,624.5L267.8,624.6L268.8,625.0L269.8,625.4L270.8,625.8L271.8,626.3L272.5,627.0L272.8,628.0L272.6,629.0L272.2,630.0L271.6,631.0L270.8,631.8L270.2,632.5L269.3,633.5L268.7,634.0L267.8,634.8L267.2,635.5L266.3,636.2L265.3,636.8L264.3,637.3L263.3,637.8L262.3,638.3L261.3,638.9L260.3,639.2L259.3,639.5L258.3,639.8L257.3,640.2L256.5,640.5L255.3,640.9L254.3,641.2L253.3,641.7L252.3,642.2L251.4,642.5L250.3,643.0L249.3,643.4L248.3,643.8L247.3,644.0L246.3,644.4L245.3,644.7L244.3,645.0L243.3,645.4L242.3,645.5L241.3,645.8L240.3,646.2L239.4,646.5ZM206.8,663.3L207.2,662.5L207.8,661.5L208.8,660.7L209.7,660.0L210.3,659.5L211.0,659.0L211.8,658.6L212.8,658.0L213.8,657.6L214.8,657.3L215.8,656.8L216.8,656.3L218.3,656.3L219.8,656.1L220.8,655.8L222.3,655.8L223.8,655.7L224.8,655.5L225.8,655.3L226.8,655.1L228.3,655.2L229.3,655.3L230.2,655.0L231.3,654.7L232.3,654.9L233.3,655.3L234.3,655.5L235.8,655.5L236.8,655.3L237.8,655.1L239.3,655.3L240.3,655.6L241.3,655.9L242.3,656.1L243.3,656.3L244.3,656.8L245.3,657.3L246.3,657.7L247.3,658.2L248.3,658.9L248.8,659.5L249.3,660.4L249.6,661.5L250.1,662.5L250.6,663.5L250.5,665.0L250.1,666.0L249.6,667.0L249.0,668.0L248.4,669.0L247.8,669.5L247.1,670.0L246.3,670.8L245.6,671.5L244.8,672.2L243.8,672.7L242.8,672.9L241.8,673.2L240.8,673.4L239.9,674.0L238.8,674.5L237.8,674.7L236.8,674.9L235.8,675.2L234.3,675.1L232.8,675.4L231.8,675.8L230.3,675.8L229.3,676.0L228.3,676.2L226.8,676.2L225.3,676.2L224.3,676.3L223.3,676.6L222.3,676.7L221.3,676.5L220.3,676.3L218.8,676.2L217.8,676.4L216.8,676.5L215.8,676.3L214.8,675.8L213.8,675.4L212.8,675.2L211.8,674.6L210.8,674.2L209.8,673.7L209.1,673.0L208.3,672.0L207.3,671.2M239.3,645.6L238.3,645.9L236.8,645.9L235.8,645.7L234.8,645.6L233.8,645.5L233.2,644.5L233.3,643.4L233.0,642.0L233.3,640.5L233.8,639.7L234.3,639.0L234.8,638.3L235.5,637.5L236.3,636.6L236.9,636.0L237.8,635.1L238.5,634.5L239.3,633.8L240.3,633.1L241.3,632.7L242.3,632.1L243.2,631.5L243.8,631.0L244.6,630.5L245.6,630.0L246.8,629.5L247.8,629.1L248.8,628.6L249.8,628.3L250.8,628.1L251.8,627.6L252.8,627.1L253.8,626.7L254.8,626.4L255.8,626.1L256.8,625.8L257.6,625.5L258.8,625.2L259.8,625.1L260.8,624.9L261.8,624.7L262.8,624.6L264.3,624.7L265.3,625.0L266.3,625.2L267.3,625.5L268.3,626.0L269.3,626.4L270.3,626.7L271.3,627.4L271.5,628.5L271.1,629.5L270.3,630.4L269.8,631.1L269.3,632.0L268.8,632.6L267.9,633.5L267.3,634.3L266.8,634.9L266.2,635.5L265.5,636.0L264.6,636.5L263.8,637.0L262.8,637.5L261.8,638.0L260.8,638.5L259.8,638.8L258.8,639.0L257.8,639.3L256.8,639.8L255.8,640.2L254.8,640.4L253.8,640.7L252.8,641.2L251.8,641.7L251.0,642.0L249.8,642.5L248.8,643.0L247.8,643.2L246.8,643.3L245.8,643.7L244.8,644.1L243.8,644.3L242.8,644.5L241.8,644.7L240.8,645.1L239.8,645.4ZM225.3,675.5L223.8,675.7L222.8,675.8L221.3,675.6L220.3,675.4L218.8,675.5L217.8,675.7L216.3,675.7L215.3,675.2L214.3,674.8L213.3,674.5L212.3,674.0L211.3,673.5L210.3,673.0L209.4,672.0L208.8,671.3L207.8,670.6L207.2,670.0L206.9,669.0L207.0,668.0L207.4,667.0L207.5,666.0L207.5,664.5L207.8,663.6L208.3,662.6L208.9,662.0L209.5,661.5L210.3,660.7L210.9,660.0L211.7,659.5L212.7,659.0L213.6,658.5L214.8,658.1L215.8,657.9L216.7,657.5L217.8,657.4L219.3,657.2L220.3,656.8L221.3,656.5L222.8,656.6L224.2,656.5L225.3,656.2L226.3,656.0L227.7,656.0L228.8,656.5L229.8,656.6L230.8,656.3L231.8,656.2L233.3,656.2L234.3,656.3L235.8,656.3L237.3,656.2L238.8,656.2L239.8,656.4L240.8,656.5L241.8,656.8L242.8,657.1L243.6,657.5L244.7,658.0L245.8,658.5L246.8,659.0L247.5,659.5L248.2,660.5L248.5,661.5L248.9,662.5L249.3,663.4L249.4,664.5L249.1,665.5L248.5,666.5L248.0,667.5L247.5,668.5L246.8,669.3L246.0,670.0L245.3,670.7L244.4,671.5L243.3,672.0L242.3,672.2L241.3,672.4L240.3,672.7L239.3,673.5L238.3,673.9L236.8,673.9L235.3,673.9L234.3,674.0L233.3,674.2L232.3,674.5L231.3,674.9L229.8,675.0L228.8,675.1L227.8,675.3L226.3,675.4L225.3,675.5ZM237.3,644.2L236.2,644.0L235.5,643.0L234.9,642.0L234.6,641.0L234.7,640.0L235.3,639.0L235.8,638.4L236.6,637.5L237.3,636.7L238.2,636.0L238.9,635.5L239.8,634.6L240.5,634.0L241.3,633.6L242.3,633.2L243.3,632.5L243.9,632.0L244.8,631.3L245.8,630.7L246.8,630.2L247.8,629.8L248.8,629.3L249.7,629.0L250.8,628.7L251.8,628.3L252.6,628.0L253.8,627.6L254.8,627.3L255.8,627.0L256.8,626.6L257.8,626.1L258.8,625.7L259.8,625.6L261.3,625.5L262.8,625.4L264.1,625.5L265.3,625.8L266.3,626.2L267.3,626.8L268.3,627.2L269.1,627.5L269.9,628.0L269.8,629.1L269.1,630.0L268.7,631.0L268.1,632.0L267.3,633.0L266.8,633.8L266.3,634.5L265.3,635.4L264.3,636.0L263.5,636.5L262.5,637.0L261.4,637.5L260.3,637.9L259.3,638.2L258.3,638.5L257.3,638.8L256.3,639.3L255.3,639.7L254.3,639.9L253.3,640.2L252.3,640.6L251.6,641.0L250.8,641.4L249.8,641.9L248.8,642.2L247.8,642.5L246.8,642.6L245.8,643.0L244.8,643.4L243.8,643.6L242.3,643.6L241.3,643.7L240.3,643.9L238.8,643.9L237.6,644.0ZM225.3,674.5L223.8,674.6L222.3,674.8L220.8,674.7L219.3,674.7L218.3,674.9L216.8,674.8L215.8,674.3L214.8,674.0L213.8,673.8L212.8,673.4L211.8,672.8L210.8,672.2L210.1,671.5L209.4,670.5L208.3,669.6L207.9,668.5L208.1,667.5L208.3,666.5L208.4,665.5L208.5,664.5L208.8,663.6L209.3,662.9L210.3,662.0L210.8,661.4L211.3,660.8L212.3,660.1L213.3,659.7L214.3,659.3L215.3,659.1L216.3,658.8L217.1,658.5L218.3,658.3L219.3,658.1L220.3,657.7L221.3,657.3L222.8,657.4L224.3,657.3L225.3,657.0L226.3,656.8L227.8,657.0L228.8,657.4L229.8,657.6L230.8,657.5L231.8,657.2L232.8,657.1L233.8,657.2L234.8,657.3L235.8,657.2L237.3,657.2L238.3,657.3L239.8,657.3L241.3,657.5L242.3,658.0L243.3,658.4L244.3,658.7L245.3,659.3L246.3,659.9L246.9,660.5L247.6,661.5L248.0,662.5L248.3,663.4L248.3,664.5L248.0,665.5L247.6,666.5L247.1,667.5L246.4,668.5L245.8,669.1L244.8,669.8L244.0,670.5L243.3,671.0L242.3,671.4L241.3,671.6L239.8,671.9L239.1,672.5L238.3,673.0L237.3,673.1L235.8,673.0L234.8,673.1L233.8,673.3L232.8,673.5L231.8,673.8L230.8,674.0L229.3,674.1L228.3,674.3L226.8,674.4L225.4,674.5ZM244.8,642.6L243.8,642.7L242.3,642.6L240.8,642.8L239.8,643.0L238.8,642.8L237.8,642.4L237.0,642.0L236.6,641.0L236.5,640.0L236.6,639.0L237.3,638.1L237.9,637.5L238.6,637.0L239.3,636.5L240.1,635.5L240.8,634.8L241.8,634.2L242.8,633.8L243.8,633.3L244.8,632.6L245.5,632.0L246.3,631.3L247.3,630.7L248.3,630.2L249.3,629.8L250.3,629.5L251.3,629.2L252.3,628.9L253.3,628.6L254.3,628.2L255.3,627.9L256.3,627.6L257.3,627.1L258.3,626.6L259.3,626.3L260.8,626.2L261.8,626.3L262.8,626.4L264.3,626.6L265.3,626.8L266.3,627.5L267.3,628.4L267.8,629.0L267.8,630.3L267.3,631.5L266.8,632.2L266.3,632.9L265.8,633.7L265.3,634.4L264.6,635.0L263.9,635.5L263.0,636.0L261.8,636.5L260.8,636.8L259.8,637.2L258.8,637.6L257.8,637.9L256.8,638.3L255.8,638.8L254.8,639.1L253.8,639.4L252.8,639.6L251.8,639.9L251.0,640.5L250.1,641.0L249.3,641.3L248.3,641.5L247.3,641.6L246.3,641.9L245.3,642.4ZM218.3,674.1L216.8,673.7L215.8,673.1L214.8,673.0L213.8,672.8L212.8,672.3L211.8,671.7L211.0,671.0L210.3,670.0L209.9,669.0L209.5,668.0L209.3,667.0L209.4,665.5L209.6,664.5L210.3,663.5L211.1,663.0L211.8,662.1L212.3,661.4L213.3,660.8L214.3,660.4L215.3,660.1L216.3,659.8L217.3,659.4L218.3,659.0L219.3,658.8L220.3,658.6L221.3,658.3L222.8,658.4L223.8,658.5L224.8,658.0L225.8,657.8L227.3,657.9L228.3,658.1L229.3,658.3L230.8,658.3L231.8,658.0L232.8,657.8L233.8,658.0L234.8,658.2L235.8,658.0L237.3,658.2L238.3,658.5L239.8,658.3L241.3,658.5L242.3,658.8L243.3,659.2L244.3,659.8L245.0,660.5L245.7,661.0L246.4,661.5L247.0,662.5L247.3,663.5L247.1,665.0L246.8,665.9L246.4,667.0L245.8,667.9L244.8,668.5L243.9,669.0L243.3,669.5L242.6,670.0L241.9,670.5L240.8,670.8L239.3,670.9L238.6,671.5L238.0,672.0L236.8,672.2L235.3,672.1L234.3,672.3L233.3,672.5L232.3,672.8L231.3,673.0L229.8,673.1L228.8,673.3L227.3,673.3L225.8,673.5L224.8,673.7L223.3,673.6L221.8,673.7L220.8,673.8L219.3,673.9L218.3,674.1ZM244.8,641.6L243.3,641.6L241.8,641.7L240.8,641.8L239.8,642.0L239.0,641.5L238.7,640.5L238.8,639.0L239.3,638.3L239.8,637.5L240.3,636.8L240.8,636.1L241.4,635.5L242.2,635.0L243.3,634.5L244.3,634.0L245.3,633.5L246.0,633.0L246.8,632.1L247.4,631.5L248.3,631.0L249.3,630.7L250.3,630.3L251.2,630.0L252.3,629.6L253.3,629.3L254.3,628.9L255.3,628.5L256.3,628.2L257.3,627.9L258.1,627.5L259.3,627.1L260.8,627.1L261.8,627.2L262.8,627.4L263.8,627.8L264.8,628.1L265.8,628.9L266.3,629.6L266.3,631.0L265.3,632.0L264.9,633.0L264.4,634.0L263.8,634.5L263.0,635.0L261.8,635.5L260.8,635.7L259.8,636.3L258.8,636.9L257.8,637.1L256.8,637.4L255.8,637.8L254.8,638.3L253.8,638.7L252.8,638.9L251.8,639.0L250.8,639.5L250.2,640.0L249.3,640.4L248.3,640.6L247.3,640.7L246.4,641.0L245.3,641.5ZM218.3,673.0L217.3,672.8L216.3,672.3L215.3,672.1L214.3,671.9L213.6,671.5L212.9,671.0L212.1,670.5L211.3,669.5L211.2,668.5L210.8,667.5L210.4,666.5L210.5,665.5L211.3,664.6L211.9,664.0L212.7,663.0L213.3,662.1L214.1,661.5L215.3,661.0L216.3,660.7L217.3,660.3L218.3,659.9L219.3,659.6L220.8,659.5L222.3,659.5L223.3,659.6L224.3,659.4L225.3,658.8L226.8,658.9L228.3,658.9L229.3,659.0L230.3,659.2L231.3,659.1L232.3,658.7L233.8,658.8L234.8,658.9L236.3,658.9L237.3,659.2L238.1,659.5L239.3,659.5L240.3,659.3L241.3,659.4L242.3,659.8L243.3,660.5L243.8,661.1L244.8,662.0L245.6,662.5L246.0,663.5L245.8,664.5L245.5,665.5L245.3,666.5L244.8,667.3L243.8,667.8L242.8,668.4L242.0,669.0L240.9,669.5L239.8,669.4L238.8,669.9L238.3,670.5L237.3,671.2L235.8,671.2L234.3,671.2L232.8,671.4L231.8,671.9L230.8,672.0L229.3,672.2L228.3,672.4L227.3,672.2L225.8,672.5L224.8,672.8L223.3,672.7L221.8,672.7L220.8,672.9L219.3,672.9L218.3,673.0ZM245.3,640.0L244.3,640.2L243.3,640.4L241.8,640.2L241.3,639.5L241.0,638.5L241.2,637.5L241.8,636.9L242.8,636.1L243.6,635.5L244.3,635.0L245.3,634.5L246.2,634.0L246.9,633.5L247.8,632.5L248.5,632.0L249.3,631.7L250.3,631.3L251.3,630.9L252.2,630.5L253.3,630.0L254.3,629.5L255.3,629.1L256.3,628.8L257.3,628.6L258.3,628.3L259.3,628.2L260.8,628.2L262.3,628.4L263.0,629.0L263.8,630.0L264.2,631.0L264.0,632.0L263.5,633.0L262.8,633.7L261.8,634.5L260.8,634.9L259.8,635.4L259.0,636.0L257.8,636.4L256.8,636.5L255.8,636.7L254.9,637.0L254.2,637.5L253.3,638.0L252.3,638.1L250.8,638.3L249.8,638.6L248.8,638.8L247.3,638.6L246.3,639.0L245.8,639.6ZM224.3,671.7L222.8,671.6L221.8,671.4L220.8,671.3L219.3,671.2L218.3,671.3L217.3,671.5L216.3,671.3L215.3,671.1L214.3,670.8L213.4,670.0L212.9,669.0L212.9,667.5L212.7,666.5L212.5,665.5L212.8,664.5L213.3,663.6L213.8,663.0L214.8,662.2L215.8,661.8L216.8,661.6L217.8,661.3L218.8,660.8L219.8,660.5L220.8,660.6L221.8,660.8L223.3,660.7L224.3,660.4L225.2,660.0L226.3,659.8L227.8,659.7L229.3,659.9L230.3,660.3L231.8,660.1L232.8,659.8L234.3,659.7L235.8,659.8L236.8,660.4L237.8,660.6L239.3,660.5L240.8,660.5L241.8,660.9L242.7,661.5L243.3,662.1L244.1,663.0L244.6,664.0L244.3,664.9L243.9,666.0L243.3,666.7L242.3,667.5L241.5,668.0L240.3,668.1L238.8,668.3L237.9,669.0L237.3,669.7L236.3,670.0L234.8,669.9L233.3,670.0L232.3,670.2L231.3,670.6L229.8,670.7L228.8,670.9L227.3,670.9L225.9,671.0L224.8,671.5ZM251.3,636.5L250.1,636.5L249.3,636.0L248.3,635.7L247.3,635.9L246.3,635.8L246.7,635.0L247.8,634.5L248.8,634.2L249.8,633.6L250.3,632.9L251.3,632.1L252.3,631.7L253.1,631.0L253.8,630.5L254.6,630.0L255.8,629.6L256.8,629.4L258.3,629.3L259.3,629.4L260.3,629.7L261.8,629.8L262.6,630.5L262.7,631.5L262.3,632.2L261.8,633.0L260.8,633.9L259.8,634.4L259.0,635.0L258.0,635.5L256.8,635.6L255.3,635.8L254.4,636.0L253.3,636.3L252.3,636.2L251.4,636.5ZM219.8,670.0L218.3,670.1L216.8,670.2L215.3,670.1L214.5,669.5L214.3,668.5L214.4,667.0L214.5,666.0L214.3,665.0L214.6,664.0L215.3,663.3L216.3,662.9L217.8,662.9L218.8,662.5L219.8,662.3L220.8,662.6L222.3,662.5L223.2,662.0L224.3,661.6L225.3,661.4L226.3,661.2L227.2,661.0L228.3,661.2L229.3,661.7L230.8,661.8L231.8,662.1L232.8,661.9L233.7,661.0L234.8,660.9L235.5,661.5L236.3,661.9L237.8,661.7L238.8,661.5L240.3,661.5L241.3,661.8L242.3,662.4L242.8,663.4L242.8,664.5L242.5,665.5L241.8,666.3L240.8,666.7L239.8,667.0L238.8,667.2L237.9,667.5L237.0,668.0L235.8,668.3L234.8,668.5L233.8,668.6L232.3,668.7L230.8,668.5L229.3,668.8L228.3,669.3L227.3,669.5L226.1,669.5L224.8,669.4L223.8,669.9L222.3,669.7L221.3,669.5L220.3,669.9ZM256.8,634.5L255.8,634.7L254.3,634.7L253.8,634.0L253.9,632.5L254.2,631.5L254.8,630.8L255.8,630.4L256.8,630.3L258.3,630.5L259.1,631.0L259.7,632.0L259.3,632.8L258.5,633.5L257.8,634.2L256.8,634.5ZM218.3,668.6L217.3,668.7L216.3,668.6L215.6,668.0L215.8,666.5L216.8,665.7L217.6,665.0L218.3,664.5L219.8,664.5L220.8,664.2L221.8,664.1L222.8,664.4L224.0,664.0L224.8,663.0L226.3,663.1L227.8,663.3L228.8,663.5L230.0,663.5L230.8,663.9L231.4,664.5L232.3,665.4L233.0,666.0L232.3,666.7L231.3,666.9L229.9,667.0L228.8,667.4L227.8,668.0L226.8,668.2L225.3,668.0L224.3,667.7L223.3,667.1L221.8,667.3L220.8,667.4L219.8,667.6L218.8,668.3ZM234.8,666.5L233.8,666.2L234.2,665.0L234.8,664.0L235.3,663.4L236.8,664.0L236.9,665.0L236.3,665.7L235.3,666.4ZM239.8,664.0L239.2,663.5L240.3,663.1L239.8,664.0Z" fill="none" stroke="#000" stroke-width="0.6"/>
<path d="M332.5,641.1L331.5,641.1L330.5,640.7L329.5,640.0L329.0,639.6L328.5,639.0L328.0,638.2L327.8,637.5L328.0,636.6L328.5,636.0L328.9,635.5L329.5,634.8L330.0,634.2L330.5,633.7L331.0,633.0L331.5,632.6L332.5,632.0L333.5,631.5L334.4,631.0L335.0,630.6L336.0,630.2L337.0,629.6L337.5,629.2L338.5,628.7L339.5,628.4L340.5,628.0L341.5,627.6L342.5,627.3L343.5,627.0L344.5,626.5L345.5,626.3L346.5,626.1L347.5,625.8L348.2,625.5L349.0,625.2L349.8,625.0L351.0,624.9L352.0,624.8L353.0,624.6L354.0,624.4L355.0,624.3L356.0,624.2L357.0,624.1L358.0,624.2L359.0,624.4L360.0,624.6L361.0,624.6L362.0,624.7L363.0,624.8L364.0,625.0L364.6,625.5L365.0,626.2L365.1,627.0L365.2,628.0L365.2,629.0L364.5,629.9L364.0,630.4L363.6,631.0L363.0,631.8L362.5,632.2L361.5,632.8L360.5,633.1L359.7,633.5L359.0,634.0L358.0,634.5L357.0,634.6L356.0,634.9L355.0,635.4L354.0,635.9L353.0,636.2L352.0,636.4L351.0,636.7L350.1,637.0L349.0,637.4L348.0,637.8L347.2,638.0L346.5,638.2L345.5,638.3L344.5,638.5L343.5,638.7L342.7,639.0L342.0,639.2L341.2,639.5L340.5,639.8L339.5,640.1L338.5,640.3L337.5,640.2L336.5,640.4L335.5,640.7L334.5,640.8L333.5,640.9L332.5,641.1Z" fill="#262626" stroke="none"/>
<path d="M309.5,667.1L308.5,667.2L307.5,667.1L306.5,667.2L305.5,667.4L304.5,667.3L303.9,667.0L303.0,666.7L302.0,666.6L301.0,666.7L300.0,666.8L299.0,666.8L298.0,666.6L297.2,666.0L296.8,665.5L296.2,664.5L295.5,663.6L295.2,663.0L295.0,662.0L294.9,661.0L295.1,660.0L295.5,659.3L296.0,658.8L296.5,658.4L297.0,657.8L297.5,657.4L298.2,657.0L299.0,656.6L300.0,656.1L301.0,655.5L301.9,655.0L303.0,654.7L304.0,654.4L305.0,654.0L306.0,653.7L306.8,653.5L307.5,653.3L308.3,653.0L309.0,652.8L310.0,652.6L311.0,652.4L312.0,652.0L313.0,651.7L314.0,651.4L315.0,651.5L316.0,651.6L317.0,651.7L318.0,651.8L319.0,651.8L320.0,651.7L321.0,651.3L322.0,651.2L323.0,651.3L324.0,651.3L325.0,651.4L325.9,651.5L327.0,651.5L328.0,651.3L329.0,651.1L330.0,651.1L330.9,651.0L332.0,650.9L333.0,650.7L334.0,650.4L335.0,650.2L336.0,650.2L337.0,650.4L338.0,650.7L339.0,651.1L340.0,651.3L341.0,651.7L341.9,652.5L342.5,653.3L343.0,653.8L343.9,654.5L344.4,655.5L344.4,656.5L344.1,657.5L344.1,658.5L343.7,659.5L343.1,660.0L342.5,660.5L342.1,661.0L341.7,661.5L341.2,662.0L340.5,662.5L339.6,663.0L338.5,663.5L337.5,663.9L336.5,663.9L335.5,663.7L334.5,663.8L333.5,664.4L332.5,665.0L331.5,665.3L330.5,665.3L329.7,665.0L329.0,664.7L328.0,664.6L327.0,664.7L326.0,664.8L325.0,664.9L324.0,665.1L323.0,665.2L322.0,665.3L321.0,665.3L320.0,665.4L319.0,665.8L318.0,666.1L317.0,666.3L316.0,666.5L315.0,666.7L314.0,666.8L313.0,666.7L312.1,666.5L311.0,666.6L310.0,666.9Z" fill="#3a3a3a" stroke="none"/>
<path d="M293.0,652.1L294.0,651.6L295.0,651.1L295.7,650.5L296.5,650.1L297.5,649.8L298.4,649.5L299.4,649.0L300.2,648.5L301.0,648.1L302.0,647.8L303.0,647.4L303.8,647.0L304.9,646.5L306.0,646.2L306.9,646.0L308.0,645.6L309.0,645.4L310.0,645.2L311.0,644.9L311.8,644.0L312.0,643.0L312.5,642.1L313.5,641.5L314.1,641.0L314.7,640.0L315.5,639.1L316.2,638.5L317.0,637.6L318.0,636.5L318.7,636.0L319.5,635.3L320.2,634.5L320.9,633.5L321.5,632.9L322.5,632.2L323.5,631.5L324.0,630.9L324.8,630.0L325.5,629.4L326.2,629.0L327.5,628.6L328.5,628.3L329.5,627.9L330.5,627.1L331.5,626.5L332.5,626.1L333.5,625.5L334.3,625.0L335.3,624.5L336.5,624.1L337.5,623.7L338.5,623.3L339.5,623.0L340.5,622.7L341.5,622.3L342.5,621.9L343.5,621.7L344.5,621.6L345.5,621.4L346.5,621.2L347.5,621.1L348.5,620.9L349.5,620.5L350.5,620.2L351.5,620.1L352.5,619.8L353.5,619.6L354.5,619.4L356.0,619.3L357.5,619.3L359.0,619.3L360.0,619.2L361.5,619.1L362.5,618.9L364.0,619.0L365.0,619.3L366.0,619.5L367.5,619.6L369.0,619.7L370.5,619.8L371.5,620.1L372.5,620.2L373.5,620.4L374.5,621.0M375.0,629.5L374.3,630.0L373.6,630.5L373.0,631.1L372.6,632.0L372.0,632.8L371.3,633.5L370.5,634.0L369.5,634.4L368.6,635.0L368.0,635.5L367.3,636.0L366.5,636.5L365.5,636.9L364.5,637.2L363.5,637.6L362.5,638.2L361.5,638.7L360.5,639.3L359.5,639.6L358.5,639.9L357.5,640.3L356.5,640.6L355.5,640.9L354.5,641.4L353.8,642.0L353.0,642.5L352.0,642.7L351.0,643.0L350.3,643.5L349.5,644.4L348.9,645.0L348.5,645.7L348.5,647.0L349.0,647.9L349.5,648.5L350.2,649.0L350.9,649.5L351.5,650.5L351.8,651.5L352.2,652.5L352.5,653.5L352.9,654.5L353.4,655.5L353.5,656.5L353.2,657.5L352.8,658.5L352.4,659.5L352.1,660.5L351.9,661.5L351.5,662.2L350.6,663.0L349.7,663.5L349.0,664.4L348.5,665.3L347.5,665.9L346.5,666.5L345.8,667.0L345.1,667.5L344.2,668.0L343.2,668.5L342.0,668.9L341.0,669.1L340.0,669.4L339.0,669.9L338.0,670.5L337.0,670.6L336.0,670.7L335.0,671.0L334.0,671.2L332.7,671.0L331.5,670.8L330.5,671.3L329.5,671.7L328.5,671.8L327.5,671.9L326.5,672.0L325.5,672.2L324.5,672.3L323.0,672.3L321.5,672.4L320.0,672.5L318.5,672.5L317.0,672.4L316.0,672.6L315.0,672.7L313.5,672.9L312.5,673.2L311.0,673.1L310.0,673.0L309.0,673.3L308.0,673.6L306.5,673.7L305.5,673.8L304.0,673.6L303.0,673.4L302.0,673.3L301.0,673.2L300.0,673.0L299.0,672.9L298.0,672.6L297.0,672.3L295.5,672.2L294.6,672.0L293.9,671.5L293.2,671.0M293.0,652.8L294.0,652.3L295.0,651.9L296.0,651.3L297.0,650.8L298.0,650.5L299.0,650.0L299.9,649.5L301.0,649.0L302.0,648.7L303.0,648.5L304.0,648.1L304.8,647.5L306.0,647.1L307.0,646.9L308.0,646.6L309.5,646.7L310.5,646.4L311.5,645.8L312.5,645.0L313.0,644.0L313.5,643.1L314.5,642.6L315.0,642.0L315.5,641.0L316.5,640.2L317.0,639.5L317.4,638.5L318.0,637.6L318.7,637.0L319.5,636.5L320.4,635.5L321.0,634.8L321.9,634.0L322.5,633.5L323.5,632.6L324.0,631.9L324.5,631.3L325.3,630.5L325.9,630.0L326.8,629.5L328.0,629.1L329.0,628.8L329.8,628.5L330.6,628.0L331.5,627.3L332.5,626.8L333.5,626.3L334.5,625.6L335.5,625.1L336.5,624.7L337.5,624.4L338.5,624.0L339.5,623.7L340.5,623.4L341.5,623.0L342.5,622.6L343.5,622.3L344.5,622.1L345.5,621.9L346.5,621.8L347.5,621.6L348.5,621.5L349.5,621.2L350.5,620.9L351.5,620.8L352.5,620.5L353.5,620.2L354.5,620.0L356.0,619.9L357.5,619.9L359.0,619.9L360.0,619.7L361.5,619.6L363.0,619.5L364.5,619.7L365.5,619.9L366.5,620.1L367.5,620.3L369.0,620.4L370.0,620.5L371.0,620.8L372.0,621.1L373.0,621.2L373.9,622.0L374.2,623.0L374.4,624.5L374.8,625.5L374.9,626.5L374.8,627.5L374.6,628.5L374.0,629.3L373.0,630.0L372.2,631.0L371.6,632.0L371.0,632.7L370.0,633.4L369.0,633.8L368.2,634.5L367.5,635.1L366.5,635.7L365.5,636.2L364.5,636.6L363.5,636.9L362.5,637.5L361.5,638.0L360.5,638.5L359.5,638.8L358.5,639.0L357.5,639.5L356.5,639.9L355.5,640.2L354.5,640.7L353.5,641.3L352.5,641.8L351.6,642.0L350.5,642.3L349.5,642.8L348.5,643.4L347.7,644.0L347.0,644.5L346.2,645.0L346.6,646.0L347.2,647.0L348.0,648.0L348.5,648.7L349.0,649.4L349.5,650.0L350.0,650.6L350.8,651.5L351.4,652.5L351.7,653.5L351.8,654.5L352.1,655.5L352.2,656.5L351.9,657.5L351.5,658.5L351.3,659.5L351.1,660.5L350.8,661.5L350.0,662.2L349.0,662.8L348.4,663.5L348.0,664.4L347.4,665.0L346.5,665.4L345.8,666.0L345.0,666.7L344.0,667.3L343.0,667.7L342.0,668.0L341.0,668.2L340.0,668.5L339.0,668.9L338.0,669.3L337.0,669.7L336.0,669.9L335.0,670.1L334.0,670.4L332.5,670.2L331.5,670.0L330.5,670.4L329.5,670.7L328.0,670.8L327.0,671.1L326.0,671.2L325.0,671.3L323.5,671.4L322.0,671.4L321.0,671.6L320.0,671.8L318.5,671.8L317.5,671.6L316.0,671.8L314.5,671.8L313.0,672.0L312.0,672.3L310.5,672.2L309.5,672.3L308.5,672.7L307.5,672.8L306.0,672.8L305.0,672.7L304.0,672.4L302.5,672.4L301.0,672.3L299.5,672.2L298.5,672.0L297.5,671.6L296.5,671.4L295.5,671.2L294.5,670.7L293.5,670.2M293.0,653.7L294.0,653.1L295.0,652.7L296.0,652.3L297.0,651.8L298.0,651.4L298.9,651.0L299.7,650.5L300.5,650.1L301.5,649.8L302.5,649.5L303.5,649.3L304.5,649.0L305.3,648.5L306.4,648.0L307.5,647.7L309.0,647.7L310.0,647.5L311.0,647.1L312.0,646.5L312.8,646.0L313.5,645.5L314.5,645.1L315.5,644.7L315.9,644.0L316.1,643.0L316.5,642.3L317.2,641.5L318.0,640.5L318.3,639.5L318.5,638.5L319.0,637.8L320.0,637.0L320.5,636.4L321.0,635.8L321.9,635.0L322.6,634.5L323.5,633.7L324.0,633.0L324.9,632.0L325.5,631.4L326.5,630.7L327.5,630.0L328.5,629.6L329.5,629.2L330.5,628.9L331.5,628.0L332.3,627.5L333.5,627.0L334.3,626.5L335.0,626.1L336.0,625.6L337.0,625.2L338.0,624.9L339.0,624.6L340.0,624.3L341.0,624.0L342.0,623.6L343.0,623.2L344.0,622.8L345.0,622.5L346.0,622.4L347.0,622.2L348.0,622.1L349.0,622.0L350.0,621.7L351.0,621.5L352.0,621.3L353.0,621.0L354.0,620.7L355.0,620.5L356.0,620.4L357.5,620.4L359.0,620.4L360.0,620.2L361.0,620.1L362.5,620.1L364.0,620.2L365.0,620.4L366.0,620.6L367.0,620.9L368.0,621.1L369.0,621.2L370.0,621.4L371.0,621.7L371.9,622.0L372.8,622.5L373.2,623.5L373.3,624.5L373.6,625.5L373.7,626.5L373.6,627.5L373.3,628.5L372.5,629.3L372.0,629.9L371.5,630.7L371.0,631.4L370.4,632.0L369.7,632.5L369.0,632.9L368.1,633.5L367.5,634.1L366.5,634.9L365.5,635.4L364.5,635.9L363.5,636.2L362.5,636.7L361.5,637.2L360.5,637.6L359.5,637.9L358.5,638.2L357.5,638.6L356.5,639.2L355.5,639.6L354.5,640.0L353.5,640.5L352.5,641.0L351.5,641.3L350.5,641.5L349.5,641.7L348.5,642.2L347.5,642.7L346.5,643.1L345.5,643.3L344.5,643.5L343.5,643.9L342.8,644.5L342.7,645.5L343.5,646.3L344.5,647.0L345.0,647.9L345.7,648.5L347.0,648.7L347.8,649.5L348.5,650.5L349.5,651.5L350.4,652.5L350.8,653.5L350.9,655.0L351.1,656.0L351.0,657.1L350.6,658.0L350.3,659.0L350.2,660.0L349.8,661.0L349.0,661.7L348.1,662.5L347.5,663.3L347.0,664.0L346.3,664.5L345.5,665.0L344.5,665.9L343.6,666.5L342.5,666.9L341.5,667.2L340.5,667.4L339.5,667.7L338.5,668.0L337.5,668.5L336.5,669.0L335.5,669.2L334.5,669.4L333.5,669.5L332.5,669.4L331.0,669.4L330.0,669.7L328.5,669.8L327.5,669.9L326.5,670.1L325.5,670.3L324.5,670.4L323.0,670.5L321.5,670.5L320.5,670.9L319.5,671.0L318.0,670.9L316.5,670.9L315.3,671.0L314.0,671.0L312.5,671.1L311.5,671.3L310.0,671.4L309.0,671.7L308.0,671.9L306.5,671.9L305.0,671.7L304.1,671.5L303.0,671.4L301.5,671.6L300.3,671.5L299.0,671.4L298.0,671.0L297.0,670.7L296.0,670.4L295.3,670.0L294.5,669.6L293.5,669.3M293.0,655.0L294.0,654.2L295.0,653.6L296.0,653.2L297.0,652.8L298.0,652.3L299.0,651.8L300.0,651.2L301.0,650.8L302.0,650.5L303.0,650.3L304.0,650.0L305.0,649.7L306.0,649.2L307.0,648.7L308.0,648.6L309.4,648.5L310.5,648.2L311.5,647.7L312.5,647.2L313.5,646.9L314.5,646.6L315.5,646.4L316.5,646.0L317.0,645.3L317.2,644.0L317.5,643.0L318.0,642.3L318.5,641.5L319.0,640.5L319.2,639.5L319.6,638.5L320.5,637.5L321.0,636.8L321.8,636.0L322.5,635.5L323.1,635.0L324.0,634.0L325.0,633.0L325.6,632.5L326.2,632.0L326.8,631.5L327.5,630.9L328.5,630.3L329.5,629.9L330.5,629.5L331.4,629.0L332.0,628.5L332.7,628.0L333.5,627.6L334.5,627.2L335.5,626.5L336.5,626.0L337.5,625.7L338.5,625.4L339.5,625.1L340.5,624.8L341.4,624.5L342.5,624.1L343.5,623.8L344.5,623.3L345.4,623.0L346.5,622.8L347.5,622.7L348.5,622.6L349.5,622.5L350.5,622.3L351.5,622.0L352.5,621.8L353.5,621.6L354.5,621.3L355.5,621.1L356.5,621.0L358.0,621.0L359.5,621.0L360.5,620.8L362.0,620.7L363.5,620.8L364.5,620.9L365.5,621.1L366.5,621.4L367.5,621.8L368.5,622.0L369.5,622.2L370.5,622.5L371.5,623.0L372.0,623.7L372.2,625.0L372.3,626.0L372.1,627.5L371.7,628.5L371.2,629.5L370.5,630.3L369.5,630.9L368.9,631.5L368.0,632.5L367.4,633.0L366.7,633.5L366.0,634.0L365.3,634.5L364.7,635.0L363.7,635.5L362.5,636.0L361.5,636.5L360.5,636.8L359.5,637.1L358.5,637.3L357.5,637.7L356.5,638.4L355.5,638.9L354.5,639.4L353.5,639.7L352.6,640.0L351.7,640.5L350.5,640.8L349.5,640.9L348.5,641.2L347.7,641.5L346.6,642.0L345.5,642.3L344.5,642.5L343.5,642.8L342.5,643.1L341.5,643.4L340.5,643.9L340.0,644.5L340.0,645.6L341.0,646.2L342.0,646.8L342.9,647.5L343.9,648.5L344.5,649.2L345.5,649.9L346.5,650.2L347.5,650.8L348.2,651.5L349.0,652.4L349.5,653.1L349.8,654.0L350.0,655.5L349.8,656.5L349.5,657.4L349.3,658.5L349.1,659.5L348.6,660.5L348.0,661.2L347.0,662.0L346.2,663.0L345.5,663.7L344.5,664.5L343.7,665.0L343.0,665.6L342.0,666.2L341.1,666.5L340.0,666.7L339.0,666.8L338.0,667.2L337.0,667.8L336.0,668.3L335.0,668.5L333.5,668.6L332.0,668.6L330.5,668.8L329.5,669.0L328.0,669.0L326.5,669.2L325.5,669.4L324.5,669.6L323.5,669.7L322.0,669.6L321.0,669.7L320.0,670.0L318.5,670.1L317.0,670.2L315.5,670.3L314.0,670.2L312.5,670.3L311.0,670.4L310.0,670.6L309.0,670.9L308.0,671.1L306.5,671.0L305.5,670.9L304.5,670.8L303.0,670.7L301.5,670.8L300.0,670.7L299.0,670.5L298.0,670.2L297.0,669.9L296.1,669.5L295.2,669.0L294.1,668.5L293.2,668.0M293.0,656.6L293.5,655.9L294.5,655.0L295.2,654.5L296.0,654.1L297.0,653.7L298.0,653.3L299.0,652.6L300.0,652.0L301.0,651.6L302.0,651.3L303.0,651.0L304.0,650.8L305.0,650.5L306.0,650.1L307.0,649.7L308.0,649.4L309.5,649.4L310.5,649.0L311.5,648.5L312.5,648.2L313.5,647.9L314.5,647.7L316.0,647.7L317.0,647.9L318.0,647.1L318.4,646.0L318.4,644.5L318.7,643.5L319.0,642.7L319.5,641.6L319.9,640.5L320.3,639.5L320.9,638.5L321.4,637.5L322.0,636.8L323.0,636.1L323.6,635.5L324.5,634.5L325.5,633.6L326.3,633.0L326.9,632.5L327.5,632.0L328.5,631.1L329.5,630.5L330.5,630.1L331.5,629.8L332.4,629.0L333.1,628.5L334.0,628.1L335.0,627.7L336.0,627.0L336.9,626.5L338.0,626.1L339.0,625.9L340.0,625.6L341.0,625.3L341.8,625.0L343.0,624.6L344.0,624.2L345.0,623.7L345.9,623.5L347.0,623.3L348.0,623.1L349.5,623.0L350.5,622.9L351.5,622.6L352.5,622.4L353.5,622.2L354.5,622.0L355.5,621.8L356.5,621.6L358.0,621.5L359.5,621.6L361.0,621.4L362.5,621.4L363.5,621.5L364.5,621.7L365.5,621.9L366.5,622.4L367.5,622.9L368.5,623.3L369.5,623.7L370.5,624.4L371.0,625.0L371.2,626.0L371.0,627.5L370.7,628.5L370.0,629.2L369.0,629.7L368.3,630.5L367.7,631.5L367.0,632.2L366.0,632.9L365.2,633.5L364.5,634.1L363.5,634.8L362.5,635.2L361.5,635.6L360.6,636.0L359.5,636.5L358.5,636.7L357.5,636.9L356.5,637.4L355.7,638.0L355.0,638.4L354.0,638.8L353.0,638.9L352.0,639.2L351.0,639.8L350.0,640.2L349.0,640.4L348.0,640.6L347.0,641.0L346.0,641.3L345.0,641.6L344.0,641.8L343.0,642.1L342.0,642.3L341.0,642.7L340.0,643.1L339.0,643.7L338.1,644.5L337.5,645.0L338.0,646.4L338.7,647.0L339.5,647.4L340.5,647.6L341.3,648.0L342.0,648.5L342.9,649.0L343.5,649.5L344.5,650.3L345.5,650.9L346.5,651.3L347.4,652.0L348.0,652.8L348.4,654.0L348.6,655.0L348.4,656.0L348.3,657.5L348.1,658.5L347.5,659.5L346.5,660.4L346.0,661.1L345.5,661.8L345.0,662.5L344.0,663.3L343.0,663.9L342.5,664.6L341.5,665.5L340.5,665.8L339.0,665.9L338.0,666.3L337.0,666.9L336.0,667.4L335.0,667.6L333.5,667.8L332.0,667.9L330.7,668.0L329.5,668.2L328.5,668.3L327.0,668.3L325.5,668.5L324.5,668.7L323.5,668.9L322.0,668.7L320.5,669.0L319.5,669.2L318.0,669.3L317.0,669.4L315.5,669.5L314.0,669.5L312.8,669.5L311.5,669.6L310.5,669.8L309.5,670.1L308.5,670.3L307.0,670.3L306.0,670.2L305.0,670.0L303.5,670.0L302.0,670.0L300.5,669.9L299.0,669.8L298.0,669.4L297.2,669.0L296.2,668.5L295.2,668.0L294.2,667.5L293.5,667.0M330.5,645.2L329.5,644.8L328.5,644.4L327.0,644.5L325.5,644.4L324.5,644.0L323.5,643.5L323.0,642.8L322.6,642.0L322.2,641.0L322.2,639.5L322.3,638.0L323.0,637.2L323.9,636.5L324.5,635.7L325.0,635.1L325.8,634.5L326.4,634.0L327.5,633.1L328.2,632.5L328.9,632.0L329.5,631.5L330.2,631.0L331.0,630.7L332.0,630.2L332.9,629.5L333.6,629.0L334.5,628.6L335.5,628.3L336.5,627.5L337.3,627.0L338.5,626.6L339.5,626.4L340.5,626.1L341.5,625.8L342.3,625.5L343.5,625.1L344.5,624.6L345.5,624.3L346.5,624.0L347.5,623.8L348.5,623.7L350.0,623.5L351.0,623.3L352.0,623.0L353.0,622.9L354.5,622.7L355.5,622.5L356.5,622.3L358.0,622.2L359.5,622.2L361.0,622.1L362.5,622.1L363.5,622.3L364.5,622.7L365.5,623.2L366.5,623.8L367.5,624.3L368.5,625.0L369.5,625.9L370.0,626.8L369.8,628.0L369.0,628.7L368.0,629.5L367.5,630.3L367.0,631.0L366.4,631.5L365.6,632.0L365.0,632.5L364.0,633.5L363.2,634.0L362.0,634.4L361.0,634.7L360.0,635.4L359.0,636.0L358.0,636.1L357.0,636.3L356.0,636.9L355.1,637.5L354.0,637.9L353.0,638.0L352.0,638.2L351.0,638.7L350.0,639.3L349.0,639.7L348.0,640.0L347.0,640.3L346.0,640.6L345.0,640.8L344.0,641.0L343.0,641.3L342.0,641.6L341.0,642.0L340.0,642.4L339.0,642.7L338.0,643.1L337.0,643.4L336.0,643.6L335.0,643.8L333.5,643.8L332.5,643.9L331.5,644.3L330.7,645.0ZM293.0,659.4L293.2,658.5L293.7,657.5L294.4,656.5L295.0,655.8L296.0,655.0L297.0,654.5L298.0,654.2L299.0,653.7L299.9,653.0L300.7,652.5L302.0,652.0L303.0,651.8L304.0,651.6L305.0,651.4L305.8,651.0L307.0,650.5L308.0,650.3L309.5,650.3L310.5,649.9L311.3,649.5L312.5,649.2L313.5,649.0L314.5,648.8L315.9,649.0L317.0,649.1L318.0,648.7L319.0,648.0L320.0,647.6L321.4,647.5L322.5,647.3L324.0,647.5L325.0,647.7L326.5,647.7L327.5,648.1L328.5,647.8L329.0,647.0L329.6,646.5L330.5,646.2L331.5,646.6L332.5,646.7L334.0,646.8L335.0,647.3L336.0,647.4L337.0,647.5L337.7,648.0L338.5,648.7L339.5,649.1L340.5,649.3L341.4,649.5L342.4,650.0L343.1,650.5L344.0,651.0L344.9,651.5L345.8,652.0L346.4,652.5L346.8,653.5L346.8,655.0L347.0,656.0L347.3,657.0L347.1,658.0L346.5,658.8L345.8,659.5L345.1,660.5L344.5,661.3L343.7,662.0L342.8,662.5L342.0,663.3L341.5,664.0L340.5,664.7L339.5,665.0L338.5,665.3L337.5,665.8L336.5,666.4L335.5,666.6L334.0,666.6L333.0,666.8L332.0,667.1L331.0,667.2L330.0,667.4L329.0,667.5L327.5,667.6L326.5,667.4L325.3,667.5L324.0,667.9L322.5,667.8L321.5,667.6L320.5,667.8L319.5,668.2L318.5,668.3L317.5,668.5L316.5,668.6L315.0,668.8L313.5,668.8L312.0,668.7L310.5,668.9L309.5,669.3L308.5,669.5L307.1,669.5L306.0,669.4L305.0,669.3L303.5,669.2L302.0,669.2L300.5,669.2L299.0,669.0L298.0,668.5L297.1,668.0L296.0,667.5L295.1,667.0L294.4,666.5L293.7,666.0L293.1,665.5M332.0,643.0L330.7,643.0L329.5,642.9L328.0,643.0L327.0,642.9L326.0,642.5L325.0,642.1L324.1,641.5L323.5,640.8L323.3,639.5L323.7,638.5L324.5,637.6L325.0,637.0L325.5,636.3L326.2,635.5L327.0,634.8L328.0,634.0L328.7,633.5L329.3,633.0L330.0,632.3L330.9,631.5L331.9,631.0L332.7,630.5L333.3,630.0L334.0,629.5L335.0,629.2L336.0,628.8L337.0,628.0L337.8,627.5L339.0,627.2L340.0,626.9L341.0,626.6L342.0,626.3L342.9,626.0L344.0,625.5L345.0,625.1L346.0,624.8L347.0,624.6L348.0,624.4L349.0,624.2L350.0,624.0L351.0,623.9L352.0,623.7L353.0,623.5L354.0,623.4L355.0,623.2L356.0,623.1L357.0,622.9L358.5,622.9L360.0,622.9L361.5,622.9L362.5,623.1L363.5,623.3L364.5,623.7L365.5,624.4L366.3,625.0L367.0,625.7L368.0,626.5L368.5,627.4L368.0,628.1L367.2,629.0L366.7,630.0L366.0,630.6L365.0,631.3L364.4,632.0L363.5,632.9L362.5,633.5L361.5,633.8L360.5,634.1L359.5,634.9L358.5,635.5L357.5,635.6L356.5,635.9L355.5,636.4L354.5,637.0L353.5,637.3L352.5,637.4L351.5,637.7L350.5,638.1L349.7,638.5L349.0,638.9L348.0,639.2L347.0,639.5L346.0,639.7L345.0,639.9L344.0,640.1L343.0,640.5L342.0,640.8L341.0,641.2L340.0,641.7L339.0,641.9L338.0,642.1L337.0,642.3L336.0,642.5L335.0,642.6L333.5,642.7L332.5,642.9ZM293.0,662.7L293.4,661.5L293.7,660.5L293.9,659.5L294.2,658.5L294.9,657.5L295.5,656.8L296.4,656.0L297.2,655.5L298.4,655.0L299.4,654.5L300.2,654.0L300.9,653.5L301.8,653.0L303.0,652.7L304.5,652.5L305.5,652.0L306.5,651.5L307.5,651.2L309.0,651.3L310.0,651.1L311.0,650.6L312.0,650.5L313.0,650.7L314.5,650.5L316.0,650.4L317.0,650.1L318.0,649.7L319.0,649.3L320.5,649.3L321.5,649.1L322.5,648.9L323.5,648.8L324.5,648.9L326.0,648.9L327.0,649.2L327.9,649.5L329.0,649.5L330.0,649.0L331.0,648.1L332.0,648.0L333.5,648.1L334.5,648.3L335.5,648.5L336.5,648.9L337.5,649.5L338.3,650.0L339.5,650.2L341.0,650.5L341.8,651.0L342.5,651.5L343.5,651.9L344.5,652.3L345.4,653.0L345.6,654.0L345.4,655.0L345.5,656.5L345.8,657.5L345.5,658.3L345.0,659.0L344.5,659.8L344.0,660.4L343.3,661.0L342.7,661.5L342.0,662.1L341.1,663.0L340.5,663.5L339.6,664.0L338.7,664.5L337.6,665.0L336.5,665.5L335.5,665.6L334.5,665.5L333.3,665.5L332.0,665.9L331.0,666.3L330.1,666.5L329.0,666.7L328.0,666.8L327.0,666.7L326.0,666.4L324.6,666.5L323.5,666.8L322.0,666.7L320.5,666.7L319.5,666.9L318.5,667.2L317.7,667.5L316.5,667.8L315.5,667.9L314.5,668.1L313.0,668.0L312.0,667.9L310.5,667.8L309.5,668.1L308.5,668.5L307.5,668.6L306.0,668.6L305.0,668.4L304.0,668.3L302.5,668.4L301.0,668.4L299.5,668.4L298.5,668.0L297.6,667.5L296.6,667.0L295.8,666.5L295.0,665.8L294.0,665.1L293.3,664.5M332.0,642.1L330.7,642.0L329.5,641.5L328.5,641.1L327.5,640.5L326.9,640.0L326.4,639.0L326.5,637.5L326.9,636.5L327.5,635.8L328.4,635.0L329.0,634.4L330.0,633.5L330.5,632.9L331.4,632.0L332.3,631.5L333.2,631.0L333.9,630.5L335.0,630.0L336.0,629.6L336.9,629.0L337.5,628.5L338.5,628.0L339.5,627.8L340.4,627.5L341.5,627.1L342.5,626.9L343.5,626.5L344.5,626.0L345.5,625.8L346.5,625.5L347.5,625.2L348.5,624.9L349.5,624.7L350.5,624.5L352.0,624.4L353.0,624.1L354.0,624.0L355.0,623.9L356.0,623.7L357.5,623.6L359.0,623.8L360.5,623.9L361.8,624.0L363.0,624.1L364.0,624.3L365.0,625.0L365.5,625.8L365.8,627.0L366.0,628.0L366.1,629.0L365.5,629.9L364.7,630.5L364.0,631.3L363.5,631.9L362.9,632.5L362.1,633.0L361.0,633.4L360.0,633.7L359.0,634.5L358.0,634.9L357.0,635.1L356.0,635.4L355.0,635.9L354.0,636.4L353.0,636.7L352.0,636.9L351.0,637.2L350.2,637.5L349.0,638.0L348.0,638.4L347.0,638.7L346.0,638.9L344.6,639.0L343.5,639.4L342.5,639.8L341.5,640.1L340.6,640.5L339.5,641.0L338.5,641.1L337.0,641.2L336.0,641.4L335.0,641.6L333.5,641.7L332.5,642.0ZM308.0,667.6L307.0,667.7L305.5,667.5L304.5,667.4L303.3,667.5L302.0,667.7L300.5,667.7L299.5,667.6L298.5,667.2L297.5,666.7L296.5,666.1L295.9,665.5L295.0,664.7L294.2,664.0L293.9,663.0L294.2,662.0L294.4,661.0L294.7,660.0L295.0,659.1L295.5,658.4L296.0,657.8L296.9,657.0L297.8,656.5L298.5,656.0L299.2,655.5L300.0,655.0L301.0,654.5L302.0,654.2L303.5,654.0L304.5,653.5L305.4,653.0L306.3,652.5L307.5,652.1L309.0,652.1L310.0,652.0L311.0,651.7L312.5,651.7L313.5,651.6L314.5,651.5L316.0,651.4L317.0,651.2L318.0,651.0L319.0,650.9L320.0,651.1L321.0,651.0L321.9,650.5L323.0,650.2L324.5,650.1L325.5,649.9L326.5,650.0L327.5,650.4L328.5,650.7L329.5,650.5L330.5,650.2L331.5,649.9L332.5,649.5L334.0,649.4L335.5,649.5L336.5,649.9L337.3,650.5L338.0,650.9L339.5,651.0L340.5,651.3L341.4,652.0L342.0,652.5L343.0,653.0L343.8,653.5L344.3,654.5L344.2,656.0L344.4,657.0L344.3,658.5L343.7,659.5L343.0,660.2L342.1,661.0L341.0,661.9L340.3,662.5L339.6,663.0L338.9,663.5L338.0,663.9L337.0,664.4L336.0,664.7L334.5,664.7L333.0,664.8L332.0,664.9L331.0,665.2L330.0,665.5L329.0,665.7L328.0,665.9L327.0,665.8L326.0,665.5L325.0,665.3L323.5,665.5L322.0,665.6L321.0,665.7L320.0,665.9L319.0,666.1L318.0,666.4L317.0,666.7L316.0,667.0L315.0,667.1L314.0,667.3L312.5,667.2L311.5,666.9L310.0,666.9L309.0,667.2L308.0,667.6ZM332.5,641.0L331.2,641.0L330.3,640.5L329.5,639.7L329.1,639.0L328.6,638.0L328.4,637.0L329.0,636.0L329.5,635.3L330.0,634.6L330.5,634.0L331.0,633.4L332.0,632.5L333.0,632.1L334.0,631.7L335.0,631.0L336.0,630.5L337.0,630.0L337.7,629.5L338.5,629.1L339.5,628.8L340.5,628.3L341.5,627.9L342.5,627.6L343.5,627.3L344.5,626.8L345.5,626.6L346.5,626.4L347.5,626.1L348.5,625.6L349.5,625.3L350.5,625.2L352.0,625.1L353.0,624.9L354.0,624.7L355.0,624.5L356.5,624.4L357.7,624.5L359.0,624.8L360.0,625.0L361.5,625.0L362.5,625.1L363.5,625.3L364.5,626.0L364.6,627.0L364.7,628.5L364.3,629.5L363.5,630.5L363.0,631.3L362.5,631.9L361.6,632.5L360.5,632.9L359.5,633.4L358.5,634.0L357.5,634.3L356.5,634.6L355.5,634.9L354.5,635.4L353.5,635.8L352.5,636.1L351.5,636.3L350.5,636.6L349.5,637.0L348.5,637.4L347.5,637.7L346.5,638.0L345.5,638.1L344.5,638.3L343.5,638.5L342.5,638.9L341.5,639.2L340.5,639.6L339.6,640.0L338.5,640.1L337.0,640.2L336.0,640.5L335.0,640.7L333.5,640.8L332.5,641.0ZM301.5,667.0L300.0,666.9L299.0,666.5L298.0,666.0L297.1,665.5L296.4,665.0L295.5,664.1L295.0,663.0L295.3,662.0L295.6,661.0L295.8,660.0L296.3,659.0L297.0,658.2L298.0,657.5L299.0,657.1L299.6,656.5L300.5,655.8L301.5,655.4L303.0,655.3L303.8,655.0L304.5,654.5L305.4,654.0L306.5,653.6L307.5,653.1L308.5,653.0L310.0,652.9L311.0,652.7L312.5,652.5L313.5,652.3L314.5,652.2L316.0,652.1L317.5,652.1L319.0,652.1L320.0,652.3L321.5,652.3L322.5,652.0L324.0,652.1L325.0,651.9L326.0,651.2L327.4,651.5L328.5,651.8L329.3,651.5L330.5,651.1L331.5,650.9L332.5,650.8L334.0,650.6L335.5,650.6L336.5,651.3L337.5,651.9L338.5,651.7L340.0,651.9L340.7,652.5L341.5,653.3L342.0,654.0L342.5,654.9L343.0,655.9L343.2,657.0L343.1,658.5L342.5,659.5L341.5,660.4L340.8,661.0L340.0,661.7L339.0,662.5L338.0,663.0L337.0,663.3L336.0,663.6L335.0,663.7L334.0,663.9L333.0,664.1L331.8,664.0L330.5,663.9L329.5,664.1L328.5,664.5L327.5,664.7L326.0,664.5L325.0,664.3L323.5,664.4L322.0,664.5L321.0,664.6L320.0,665.0L319.0,665.2L318.0,665.4L317.0,665.6L316.0,665.9L315.0,666.1L314.0,666.3L312.5,666.2L311.5,665.8L310.5,665.9L309.5,666.2L308.5,666.5L307.5,666.7L306.0,666.6L305.0,666.5L303.5,666.6L302.5,666.8L301.6,667.0ZM335.5,639.6L334.0,639.7L333.0,639.8L332.0,639.9L331.0,639.5L330.5,638.5L330.6,637.5L331.0,636.5L331.1,635.0L331.7,634.0L332.5,633.4L333.3,633.0L334.3,632.5L335.0,632.1L336.0,631.5L337.0,631.2L338.0,630.8L339.0,630.2L340.0,629.7L341.0,629.1L342.0,628.6L343.0,628.5L344.0,628.1L345.0,627.5L346.0,627.3L347.0,627.1L348.0,626.7L349.0,626.3L350.0,626.0L351.0,625.9L352.0,625.8L353.0,625.6L354.0,625.4L355.0,625.3L356.5,625.3L358.0,625.5L359.0,625.9L360.0,626.1L361.0,626.0L362.0,626.2L362.8,627.0L362.9,628.0L362.7,629.5L362.1,630.5L361.5,631.5L360.5,632.2L359.5,632.7L358.5,633.3L357.5,633.6L356.5,633.9L355.5,634.2L354.6,634.5L353.5,634.9L352.5,635.2L351.5,635.4L350.5,635.7L349.5,636.0L348.6,636.5L347.5,636.8L346.5,637.0L345.5,637.4L344.5,637.6L343.5,637.8L342.5,637.9L341.5,638.2L340.5,638.6L339.5,638.9L338.5,639.1L337.0,639.2L336.0,639.5ZM301.5,666.1L300.5,665.8L299.5,665.3L298.6,665.0L297.5,664.7L296.6,664.0L296.4,663.0L296.6,662.0L296.6,660.5L297.0,659.7L297.6,659.0L298.4,658.5L299.5,658.2L300.5,657.8L301.5,657.1L302.5,656.7L303.5,656.3L304.5,655.7L305.5,655.1L306.5,654.8L307.5,654.5L308.5,654.2L309.5,654.1L310.5,653.9L311.5,653.6L312.5,653.3L313.5,653.0L314.5,652.9L316.0,652.8L317.5,652.9L318.5,653.0L319.5,653.2L320.5,653.4L322.0,653.3L323.5,653.3L324.5,653.2L325.5,652.8L326.5,652.6L327.5,652.8L329.0,652.6L330.0,652.2L331.0,652.0L332.0,652.1L333.4,652.0L334.5,651.9L335.5,652.2L336.5,652.7L337.5,653.0L338.5,652.8L339.9,653.0L340.5,653.7L340.9,655.0L341.5,656.0L341.9,657.0L341.7,658.0L341.3,659.0L340.5,659.9L339.5,661.0L338.5,661.8L337.5,662.1L336.5,662.2L335.5,662.4L334.5,662.7L333.5,663.2L332.0,663.1L331.0,663.0L330.0,662.8L329.0,663.0L328.0,663.3L327.0,663.5L326.0,663.4L325.0,663.1L324.0,662.8L323.0,663.0L322.0,663.3L320.5,663.4L319.5,663.9L318.5,664.2L317.0,664.3L316.1,664.5L315.0,664.8L314.0,665.1L312.9,665.0L311.5,664.9L310.5,665.1L309.5,665.4L308.5,665.6L307.5,665.7L306.0,665.6L305.0,665.5L303.5,665.5L302.5,665.7L301.5,666.1ZM337.0,638.0L335.5,637.8L334.5,637.3L333.6,636.5L333.5,635.5L333.7,634.5L334.4,633.5L335.0,633.0L336.0,632.5L337.0,632.3L338.0,632.0L338.9,631.5L339.7,631.0L340.5,630.5L341.4,630.0L342.5,629.5L343.5,629.4L344.5,629.1L345.3,628.5L346.2,628.0L347.5,627.7L348.4,627.5L349.5,627.1L350.5,626.8L351.5,626.6L352.5,626.4L354.0,626.3L355.5,626.4L356.5,626.6L358.0,626.7L359.0,627.1L360.0,627.4L361.0,627.7L361.1,629.0L360.6,630.0L360.3,631.0L359.5,631.8L358.5,632.4L357.5,632.7L356.5,633.1L355.5,633.5L354.5,633.7L353.5,633.9L352.5,634.3L351.5,634.5L350.5,634.6L349.5,634.8L348.5,635.4L347.5,635.8L346.5,635.9L345.5,636.5L344.5,636.9L343.0,636.9L341.5,637.1L340.5,637.4L339.5,637.5L338.0,637.6L337.0,638.0ZM310.0,664.5L309.0,664.7L307.5,664.6L306.5,664.5L305.5,664.4L304.5,664.2L303.0,664.4L302.0,664.3L301.0,663.9L300.2,663.5L299.6,663.0L298.5,662.5L298.0,661.8L297.8,660.5L298.5,659.7L299.5,659.2L300.4,659.0L301.5,658.5L302.5,658.1L303.5,657.6L304.5,657.1L305.4,656.5L306.1,656.0L307.0,655.7L308.0,655.6L309.5,655.6L310.7,655.5L311.8,655.0L312.5,654.4L313.2,654.0L314.5,653.8L316.0,653.7L317.5,653.8L318.4,654.0L319.4,654.5L320.5,654.9L321.5,654.8L323.0,654.9L324.0,654.7L325.0,654.0L326.0,653.7L327.5,653.7L329.0,653.7L330.0,653.4L331.0,653.2L332.0,653.4L333.5,653.3L334.5,653.1L335.5,653.3L336.5,653.8L337.5,654.5L338.0,655.2L338.5,656.5L339.4,657.5L339.2,658.5L339.1,659.5L338.6,660.5L337.7,661.0L336.5,661.2L335.0,661.3L334.0,661.7L333.0,662.2L331.5,662.1L330.5,661.8L329.0,661.9L328.0,662.1L327.0,661.9L326.0,661.8L325.0,661.2L324.0,660.8L323.0,661.0L322.0,661.5L321.0,661.7L320.2,662.0L319.5,662.4L318.5,662.9L317.5,663.0L316.0,663.1L315.0,663.5L314.0,663.9L313.0,664.0L311.5,664.1L310.5,664.4ZM340.5,636.0L339.4,636.0L338.5,635.5L338.1,634.5L338.5,633.7L339.0,633.1L339.6,632.5L340.2,632.0L340.9,631.5L341.7,631.0L342.5,630.6L343.5,630.4L345.0,630.3L346.0,629.9L346.9,629.0L348.0,628.7L349.0,628.4L350.0,627.9L351.0,627.5L352.0,627.2L353.5,627.2L354.5,627.3L355.5,627.7L356.3,628.0L357.5,628.2L358.5,628.3L359.1,629.0L359.0,630.1L358.5,630.8L357.5,631.2L356.5,631.9L355.6,632.5L354.5,632.7L353.5,632.8L352.5,633.4L351.5,633.7L350.0,633.7L349.1,634.0L348.0,634.5L347.0,634.6L346.0,634.7L345.0,635.5L344.0,635.8L343.0,635.6L341.5,635.7L340.6,636.0ZM336.5,636.4L335.7,636.0L335.7,634.5L336.5,633.9L336.7,635.0L336.5,636.4ZM333.0,660.7L332.0,660.8L331.1,660.5L330.0,660.2L328.5,660.1L327.5,659.8L326.0,659.6L325.0,659.3L324.0,659.0L324.5,658.2L325.5,657.8L326.2,657.0L325.9,656.0L326.1,655.0L327.0,654.8L328.0,655.0L328.6,655.5L329.5,656.2L330.3,655.5L331.0,655.0L332.3,655.0L333.5,654.9L334.2,654.5L335.4,654.5L336.0,655.0L336.5,655.6L337.0,656.5L337.5,657.3L337.8,658.5L337.6,659.5L336.9,660.0L336.0,660.2L334.5,660.2L333.5,660.5ZM310.0,663.6L308.8,663.5L307.6,663.0L306.9,662.5L306.0,662.1L306.5,661.0L306.6,659.5L306.8,658.5L307.2,657.5L308.0,657.2L309.3,657.0L310.5,656.6L311.5,656.4L313.0,656.4L314.0,656.1L315.0,655.7L316.0,655.1L317.4,655.5L318.0,656.4L319.0,657.0L319.9,657.5L320.5,658.4L320.1,659.5L319.5,660.2L319.0,660.8L318.0,661.5L317.0,661.6L315.5,661.5L314.4,661.5L313.6,662.0L312.5,662.7L311.5,663.1L310.5,663.5ZM303.0,662.7L302.0,662.6L302.5,661.6L303.3,662.0ZM343.5,634.0L342.0,633.7L341.5,633.0L342.0,632.3L342.8,632.0L344.0,631.8L344.8,631.5L346.0,631.1L347.0,630.6L347.9,630.0L349.0,629.7L350.0,629.2L350.9,628.5L352.0,628.2L353.5,628.2L354.5,628.4L355.5,629.0L355.9,630.0L355.5,630.7L354.5,631.2L353.0,631.4L352.3,632.0L351.5,632.6L350.0,632.7L349.0,633.0L348.0,633.4L346.5,633.4L345.0,633.5L344.0,633.9ZM312.0,660.5L311.1,660.0L310.5,659.4L310.5,658.3L311.5,657.6L312.5,657.8L313.5,657.9L314.5,658.2L315.5,658.4L316.5,658.1L317.4,659.0L317.0,660.0L316.0,659.7L315.0,659.5L314.0,659.9L313.0,660.3L312.0,660.5Z" fill="none" stroke="#000" stroke-width="0.6"/>
<path d="M43,683 Q43,678.8 49,678.8 L82,678.8 Q87,678.8 87,683Z" fill="#000"/>
<path d="M126.5,683 Q126.5,678.8 132.5,678.8 L165,678.8 Q170,678.8 170,683Z" fill="#000"/>
<path d="M210,683 Q210,678.8 216,678.8 L247,678.8 Q252,678.8 252,683Z" fill="#000"/>
<ellipse cx="346" cy="681.3" rx="21" ry="1.5" transform="rotate(0 346 681.3)" fill="#333" opacity="0.6" filter="url(#b05)"/>
<ellipse cx="85.5" cy="631.5" rx="5.5" ry="1.2" transform="rotate(-20 85.5 631.5)" fill="#e8e8e8" opacity="1" filter="url(#b05)"/>
<ellipse cx="62.5" cy="665.5" rx="5" ry="1.5" transform="rotate(-5 62.5 665.5)" fill="#d8d8d8" opacity="1" filter="url(#b05)"/>
<ellipse cx="53" cy="668.5" rx="3" ry="1.3" transform="rotate(0 53 668.5)" fill="#999" opacity="1" filter="url(#b05)"/>
<ellipse cx="169" cy="634.5" rx="6" ry="1.2" transform="rotate(-29 169 634.5)" fill="#e8e8e8" opacity="1" filter="url(#b05)"/>
<ellipse cx="146" cy="667.5" rx="5.5" ry="1.6" transform="rotate(-8 146 667.5)" fill="#cccccc" opacity="1" filter="url(#b05)"/>
<ellipse cx="158" cy="664" rx="3" ry="1.2" transform="rotate(-8 158 664)" fill="#999" opacity="1" filter="url(#b05)"/>
<ellipse cx="254.5" cy="634" rx="6" ry="1.2" transform="rotate(-18 254.5 634)" fill="#e4e4e4" opacity="1" filter="url(#b05)"/>
<ellipse cx="229.5" cy="665" rx="5.5" ry="1.5" transform="rotate(-3 229.5 665)" fill="#cccccc" opacity="1" filter="url(#b05)"/>
<ellipse cx="240" cy="664" rx="3" ry="1.2" transform="rotate(0 240 664)" fill="#999" opacity="1" filter="url(#b05)"/>
<ellipse cx="349" cy="631.5" rx="5.5" ry="1.3" transform="rotate(-14 349 631.5)" fill="#e4e4e4" opacity="1" filter="url(#b05)"/>
<ellipse cx="314" cy="658.5" rx="4.5" ry="1.3" transform="rotate(-7 314 658.5)" fill="#cccccc" opacity="1" filter="url(#b05)"/>
<ellipse cx="333" cy="657.5" rx="4" ry="1.3" transform="rotate(-7 333 657.5)" fill="#d8d8d8" opacity="1" filter="url(#b05)"/>
<text x="38.2" y="611.4" font-size="7.4" font-weight="bold">47.2±0.75</text>
<text x="113" y="611.4" font-size="7.4" font-weight="bold" text-anchor="end">MFI=33.5</text>
<text x="123.9" y="611.4" font-size="7.4" font-weight="bold">38.4±0.2</text>
<text x="200.5" y="611.4" font-size="7.4" font-weight="bold" text-anchor="end">MFI=21.4</text>
<text x="208.9" y="611.4" font-size="7.4" font-weight="bold">41.6±1.57</text>
<text x="284.8" y="611.4" font-size="7.4" font-weight="bold" text-anchor="end">MFI=21.6</text>
<text x="295.1" y="611.4" font-size="7.4" font-weight="bold">51.3±1.59</text>
<text x="371.5" y="611.4" font-size="7.4" font-weight="bold" text-anchor="end">MFI=70.2</text>
</svg></body></html>
